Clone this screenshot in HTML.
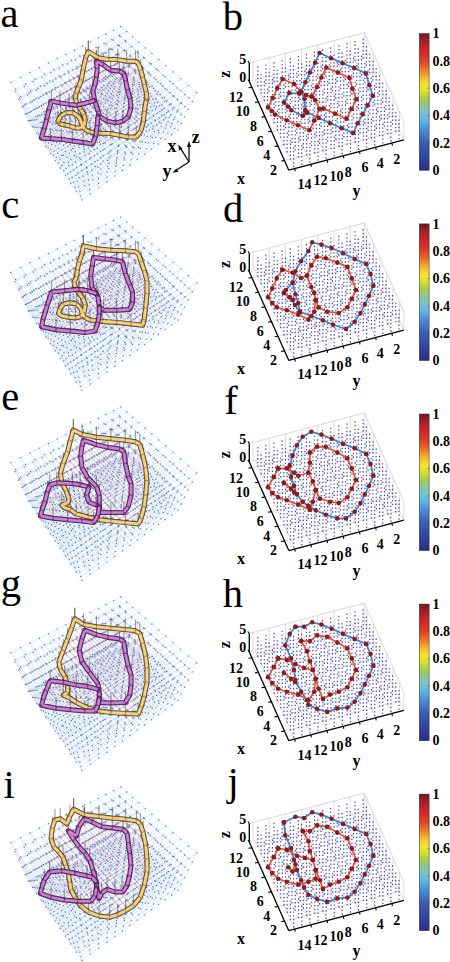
<!DOCTYPE html><html><head><meta charset="utf-8"><style>html,body{margin:0;padding:0;background:#fff;width:450px;height:962px;overflow:hidden}svg{display:block}</style></head><body><svg width="450" height="962" viewBox="0 0 450 962"><defs><linearGradient id="jet" x1="0" y1="1" x2="0" y2="0"><stop offset="0" stop-color="#2b2e84"/><stop offset="0.1" stop-color="#3244a0"/><stop offset="0.2" stop-color="#3a5cb2"/><stop offset="0.3" stop-color="#4c8ed6"/><stop offset="0.36" stop-color="#5cb4e4"/><stop offset="0.42" stop-color="#7cc4cc"/><stop offset="0.47" stop-color="#8cc598"/><stop offset="0.52" stop-color="#a6cb4c"/><stop offset="0.57" stop-color="#d6de30"/><stop offset="0.62" stop-color="#f2e62c"/><stop offset="0.67" stop-color="#f5c030"/><stop offset="0.72" stop-color="#ee8a2a"/><stop offset="0.77" stop-color="#e2582a"/><stop offset="0.82" stop-color="#d83a26"/><stop offset="0.88" stop-color="#d02428"/><stop offset="0.94" stop-color="#a81e26"/><stop offset="1" stop-color="#6e1a1e"/></linearGradient></defs><text x="0.6" y="26.6" font-family="Liberation Serif" font-size="40.5">a</text><text x="222.8" y="29.6" font-family="Liberation Serif" font-size="40.5">b</text><text x="1.2" y="218.4" font-family="Liberation Serif" font-size="40.5">c</text><text x="223" y="222" font-family="Liberation Serif" font-size="40.5">d</text><text x="1.2" y="409.6" font-family="Liberation Serif" font-size="40.5">e</text><text x="224.2" y="414.4" font-family="Liberation Serif" font-size="40.5">f</text><text x="0.8" y="596.8" font-family="Liberation Serif" font-size="40.5">g</text><text x="222.8" y="606.8" font-family="Liberation Serif" font-size="40.5">h</text><text x="3.4" y="797.5" font-family="Liberation Serif" font-size="40.5">i</text><text x="227.4" y="794.8" font-family="Liberation Serif" font-size="40.5">j</text><g stroke="#111" stroke-width="1.3" fill="#111"><line x1="189" y1="162" x2="189" y2="145"/><path d="M189 141 L186.9 147 L191.1 147Z" stroke="none"/><line x1="189" y1="162" x2="180.3" y2="147.8"/><path d="M178.3 144.5 L178.9 150.8 L182.4 148.6Z" stroke="none"/><line x1="189" y1="162" x2="176" y2="170.3"/><path d="M172.5 172.5 L178.6 172 L176.4 168.5Z" stroke="none"/></g><text x="195.8" y="143" font-family="Liberation Serif" font-weight="bold" font-size="18" text-anchor="middle">z</text><text x="172" y="151.5" font-family="Liberation Serif" font-weight="bold" font-size="18" text-anchor="middle">x</text><text x="167" y="176.5" font-family="Liberation Serif" font-weight="bold" font-size="18" text-anchor="middle">y</text><g><line x1="399.57" y1="130.28" x2="284.55" y2="160.66" stroke="#d4d4d4" stroke-width="0.8"/><line x1="393.04" y1="115.62" x2="278.02" y2="146" stroke="#d4d4d4" stroke-width="0.8"/><line x1="386.52" y1="100.96" x2="271.5" y2="131.34" stroke="#d4d4d4" stroke-width="0.8"/><line x1="379.99" y1="86.3" x2="264.97" y2="116.68" stroke="#d4d4d4" stroke-width="0.8"/><line x1="373.46" y1="71.64" x2="258.44" y2="102.02" stroke="#d4d4d4" stroke-width="0.8"/><line x1="366.93" y1="56.98" x2="251.91" y2="87.36" stroke="#d4d4d4" stroke-width="0.8"/><line x1="391.91" y1="142.95" x2="352.41" y2="54.26" stroke="#d4d4d4" stroke-width="0.8"/><line x1="375.71" y1="147.23" x2="336.21" y2="58.54" stroke="#d4d4d4" stroke-width="0.8"/><line x1="359.51" y1="151.51" x2="320.01" y2="62.82" stroke="#d4d4d4" stroke-width="0.8"/><line x1="343.31" y1="155.79" x2="303.81" y2="67.1" stroke="#d4d4d4" stroke-width="0.8"/><line x1="327.11" y1="160.07" x2="287.61" y2="71.38" stroke="#d4d4d4" stroke-width="0.8"/><line x1="310.91" y1="164.35" x2="271.41" y2="75.66" stroke="#d4d4d4" stroke-width="0.8"/><line x1="294.71" y1="168.63" x2="255.21" y2="79.94" stroke="#d4d4d4" stroke-width="0.8"/><line x1="350.21" y1="54.26" x2="350.21" y2="35.76" stroke="#d4d4d4" stroke-width="0.8"/><line x1="334.01" y1="58.54" x2="334.01" y2="40.04" stroke="#d4d4d4" stroke-width="0.8"/><line x1="317.81" y1="62.82" x2="317.81" y2="44.32" stroke="#d4d4d4" stroke-width="0.8"/><line x1="301.61" y1="67.1" x2="301.61" y2="48.6" stroke="#d4d4d4" stroke-width="0.8"/><line x1="285.41" y1="71.38" x2="285.41" y2="52.88" stroke="#d4d4d4" stroke-width="0.8"/><line x1="269.21" y1="75.66" x2="269.21" y2="57.16" stroke="#d4d4d4" stroke-width="0.8"/><line x1="253.01" y1="79.94" x2="253.01" y2="61.44" stroke="#d4d4d4" stroke-width="0.8"/><line x1="399.57" y1="130.28" x2="399.57" y2="111.78" stroke="#d4d4d4" stroke-width="0.8"/><line x1="393.04" y1="115.62" x2="393.04" y2="97.12" stroke="#d4d4d4" stroke-width="0.8"/><line x1="386.52" y1="100.96" x2="386.52" y2="82.46" stroke="#d4d4d4" stroke-width="0.8"/><line x1="379.99" y1="86.3" x2="379.99" y2="67.8" stroke="#d4d4d4" stroke-width="0.8"/><line x1="373.46" y1="71.64" x2="373.46" y2="53.14" stroke="#d4d4d4" stroke-width="0.8"/><line x1="366.93" y1="56.98" x2="366.93" y2="38.48" stroke="#d4d4d4" stroke-width="0.8"/><line x1="249.3" y1="63" x2="364.32" y2="32.61" stroke="#d4d4d4" stroke-width="0.9"/><line x1="364.32" y1="32.61" x2="403.81" y2="121.31" stroke="#d4d4d4" stroke-width="0.9"/><line x1="249.3" y1="81.5" x2="364.32" y2="51.11" stroke="#d4d4d4" stroke-width="0.8"/><line x1="364.32" y1="51.11" x2="403.81" y2="139.81" stroke="#d4d4d4" stroke-width="0.8"/><line x1="364.32" y1="51.11" x2="364.32" y2="32.61" stroke="#d4d4d4" stroke-width="0.8"/><line x1="403.81" y1="139.81" x2="403.81" y2="121.31" stroke="#d4d4d4" stroke-width="0.8"/><path d="M398.43 138.61h1.2M398.43 134.91h1.2M398.43 131.21h1.2M398.43 127.51h1.2M398.43 123.81h1.2M398.43 120.11h1.2M390.33 140.75h1.2M390.33 137.05h1.2M390.33 133.35h1.2M390.33 129.65h1.2M390.33 125.95h1.2M390.33 122.25h1.2M382.23 142.89h1.2M382.23 139.19h1.2M382.23 135.49h1.2M382.23 131.79h1.2M382.23 128.09h1.2M382.23 124.39h1.2M374.13 145.03h1.2M374.13 141.33h1.2M374.13 137.63h1.2M374.13 133.93h1.2M374.13 130.23h1.2M374.13 126.53h1.2M366.03 147.17h1.2M366.03 143.47h1.2M366.03 139.77h1.2M366.03 136.07h1.2M366.03 132.37h1.2M366.03 128.67h1.2M357.93 149.31h1.2M357.93 145.61h1.2M357.93 141.91h1.2M357.93 138.21h1.2M357.93 134.51h1.2M357.93 130.81h1.2M349.83 151.45h1.2M349.83 147.75h1.2M349.83 144.05h1.2M349.83 140.35h1.2M349.83 136.65h1.2M349.83 132.95h1.2M341.73 153.59h1.2M341.73 149.89h1.2M341.73 146.19h1.2M341.73 142.49h1.2M341.73 138.79h1.2M341.73 135.09h1.2M333.63 155.73h1.2M333.63 152.03h1.2M333.63 148.33h1.2M333.63 144.63h1.2M333.63 140.93h1.2M333.63 137.23h1.2M325.53 157.87h1.2M325.53 154.17h1.2M325.53 150.47h1.2M325.53 146.77h1.2M325.53 143.07h1.2M325.53 139.37h1.2M317.43 160.01h1.2M317.43 156.31h1.2M317.43 152.61h1.2M317.43 148.91h1.2M317.43 145.21h1.2M317.43 141.51h1.2M309.33 162.15h1.2M309.33 158.45h1.2M309.33 154.75h1.2M309.33 151.05h1.2M309.33 147.35h1.2M309.33 143.65h1.2M301.23 164.29h1.2M301.23 160.59h1.2M301.23 156.89h1.2M301.23 153.19h1.2M301.23 149.49h1.2M301.23 145.79h1.2M293.13 166.43h1.2M293.13 162.73h1.2M293.13 159.03h1.2M293.13 155.33h1.2M293.13 151.63h1.2M293.13 147.93h1.2M395.16 131.28h1.2M395.16 127.58h1.2M395.16 123.88h1.2M395.16 120.18h1.2M395.16 116.48h1.2M395.16 112.78h1.2M387.06 133.42h1.2M387.06 129.72h1.2M387.06 126.02h1.2M387.06 122.32h1.2M387.06 118.62h1.2M387.06 114.92h1.2M378.96 135.56h1.2M378.96 131.86h1.2M378.96 128.16h1.2M378.96 124.46h1.2M378.96 120.76h1.2M378.96 117.06h1.2M370.86 137.7h1.2M370.86 134h1.2M370.86 130.3h1.2M370.86 126.6h1.2M370.86 122.9h1.2M370.86 119.2h1.2M362.76 139.84h1.2M362.76 136.14h1.2M362.76 132.44h1.2M362.76 128.74h1.2M362.76 125.04h1.2M362.76 121.34h1.2M354.66 141.98h1.2M354.66 138.28h1.2M354.66 134.58h1.2M354.66 130.88h1.2M354.66 127.18h1.2M354.66 123.48h1.2M346.56 144.12h1.2M346.56 140.42h1.2M346.56 136.72h1.2M346.56 133.02h1.2M346.56 129.32h1.2M346.56 125.62h1.2M338.46 146.26h1.2M338.46 142.56h1.2M338.46 138.86h1.2M338.46 135.16h1.2M338.46 131.46h1.2M338.46 127.76h1.2M330.36 148.4h1.2M330.36 144.7h1.2M330.36 141h1.2M330.36 137.3h1.2M330.36 133.6h1.2M330.36 129.9h1.2M322.26 150.54h1.2M322.26 146.84h1.2M322.26 143.14h1.2M322.26 139.44h1.2M322.26 135.74h1.2M322.26 132.04h1.2M314.16 152.68h1.2M314.16 148.98h1.2M314.16 145.28h1.2M314.16 141.58h1.2M314.16 137.88h1.2M314.16 134.18h1.2M306.06 154.82h1.2M306.06 151.12h1.2M306.06 147.42h1.2M306.06 143.72h1.2M306.06 140.02h1.2M306.06 136.32h1.2M297.96 156.96h1.2M297.96 153.26h1.2M297.96 149.56h1.2M297.96 145.86h1.2M297.96 142.16h1.2M297.96 138.46h1.2M289.86 159.1h1.2M289.86 155.4h1.2M289.86 151.7h1.2M289.86 148h1.2M289.86 144.3h1.2M289.86 140.6h1.2M391.9 123.95h1.2M391.9 120.25h1.2M391.9 116.55h1.2M391.9 112.85h1.2M391.9 109.15h1.2M391.9 105.45h1.2M383.8 126.09h1.2M383.8 122.39h1.2M383.8 118.69h1.2M383.8 114.99h1.2M383.8 111.29h1.2M383.8 107.59h1.2M375.7 128.23h1.2M375.7 124.53h1.2M375.7 120.83h1.2M375.7 117.13h1.2M375.7 113.43h1.2M375.7 109.73h1.2M367.6 130.37h1.2M367.6 126.67h1.2M367.6 122.97h1.2M367.6 119.27h1.2M367.6 115.57h1.2M367.6 111.87h1.2M359.5 132.51h1.2M359.5 128.81h1.2M359.5 125.11h1.2M359.5 121.41h1.2M359.5 117.71h1.2M359.5 114.01h1.2M351.4 134.65h1.2M351.4 130.95h1.2M351.4 127.25h1.2M351.4 123.55h1.2M351.4 119.85h1.2M351.4 116.15h1.2M343.3 136.79h1.2M343.3 133.09h1.2M343.3 129.39h1.2M343.3 125.69h1.2M343.3 121.99h1.2M343.3 118.29h1.2M335.2 138.93h1.2M335.2 135.23h1.2M335.2 131.53h1.2M335.2 127.83h1.2M335.2 124.13h1.2M335.2 120.43h1.2M327.1 141.07h1.2M327.1 137.37h1.2M327.1 133.67h1.2M327.1 129.97h1.2M327.1 126.27h1.2M327.1 122.57h1.2M319 143.21h1.2M319 139.51h1.2M319 135.81h1.2M319 132.11h1.2M319 128.41h1.2M319 124.71h1.2M310.9 145.35h1.2M310.9 141.65h1.2M310.9 137.95h1.2M310.9 134.25h1.2M310.9 130.55h1.2M310.9 126.85h1.2M302.8 147.49h1.2M302.8 143.79h1.2M302.8 140.09h1.2M302.8 136.39h1.2M302.8 132.69h1.2M302.8 128.99h1.2M294.7 149.63h1.2M294.7 145.93h1.2M294.7 142.23h1.2M294.7 138.53h1.2M294.7 134.83h1.2M294.7 131.13h1.2M286.6 151.77h1.2M286.6 148.07h1.2M286.6 144.37h1.2M286.6 140.67h1.2M286.6 136.97h1.2M286.6 133.27h1.2M388.64 116.62h1.2M388.64 112.92h1.2M388.64 109.22h1.2M388.64 105.52h1.2M388.64 101.82h1.2M388.64 98.12h1.2M380.54 118.76h1.2M380.54 115.06h1.2M380.54 111.36h1.2M380.54 107.66h1.2M380.54 103.96h1.2M380.54 100.26h1.2M372.44 120.9h1.2M372.44 117.2h1.2M372.44 113.5h1.2M372.44 109.8h1.2M372.44 106.1h1.2M372.44 102.4h1.2M364.34 123.04h1.2M364.34 119.34h1.2M364.34 115.64h1.2M364.34 111.94h1.2M364.34 108.24h1.2M364.34 104.54h1.2M356.24 125.18h1.2M356.24 121.48h1.2M356.24 117.78h1.2M356.24 114.08h1.2M356.24 110.38h1.2M356.24 106.68h1.2M348.14 127.32h1.2M348.14 123.62h1.2M348.14 119.92h1.2M348.14 116.22h1.2M348.14 112.52h1.2M348.14 108.82h1.2M340.04 129.46h1.2M340.04 125.76h1.2M340.04 122.06h1.2M340.04 118.36h1.2M340.04 114.66h1.2M340.04 110.96h1.2M331.94 131.6h1.2M331.94 127.9h1.2M331.94 124.2h1.2M331.94 120.5h1.2M331.94 116.8h1.2M331.94 113.1h1.2M323.84 133.74h1.2M323.84 130.04h1.2M323.84 126.34h1.2M323.84 122.64h1.2M323.84 118.94h1.2M323.84 115.24h1.2M315.74 135.88h1.2M315.74 132.18h1.2M315.74 128.48h1.2M315.74 124.78h1.2M315.74 121.08h1.2M315.74 117.38h1.2M307.64 138.02h1.2M307.64 134.32h1.2M307.64 130.62h1.2M307.64 126.92h1.2M307.64 123.22h1.2M307.64 119.52h1.2M299.54 140.16h1.2M299.54 136.46h1.2M299.54 132.76h1.2M299.54 129.06h1.2M299.54 125.36h1.2M299.54 121.66h1.2M291.44 142.3h1.2M291.44 138.6h1.2M291.44 134.9h1.2M291.44 131.2h1.2M291.44 127.5h1.2M291.44 123.8h1.2M283.34 144.44h1.2M283.34 140.74h1.2M283.34 137.04h1.2M283.34 133.34h1.2M283.34 129.64h1.2M283.34 125.94h1.2M385.37 109.29h1.2M385.37 105.59h1.2M385.37 101.89h1.2M385.37 98.19h1.2M385.37 94.49h1.2M385.37 90.79h1.2M377.27 111.43h1.2M377.27 107.73h1.2M377.27 104.03h1.2M377.27 100.33h1.2M377.27 96.63h1.2M377.27 92.93h1.2M369.17 113.57h1.2M369.17 109.87h1.2M369.17 106.17h1.2M369.17 102.47h1.2M369.17 98.77h1.2M369.17 95.07h1.2M361.07 115.71h1.2M361.07 112.01h1.2M361.07 108.31h1.2M361.07 104.61h1.2M361.07 100.91h1.2M361.07 97.21h1.2M352.97 117.85h1.2M352.97 114.15h1.2M352.97 110.45h1.2M352.97 106.75h1.2M352.97 103.05h1.2M352.97 99.35h1.2M344.87 119.99h1.2M344.87 116.29h1.2M344.87 112.59h1.2M344.87 108.89h1.2M344.87 105.19h1.2M344.87 101.49h1.2M336.77 122.13h1.2M336.77 118.43h1.2M336.77 114.73h1.2M336.77 111.03h1.2M336.77 107.33h1.2M336.77 103.63h1.2M328.67 124.27h1.2M328.67 120.57h1.2M328.67 116.87h1.2M328.67 113.17h1.2M328.67 109.47h1.2M328.67 105.77h1.2M320.57 126.41h1.2M320.57 122.71h1.2M320.57 119.01h1.2M320.57 115.31h1.2M320.57 111.61h1.2M320.57 107.91h1.2M312.47 128.55h1.2M312.47 124.85h1.2M312.47 121.15h1.2M312.47 117.45h1.2M312.47 113.75h1.2M312.47 110.05h1.2M304.37 130.69h1.2M304.37 126.99h1.2M304.37 123.29h1.2M304.37 119.59h1.2M304.37 115.89h1.2M304.37 112.19h1.2M296.27 132.83h1.2M296.27 129.13h1.2M296.27 125.43h1.2M296.27 121.73h1.2M296.27 118.03h1.2M296.27 114.33h1.2M288.17 134.97h1.2M288.17 131.27h1.2M288.17 127.57h1.2M288.17 123.87h1.2M288.17 120.17h1.2M288.17 116.47h1.2M280.07 137.11h1.2M280.07 133.41h1.2M280.07 129.71h1.2M280.07 126.01h1.2M280.07 122.31h1.2M280.07 118.61h1.2M382.11 101.96h1.2M382.11 98.26h1.2M382.11 94.56h1.2M382.11 90.86h1.2M382.11 87.16h1.2M382.11 83.46h1.2M374.01 104.1h1.2M374.01 100.4h1.2M374.01 96.7h1.2M374.01 93h1.2M374.01 89.3h1.2M374.01 85.6h1.2M365.91 106.24h1.2M365.91 102.54h1.2M365.91 98.84h1.2M365.91 95.14h1.2M365.91 91.44h1.2M365.91 87.74h1.2M357.81 108.38h1.2M357.81 104.68h1.2M357.81 100.98h1.2M357.81 97.28h1.2M357.81 93.58h1.2M357.81 89.88h1.2M349.71 110.52h1.2M349.71 106.82h1.2M349.71 103.12h1.2M349.71 99.42h1.2M349.71 95.72h1.2M349.71 92.02h1.2M341.61 112.66h1.2M341.61 108.96h1.2M341.61 105.26h1.2M341.61 101.56h1.2M341.61 97.86h1.2M341.61 94.16h1.2M333.51 114.8h1.2M333.51 111.1h1.2M333.51 107.4h1.2M333.51 103.7h1.2M333.51 100h1.2M333.51 96.3h1.2M325.41 116.94h1.2M325.41 113.24h1.2M325.41 109.54h1.2M325.41 105.84h1.2M325.41 102.14h1.2M325.41 98.44h1.2M317.31 119.08h1.2M317.31 115.38h1.2M317.31 111.68h1.2M317.31 107.98h1.2M317.31 104.28h1.2M317.31 100.58h1.2M309.21 121.22h1.2M309.21 117.52h1.2M309.21 113.82h1.2M309.21 110.12h1.2M309.21 106.42h1.2M309.21 102.72h1.2M301.11 123.36h1.2M301.11 119.66h1.2M301.11 115.96h1.2M301.11 112.26h1.2M301.11 108.56h1.2M301.11 104.86h1.2M293.01 125.5h1.2M293.01 121.8h1.2M293.01 118.1h1.2M293.01 114.4h1.2M293.01 110.7h1.2M293.01 107h1.2M284.91 127.64h1.2M284.91 123.94h1.2M284.91 120.24h1.2M284.91 116.54h1.2M284.91 112.84h1.2M284.91 109.14h1.2M276.81 129.78h1.2M276.81 126.08h1.2M276.81 122.38h1.2M276.81 118.68h1.2M276.81 114.98h1.2M276.81 111.28h1.2M378.84 94.63h1.2M378.84 90.93h1.2M378.84 87.23h1.2M378.84 83.53h1.2M378.84 79.83h1.2M378.84 76.13h1.2M370.74 96.77h1.2M370.74 93.07h1.2M370.74 89.37h1.2M370.74 85.67h1.2M370.74 81.97h1.2M370.74 78.27h1.2M362.64 98.91h1.2M362.64 95.21h1.2M362.64 91.51h1.2M362.64 87.81h1.2M362.64 84.11h1.2M362.64 80.41h1.2M354.54 101.05h1.2M354.54 97.35h1.2M354.54 93.65h1.2M354.54 89.95h1.2M354.54 86.25h1.2M354.54 82.55h1.2M346.44 103.19h1.2M346.44 99.49h1.2M346.44 95.79h1.2M346.44 92.09h1.2M346.44 88.39h1.2M346.44 84.69h1.2M338.34 105.33h1.2M338.34 101.63h1.2M338.34 97.93h1.2M338.34 94.23h1.2M338.34 90.53h1.2M338.34 86.83h1.2M330.24 107.47h1.2M330.24 103.77h1.2M330.24 100.07h1.2M330.24 96.37h1.2M330.24 92.67h1.2M330.24 88.97h1.2M322.14 109.61h1.2M322.14 105.91h1.2M322.14 102.21h1.2M322.14 98.51h1.2M322.14 94.81h1.2M322.14 91.11h1.2M314.04 111.75h1.2M314.04 108.05h1.2M314.04 104.35h1.2M314.04 100.65h1.2M314.04 96.95h1.2M314.04 93.25h1.2M305.94 113.89h1.2M305.94 110.19h1.2M305.94 106.49h1.2M305.94 102.79h1.2M305.94 99.09h1.2M305.94 95.39h1.2M297.84 116.03h1.2M297.84 112.33h1.2M297.84 108.63h1.2M297.84 104.93h1.2M297.84 101.23h1.2M297.84 97.53h1.2M289.74 118.17h1.2M289.74 114.47h1.2M289.74 110.77h1.2M289.74 107.07h1.2M289.74 103.37h1.2M289.74 99.67h1.2M281.64 120.31h1.2M281.64 116.61h1.2M281.64 112.91h1.2M281.64 109.21h1.2M281.64 105.51h1.2M281.64 101.81h1.2M273.54 122.45h1.2M273.54 118.75h1.2M273.54 115.05h1.2M273.54 111.35h1.2M273.54 107.65h1.2M273.54 103.95h1.2M375.58 87.3h1.2M375.58 83.6h1.2M375.58 79.9h1.2M375.58 76.2h1.2M375.58 72.5h1.2M375.58 68.8h1.2M367.48 89.44h1.2M367.48 85.74h1.2M367.48 82.04h1.2M367.48 78.34h1.2M367.48 74.64h1.2M367.48 70.94h1.2M359.38 91.58h1.2M359.38 87.88h1.2M359.38 84.18h1.2M359.38 80.48h1.2M359.38 76.78h1.2M359.38 73.08h1.2M351.28 93.72h1.2M351.28 90.02h1.2M351.28 86.32h1.2M351.28 82.62h1.2M351.28 78.92h1.2M351.28 75.22h1.2M343.18 95.86h1.2M343.18 92.16h1.2M343.18 88.46h1.2M343.18 84.76h1.2M343.18 81.06h1.2M343.18 77.36h1.2M335.08 98h1.2M335.08 94.3h1.2M335.08 90.6h1.2M335.08 86.9h1.2M335.08 83.2h1.2M335.08 79.5h1.2M326.98 100.14h1.2M326.98 96.44h1.2M326.98 92.74h1.2M326.98 89.04h1.2M326.98 85.34h1.2M326.98 81.64h1.2M318.88 102.28h1.2M318.88 98.58h1.2M318.88 94.88h1.2M318.88 91.18h1.2M318.88 87.48h1.2M318.88 83.78h1.2M310.78 104.42h1.2M310.78 100.72h1.2M310.78 97.02h1.2M310.78 93.32h1.2M310.78 89.62h1.2M310.78 85.92h1.2M302.68 106.56h1.2M302.68 102.86h1.2M302.68 99.16h1.2M302.68 95.46h1.2M302.68 91.76h1.2M302.68 88.06h1.2M294.58 108.7h1.2M294.58 105h1.2M294.58 101.3h1.2M294.58 97.6h1.2M294.58 93.9h1.2M294.58 90.2h1.2M286.48 110.84h1.2M286.48 107.14h1.2M286.48 103.44h1.2M286.48 99.74h1.2M286.48 96.04h1.2M286.48 92.34h1.2M278.38 112.98h1.2M278.38 109.28h1.2M278.38 105.58h1.2M278.38 101.88h1.2M278.38 98.18h1.2M278.38 94.48h1.2M270.28 115.12h1.2M270.28 111.42h1.2M270.28 107.72h1.2M270.28 104.02h1.2M270.28 100.32h1.2M270.28 96.62h1.2M372.32 79.97h1.2M372.32 76.27h1.2M372.32 72.57h1.2M372.32 68.87h1.2M372.32 65.17h1.2M372.32 61.47h1.2M364.22 82.11h1.2M364.22 78.41h1.2M364.22 74.71h1.2M364.22 71.01h1.2M364.22 67.31h1.2M364.22 63.61h1.2M356.12 84.25h1.2M356.12 80.55h1.2M356.12 76.85h1.2M356.12 73.15h1.2M356.12 69.45h1.2M356.12 65.75h1.2M348.02 86.39h1.2M348.02 82.69h1.2M348.02 78.99h1.2M348.02 75.29h1.2M348.02 71.59h1.2M348.02 67.89h1.2M339.92 88.53h1.2M339.92 84.83h1.2M339.92 81.13h1.2M339.92 77.43h1.2M339.92 73.73h1.2M339.92 70.03h1.2M331.82 90.67h1.2M331.82 86.97h1.2M331.82 83.27h1.2M331.82 79.57h1.2M331.82 75.87h1.2M331.82 72.17h1.2M323.72 92.81h1.2M323.72 89.11h1.2M323.72 85.41h1.2M323.72 81.71h1.2M323.72 78.01h1.2M323.72 74.31h1.2M315.62 94.95h1.2M315.62 91.25h1.2M315.62 87.55h1.2M315.62 83.85h1.2M315.62 80.15h1.2M315.62 76.45h1.2M307.52 97.09h1.2M307.52 93.39h1.2M307.52 89.69h1.2M307.52 85.99h1.2M307.52 82.29h1.2M307.52 78.59h1.2M299.42 99.23h1.2M299.42 95.53h1.2M299.42 91.83h1.2M299.42 88.13h1.2M299.42 84.43h1.2M299.42 80.73h1.2M291.32 101.37h1.2M291.32 97.67h1.2M291.32 93.97h1.2M291.32 90.27h1.2M291.32 86.57h1.2M291.32 82.87h1.2M283.22 103.51h1.2M283.22 99.81h1.2M283.22 96.11h1.2M283.22 92.41h1.2M283.22 88.71h1.2M283.22 85.01h1.2M275.12 105.65h1.2M275.12 101.95h1.2M275.12 98.25h1.2M275.12 94.55h1.2M275.12 90.85h1.2M275.12 87.15h1.2M267.02 107.79h1.2M267.02 104.09h1.2M267.02 100.39h1.2M267.02 96.69h1.2M267.02 92.99h1.2M267.02 89.29h1.2M369.05 72.64h1.2M369.05 68.94h1.2M369.05 65.24h1.2M369.05 61.54h1.2M369.05 57.84h1.2M369.05 54.14h1.2M360.95 74.78h1.2M360.95 71.08h1.2M360.95 67.38h1.2M360.95 63.68h1.2M360.95 59.98h1.2M360.95 56.28h1.2M352.85 76.92h1.2M352.85 73.22h1.2M352.85 69.52h1.2M352.85 65.82h1.2M352.85 62.12h1.2M352.85 58.42h1.2M344.75 79.06h1.2M344.75 75.36h1.2M344.75 71.66h1.2M344.75 67.96h1.2M344.75 64.26h1.2M344.75 60.56h1.2M336.65 81.2h1.2M336.65 77.5h1.2M336.65 73.8h1.2M336.65 70.1h1.2M336.65 66.4h1.2M336.65 62.7h1.2M328.55 83.34h1.2M328.55 79.64h1.2M328.55 75.94h1.2M328.55 72.24h1.2M328.55 68.54h1.2M328.55 64.84h1.2M320.45 85.48h1.2M320.45 81.78h1.2M320.45 78.08h1.2M320.45 74.38h1.2M320.45 70.68h1.2M320.45 66.98h1.2M312.35 87.62h1.2M312.35 83.92h1.2M312.35 80.22h1.2M312.35 76.52h1.2M312.35 72.82h1.2M312.35 69.12h1.2M304.25 89.76h1.2M304.25 86.06h1.2M304.25 82.36h1.2M304.25 78.66h1.2M304.25 74.96h1.2M304.25 71.26h1.2M296.15 91.9h1.2M296.15 88.2h1.2M296.15 84.5h1.2M296.15 80.8h1.2M296.15 77.1h1.2M296.15 73.4h1.2M288.05 94.04h1.2M288.05 90.34h1.2M288.05 86.64h1.2M288.05 82.94h1.2M288.05 79.24h1.2M288.05 75.54h1.2M279.95 96.18h1.2M279.95 92.48h1.2M279.95 88.78h1.2M279.95 85.08h1.2M279.95 81.38h1.2M279.95 77.68h1.2M271.85 98.32h1.2M271.85 94.62h1.2M271.85 90.92h1.2M271.85 87.22h1.2M271.85 83.52h1.2M271.85 79.82h1.2M263.75 100.46h1.2M263.75 96.76h1.2M263.75 93.06h1.2M263.75 89.36h1.2M263.75 85.66h1.2M263.75 81.96h1.2M365.79 65.31h1.2M365.79 61.61h1.2M365.79 57.91h1.2M365.79 54.21h1.2M365.79 50.51h1.2M365.79 46.81h1.2M357.69 67.45h1.2M357.69 63.75h1.2M357.69 60.05h1.2M357.69 56.35h1.2M357.69 52.65h1.2M357.69 48.95h1.2M349.59 69.59h1.2M349.59 65.89h1.2M349.59 62.19h1.2M349.59 58.49h1.2M349.59 54.79h1.2M349.59 51.09h1.2M341.49 71.73h1.2M341.49 68.03h1.2M341.49 64.33h1.2M341.49 60.63h1.2M341.49 56.93h1.2M341.49 53.23h1.2M333.39 73.87h1.2M333.39 70.17h1.2M333.39 66.47h1.2M333.39 62.77h1.2M333.39 59.07h1.2M333.39 55.37h1.2M325.29 76.01h1.2M325.29 72.31h1.2M325.29 68.61h1.2M325.29 64.91h1.2M325.29 61.21h1.2M325.29 57.51h1.2M317.19 78.15h1.2M317.19 74.45h1.2M317.19 70.75h1.2M317.19 67.05h1.2M317.19 63.35h1.2M317.19 59.65h1.2M309.09 80.29h1.2M309.09 76.59h1.2M309.09 72.89h1.2M309.09 69.19h1.2M309.09 65.49h1.2M309.09 61.79h1.2M300.99 82.43h1.2M300.99 78.73h1.2M300.99 75.03h1.2M300.99 71.33h1.2M300.99 67.63h1.2M300.99 63.93h1.2M292.89 84.57h1.2M292.89 80.87h1.2M292.89 77.17h1.2M292.89 73.47h1.2M292.89 69.77h1.2M292.89 66.07h1.2M284.79 86.71h1.2M284.79 83.01h1.2M284.79 79.31h1.2M284.79 75.61h1.2M284.79 71.91h1.2M284.79 68.21h1.2M276.69 88.85h1.2M276.69 85.15h1.2M276.69 81.45h1.2M276.69 77.75h1.2M276.69 74.05h1.2M276.69 70.35h1.2M268.59 90.99h1.2M268.59 87.29h1.2M268.59 83.59h1.2M268.59 79.89h1.2M268.59 76.19h1.2M268.59 72.49h1.2M260.49 93.13h1.2M260.49 89.43h1.2M260.49 85.73h1.2M260.49 82.03h1.2M260.49 78.33h1.2M260.49 74.63h1.2M362.52 57.98h1.2M362.52 54.28h1.2M362.52 50.58h1.2M362.52 46.88h1.2M362.52 43.18h1.2M362.52 39.48h1.2M354.42 60.12h1.2M354.42 56.42h1.2M354.42 52.72h1.2M354.42 49.02h1.2M354.42 45.32h1.2M354.42 41.62h1.2M346.32 62.26h1.2M346.32 58.56h1.2M346.32 54.86h1.2M346.32 51.16h1.2M346.32 47.46h1.2M346.32 43.76h1.2M338.22 64.4h1.2M338.22 60.7h1.2M338.22 57h1.2M338.22 53.3h1.2M338.22 49.6h1.2M338.22 45.9h1.2M330.12 66.54h1.2M330.12 62.84h1.2M330.12 59.14h1.2M330.12 55.44h1.2M330.12 51.74h1.2M330.12 48.04h1.2M322.02 68.68h1.2M322.02 64.98h1.2M322.02 61.28h1.2M322.02 57.58h1.2M322.02 53.88h1.2M322.02 50.18h1.2M313.92 70.82h1.2M313.92 67.12h1.2M313.92 63.42h1.2M313.92 59.72h1.2M313.92 56.02h1.2M313.92 52.32h1.2M305.82 72.96h1.2M305.82 69.26h1.2M305.82 65.56h1.2M305.82 61.86h1.2M305.82 58.16h1.2M305.82 54.46h1.2M297.72 75.1h1.2M297.72 71.4h1.2M297.72 67.7h1.2M297.72 64h1.2M297.72 60.3h1.2M297.72 56.6h1.2M289.62 77.24h1.2M289.62 73.54h1.2M289.62 69.84h1.2M289.62 66.14h1.2M289.62 62.44h1.2M289.62 58.74h1.2M281.52 79.38h1.2M281.52 75.68h1.2M281.52 71.98h1.2M281.52 68.28h1.2M281.52 64.58h1.2M281.52 60.88h1.2M273.42 81.52h1.2M273.42 77.82h1.2M273.42 74.12h1.2M273.42 70.42h1.2M273.42 66.72h1.2M273.42 63.02h1.2M265.32 83.66h1.2M265.32 79.96h1.2M265.32 76.26h1.2M265.32 72.56h1.2M265.32 68.86h1.2M265.32 65.16h1.2M257.22 85.8h1.2M257.22 82.1h1.2M257.22 78.4h1.2M257.22 74.7h1.2M257.22 71h1.2M257.22 67.3h1.2" stroke="#4848b2" stroke-width="1.4" fill="none"/><line x1="249.3" y1="81.5" x2="288.79" y2="170.19" stroke="#000" stroke-width="1.3"/><line x1="288.79" y1="170.19" x2="403.81" y2="139.81" stroke="#000" stroke-width="1.3"/><line x1="249.3" y1="81.5" x2="249.3" y2="63" stroke="#000" stroke-width="1.3"/><line x1="284.55" y1="160.66" x2="281.15" y2="161.06" stroke="#000" stroke-width="1.1"/><line x1="278.02" y1="146" x2="274.62" y2="146.4" stroke="#000" stroke-width="1.1"/><line x1="271.5" y1="131.34" x2="268.1" y2="131.74" stroke="#000" stroke-width="1.1"/><line x1="264.97" y1="116.68" x2="261.57" y2="117.08" stroke="#000" stroke-width="1.1"/><line x1="258.44" y1="102.02" x2="255.04" y2="102.42" stroke="#000" stroke-width="1.1"/><line x1="251.91" y1="87.36" x2="248.51" y2="87.76" stroke="#000" stroke-width="1.1"/><line x1="391.91" y1="142.95" x2="392.41" y2="145.55" stroke="#000" stroke-width="1.1"/><line x1="375.71" y1="147.23" x2="376.21" y2="149.83" stroke="#000" stroke-width="1.1"/><line x1="359.51" y1="151.51" x2="360.01" y2="154.11" stroke="#000" stroke-width="1.1"/><line x1="343.31" y1="155.79" x2="343.81" y2="158.39" stroke="#000" stroke-width="1.1"/><line x1="327.11" y1="160.07" x2="327.61" y2="162.67" stroke="#000" stroke-width="1.1"/><line x1="310.91" y1="164.35" x2="311.41" y2="166.95" stroke="#000" stroke-width="1.1"/><line x1="294.71" y1="168.63" x2="295.21" y2="171.23" stroke="#000" stroke-width="1.1"/><line x1="249.3" y1="81.5" x2="247.9" y2="79.5" stroke="#000" stroke-width="1.1"/><line x1="249.3" y1="63" x2="247.9" y2="61" stroke="#000" stroke-width="1.1"/><polyline points="302.7,115.7 307.1,112.6 318.7,117.9 330.2,123.2 341.8,128.2 353.3,133 357.8,123.2 362.6,114.3 367.6,105.4 372.9,95.7 369.3,85 365.8,73.4 354.2,68.1 342.7,63.3 331.1,58.3 319.6,53 315.1,62.8 309.8,72.6 305.3,82.3 300.7,91.7 304.5,99 305.3,110.3 307.1,112.6" fill="none" stroke="#3d7fd2" stroke-width="1.7" stroke-linejoin="round"/><polyline points="305.3,110.3 302.7,115.7 291.3,110.3 288,106.6 284,102.6 289.3,93 299,93.5" fill="none" stroke="#3d7fd2" stroke-width="1.7" stroke-linejoin="round"/><polyline points="300.7,91.7 294,84 282.7,79 277.3,88.3 272.7,98.1 268,107.4 271.7,111 275,114.6 286.7,120.3 298,125.3 309.3,130.3 314.2,120.6 319.6,109 323.6,108.6 335.2,113.8 346.6,118.8 351.6,109 356.5,99.2 352.4,88.6 349.4,77.9 337.9,72.6 326.3,67.6 321.3,77.5 316.9,87.1 311.6,96.6 315.1,100.1 319.6,109" fill="none" stroke="#e2582c" stroke-width="1.7" stroke-linejoin="round"/><polyline points="300.7,91.7 306,95 311.6,96.6" fill="none" stroke="#e2582c" stroke-width="1.7" stroke-linejoin="round"/><circle cx="302.7" cy="115.7" r="2.3" fill="#8a1c1c"/><circle cx="307.1" cy="112.6" r="2.3" fill="#8a1c1c"/><circle cx="318.7" cy="117.9" r="2.3" fill="#8a1c1c"/><circle cx="330.2" cy="123.2" r="2.3" fill="#8a1c1c"/><circle cx="341.8" cy="128.2" r="2.3" fill="#8a1c1c"/><circle cx="353.3" cy="133" r="2.3" fill="#8a1c1c"/><circle cx="357.8" cy="123.2" r="2.3" fill="#8a1c1c"/><circle cx="362.6" cy="114.3" r="2.3" fill="#8a1c1c"/><circle cx="367.6" cy="105.4" r="2.3" fill="#8a1c1c"/><circle cx="372.9" cy="95.7" r="2.3" fill="#8a1c1c"/><circle cx="369.3" cy="85" r="2.3" fill="#8a1c1c"/><circle cx="365.8" cy="73.4" r="2.3" fill="#8a1c1c"/><circle cx="354.2" cy="68.1" r="2.3" fill="#8a1c1c"/><circle cx="342.7" cy="63.3" r="2.3" fill="#8a1c1c"/><circle cx="331.1" cy="58.3" r="2.3" fill="#8a1c1c"/><circle cx="319.6" cy="53" r="2.3" fill="#8a1c1c"/><circle cx="315.1" cy="62.8" r="2.3" fill="#8a1c1c"/><circle cx="309.8" cy="72.6" r="2.3" fill="#8a1c1c"/><circle cx="305.3" cy="82.3" r="2.3" fill="#8a1c1c"/><circle cx="300.7" cy="91.7" r="2.3" fill="#8a1c1c"/><circle cx="304.5" cy="99" r="2.3" fill="#8a1c1c"/><circle cx="305.3" cy="110.3" r="2.3" fill="#8a1c1c"/><circle cx="307.1" cy="112.6" r="2.3" fill="#8a1c1c"/><circle cx="305.3" cy="110.3" r="2.3" fill="#8a1c1c"/><circle cx="302.7" cy="115.7" r="2.3" fill="#8a1c1c"/><circle cx="291.3" cy="110.3" r="2.3" fill="#8a1c1c"/><circle cx="288" cy="106.6" r="2.3" fill="#8a1c1c"/><circle cx="284" cy="102.6" r="2.3" fill="#8a1c1c"/><circle cx="289.3" cy="93" r="2.3" fill="#8a1c1c"/><circle cx="299" cy="93.5" r="2.3" fill="#8a1c1c"/><circle cx="300.7" cy="91.7" r="2.3" fill="#8a1c1c"/><circle cx="294" cy="84" r="2.3" fill="#8a1c1c"/><circle cx="282.7" cy="79" r="2.3" fill="#8a1c1c"/><circle cx="277.3" cy="88.3" r="2.3" fill="#8a1c1c"/><circle cx="272.7" cy="98.1" r="2.3" fill="#8a1c1c"/><circle cx="268" cy="107.4" r="2.3" fill="#8a1c1c"/><circle cx="271.7" cy="111" r="2.3" fill="#8a1c1c"/><circle cx="275" cy="114.6" r="2.3" fill="#8a1c1c"/><circle cx="286.7" cy="120.3" r="2.3" fill="#8a1c1c"/><circle cx="298" cy="125.3" r="2.3" fill="#8a1c1c"/><circle cx="309.3" cy="130.3" r="2.3" fill="#8a1c1c"/><circle cx="314.2" cy="120.6" r="2.3" fill="#8a1c1c"/><circle cx="319.6" cy="109" r="2.3" fill="#8a1c1c"/><circle cx="323.6" cy="108.6" r="2.3" fill="#8a1c1c"/><circle cx="335.2" cy="113.8" r="2.3" fill="#8a1c1c"/><circle cx="346.6" cy="118.8" r="2.3" fill="#8a1c1c"/><circle cx="351.6" cy="109" r="2.3" fill="#8a1c1c"/><circle cx="356.5" cy="99.2" r="2.3" fill="#8a1c1c"/><circle cx="352.4" cy="88.6" r="2.3" fill="#8a1c1c"/><circle cx="349.4" cy="77.9" r="2.3" fill="#8a1c1c"/><circle cx="337.9" cy="72.6" r="2.3" fill="#8a1c1c"/><circle cx="326.3" cy="67.6" r="2.3" fill="#8a1c1c"/><circle cx="321.3" cy="77.5" r="2.3" fill="#8a1c1c"/><circle cx="316.9" cy="87.1" r="2.3" fill="#8a1c1c"/><circle cx="311.6" cy="96.6" r="2.3" fill="#8a1c1c"/><circle cx="315.1" cy="100.1" r="2.3" fill="#8a1c1c"/><circle cx="319.6" cy="109" r="2.3" fill="#8a1c1c"/><circle cx="300.7" cy="91.7" r="2.3" fill="#8a1c1c"/><circle cx="306" cy="95" r="2.3" fill="#8a1c1c"/><circle cx="311.6" cy="96.6" r="2.3" fill="#8a1c1c"/><text x="243" y="102.1" font-family="Liberation Serif" font-weight="bold" font-size="14" text-anchor="end">12</text><text x="249.7" y="116.1" font-family="Liberation Serif" font-weight="bold" font-size="14" text-anchor="end">10</text><text x="257" y="130.8" font-family="Liberation Serif" font-weight="bold" font-size="14" text-anchor="end">8</text><text x="263.7" y="145.5" font-family="Liberation Serif" font-weight="bold" font-size="14" text-anchor="end">6</text><text x="270.3" y="160.1" font-family="Liberation Serif" font-weight="bold" font-size="14" text-anchor="end">4</text><text x="277" y="174.8" font-family="Liberation Serif" font-weight="bold" font-size="14" text-anchor="end">2</text><text x="297.5" y="189" font-family="Liberation Serif" font-weight="bold" font-size="14">14</text><text x="313.6" y="184.8" font-family="Liberation Serif" font-weight="bold" font-size="14">12</text><text x="329.4" y="180.6" font-family="Liberation Serif" font-weight="bold" font-size="14">10</text><text x="344.7" y="176.5" font-family="Liberation Serif" font-weight="bold" font-size="14">8</text><text x="361.4" y="172.3" font-family="Liberation Serif" font-weight="bold" font-size="14">6</text><text x="376.7" y="168.1" font-family="Liberation Serif" font-weight="bold" font-size="14">4</text><text x="393.3" y="164" font-family="Liberation Serif" font-weight="bold" font-size="14">2</text><text x="246.3" y="63.8" font-family="Liberation Serif" font-weight="bold" font-size="14" text-anchor="end">5</text><text x="246.3" y="81.6" font-family="Liberation Serif" font-weight="bold" font-size="14" text-anchor="end">0</text><text x="241" y="183.7" font-family="Liberation Serif" font-weight="bold" font-size="16" text-anchor="middle">x</text><text x="356.5" y="195.5" font-family="Liberation Serif" font-weight="bold" font-size="16" text-anchor="middle">y</text><text transform="translate(229.6 74.2) rotate(-90)" font-family="Liberation Serif" font-weight="bold" font-size="16" text-anchor="middle">z</text><rect x="419.3" y="33.6" width="9.8" height="136.6" fill="url(#jet)" stroke="#222" stroke-width="0.5"/><text x="432.6" y="174.9" font-family="Liberation Serif" font-weight="bold" font-size="14">0</text><text x="432.6" y="147.58" font-family="Liberation Serif" font-weight="bold" font-size="14">0.2</text><line x1="427.8" y1="142.88" x2="429.1" y2="142.88" stroke="#333" stroke-width="0.6"/><text x="432.6" y="120.26" font-family="Liberation Serif" font-weight="bold" font-size="14">0.4</text><line x1="427.8" y1="115.56" x2="429.1" y2="115.56" stroke="#333" stroke-width="0.6"/><text x="432.6" y="92.94" font-family="Liberation Serif" font-weight="bold" font-size="14">0.6</text><line x1="427.8" y1="88.24" x2="429.1" y2="88.24" stroke="#333" stroke-width="0.6"/><text x="432.6" y="65.62" font-family="Liberation Serif" font-weight="bold" font-size="14">0.8</text><line x1="427.8" y1="60.92" x2="429.1" y2="60.92" stroke="#333" stroke-width="0.6"/><text x="432.6" y="38.3" font-family="Liberation Serif" font-weight="bold" font-size="14">1</text></g><g><line x1="399.57" y1="320.58" x2="284.55" y2="350.96" stroke="#d4d4d4" stroke-width="0.8"/><line x1="393.04" y1="305.92" x2="278.02" y2="336.3" stroke="#d4d4d4" stroke-width="0.8"/><line x1="386.52" y1="291.26" x2="271.5" y2="321.64" stroke="#d4d4d4" stroke-width="0.8"/><line x1="379.99" y1="276.6" x2="264.97" y2="306.98" stroke="#d4d4d4" stroke-width="0.8"/><line x1="373.46" y1="261.94" x2="258.44" y2="292.32" stroke="#d4d4d4" stroke-width="0.8"/><line x1="366.93" y1="247.28" x2="251.91" y2="277.66" stroke="#d4d4d4" stroke-width="0.8"/><line x1="391.91" y1="333.25" x2="352.41" y2="244.56" stroke="#d4d4d4" stroke-width="0.8"/><line x1="375.71" y1="337.53" x2="336.21" y2="248.84" stroke="#d4d4d4" stroke-width="0.8"/><line x1="359.51" y1="341.81" x2="320.01" y2="253.12" stroke="#d4d4d4" stroke-width="0.8"/><line x1="343.31" y1="346.09" x2="303.81" y2="257.4" stroke="#d4d4d4" stroke-width="0.8"/><line x1="327.11" y1="350.37" x2="287.61" y2="261.68" stroke="#d4d4d4" stroke-width="0.8"/><line x1="310.91" y1="354.65" x2="271.41" y2="265.96" stroke="#d4d4d4" stroke-width="0.8"/><line x1="294.71" y1="358.93" x2="255.21" y2="270.24" stroke="#d4d4d4" stroke-width="0.8"/><line x1="350.21" y1="244.56" x2="350.21" y2="226.06" stroke="#d4d4d4" stroke-width="0.8"/><line x1="334.01" y1="248.84" x2="334.01" y2="230.34" stroke="#d4d4d4" stroke-width="0.8"/><line x1="317.81" y1="253.12" x2="317.81" y2="234.62" stroke="#d4d4d4" stroke-width="0.8"/><line x1="301.61" y1="257.4" x2="301.61" y2="238.9" stroke="#d4d4d4" stroke-width="0.8"/><line x1="285.41" y1="261.68" x2="285.41" y2="243.18" stroke="#d4d4d4" stroke-width="0.8"/><line x1="269.21" y1="265.96" x2="269.21" y2="247.46" stroke="#d4d4d4" stroke-width="0.8"/><line x1="253.01" y1="270.24" x2="253.01" y2="251.74" stroke="#d4d4d4" stroke-width="0.8"/><line x1="399.57" y1="320.58" x2="399.57" y2="302.08" stroke="#d4d4d4" stroke-width="0.8"/><line x1="393.04" y1="305.92" x2="393.04" y2="287.42" stroke="#d4d4d4" stroke-width="0.8"/><line x1="386.52" y1="291.26" x2="386.52" y2="272.76" stroke="#d4d4d4" stroke-width="0.8"/><line x1="379.99" y1="276.6" x2="379.99" y2="258.1" stroke="#d4d4d4" stroke-width="0.8"/><line x1="373.46" y1="261.94" x2="373.46" y2="243.44" stroke="#d4d4d4" stroke-width="0.8"/><line x1="366.93" y1="247.28" x2="366.93" y2="228.78" stroke="#d4d4d4" stroke-width="0.8"/><line x1="249.3" y1="253.3" x2="364.32" y2="222.91" stroke="#d4d4d4" stroke-width="0.9"/><line x1="364.32" y1="222.91" x2="403.81" y2="311.61" stroke="#d4d4d4" stroke-width="0.9"/><line x1="249.3" y1="271.8" x2="364.32" y2="241.41" stroke="#d4d4d4" stroke-width="0.8"/><line x1="364.32" y1="241.41" x2="403.81" y2="330.11" stroke="#d4d4d4" stroke-width="0.8"/><line x1="364.32" y1="241.41" x2="364.32" y2="222.91" stroke="#d4d4d4" stroke-width="0.8"/><line x1="403.81" y1="330.11" x2="403.81" y2="311.61" stroke="#d4d4d4" stroke-width="0.8"/><path d="M398.43 328.91h1.2M398.43 325.21h1.2M398.43 321.51h1.2M398.43 317.81h1.2M398.43 314.11h1.2M398.43 310.41h1.2M390.33 331.05h1.2M390.33 327.35h1.2M390.33 323.65h1.2M390.33 319.95h1.2M390.33 316.25h1.2M390.33 312.55h1.2M382.23 333.19h1.2M382.23 329.49h1.2M382.23 325.79h1.2M382.23 322.09h1.2M382.23 318.39h1.2M382.23 314.69h1.2M374.13 335.33h1.2M374.13 331.63h1.2M374.13 327.93h1.2M374.13 324.23h1.2M374.13 320.53h1.2M374.13 316.83h1.2M366.03 337.47h1.2M366.03 333.77h1.2M366.03 330.07h1.2M366.03 326.37h1.2M366.03 322.67h1.2M366.03 318.97h1.2M357.93 339.61h1.2M357.93 335.91h1.2M357.93 332.21h1.2M357.93 328.51h1.2M357.93 324.81h1.2M357.93 321.11h1.2M349.83 341.75h1.2M349.83 338.05h1.2M349.83 334.35h1.2M349.83 330.65h1.2M349.83 326.95h1.2M349.83 323.25h1.2M341.73 343.89h1.2M341.73 340.19h1.2M341.73 336.49h1.2M341.73 332.79h1.2M341.73 329.09h1.2M341.73 325.39h1.2M333.63 346.03h1.2M333.63 342.33h1.2M333.63 338.63h1.2M333.63 334.93h1.2M333.63 331.23h1.2M333.63 327.53h1.2M325.53 348.17h1.2M325.53 344.47h1.2M325.53 340.77h1.2M325.53 337.07h1.2M325.53 333.37h1.2M325.53 329.67h1.2M317.43 350.31h1.2M317.43 346.61h1.2M317.43 342.91h1.2M317.43 339.21h1.2M317.43 335.51h1.2M317.43 331.81h1.2M309.33 352.45h1.2M309.33 348.75h1.2M309.33 345.05h1.2M309.33 341.35h1.2M309.33 337.65h1.2M309.33 333.95h1.2M301.23 354.59h1.2M301.23 350.89h1.2M301.23 347.19h1.2M301.23 343.49h1.2M301.23 339.79h1.2M301.23 336.09h1.2M293.13 356.73h1.2M293.13 353.03h1.2M293.13 349.33h1.2M293.13 345.63h1.2M293.13 341.93h1.2M293.13 338.23h1.2M395.16 321.58h1.2M395.16 317.88h1.2M395.16 314.18h1.2M395.16 310.48h1.2M395.16 306.78h1.2M395.16 303.08h1.2M387.06 323.72h1.2M387.06 320.02h1.2M387.06 316.32h1.2M387.06 312.62h1.2M387.06 308.92h1.2M387.06 305.22h1.2M378.96 325.86h1.2M378.96 322.16h1.2M378.96 318.46h1.2M378.96 314.76h1.2M378.96 311.06h1.2M378.96 307.36h1.2M370.86 328h1.2M370.86 324.3h1.2M370.86 320.6h1.2M370.86 316.9h1.2M370.86 313.2h1.2M370.86 309.5h1.2M362.76 330.14h1.2M362.76 326.44h1.2M362.76 322.74h1.2M362.76 319.04h1.2M362.76 315.34h1.2M362.76 311.64h1.2M354.66 332.28h1.2M354.66 328.58h1.2M354.66 324.88h1.2M354.66 321.18h1.2M354.66 317.48h1.2M354.66 313.78h1.2M346.56 334.42h1.2M346.56 330.72h1.2M346.56 327.02h1.2M346.56 323.32h1.2M346.56 319.62h1.2M346.56 315.92h1.2M338.46 336.56h1.2M338.46 332.86h1.2M338.46 329.16h1.2M338.46 325.46h1.2M338.46 321.76h1.2M338.46 318.06h1.2M330.36 338.7h1.2M330.36 335h1.2M330.36 331.3h1.2M330.36 327.6h1.2M330.36 323.9h1.2M330.36 320.2h1.2M322.26 340.84h1.2M322.26 337.14h1.2M322.26 333.44h1.2M322.26 329.74h1.2M322.26 326.04h1.2M322.26 322.34h1.2M314.16 342.98h1.2M314.16 339.28h1.2M314.16 335.58h1.2M314.16 331.88h1.2M314.16 328.18h1.2M314.16 324.48h1.2M306.06 345.12h1.2M306.06 341.42h1.2M306.06 337.72h1.2M306.06 334.02h1.2M306.06 330.32h1.2M306.06 326.62h1.2M297.96 347.26h1.2M297.96 343.56h1.2M297.96 339.86h1.2M297.96 336.16h1.2M297.96 332.46h1.2M297.96 328.76h1.2M289.86 349.4h1.2M289.86 345.7h1.2M289.86 342h1.2M289.86 338.3h1.2M289.86 334.6h1.2M289.86 330.9h1.2M391.9 314.25h1.2M391.9 310.55h1.2M391.9 306.85h1.2M391.9 303.15h1.2M391.9 299.45h1.2M391.9 295.75h1.2M383.8 316.39h1.2M383.8 312.69h1.2M383.8 308.99h1.2M383.8 305.29h1.2M383.8 301.59h1.2M383.8 297.89h1.2M375.7 318.53h1.2M375.7 314.83h1.2M375.7 311.13h1.2M375.7 307.43h1.2M375.7 303.73h1.2M375.7 300.03h1.2M367.6 320.67h1.2M367.6 316.97h1.2M367.6 313.27h1.2M367.6 309.57h1.2M367.6 305.87h1.2M367.6 302.17h1.2M359.5 322.81h1.2M359.5 319.11h1.2M359.5 315.41h1.2M359.5 311.71h1.2M359.5 308.01h1.2M359.5 304.31h1.2M351.4 324.95h1.2M351.4 321.25h1.2M351.4 317.55h1.2M351.4 313.85h1.2M351.4 310.15h1.2M351.4 306.45h1.2M343.3 327.09h1.2M343.3 323.39h1.2M343.3 319.69h1.2M343.3 315.99h1.2M343.3 312.29h1.2M343.3 308.59h1.2M335.2 329.23h1.2M335.2 325.53h1.2M335.2 321.83h1.2M335.2 318.13h1.2M335.2 314.43h1.2M335.2 310.73h1.2M327.1 331.37h1.2M327.1 327.67h1.2M327.1 323.97h1.2M327.1 320.27h1.2M327.1 316.57h1.2M327.1 312.87h1.2M319 333.51h1.2M319 329.81h1.2M319 326.11h1.2M319 322.41h1.2M319 318.71h1.2M319 315.01h1.2M310.9 335.65h1.2M310.9 331.95h1.2M310.9 328.25h1.2M310.9 324.55h1.2M310.9 320.85h1.2M310.9 317.15h1.2M302.8 337.79h1.2M302.8 334.09h1.2M302.8 330.39h1.2M302.8 326.69h1.2M302.8 322.99h1.2M302.8 319.29h1.2M294.7 339.93h1.2M294.7 336.23h1.2M294.7 332.53h1.2M294.7 328.83h1.2M294.7 325.13h1.2M294.7 321.43h1.2M286.6 342.07h1.2M286.6 338.37h1.2M286.6 334.67h1.2M286.6 330.97h1.2M286.6 327.27h1.2M286.6 323.57h1.2M388.64 306.92h1.2M388.64 303.22h1.2M388.64 299.52h1.2M388.64 295.82h1.2M388.64 292.12h1.2M388.64 288.42h1.2M380.54 309.06h1.2M380.54 305.36h1.2M380.54 301.66h1.2M380.54 297.96h1.2M380.54 294.26h1.2M380.54 290.56h1.2M372.44 311.2h1.2M372.44 307.5h1.2M372.44 303.8h1.2M372.44 300.1h1.2M372.44 296.4h1.2M372.44 292.7h1.2M364.34 313.34h1.2M364.34 309.64h1.2M364.34 305.94h1.2M364.34 302.24h1.2M364.34 298.54h1.2M364.34 294.84h1.2M356.24 315.48h1.2M356.24 311.78h1.2M356.24 308.08h1.2M356.24 304.38h1.2M356.24 300.68h1.2M356.24 296.98h1.2M348.14 317.62h1.2M348.14 313.92h1.2M348.14 310.22h1.2M348.14 306.52h1.2M348.14 302.82h1.2M348.14 299.12h1.2M340.04 319.76h1.2M340.04 316.06h1.2M340.04 312.36h1.2M340.04 308.66h1.2M340.04 304.96h1.2M340.04 301.26h1.2M331.94 321.9h1.2M331.94 318.2h1.2M331.94 314.5h1.2M331.94 310.8h1.2M331.94 307.1h1.2M331.94 303.4h1.2M323.84 324.04h1.2M323.84 320.34h1.2M323.84 316.64h1.2M323.84 312.94h1.2M323.84 309.24h1.2M323.84 305.54h1.2M315.74 326.18h1.2M315.74 322.48h1.2M315.74 318.78h1.2M315.74 315.08h1.2M315.74 311.38h1.2M315.74 307.68h1.2M307.64 328.32h1.2M307.64 324.62h1.2M307.64 320.92h1.2M307.64 317.22h1.2M307.64 313.52h1.2M307.64 309.82h1.2M299.54 330.46h1.2M299.54 326.76h1.2M299.54 323.06h1.2M299.54 319.36h1.2M299.54 315.66h1.2M299.54 311.96h1.2M291.44 332.6h1.2M291.44 328.9h1.2M291.44 325.2h1.2M291.44 321.5h1.2M291.44 317.8h1.2M291.44 314.1h1.2M283.34 334.74h1.2M283.34 331.04h1.2M283.34 327.34h1.2M283.34 323.64h1.2M283.34 319.94h1.2M283.34 316.24h1.2M385.37 299.59h1.2M385.37 295.89h1.2M385.37 292.19h1.2M385.37 288.49h1.2M385.37 284.79h1.2M385.37 281.09h1.2M377.27 301.73h1.2M377.27 298.03h1.2M377.27 294.33h1.2M377.27 290.63h1.2M377.27 286.93h1.2M377.27 283.23h1.2M369.17 303.87h1.2M369.17 300.17h1.2M369.17 296.47h1.2M369.17 292.77h1.2M369.17 289.07h1.2M369.17 285.37h1.2M361.07 306.01h1.2M361.07 302.31h1.2M361.07 298.61h1.2M361.07 294.91h1.2M361.07 291.21h1.2M361.07 287.51h1.2M352.97 308.15h1.2M352.97 304.45h1.2M352.97 300.75h1.2M352.97 297.05h1.2M352.97 293.35h1.2M352.97 289.65h1.2M344.87 310.29h1.2M344.87 306.59h1.2M344.87 302.89h1.2M344.87 299.19h1.2M344.87 295.49h1.2M344.87 291.79h1.2M336.77 312.43h1.2M336.77 308.73h1.2M336.77 305.03h1.2M336.77 301.33h1.2M336.77 297.63h1.2M336.77 293.93h1.2M328.67 314.57h1.2M328.67 310.87h1.2M328.67 307.17h1.2M328.67 303.47h1.2M328.67 299.77h1.2M328.67 296.07h1.2M320.57 316.71h1.2M320.57 313.01h1.2M320.57 309.31h1.2M320.57 305.61h1.2M320.57 301.91h1.2M320.57 298.21h1.2M312.47 318.85h1.2M312.47 315.15h1.2M312.47 311.45h1.2M312.47 307.75h1.2M312.47 304.05h1.2M312.47 300.35h1.2M304.37 320.99h1.2M304.37 317.29h1.2M304.37 313.59h1.2M304.37 309.89h1.2M304.37 306.19h1.2M304.37 302.49h1.2M296.27 323.13h1.2M296.27 319.43h1.2M296.27 315.73h1.2M296.27 312.03h1.2M296.27 308.33h1.2M296.27 304.63h1.2M288.17 325.27h1.2M288.17 321.57h1.2M288.17 317.87h1.2M288.17 314.17h1.2M288.17 310.47h1.2M288.17 306.77h1.2M280.07 327.41h1.2M280.07 323.71h1.2M280.07 320.01h1.2M280.07 316.31h1.2M280.07 312.61h1.2M280.07 308.91h1.2M382.11 292.26h1.2M382.11 288.56h1.2M382.11 284.86h1.2M382.11 281.16h1.2M382.11 277.46h1.2M382.11 273.76h1.2M374.01 294.4h1.2M374.01 290.7h1.2M374.01 287h1.2M374.01 283.3h1.2M374.01 279.6h1.2M374.01 275.9h1.2M365.91 296.54h1.2M365.91 292.84h1.2M365.91 289.14h1.2M365.91 285.44h1.2M365.91 281.74h1.2M365.91 278.04h1.2M357.81 298.68h1.2M357.81 294.98h1.2M357.81 291.28h1.2M357.81 287.58h1.2M357.81 283.88h1.2M357.81 280.18h1.2M349.71 300.82h1.2M349.71 297.12h1.2M349.71 293.42h1.2M349.71 289.72h1.2M349.71 286.02h1.2M349.71 282.32h1.2M341.61 302.96h1.2M341.61 299.26h1.2M341.61 295.56h1.2M341.61 291.86h1.2M341.61 288.16h1.2M341.61 284.46h1.2M333.51 305.1h1.2M333.51 301.4h1.2M333.51 297.7h1.2M333.51 294h1.2M333.51 290.3h1.2M333.51 286.6h1.2M325.41 307.24h1.2M325.41 303.54h1.2M325.41 299.84h1.2M325.41 296.14h1.2M325.41 292.44h1.2M325.41 288.74h1.2M317.31 309.38h1.2M317.31 305.68h1.2M317.31 301.98h1.2M317.31 298.28h1.2M317.31 294.58h1.2M317.31 290.88h1.2M309.21 311.52h1.2M309.21 307.82h1.2M309.21 304.12h1.2M309.21 300.42h1.2M309.21 296.72h1.2M309.21 293.02h1.2M301.11 313.66h1.2M301.11 309.96h1.2M301.11 306.26h1.2M301.11 302.56h1.2M301.11 298.86h1.2M301.11 295.16h1.2M293.01 315.8h1.2M293.01 312.1h1.2M293.01 308.4h1.2M293.01 304.7h1.2M293.01 301h1.2M293.01 297.3h1.2M284.91 317.94h1.2M284.91 314.24h1.2M284.91 310.54h1.2M284.91 306.84h1.2M284.91 303.14h1.2M284.91 299.44h1.2M276.81 320.08h1.2M276.81 316.38h1.2M276.81 312.68h1.2M276.81 308.98h1.2M276.81 305.28h1.2M276.81 301.58h1.2M378.84 284.93h1.2M378.84 281.23h1.2M378.84 277.53h1.2M378.84 273.83h1.2M378.84 270.13h1.2M378.84 266.43h1.2M370.74 287.07h1.2M370.74 283.37h1.2M370.74 279.67h1.2M370.74 275.97h1.2M370.74 272.27h1.2M370.74 268.57h1.2M362.64 289.21h1.2M362.64 285.51h1.2M362.64 281.81h1.2M362.64 278.11h1.2M362.64 274.41h1.2M362.64 270.71h1.2M354.54 291.35h1.2M354.54 287.65h1.2M354.54 283.95h1.2M354.54 280.25h1.2M354.54 276.55h1.2M354.54 272.85h1.2M346.44 293.49h1.2M346.44 289.79h1.2M346.44 286.09h1.2M346.44 282.39h1.2M346.44 278.69h1.2M346.44 274.99h1.2M338.34 295.63h1.2M338.34 291.93h1.2M338.34 288.23h1.2M338.34 284.53h1.2M338.34 280.83h1.2M338.34 277.13h1.2M330.24 297.77h1.2M330.24 294.07h1.2M330.24 290.37h1.2M330.24 286.67h1.2M330.24 282.97h1.2M330.24 279.27h1.2M322.14 299.91h1.2M322.14 296.21h1.2M322.14 292.51h1.2M322.14 288.81h1.2M322.14 285.11h1.2M322.14 281.41h1.2M314.04 302.05h1.2M314.04 298.35h1.2M314.04 294.65h1.2M314.04 290.95h1.2M314.04 287.25h1.2M314.04 283.55h1.2M305.94 304.19h1.2M305.94 300.49h1.2M305.94 296.79h1.2M305.94 293.09h1.2M305.94 289.39h1.2M305.94 285.69h1.2M297.84 306.33h1.2M297.84 302.63h1.2M297.84 298.93h1.2M297.84 295.23h1.2M297.84 291.53h1.2M297.84 287.83h1.2M289.74 308.47h1.2M289.74 304.77h1.2M289.74 301.07h1.2M289.74 297.37h1.2M289.74 293.67h1.2M289.74 289.97h1.2M281.64 310.61h1.2M281.64 306.91h1.2M281.64 303.21h1.2M281.64 299.51h1.2M281.64 295.81h1.2M281.64 292.11h1.2M273.54 312.75h1.2M273.54 309.05h1.2M273.54 305.35h1.2M273.54 301.65h1.2M273.54 297.95h1.2M273.54 294.25h1.2M375.58 277.6h1.2M375.58 273.9h1.2M375.58 270.2h1.2M375.58 266.5h1.2M375.58 262.8h1.2M375.58 259.1h1.2M367.48 279.74h1.2M367.48 276.04h1.2M367.48 272.34h1.2M367.48 268.64h1.2M367.48 264.94h1.2M367.48 261.24h1.2M359.38 281.88h1.2M359.38 278.18h1.2M359.38 274.48h1.2M359.38 270.78h1.2M359.38 267.08h1.2M359.38 263.38h1.2M351.28 284.02h1.2M351.28 280.32h1.2M351.28 276.62h1.2M351.28 272.92h1.2M351.28 269.22h1.2M351.28 265.52h1.2M343.18 286.16h1.2M343.18 282.46h1.2M343.18 278.76h1.2M343.18 275.06h1.2M343.18 271.36h1.2M343.18 267.66h1.2M335.08 288.3h1.2M335.08 284.6h1.2M335.08 280.9h1.2M335.08 277.2h1.2M335.08 273.5h1.2M335.08 269.8h1.2M326.98 290.44h1.2M326.98 286.74h1.2M326.98 283.04h1.2M326.98 279.34h1.2M326.98 275.64h1.2M326.98 271.94h1.2M318.88 292.58h1.2M318.88 288.88h1.2M318.88 285.18h1.2M318.88 281.48h1.2M318.88 277.78h1.2M318.88 274.08h1.2M310.78 294.72h1.2M310.78 291.02h1.2M310.78 287.32h1.2M310.78 283.62h1.2M310.78 279.92h1.2M310.78 276.22h1.2M302.68 296.86h1.2M302.68 293.16h1.2M302.68 289.46h1.2M302.68 285.76h1.2M302.68 282.06h1.2M302.68 278.36h1.2M294.58 299h1.2M294.58 295.3h1.2M294.58 291.6h1.2M294.58 287.9h1.2M294.58 284.2h1.2M294.58 280.5h1.2M286.48 301.14h1.2M286.48 297.44h1.2M286.48 293.74h1.2M286.48 290.04h1.2M286.48 286.34h1.2M286.48 282.64h1.2M278.38 303.28h1.2M278.38 299.58h1.2M278.38 295.88h1.2M278.38 292.18h1.2M278.38 288.48h1.2M278.38 284.78h1.2M270.28 305.42h1.2M270.28 301.72h1.2M270.28 298.02h1.2M270.28 294.32h1.2M270.28 290.62h1.2M270.28 286.92h1.2M372.32 270.27h1.2M372.32 266.57h1.2M372.32 262.87h1.2M372.32 259.17h1.2M372.32 255.47h1.2M372.32 251.77h1.2M364.22 272.41h1.2M364.22 268.71h1.2M364.22 265.01h1.2M364.22 261.31h1.2M364.22 257.61h1.2M364.22 253.91h1.2M356.12 274.55h1.2M356.12 270.85h1.2M356.12 267.15h1.2M356.12 263.45h1.2M356.12 259.75h1.2M356.12 256.05h1.2M348.02 276.69h1.2M348.02 272.99h1.2M348.02 269.29h1.2M348.02 265.59h1.2M348.02 261.89h1.2M348.02 258.19h1.2M339.92 278.83h1.2M339.92 275.13h1.2M339.92 271.43h1.2M339.92 267.73h1.2M339.92 264.03h1.2M339.92 260.33h1.2M331.82 280.97h1.2M331.82 277.27h1.2M331.82 273.57h1.2M331.82 269.87h1.2M331.82 266.17h1.2M331.82 262.47h1.2M323.72 283.11h1.2M323.72 279.41h1.2M323.72 275.71h1.2M323.72 272.01h1.2M323.72 268.31h1.2M323.72 264.61h1.2M315.62 285.25h1.2M315.62 281.55h1.2M315.62 277.85h1.2M315.62 274.15h1.2M315.62 270.45h1.2M315.62 266.75h1.2M307.52 287.39h1.2M307.52 283.69h1.2M307.52 279.99h1.2M307.52 276.29h1.2M307.52 272.59h1.2M307.52 268.89h1.2M299.42 289.53h1.2M299.42 285.83h1.2M299.42 282.13h1.2M299.42 278.43h1.2M299.42 274.73h1.2M299.42 271.03h1.2M291.32 291.67h1.2M291.32 287.97h1.2M291.32 284.27h1.2M291.32 280.57h1.2M291.32 276.87h1.2M291.32 273.17h1.2M283.22 293.81h1.2M283.22 290.11h1.2M283.22 286.41h1.2M283.22 282.71h1.2M283.22 279.01h1.2M283.22 275.31h1.2M275.12 295.95h1.2M275.12 292.25h1.2M275.12 288.55h1.2M275.12 284.85h1.2M275.12 281.15h1.2M275.12 277.45h1.2M267.02 298.09h1.2M267.02 294.39h1.2M267.02 290.69h1.2M267.02 286.99h1.2M267.02 283.29h1.2M267.02 279.59h1.2M369.05 262.94h1.2M369.05 259.24h1.2M369.05 255.54h1.2M369.05 251.84h1.2M369.05 248.14h1.2M369.05 244.44h1.2M360.95 265.08h1.2M360.95 261.38h1.2M360.95 257.68h1.2M360.95 253.98h1.2M360.95 250.28h1.2M360.95 246.58h1.2M352.85 267.22h1.2M352.85 263.52h1.2M352.85 259.82h1.2M352.85 256.12h1.2M352.85 252.42h1.2M352.85 248.72h1.2M344.75 269.36h1.2M344.75 265.66h1.2M344.75 261.96h1.2M344.75 258.26h1.2M344.75 254.56h1.2M344.75 250.86h1.2M336.65 271.5h1.2M336.65 267.8h1.2M336.65 264.1h1.2M336.65 260.4h1.2M336.65 256.7h1.2M336.65 253h1.2M328.55 273.64h1.2M328.55 269.94h1.2M328.55 266.24h1.2M328.55 262.54h1.2M328.55 258.84h1.2M328.55 255.14h1.2M320.45 275.78h1.2M320.45 272.08h1.2M320.45 268.38h1.2M320.45 264.68h1.2M320.45 260.98h1.2M320.45 257.28h1.2M312.35 277.92h1.2M312.35 274.22h1.2M312.35 270.52h1.2M312.35 266.82h1.2M312.35 263.12h1.2M312.35 259.42h1.2M304.25 280.06h1.2M304.25 276.36h1.2M304.25 272.66h1.2M304.25 268.96h1.2M304.25 265.26h1.2M304.25 261.56h1.2M296.15 282.2h1.2M296.15 278.5h1.2M296.15 274.8h1.2M296.15 271.1h1.2M296.15 267.4h1.2M296.15 263.7h1.2M288.05 284.34h1.2M288.05 280.64h1.2M288.05 276.94h1.2M288.05 273.24h1.2M288.05 269.54h1.2M288.05 265.84h1.2M279.95 286.48h1.2M279.95 282.78h1.2M279.95 279.08h1.2M279.95 275.38h1.2M279.95 271.68h1.2M279.95 267.98h1.2M271.85 288.62h1.2M271.85 284.92h1.2M271.85 281.22h1.2M271.85 277.52h1.2M271.85 273.82h1.2M271.85 270.12h1.2M263.75 290.76h1.2M263.75 287.06h1.2M263.75 283.36h1.2M263.75 279.66h1.2M263.75 275.96h1.2M263.75 272.26h1.2M365.79 255.61h1.2M365.79 251.91h1.2M365.79 248.21h1.2M365.79 244.51h1.2M365.79 240.81h1.2M365.79 237.11h1.2M357.69 257.75h1.2M357.69 254.05h1.2M357.69 250.35h1.2M357.69 246.65h1.2M357.69 242.95h1.2M357.69 239.25h1.2M349.59 259.89h1.2M349.59 256.19h1.2M349.59 252.49h1.2M349.59 248.79h1.2M349.59 245.09h1.2M349.59 241.39h1.2M341.49 262.03h1.2M341.49 258.33h1.2M341.49 254.63h1.2M341.49 250.93h1.2M341.49 247.23h1.2M341.49 243.53h1.2M333.39 264.17h1.2M333.39 260.47h1.2M333.39 256.77h1.2M333.39 253.07h1.2M333.39 249.37h1.2M333.39 245.67h1.2M325.29 266.31h1.2M325.29 262.61h1.2M325.29 258.91h1.2M325.29 255.21h1.2M325.29 251.51h1.2M325.29 247.81h1.2M317.19 268.45h1.2M317.19 264.75h1.2M317.19 261.05h1.2M317.19 257.35h1.2M317.19 253.65h1.2M317.19 249.95h1.2M309.09 270.59h1.2M309.09 266.89h1.2M309.09 263.19h1.2M309.09 259.49h1.2M309.09 255.79h1.2M309.09 252.09h1.2M300.99 272.73h1.2M300.99 269.03h1.2M300.99 265.33h1.2M300.99 261.63h1.2M300.99 257.93h1.2M300.99 254.23h1.2M292.89 274.87h1.2M292.89 271.17h1.2M292.89 267.47h1.2M292.89 263.77h1.2M292.89 260.07h1.2M292.89 256.37h1.2M284.79 277.01h1.2M284.79 273.31h1.2M284.79 269.61h1.2M284.79 265.91h1.2M284.79 262.21h1.2M284.79 258.51h1.2M276.69 279.15h1.2M276.69 275.45h1.2M276.69 271.75h1.2M276.69 268.05h1.2M276.69 264.35h1.2M276.69 260.65h1.2M268.59 281.29h1.2M268.59 277.59h1.2M268.59 273.89h1.2M268.59 270.19h1.2M268.59 266.49h1.2M268.59 262.79h1.2M260.49 283.43h1.2M260.49 279.73h1.2M260.49 276.03h1.2M260.49 272.33h1.2M260.49 268.63h1.2M260.49 264.93h1.2M362.52 248.28h1.2M362.52 244.58h1.2M362.52 240.88h1.2M362.52 237.18h1.2M362.52 233.48h1.2M362.52 229.78h1.2M354.42 250.42h1.2M354.42 246.72h1.2M354.42 243.02h1.2M354.42 239.32h1.2M354.42 235.62h1.2M354.42 231.92h1.2M346.32 252.56h1.2M346.32 248.86h1.2M346.32 245.16h1.2M346.32 241.46h1.2M346.32 237.76h1.2M346.32 234.06h1.2M338.22 254.7h1.2M338.22 251h1.2M338.22 247.3h1.2M338.22 243.6h1.2M338.22 239.9h1.2M338.22 236.2h1.2M330.12 256.84h1.2M330.12 253.14h1.2M330.12 249.44h1.2M330.12 245.74h1.2M330.12 242.04h1.2M330.12 238.34h1.2M322.02 258.98h1.2M322.02 255.28h1.2M322.02 251.58h1.2M322.02 247.88h1.2M322.02 244.18h1.2M322.02 240.48h1.2M313.92 261.12h1.2M313.92 257.42h1.2M313.92 253.72h1.2M313.92 250.02h1.2M313.92 246.32h1.2M313.92 242.62h1.2M305.82 263.26h1.2M305.82 259.56h1.2M305.82 255.86h1.2M305.82 252.16h1.2M305.82 248.46h1.2M305.82 244.76h1.2M297.72 265.4h1.2M297.72 261.7h1.2M297.72 258h1.2M297.72 254.3h1.2M297.72 250.6h1.2M297.72 246.9h1.2M289.62 267.54h1.2M289.62 263.84h1.2M289.62 260.14h1.2M289.62 256.44h1.2M289.62 252.74h1.2M289.62 249.04h1.2M281.52 269.68h1.2M281.52 265.98h1.2M281.52 262.28h1.2M281.52 258.58h1.2M281.52 254.88h1.2M281.52 251.18h1.2M273.42 271.82h1.2M273.42 268.12h1.2M273.42 264.42h1.2M273.42 260.72h1.2M273.42 257.02h1.2M273.42 253.32h1.2M265.32 273.96h1.2M265.32 270.26h1.2M265.32 266.56h1.2M265.32 262.86h1.2M265.32 259.16h1.2M265.32 255.46h1.2M257.22 276.1h1.2M257.22 272.4h1.2M257.22 268.7h1.2M257.22 265h1.2M257.22 261.3h1.2M257.22 257.6h1.2" stroke="#4848b2" stroke-width="1.4" fill="none"/><line x1="249.3" y1="271.8" x2="288.79" y2="360.49" stroke="#000" stroke-width="1.3"/><line x1="288.79" y1="360.49" x2="403.81" y2="330.11" stroke="#000" stroke-width="1.3"/><line x1="249.3" y1="271.8" x2="249.3" y2="253.3" stroke="#000" stroke-width="1.3"/><line x1="284.55" y1="350.96" x2="281.15" y2="351.36" stroke="#000" stroke-width="1.1"/><line x1="278.02" y1="336.3" x2="274.62" y2="336.7" stroke="#000" stroke-width="1.1"/><line x1="271.5" y1="321.64" x2="268.1" y2="322.04" stroke="#000" stroke-width="1.1"/><line x1="264.97" y1="306.98" x2="261.57" y2="307.38" stroke="#000" stroke-width="1.1"/><line x1="258.44" y1="292.32" x2="255.04" y2="292.72" stroke="#000" stroke-width="1.1"/><line x1="251.91" y1="277.66" x2="248.51" y2="278.06" stroke="#000" stroke-width="1.1"/><line x1="391.91" y1="333.25" x2="392.41" y2="335.85" stroke="#000" stroke-width="1.1"/><line x1="375.71" y1="337.53" x2="376.21" y2="340.13" stroke="#000" stroke-width="1.1"/><line x1="359.51" y1="341.81" x2="360.01" y2="344.41" stroke="#000" stroke-width="1.1"/><line x1="343.31" y1="346.09" x2="343.81" y2="348.69" stroke="#000" stroke-width="1.1"/><line x1="327.11" y1="350.37" x2="327.61" y2="352.97" stroke="#000" stroke-width="1.1"/><line x1="310.91" y1="354.65" x2="311.41" y2="357.25" stroke="#000" stroke-width="1.1"/><line x1="294.71" y1="358.93" x2="295.21" y2="361.53" stroke="#000" stroke-width="1.1"/><line x1="249.3" y1="271.8" x2="247.9" y2="269.8" stroke="#000" stroke-width="1.1"/><line x1="249.3" y1="253.3" x2="247.9" y2="251.3" stroke="#000" stroke-width="1.1"/><polyline points="299.8,311.7 311.3,316 322.9,320.3 333,324.7 346,329 354.7,321.8 360.4,313.1 364.8,304.4 369.1,295.8 373.4,285.7 370.6,274.1 366.2,264 354.7,259.1 343.1,253.3 331.6,248.1 321.4,244.6 312.2,242.3 308.4,251 301.2,261.1 295.4,271.2 292.6,282.8 295.4,294.3 298.3,303 299.8,311.7" fill="none" stroke="#3d7fd2" stroke-width="1.7" stroke-linejoin="round"/><polyline points="292.6,282.8 286,290 283.9,292.9 289.7,297.2 295,305 299.8,311.7" fill="none" stroke="#3d7fd2" stroke-width="1.7" stroke-linejoin="round"/><polyline points="282.4,269.8 292.6,272.7 301,278 307,275.6 311.3,265.4 317.1,256.8 325.8,258.2 337.3,262.6 347.4,266.9 351.8,278.4 356.1,290 351.8,298.7 347.4,307.3 338.8,313.1 327.2,311.7 318.6,307.3 315.7,300.1 314.2,292.9 311.3,287.1 307,275.6" fill="none" stroke="#e2582c" stroke-width="1.7" stroke-linejoin="round"/><polyline points="282.4,269.8 276.7,278.4 272.3,288.6 268,297.2 272.3,303 276.7,307.3 286.8,310.2 298.3,314.6 308.4,319.8 314.2,311.7 315.7,300.1" fill="none" stroke="#e2582c" stroke-width="1.7" stroke-linejoin="round"/><polyline points="283.9,292.9 289.7,297.2 293,300" fill="none" stroke="#e2582c" stroke-width="1.7" stroke-linejoin="round"/><circle cx="299.8" cy="311.7" r="2.3" fill="#8a1c1c"/><circle cx="311.3" cy="316" r="2.3" fill="#8a1c1c"/><circle cx="322.9" cy="320.3" r="2.3" fill="#8a1c1c"/><circle cx="333" cy="324.7" r="2.3" fill="#8a1c1c"/><circle cx="346" cy="329" r="2.3" fill="#8a1c1c"/><circle cx="354.7" cy="321.8" r="2.3" fill="#8a1c1c"/><circle cx="360.4" cy="313.1" r="2.3" fill="#8a1c1c"/><circle cx="364.8" cy="304.4" r="2.3" fill="#8a1c1c"/><circle cx="369.1" cy="295.8" r="2.3" fill="#8a1c1c"/><circle cx="373.4" cy="285.7" r="2.3" fill="#8a1c1c"/><circle cx="370.6" cy="274.1" r="2.3" fill="#8a1c1c"/><circle cx="366.2" cy="264" r="2.3" fill="#8a1c1c"/><circle cx="354.7" cy="259.1" r="2.3" fill="#8a1c1c"/><circle cx="343.1" cy="253.3" r="2.3" fill="#8a1c1c"/><circle cx="331.6" cy="248.1" r="2.3" fill="#8a1c1c"/><circle cx="321.4" cy="244.6" r="2.3" fill="#8a1c1c"/><circle cx="312.2" cy="242.3" r="2.3" fill="#8a1c1c"/><circle cx="308.4" cy="251" r="2.3" fill="#8a1c1c"/><circle cx="301.2" cy="261.1" r="2.3" fill="#8a1c1c"/><circle cx="295.4" cy="271.2" r="2.3" fill="#8a1c1c"/><circle cx="292.6" cy="282.8" r="2.3" fill="#8a1c1c"/><circle cx="295.4" cy="294.3" r="2.3" fill="#8a1c1c"/><circle cx="298.3" cy="303" r="2.3" fill="#8a1c1c"/><circle cx="299.8" cy="311.7" r="2.3" fill="#8a1c1c"/><circle cx="292.6" cy="282.8" r="2.3" fill="#8a1c1c"/><circle cx="286" cy="290" r="2.3" fill="#8a1c1c"/><circle cx="283.9" cy="292.9" r="2.3" fill="#8a1c1c"/><circle cx="289.7" cy="297.2" r="2.3" fill="#8a1c1c"/><circle cx="295" cy="305" r="2.3" fill="#8a1c1c"/><circle cx="299.8" cy="311.7" r="2.3" fill="#8a1c1c"/><circle cx="282.4" cy="269.8" r="2.3" fill="#8a1c1c"/><circle cx="292.6" cy="272.7" r="2.3" fill="#8a1c1c"/><circle cx="301" cy="278" r="2.3" fill="#8a1c1c"/><circle cx="307" cy="275.6" r="2.3" fill="#8a1c1c"/><circle cx="311.3" cy="265.4" r="2.3" fill="#8a1c1c"/><circle cx="317.1" cy="256.8" r="2.3" fill="#8a1c1c"/><circle cx="325.8" cy="258.2" r="2.3" fill="#8a1c1c"/><circle cx="337.3" cy="262.6" r="2.3" fill="#8a1c1c"/><circle cx="347.4" cy="266.9" r="2.3" fill="#8a1c1c"/><circle cx="351.8" cy="278.4" r="2.3" fill="#8a1c1c"/><circle cx="356.1" cy="290" r="2.3" fill="#8a1c1c"/><circle cx="351.8" cy="298.7" r="2.3" fill="#8a1c1c"/><circle cx="347.4" cy="307.3" r="2.3" fill="#8a1c1c"/><circle cx="338.8" cy="313.1" r="2.3" fill="#8a1c1c"/><circle cx="327.2" cy="311.7" r="2.3" fill="#8a1c1c"/><circle cx="318.6" cy="307.3" r="2.3" fill="#8a1c1c"/><circle cx="315.7" cy="300.1" r="2.3" fill="#8a1c1c"/><circle cx="314.2" cy="292.9" r="2.3" fill="#8a1c1c"/><circle cx="311.3" cy="287.1" r="2.3" fill="#8a1c1c"/><circle cx="307" cy="275.6" r="2.3" fill="#8a1c1c"/><circle cx="282.4" cy="269.8" r="2.3" fill="#8a1c1c"/><circle cx="276.7" cy="278.4" r="2.3" fill="#8a1c1c"/><circle cx="272.3" cy="288.6" r="2.3" fill="#8a1c1c"/><circle cx="268" cy="297.2" r="2.3" fill="#8a1c1c"/><circle cx="272.3" cy="303" r="2.3" fill="#8a1c1c"/><circle cx="276.7" cy="307.3" r="2.3" fill="#8a1c1c"/><circle cx="286.8" cy="310.2" r="2.3" fill="#8a1c1c"/><circle cx="298.3" cy="314.6" r="2.3" fill="#8a1c1c"/><circle cx="308.4" cy="319.8" r="2.3" fill="#8a1c1c"/><circle cx="314.2" cy="311.7" r="2.3" fill="#8a1c1c"/><circle cx="315.7" cy="300.1" r="2.3" fill="#8a1c1c"/><circle cx="283.9" cy="292.9" r="2.3" fill="#8a1c1c"/><circle cx="289.7" cy="297.2" r="2.3" fill="#8a1c1c"/><circle cx="293" cy="300" r="2.3" fill="#8a1c1c"/><text x="243" y="292.4" font-family="Liberation Serif" font-weight="bold" font-size="14" text-anchor="end">12</text><text x="249.7" y="306.4" font-family="Liberation Serif" font-weight="bold" font-size="14" text-anchor="end">10</text><text x="257" y="321.1" font-family="Liberation Serif" font-weight="bold" font-size="14" text-anchor="end">8</text><text x="263.7" y="335.8" font-family="Liberation Serif" font-weight="bold" font-size="14" text-anchor="end">6</text><text x="270.3" y="350.4" font-family="Liberation Serif" font-weight="bold" font-size="14" text-anchor="end">4</text><text x="277" y="365.1" font-family="Liberation Serif" font-weight="bold" font-size="14" text-anchor="end">2</text><text x="297.5" y="379.3" font-family="Liberation Serif" font-weight="bold" font-size="14">14</text><text x="313.6" y="375.1" font-family="Liberation Serif" font-weight="bold" font-size="14">12</text><text x="329.4" y="370.9" font-family="Liberation Serif" font-weight="bold" font-size="14">10</text><text x="344.7" y="366.8" font-family="Liberation Serif" font-weight="bold" font-size="14">8</text><text x="361.4" y="362.6" font-family="Liberation Serif" font-weight="bold" font-size="14">6</text><text x="376.7" y="358.4" font-family="Liberation Serif" font-weight="bold" font-size="14">4</text><text x="393.3" y="354.3" font-family="Liberation Serif" font-weight="bold" font-size="14">2</text><text x="246.3" y="254.1" font-family="Liberation Serif" font-weight="bold" font-size="14" text-anchor="end">5</text><text x="246.3" y="271.9" font-family="Liberation Serif" font-weight="bold" font-size="14" text-anchor="end">0</text><text x="241" y="374" font-family="Liberation Serif" font-weight="bold" font-size="16" text-anchor="middle">x</text><text x="356.5" y="385.8" font-family="Liberation Serif" font-weight="bold" font-size="16" text-anchor="middle">y</text><text transform="translate(229.6 264.5) rotate(-90)" font-family="Liberation Serif" font-weight="bold" font-size="16" text-anchor="middle">z</text><rect x="419.3" y="223.9" width="9.8" height="136.6" fill="url(#jet)" stroke="#222" stroke-width="0.5"/><text x="432.6" y="365.2" font-family="Liberation Serif" font-weight="bold" font-size="14">0</text><text x="432.6" y="337.88" font-family="Liberation Serif" font-weight="bold" font-size="14">0.2</text><line x1="427.8" y1="333.18" x2="429.1" y2="333.18" stroke="#333" stroke-width="0.6"/><text x="432.6" y="310.56" font-family="Liberation Serif" font-weight="bold" font-size="14">0.4</text><line x1="427.8" y1="305.86" x2="429.1" y2="305.86" stroke="#333" stroke-width="0.6"/><text x="432.6" y="283.24" font-family="Liberation Serif" font-weight="bold" font-size="14">0.6</text><line x1="427.8" y1="278.54" x2="429.1" y2="278.54" stroke="#333" stroke-width="0.6"/><text x="432.6" y="255.92" font-family="Liberation Serif" font-weight="bold" font-size="14">0.8</text><line x1="427.8" y1="251.22" x2="429.1" y2="251.22" stroke="#333" stroke-width="0.6"/><text x="432.6" y="228.6" font-family="Liberation Serif" font-weight="bold" font-size="14">1</text></g><g><line x1="399.57" y1="510.68" x2="284.55" y2="541.06" stroke="#d4d4d4" stroke-width="0.8"/><line x1="393.04" y1="496.02" x2="278.02" y2="526.4" stroke="#d4d4d4" stroke-width="0.8"/><line x1="386.52" y1="481.36" x2="271.5" y2="511.74" stroke="#d4d4d4" stroke-width="0.8"/><line x1="379.99" y1="466.7" x2="264.97" y2="497.08" stroke="#d4d4d4" stroke-width="0.8"/><line x1="373.46" y1="452.04" x2="258.44" y2="482.42" stroke="#d4d4d4" stroke-width="0.8"/><line x1="366.93" y1="437.38" x2="251.91" y2="467.76" stroke="#d4d4d4" stroke-width="0.8"/><line x1="391.91" y1="523.35" x2="352.41" y2="434.66" stroke="#d4d4d4" stroke-width="0.8"/><line x1="375.71" y1="527.63" x2="336.21" y2="438.94" stroke="#d4d4d4" stroke-width="0.8"/><line x1="359.51" y1="531.91" x2="320.01" y2="443.22" stroke="#d4d4d4" stroke-width="0.8"/><line x1="343.31" y1="536.19" x2="303.81" y2="447.5" stroke="#d4d4d4" stroke-width="0.8"/><line x1="327.11" y1="540.47" x2="287.61" y2="451.78" stroke="#d4d4d4" stroke-width="0.8"/><line x1="310.91" y1="544.75" x2="271.41" y2="456.06" stroke="#d4d4d4" stroke-width="0.8"/><line x1="294.71" y1="549.03" x2="255.21" y2="460.34" stroke="#d4d4d4" stroke-width="0.8"/><line x1="350.21" y1="434.66" x2="350.21" y2="416.16" stroke="#d4d4d4" stroke-width="0.8"/><line x1="334.01" y1="438.94" x2="334.01" y2="420.44" stroke="#d4d4d4" stroke-width="0.8"/><line x1="317.81" y1="443.22" x2="317.81" y2="424.72" stroke="#d4d4d4" stroke-width="0.8"/><line x1="301.61" y1="447.5" x2="301.61" y2="429" stroke="#d4d4d4" stroke-width="0.8"/><line x1="285.41" y1="451.78" x2="285.41" y2="433.28" stroke="#d4d4d4" stroke-width="0.8"/><line x1="269.21" y1="456.06" x2="269.21" y2="437.56" stroke="#d4d4d4" stroke-width="0.8"/><line x1="253.01" y1="460.34" x2="253.01" y2="441.84" stroke="#d4d4d4" stroke-width="0.8"/><line x1="399.57" y1="510.68" x2="399.57" y2="492.18" stroke="#d4d4d4" stroke-width="0.8"/><line x1="393.04" y1="496.02" x2="393.04" y2="477.52" stroke="#d4d4d4" stroke-width="0.8"/><line x1="386.52" y1="481.36" x2="386.52" y2="462.86" stroke="#d4d4d4" stroke-width="0.8"/><line x1="379.99" y1="466.7" x2="379.99" y2="448.2" stroke="#d4d4d4" stroke-width="0.8"/><line x1="373.46" y1="452.04" x2="373.46" y2="433.54" stroke="#d4d4d4" stroke-width="0.8"/><line x1="366.93" y1="437.38" x2="366.93" y2="418.88" stroke="#d4d4d4" stroke-width="0.8"/><line x1="249.3" y1="443.4" x2="364.32" y2="413.01" stroke="#d4d4d4" stroke-width="0.9"/><line x1="364.32" y1="413.01" x2="403.81" y2="501.7" stroke="#d4d4d4" stroke-width="0.9"/><line x1="249.3" y1="461.9" x2="364.32" y2="431.51" stroke="#d4d4d4" stroke-width="0.8"/><line x1="364.32" y1="431.51" x2="403.81" y2="520.2" stroke="#d4d4d4" stroke-width="0.8"/><line x1="364.32" y1="431.51" x2="364.32" y2="413.01" stroke="#d4d4d4" stroke-width="0.8"/><line x1="403.81" y1="520.2" x2="403.81" y2="501.7" stroke="#d4d4d4" stroke-width="0.8"/><path d="M398.43 519.01h1.2M398.43 515.31h1.2M398.43 511.61h1.2M398.43 507.91h1.2M398.43 504.21h1.2M398.43 500.51h1.2M390.33 521.15h1.2M390.33 517.45h1.2M390.33 513.75h1.2M390.33 510.05h1.2M390.33 506.35h1.2M390.33 502.65h1.2M382.23 523.29h1.2M382.23 519.59h1.2M382.23 515.89h1.2M382.23 512.19h1.2M382.23 508.49h1.2M382.23 504.79h1.2M374.13 525.43h1.2M374.13 521.73h1.2M374.13 518.03h1.2M374.13 514.33h1.2M374.13 510.63h1.2M374.13 506.93h1.2M366.03 527.57h1.2M366.03 523.87h1.2M366.03 520.17h1.2M366.03 516.47h1.2M366.03 512.77h1.2M366.03 509.07h1.2M357.93 529.71h1.2M357.93 526.01h1.2M357.93 522.31h1.2M357.93 518.61h1.2M357.93 514.91h1.2M357.93 511.21h1.2M349.83 531.85h1.2M349.83 528.15h1.2M349.83 524.45h1.2M349.83 520.75h1.2M349.83 517.05h1.2M349.83 513.35h1.2M341.73 533.99h1.2M341.73 530.29h1.2M341.73 526.59h1.2M341.73 522.89h1.2M341.73 519.19h1.2M341.73 515.49h1.2M333.63 536.13h1.2M333.63 532.43h1.2M333.63 528.73h1.2M333.63 525.03h1.2M333.63 521.33h1.2M333.63 517.63h1.2M325.53 538.27h1.2M325.53 534.57h1.2M325.53 530.87h1.2M325.53 527.17h1.2M325.53 523.47h1.2M325.53 519.77h1.2M317.43 540.41h1.2M317.43 536.71h1.2M317.43 533.01h1.2M317.43 529.31h1.2M317.43 525.61h1.2M317.43 521.91h1.2M309.33 542.55h1.2M309.33 538.85h1.2M309.33 535.15h1.2M309.33 531.45h1.2M309.33 527.75h1.2M309.33 524.05h1.2M301.23 544.69h1.2M301.23 540.99h1.2M301.23 537.29h1.2M301.23 533.59h1.2M301.23 529.89h1.2M301.23 526.19h1.2M293.13 546.83h1.2M293.13 543.13h1.2M293.13 539.43h1.2M293.13 535.73h1.2M293.13 532.03h1.2M293.13 528.33h1.2M395.16 511.68h1.2M395.16 507.98h1.2M395.16 504.28h1.2M395.16 500.58h1.2M395.16 496.88h1.2M395.16 493.18h1.2M387.06 513.82h1.2M387.06 510.12h1.2M387.06 506.42h1.2M387.06 502.72h1.2M387.06 499.02h1.2M387.06 495.32h1.2M378.96 515.96h1.2M378.96 512.26h1.2M378.96 508.56h1.2M378.96 504.86h1.2M378.96 501.16h1.2M378.96 497.46h1.2M370.86 518.1h1.2M370.86 514.4h1.2M370.86 510.7h1.2M370.86 507h1.2M370.86 503.3h1.2M370.86 499.6h1.2M362.76 520.24h1.2M362.76 516.54h1.2M362.76 512.84h1.2M362.76 509.14h1.2M362.76 505.44h1.2M362.76 501.74h1.2M354.66 522.38h1.2M354.66 518.68h1.2M354.66 514.98h1.2M354.66 511.28h1.2M354.66 507.58h1.2M354.66 503.88h1.2M346.56 524.52h1.2M346.56 520.82h1.2M346.56 517.12h1.2M346.56 513.42h1.2M346.56 509.72h1.2M346.56 506.02h1.2M338.46 526.66h1.2M338.46 522.96h1.2M338.46 519.26h1.2M338.46 515.56h1.2M338.46 511.86h1.2M338.46 508.16h1.2M330.36 528.8h1.2M330.36 525.1h1.2M330.36 521.4h1.2M330.36 517.7h1.2M330.36 514h1.2M330.36 510.3h1.2M322.26 530.94h1.2M322.26 527.24h1.2M322.26 523.54h1.2M322.26 519.84h1.2M322.26 516.14h1.2M322.26 512.44h1.2M314.16 533.08h1.2M314.16 529.38h1.2M314.16 525.68h1.2M314.16 521.98h1.2M314.16 518.28h1.2M314.16 514.58h1.2M306.06 535.22h1.2M306.06 531.52h1.2M306.06 527.82h1.2M306.06 524.12h1.2M306.06 520.42h1.2M306.06 516.72h1.2M297.96 537.36h1.2M297.96 533.66h1.2M297.96 529.96h1.2M297.96 526.26h1.2M297.96 522.56h1.2M297.96 518.86h1.2M289.86 539.5h1.2M289.86 535.8h1.2M289.86 532.1h1.2M289.86 528.4h1.2M289.86 524.7h1.2M289.86 521h1.2M391.9 504.35h1.2M391.9 500.65h1.2M391.9 496.95h1.2M391.9 493.25h1.2M391.9 489.55h1.2M391.9 485.85h1.2M383.8 506.49h1.2M383.8 502.79h1.2M383.8 499.09h1.2M383.8 495.39h1.2M383.8 491.69h1.2M383.8 487.99h1.2M375.7 508.63h1.2M375.7 504.93h1.2M375.7 501.23h1.2M375.7 497.53h1.2M375.7 493.83h1.2M375.7 490.13h1.2M367.6 510.77h1.2M367.6 507.07h1.2M367.6 503.37h1.2M367.6 499.67h1.2M367.6 495.97h1.2M367.6 492.27h1.2M359.5 512.91h1.2M359.5 509.21h1.2M359.5 505.51h1.2M359.5 501.81h1.2M359.5 498.11h1.2M359.5 494.41h1.2M351.4 515.05h1.2M351.4 511.35h1.2M351.4 507.65h1.2M351.4 503.95h1.2M351.4 500.25h1.2M351.4 496.55h1.2M343.3 517.19h1.2M343.3 513.49h1.2M343.3 509.79h1.2M343.3 506.09h1.2M343.3 502.39h1.2M343.3 498.69h1.2M335.2 519.33h1.2M335.2 515.63h1.2M335.2 511.93h1.2M335.2 508.23h1.2M335.2 504.53h1.2M335.2 500.83h1.2M327.1 521.47h1.2M327.1 517.77h1.2M327.1 514.07h1.2M327.1 510.37h1.2M327.1 506.67h1.2M327.1 502.97h1.2M319 523.61h1.2M319 519.91h1.2M319 516.21h1.2M319 512.51h1.2M319 508.81h1.2M319 505.11h1.2M310.9 525.75h1.2M310.9 522.05h1.2M310.9 518.35h1.2M310.9 514.65h1.2M310.9 510.95h1.2M310.9 507.25h1.2M302.8 527.89h1.2M302.8 524.19h1.2M302.8 520.49h1.2M302.8 516.79h1.2M302.8 513.09h1.2M302.8 509.39h1.2M294.7 530.03h1.2M294.7 526.33h1.2M294.7 522.63h1.2M294.7 518.93h1.2M294.7 515.23h1.2M294.7 511.53h1.2M286.6 532.17h1.2M286.6 528.47h1.2M286.6 524.77h1.2M286.6 521.07h1.2M286.6 517.37h1.2M286.6 513.67h1.2M388.64 497.02h1.2M388.64 493.32h1.2M388.64 489.62h1.2M388.64 485.92h1.2M388.64 482.22h1.2M388.64 478.52h1.2M380.54 499.16h1.2M380.54 495.46h1.2M380.54 491.76h1.2M380.54 488.06h1.2M380.54 484.36h1.2M380.54 480.66h1.2M372.44 501.3h1.2M372.44 497.6h1.2M372.44 493.9h1.2M372.44 490.2h1.2M372.44 486.5h1.2M372.44 482.8h1.2M364.34 503.44h1.2M364.34 499.74h1.2M364.34 496.04h1.2M364.34 492.34h1.2M364.34 488.64h1.2M364.34 484.94h1.2M356.24 505.58h1.2M356.24 501.88h1.2M356.24 498.18h1.2M356.24 494.48h1.2M356.24 490.78h1.2M356.24 487.08h1.2M348.14 507.72h1.2M348.14 504.02h1.2M348.14 500.32h1.2M348.14 496.62h1.2M348.14 492.92h1.2M348.14 489.22h1.2M340.04 509.86h1.2M340.04 506.16h1.2M340.04 502.46h1.2M340.04 498.76h1.2M340.04 495.06h1.2M340.04 491.36h1.2M331.94 512h1.2M331.94 508.3h1.2M331.94 504.6h1.2M331.94 500.9h1.2M331.94 497.2h1.2M331.94 493.5h1.2M323.84 514.14h1.2M323.84 510.44h1.2M323.84 506.74h1.2M323.84 503.04h1.2M323.84 499.34h1.2M323.84 495.64h1.2M315.74 516.28h1.2M315.74 512.58h1.2M315.74 508.88h1.2M315.74 505.18h1.2M315.74 501.48h1.2M315.74 497.78h1.2M307.64 518.42h1.2M307.64 514.72h1.2M307.64 511.02h1.2M307.64 507.32h1.2M307.64 503.62h1.2M307.64 499.92h1.2M299.54 520.56h1.2M299.54 516.86h1.2M299.54 513.16h1.2M299.54 509.46h1.2M299.54 505.76h1.2M299.54 502.06h1.2M291.44 522.7h1.2M291.44 519h1.2M291.44 515.3h1.2M291.44 511.6h1.2M291.44 507.9h1.2M291.44 504.2h1.2M283.34 524.84h1.2M283.34 521.14h1.2M283.34 517.44h1.2M283.34 513.74h1.2M283.34 510.04h1.2M283.34 506.34h1.2M385.37 489.69h1.2M385.37 485.99h1.2M385.37 482.29h1.2M385.37 478.59h1.2M385.37 474.89h1.2M385.37 471.19h1.2M377.27 491.83h1.2M377.27 488.13h1.2M377.27 484.43h1.2M377.27 480.73h1.2M377.27 477.03h1.2M377.27 473.33h1.2M369.17 493.97h1.2M369.17 490.27h1.2M369.17 486.57h1.2M369.17 482.87h1.2M369.17 479.17h1.2M369.17 475.47h1.2M361.07 496.11h1.2M361.07 492.41h1.2M361.07 488.71h1.2M361.07 485.01h1.2M361.07 481.31h1.2M361.07 477.61h1.2M352.97 498.25h1.2M352.97 494.55h1.2M352.97 490.85h1.2M352.97 487.15h1.2M352.97 483.45h1.2M352.97 479.75h1.2M344.87 500.39h1.2M344.87 496.69h1.2M344.87 492.99h1.2M344.87 489.29h1.2M344.87 485.59h1.2M344.87 481.89h1.2M336.77 502.53h1.2M336.77 498.83h1.2M336.77 495.13h1.2M336.77 491.43h1.2M336.77 487.73h1.2M336.77 484.03h1.2M328.67 504.67h1.2M328.67 500.97h1.2M328.67 497.27h1.2M328.67 493.57h1.2M328.67 489.87h1.2M328.67 486.17h1.2M320.57 506.81h1.2M320.57 503.11h1.2M320.57 499.41h1.2M320.57 495.71h1.2M320.57 492.01h1.2M320.57 488.31h1.2M312.47 508.95h1.2M312.47 505.25h1.2M312.47 501.55h1.2M312.47 497.85h1.2M312.47 494.15h1.2M312.47 490.45h1.2M304.37 511.09h1.2M304.37 507.39h1.2M304.37 503.69h1.2M304.37 499.99h1.2M304.37 496.29h1.2M304.37 492.59h1.2M296.27 513.23h1.2M296.27 509.53h1.2M296.27 505.83h1.2M296.27 502.13h1.2M296.27 498.43h1.2M296.27 494.73h1.2M288.17 515.37h1.2M288.17 511.67h1.2M288.17 507.97h1.2M288.17 504.27h1.2M288.17 500.57h1.2M288.17 496.87h1.2M280.07 517.51h1.2M280.07 513.81h1.2M280.07 510.11h1.2M280.07 506.41h1.2M280.07 502.71h1.2M280.07 499.01h1.2M382.11 482.36h1.2M382.11 478.66h1.2M382.11 474.96h1.2M382.11 471.26h1.2M382.11 467.56h1.2M382.11 463.86h1.2M374.01 484.5h1.2M374.01 480.8h1.2M374.01 477.1h1.2M374.01 473.4h1.2M374.01 469.7h1.2M374.01 466h1.2M365.91 486.64h1.2M365.91 482.94h1.2M365.91 479.24h1.2M365.91 475.54h1.2M365.91 471.84h1.2M365.91 468.14h1.2M357.81 488.78h1.2M357.81 485.08h1.2M357.81 481.38h1.2M357.81 477.68h1.2M357.81 473.98h1.2M357.81 470.28h1.2M349.71 490.92h1.2M349.71 487.22h1.2M349.71 483.52h1.2M349.71 479.82h1.2M349.71 476.12h1.2M349.71 472.42h1.2M341.61 493.06h1.2M341.61 489.36h1.2M341.61 485.66h1.2M341.61 481.96h1.2M341.61 478.26h1.2M341.61 474.56h1.2M333.51 495.2h1.2M333.51 491.5h1.2M333.51 487.8h1.2M333.51 484.1h1.2M333.51 480.4h1.2M333.51 476.7h1.2M325.41 497.34h1.2M325.41 493.64h1.2M325.41 489.94h1.2M325.41 486.24h1.2M325.41 482.54h1.2M325.41 478.84h1.2M317.31 499.48h1.2M317.31 495.78h1.2M317.31 492.08h1.2M317.31 488.38h1.2M317.31 484.68h1.2M317.31 480.98h1.2M309.21 501.62h1.2M309.21 497.92h1.2M309.21 494.22h1.2M309.21 490.52h1.2M309.21 486.82h1.2M309.21 483.12h1.2M301.11 503.76h1.2M301.11 500.06h1.2M301.11 496.36h1.2M301.11 492.66h1.2M301.11 488.96h1.2M301.11 485.26h1.2M293.01 505.9h1.2M293.01 502.2h1.2M293.01 498.5h1.2M293.01 494.8h1.2M293.01 491.1h1.2M293.01 487.4h1.2M284.91 508.04h1.2M284.91 504.34h1.2M284.91 500.64h1.2M284.91 496.94h1.2M284.91 493.24h1.2M284.91 489.54h1.2M276.81 510.18h1.2M276.81 506.48h1.2M276.81 502.78h1.2M276.81 499.08h1.2M276.81 495.38h1.2M276.81 491.68h1.2M378.84 475.03h1.2M378.84 471.33h1.2M378.84 467.63h1.2M378.84 463.93h1.2M378.84 460.23h1.2M378.84 456.53h1.2M370.74 477.17h1.2M370.74 473.47h1.2M370.74 469.77h1.2M370.74 466.07h1.2M370.74 462.37h1.2M370.74 458.67h1.2M362.64 479.31h1.2M362.64 475.61h1.2M362.64 471.91h1.2M362.64 468.21h1.2M362.64 464.51h1.2M362.64 460.81h1.2M354.54 481.45h1.2M354.54 477.75h1.2M354.54 474.05h1.2M354.54 470.35h1.2M354.54 466.65h1.2M354.54 462.95h1.2M346.44 483.59h1.2M346.44 479.89h1.2M346.44 476.19h1.2M346.44 472.49h1.2M346.44 468.79h1.2M346.44 465.09h1.2M338.34 485.73h1.2M338.34 482.03h1.2M338.34 478.33h1.2M338.34 474.63h1.2M338.34 470.93h1.2M338.34 467.23h1.2M330.24 487.87h1.2M330.24 484.17h1.2M330.24 480.47h1.2M330.24 476.77h1.2M330.24 473.07h1.2M330.24 469.37h1.2M322.14 490.01h1.2M322.14 486.31h1.2M322.14 482.61h1.2M322.14 478.91h1.2M322.14 475.21h1.2M322.14 471.51h1.2M314.04 492.15h1.2M314.04 488.45h1.2M314.04 484.75h1.2M314.04 481.05h1.2M314.04 477.35h1.2M314.04 473.65h1.2M305.94 494.29h1.2M305.94 490.59h1.2M305.94 486.89h1.2M305.94 483.19h1.2M305.94 479.49h1.2M305.94 475.79h1.2M297.84 496.43h1.2M297.84 492.73h1.2M297.84 489.03h1.2M297.84 485.33h1.2M297.84 481.63h1.2M297.84 477.93h1.2M289.74 498.57h1.2M289.74 494.87h1.2M289.74 491.17h1.2M289.74 487.47h1.2M289.74 483.77h1.2M289.74 480.07h1.2M281.64 500.71h1.2M281.64 497.01h1.2M281.64 493.31h1.2M281.64 489.61h1.2M281.64 485.91h1.2M281.64 482.21h1.2M273.54 502.85h1.2M273.54 499.15h1.2M273.54 495.45h1.2M273.54 491.75h1.2M273.54 488.05h1.2M273.54 484.35h1.2M375.58 467.7h1.2M375.58 464h1.2M375.58 460.3h1.2M375.58 456.6h1.2M375.58 452.9h1.2M375.58 449.2h1.2M367.48 469.84h1.2M367.48 466.14h1.2M367.48 462.44h1.2M367.48 458.74h1.2M367.48 455.04h1.2M367.48 451.34h1.2M359.38 471.98h1.2M359.38 468.28h1.2M359.38 464.58h1.2M359.38 460.88h1.2M359.38 457.18h1.2M359.38 453.48h1.2M351.28 474.12h1.2M351.28 470.42h1.2M351.28 466.72h1.2M351.28 463.02h1.2M351.28 459.32h1.2M351.28 455.62h1.2M343.18 476.26h1.2M343.18 472.56h1.2M343.18 468.86h1.2M343.18 465.16h1.2M343.18 461.46h1.2M343.18 457.76h1.2M335.08 478.4h1.2M335.08 474.7h1.2M335.08 471h1.2M335.08 467.3h1.2M335.08 463.6h1.2M335.08 459.9h1.2M326.98 480.54h1.2M326.98 476.84h1.2M326.98 473.14h1.2M326.98 469.44h1.2M326.98 465.74h1.2M326.98 462.04h1.2M318.88 482.68h1.2M318.88 478.98h1.2M318.88 475.28h1.2M318.88 471.58h1.2M318.88 467.88h1.2M318.88 464.18h1.2M310.78 484.82h1.2M310.78 481.12h1.2M310.78 477.42h1.2M310.78 473.72h1.2M310.78 470.02h1.2M310.78 466.32h1.2M302.68 486.96h1.2M302.68 483.26h1.2M302.68 479.56h1.2M302.68 475.86h1.2M302.68 472.16h1.2M302.68 468.46h1.2M294.58 489.1h1.2M294.58 485.4h1.2M294.58 481.7h1.2M294.58 478h1.2M294.58 474.3h1.2M294.58 470.6h1.2M286.48 491.24h1.2M286.48 487.54h1.2M286.48 483.84h1.2M286.48 480.14h1.2M286.48 476.44h1.2M286.48 472.74h1.2M278.38 493.38h1.2M278.38 489.68h1.2M278.38 485.98h1.2M278.38 482.28h1.2M278.38 478.58h1.2M278.38 474.88h1.2M270.28 495.52h1.2M270.28 491.82h1.2M270.28 488.12h1.2M270.28 484.42h1.2M270.28 480.72h1.2M270.28 477.02h1.2M372.32 460.37h1.2M372.32 456.67h1.2M372.32 452.97h1.2M372.32 449.27h1.2M372.32 445.57h1.2M372.32 441.87h1.2M364.22 462.51h1.2M364.22 458.81h1.2M364.22 455.11h1.2M364.22 451.41h1.2M364.22 447.71h1.2M364.22 444.01h1.2M356.12 464.65h1.2M356.12 460.95h1.2M356.12 457.25h1.2M356.12 453.55h1.2M356.12 449.85h1.2M356.12 446.15h1.2M348.02 466.79h1.2M348.02 463.09h1.2M348.02 459.39h1.2M348.02 455.69h1.2M348.02 451.99h1.2M348.02 448.29h1.2M339.92 468.93h1.2M339.92 465.23h1.2M339.92 461.53h1.2M339.92 457.83h1.2M339.92 454.13h1.2M339.92 450.43h1.2M331.82 471.07h1.2M331.82 467.37h1.2M331.82 463.67h1.2M331.82 459.97h1.2M331.82 456.27h1.2M331.82 452.57h1.2M323.72 473.21h1.2M323.72 469.51h1.2M323.72 465.81h1.2M323.72 462.11h1.2M323.72 458.41h1.2M323.72 454.71h1.2M315.62 475.35h1.2M315.62 471.65h1.2M315.62 467.95h1.2M315.62 464.25h1.2M315.62 460.55h1.2M315.62 456.85h1.2M307.52 477.49h1.2M307.52 473.79h1.2M307.52 470.09h1.2M307.52 466.39h1.2M307.52 462.69h1.2M307.52 458.99h1.2M299.42 479.63h1.2M299.42 475.93h1.2M299.42 472.23h1.2M299.42 468.53h1.2M299.42 464.83h1.2M299.42 461.13h1.2M291.32 481.77h1.2M291.32 478.07h1.2M291.32 474.37h1.2M291.32 470.67h1.2M291.32 466.97h1.2M291.32 463.27h1.2M283.22 483.91h1.2M283.22 480.21h1.2M283.22 476.51h1.2M283.22 472.81h1.2M283.22 469.11h1.2M283.22 465.41h1.2M275.12 486.05h1.2M275.12 482.35h1.2M275.12 478.65h1.2M275.12 474.95h1.2M275.12 471.25h1.2M275.12 467.55h1.2M267.02 488.19h1.2M267.02 484.49h1.2M267.02 480.79h1.2M267.02 477.09h1.2M267.02 473.39h1.2M267.02 469.69h1.2M369.05 453.04h1.2M369.05 449.34h1.2M369.05 445.64h1.2M369.05 441.94h1.2M369.05 438.24h1.2M369.05 434.54h1.2M360.95 455.18h1.2M360.95 451.48h1.2M360.95 447.78h1.2M360.95 444.08h1.2M360.95 440.38h1.2M360.95 436.68h1.2M352.85 457.32h1.2M352.85 453.62h1.2M352.85 449.92h1.2M352.85 446.22h1.2M352.85 442.52h1.2M352.85 438.82h1.2M344.75 459.46h1.2M344.75 455.76h1.2M344.75 452.06h1.2M344.75 448.36h1.2M344.75 444.66h1.2M344.75 440.96h1.2M336.65 461.6h1.2M336.65 457.9h1.2M336.65 454.2h1.2M336.65 450.5h1.2M336.65 446.8h1.2M336.65 443.1h1.2M328.55 463.74h1.2M328.55 460.04h1.2M328.55 456.34h1.2M328.55 452.64h1.2M328.55 448.94h1.2M328.55 445.24h1.2M320.45 465.88h1.2M320.45 462.18h1.2M320.45 458.48h1.2M320.45 454.78h1.2M320.45 451.08h1.2M320.45 447.38h1.2M312.35 468.02h1.2M312.35 464.32h1.2M312.35 460.62h1.2M312.35 456.92h1.2M312.35 453.22h1.2M312.35 449.52h1.2M304.25 470.16h1.2M304.25 466.46h1.2M304.25 462.76h1.2M304.25 459.06h1.2M304.25 455.36h1.2M304.25 451.66h1.2M296.15 472.3h1.2M296.15 468.6h1.2M296.15 464.9h1.2M296.15 461.2h1.2M296.15 457.5h1.2M296.15 453.8h1.2M288.05 474.44h1.2M288.05 470.74h1.2M288.05 467.04h1.2M288.05 463.34h1.2M288.05 459.64h1.2M288.05 455.94h1.2M279.95 476.58h1.2M279.95 472.88h1.2M279.95 469.18h1.2M279.95 465.48h1.2M279.95 461.78h1.2M279.95 458.08h1.2M271.85 478.72h1.2M271.85 475.02h1.2M271.85 471.32h1.2M271.85 467.62h1.2M271.85 463.92h1.2M271.85 460.22h1.2M263.75 480.86h1.2M263.75 477.16h1.2M263.75 473.46h1.2M263.75 469.76h1.2M263.75 466.06h1.2M263.75 462.36h1.2M365.79 445.71h1.2M365.79 442.01h1.2M365.79 438.31h1.2M365.79 434.61h1.2M365.79 430.91h1.2M365.79 427.21h1.2M357.69 447.85h1.2M357.69 444.15h1.2M357.69 440.45h1.2M357.69 436.75h1.2M357.69 433.05h1.2M357.69 429.35h1.2M349.59 449.99h1.2M349.59 446.29h1.2M349.59 442.59h1.2M349.59 438.89h1.2M349.59 435.19h1.2M349.59 431.49h1.2M341.49 452.13h1.2M341.49 448.43h1.2M341.49 444.73h1.2M341.49 441.03h1.2M341.49 437.33h1.2M341.49 433.63h1.2M333.39 454.27h1.2M333.39 450.57h1.2M333.39 446.87h1.2M333.39 443.17h1.2M333.39 439.47h1.2M333.39 435.77h1.2M325.29 456.41h1.2M325.29 452.71h1.2M325.29 449.01h1.2M325.29 445.31h1.2M325.29 441.61h1.2M325.29 437.91h1.2M317.19 458.55h1.2M317.19 454.85h1.2M317.19 451.15h1.2M317.19 447.45h1.2M317.19 443.75h1.2M317.19 440.05h1.2M309.09 460.69h1.2M309.09 456.99h1.2M309.09 453.29h1.2M309.09 449.59h1.2M309.09 445.89h1.2M309.09 442.19h1.2M300.99 462.83h1.2M300.99 459.13h1.2M300.99 455.43h1.2M300.99 451.73h1.2M300.99 448.03h1.2M300.99 444.33h1.2M292.89 464.97h1.2M292.89 461.27h1.2M292.89 457.57h1.2M292.89 453.87h1.2M292.89 450.17h1.2M292.89 446.47h1.2M284.79 467.11h1.2M284.79 463.41h1.2M284.79 459.71h1.2M284.79 456.01h1.2M284.79 452.31h1.2M284.79 448.61h1.2M276.69 469.25h1.2M276.69 465.55h1.2M276.69 461.85h1.2M276.69 458.15h1.2M276.69 454.45h1.2M276.69 450.75h1.2M268.59 471.39h1.2M268.59 467.69h1.2M268.59 463.99h1.2M268.59 460.29h1.2M268.59 456.59h1.2M268.59 452.89h1.2M260.49 473.53h1.2M260.49 469.83h1.2M260.49 466.13h1.2M260.49 462.43h1.2M260.49 458.73h1.2M260.49 455.03h1.2M362.52 438.38h1.2M362.52 434.68h1.2M362.52 430.98h1.2M362.52 427.28h1.2M362.52 423.58h1.2M362.52 419.88h1.2M354.42 440.52h1.2M354.42 436.82h1.2M354.42 433.12h1.2M354.42 429.42h1.2M354.42 425.72h1.2M354.42 422.02h1.2M346.32 442.66h1.2M346.32 438.96h1.2M346.32 435.26h1.2M346.32 431.56h1.2M346.32 427.86h1.2M346.32 424.16h1.2M338.22 444.8h1.2M338.22 441.1h1.2M338.22 437.4h1.2M338.22 433.7h1.2M338.22 430h1.2M338.22 426.3h1.2M330.12 446.94h1.2M330.12 443.24h1.2M330.12 439.54h1.2M330.12 435.84h1.2M330.12 432.14h1.2M330.12 428.44h1.2M322.02 449.08h1.2M322.02 445.38h1.2M322.02 441.68h1.2M322.02 437.98h1.2M322.02 434.28h1.2M322.02 430.58h1.2M313.92 451.22h1.2M313.92 447.52h1.2M313.92 443.82h1.2M313.92 440.12h1.2M313.92 436.42h1.2M313.92 432.72h1.2M305.82 453.36h1.2M305.82 449.66h1.2M305.82 445.96h1.2M305.82 442.26h1.2M305.82 438.56h1.2M305.82 434.86h1.2M297.72 455.5h1.2M297.72 451.8h1.2M297.72 448.1h1.2M297.72 444.4h1.2M297.72 440.7h1.2M297.72 437h1.2M289.62 457.64h1.2M289.62 453.94h1.2M289.62 450.24h1.2M289.62 446.54h1.2M289.62 442.84h1.2M289.62 439.14h1.2M281.52 459.78h1.2M281.52 456.08h1.2M281.52 452.38h1.2M281.52 448.68h1.2M281.52 444.98h1.2M281.52 441.28h1.2M273.42 461.92h1.2M273.42 458.22h1.2M273.42 454.52h1.2M273.42 450.82h1.2M273.42 447.12h1.2M273.42 443.42h1.2M265.32 464.06h1.2M265.32 460.36h1.2M265.32 456.66h1.2M265.32 452.96h1.2M265.32 449.26h1.2M265.32 445.56h1.2M257.22 466.2h1.2M257.22 462.5h1.2M257.22 458.8h1.2M257.22 455.1h1.2M257.22 451.4h1.2M257.22 447.7h1.2" stroke="#4848b2" stroke-width="1.4" fill="none"/><line x1="249.3" y1="461.9" x2="288.79" y2="550.59" stroke="#000" stroke-width="1.3"/><line x1="288.79" y1="550.59" x2="403.81" y2="520.2" stroke="#000" stroke-width="1.3"/><line x1="249.3" y1="461.9" x2="249.3" y2="443.4" stroke="#000" stroke-width="1.3"/><line x1="284.55" y1="541.06" x2="281.15" y2="541.46" stroke="#000" stroke-width="1.1"/><line x1="278.02" y1="526.4" x2="274.62" y2="526.8" stroke="#000" stroke-width="1.1"/><line x1="271.5" y1="511.74" x2="268.1" y2="512.14" stroke="#000" stroke-width="1.1"/><line x1="264.97" y1="497.08" x2="261.57" y2="497.48" stroke="#000" stroke-width="1.1"/><line x1="258.44" y1="482.42" x2="255.04" y2="482.82" stroke="#000" stroke-width="1.1"/><line x1="251.91" y1="467.76" x2="248.51" y2="468.16" stroke="#000" stroke-width="1.1"/><line x1="391.91" y1="523.35" x2="392.41" y2="525.95" stroke="#000" stroke-width="1.1"/><line x1="375.71" y1="527.63" x2="376.21" y2="530.23" stroke="#000" stroke-width="1.1"/><line x1="359.51" y1="531.91" x2="360.01" y2="534.51" stroke="#000" stroke-width="1.1"/><line x1="343.31" y1="536.19" x2="343.81" y2="538.79" stroke="#000" stroke-width="1.1"/><line x1="327.11" y1="540.47" x2="327.61" y2="543.07" stroke="#000" stroke-width="1.1"/><line x1="310.91" y1="544.75" x2="311.41" y2="547.35" stroke="#000" stroke-width="1.1"/><line x1="294.71" y1="549.03" x2="295.21" y2="551.63" stroke="#000" stroke-width="1.1"/><line x1="249.3" y1="461.9" x2="247.9" y2="459.9" stroke="#000" stroke-width="1.1"/><line x1="249.3" y1="443.4" x2="247.9" y2="441.4" stroke="#000" stroke-width="1.1"/><polyline points="308.4,506 315.7,510.3 325.8,514.7 337.3,518.4 346,518.4 354.7,511.8 360.4,503.1 364.8,494.4 369.1,485.8 373.4,475.7 370.6,464.1 366.2,454 354.7,448.2 343.1,443.9 331.6,438.7 321.4,434.6 311.3,431.8 302.7,436.7 296.9,445.3 292.6,455.4 289.7,465.6 291.1,477.1 294,485.8 296.9,494.4 302.7,501.7 308.4,506" fill="none" stroke="#3d7fd2" stroke-width="1.7" stroke-linejoin="round"/><polyline points="283.9,482.9 291.1,488.7 294,485.8" fill="none" stroke="#3d7fd2" stroke-width="1.7" stroke-linejoin="round"/><polyline points="309.9,452.6 317.1,446.8 325.8,446.8 337.3,452.6 347.4,458.3 351.8,468.4 356.1,480 351.8,488.7 347.4,497.3 338.8,503.1 330.1,501.7 320,498.8 315.7,490.1 312.8,481.4 308.4,472.8 309.9,462.7 309.9,452.6" fill="none" stroke="#e2582c" stroke-width="1.7" stroke-linejoin="round"/><polyline points="278.1,468.4 286.8,468.4 294,472.8 298.3,475.7 308.4,472.8" fill="none" stroke="#e2582c" stroke-width="1.7" stroke-linejoin="round"/><polyline points="278.1,468.4 273.8,477.1 268,487.2 272.3,493 278.1,497.3 286.8,500.2 298.3,504.6 309.9,509.8 312.8,501.7 315.7,490.1" fill="none" stroke="#e2582c" stroke-width="1.7" stroke-linejoin="round"/><polyline points="283.9,482.9 291.1,488.7 294,492" fill="none" stroke="#e2582c" stroke-width="1.7" stroke-linejoin="round"/><circle cx="308.4" cy="506" r="2.3" fill="#8a1c1c"/><circle cx="315.7" cy="510.3" r="2.3" fill="#8a1c1c"/><circle cx="325.8" cy="514.7" r="2.3" fill="#8a1c1c"/><circle cx="337.3" cy="518.4" r="2.3" fill="#8a1c1c"/><circle cx="346" cy="518.4" r="2.3" fill="#8a1c1c"/><circle cx="354.7" cy="511.8" r="2.3" fill="#8a1c1c"/><circle cx="360.4" cy="503.1" r="2.3" fill="#8a1c1c"/><circle cx="364.8" cy="494.4" r="2.3" fill="#8a1c1c"/><circle cx="369.1" cy="485.8" r="2.3" fill="#8a1c1c"/><circle cx="373.4" cy="475.7" r="2.3" fill="#8a1c1c"/><circle cx="370.6" cy="464.1" r="2.3" fill="#8a1c1c"/><circle cx="366.2" cy="454" r="2.3" fill="#8a1c1c"/><circle cx="354.7" cy="448.2" r="2.3" fill="#8a1c1c"/><circle cx="343.1" cy="443.9" r="2.3" fill="#8a1c1c"/><circle cx="331.6" cy="438.7" r="2.3" fill="#8a1c1c"/><circle cx="321.4" cy="434.6" r="2.3" fill="#8a1c1c"/><circle cx="311.3" cy="431.8" r="2.3" fill="#8a1c1c"/><circle cx="302.7" cy="436.7" r="2.3" fill="#8a1c1c"/><circle cx="296.9" cy="445.3" r="2.3" fill="#8a1c1c"/><circle cx="292.6" cy="455.4" r="2.3" fill="#8a1c1c"/><circle cx="289.7" cy="465.6" r="2.3" fill="#8a1c1c"/><circle cx="291.1" cy="477.1" r="2.3" fill="#8a1c1c"/><circle cx="294" cy="485.8" r="2.3" fill="#8a1c1c"/><circle cx="296.9" cy="494.4" r="2.3" fill="#8a1c1c"/><circle cx="302.7" cy="501.7" r="2.3" fill="#8a1c1c"/><circle cx="308.4" cy="506" r="2.3" fill="#8a1c1c"/><circle cx="283.9" cy="482.9" r="2.3" fill="#8a1c1c"/><circle cx="291.1" cy="488.7" r="2.3" fill="#8a1c1c"/><circle cx="294" cy="485.8" r="2.3" fill="#8a1c1c"/><circle cx="309.9" cy="452.6" r="2.3" fill="#8a1c1c"/><circle cx="317.1" cy="446.8" r="2.3" fill="#8a1c1c"/><circle cx="325.8" cy="446.8" r="2.3" fill="#8a1c1c"/><circle cx="337.3" cy="452.6" r="2.3" fill="#8a1c1c"/><circle cx="347.4" cy="458.3" r="2.3" fill="#8a1c1c"/><circle cx="351.8" cy="468.4" r="2.3" fill="#8a1c1c"/><circle cx="356.1" cy="480" r="2.3" fill="#8a1c1c"/><circle cx="351.8" cy="488.7" r="2.3" fill="#8a1c1c"/><circle cx="347.4" cy="497.3" r="2.3" fill="#8a1c1c"/><circle cx="338.8" cy="503.1" r="2.3" fill="#8a1c1c"/><circle cx="330.1" cy="501.7" r="2.3" fill="#8a1c1c"/><circle cx="320" cy="498.8" r="2.3" fill="#8a1c1c"/><circle cx="315.7" cy="490.1" r="2.3" fill="#8a1c1c"/><circle cx="312.8" cy="481.4" r="2.3" fill="#8a1c1c"/><circle cx="308.4" cy="472.8" r="2.3" fill="#8a1c1c"/><circle cx="309.9" cy="462.7" r="2.3" fill="#8a1c1c"/><circle cx="309.9" cy="452.6" r="2.3" fill="#8a1c1c"/><circle cx="278.1" cy="468.4" r="2.3" fill="#8a1c1c"/><circle cx="286.8" cy="468.4" r="2.3" fill="#8a1c1c"/><circle cx="294" cy="472.8" r="2.3" fill="#8a1c1c"/><circle cx="298.3" cy="475.7" r="2.3" fill="#8a1c1c"/><circle cx="308.4" cy="472.8" r="2.3" fill="#8a1c1c"/><circle cx="278.1" cy="468.4" r="2.3" fill="#8a1c1c"/><circle cx="273.8" cy="477.1" r="2.3" fill="#8a1c1c"/><circle cx="268" cy="487.2" r="2.3" fill="#8a1c1c"/><circle cx="272.3" cy="493" r="2.3" fill="#8a1c1c"/><circle cx="278.1" cy="497.3" r="2.3" fill="#8a1c1c"/><circle cx="286.8" cy="500.2" r="2.3" fill="#8a1c1c"/><circle cx="298.3" cy="504.6" r="2.3" fill="#8a1c1c"/><circle cx="309.9" cy="509.8" r="2.3" fill="#8a1c1c"/><circle cx="312.8" cy="501.7" r="2.3" fill="#8a1c1c"/><circle cx="315.7" cy="490.1" r="2.3" fill="#8a1c1c"/><circle cx="283.9" cy="482.9" r="2.3" fill="#8a1c1c"/><circle cx="291.1" cy="488.7" r="2.3" fill="#8a1c1c"/><circle cx="294" cy="492" r="2.3" fill="#8a1c1c"/><text x="243" y="482.5" font-family="Liberation Serif" font-weight="bold" font-size="14" text-anchor="end">12</text><text x="249.7" y="496.5" font-family="Liberation Serif" font-weight="bold" font-size="14" text-anchor="end">10</text><text x="257" y="511.2" font-family="Liberation Serif" font-weight="bold" font-size="14" text-anchor="end">8</text><text x="263.7" y="525.9" font-family="Liberation Serif" font-weight="bold" font-size="14" text-anchor="end">6</text><text x="270.3" y="540.5" font-family="Liberation Serif" font-weight="bold" font-size="14" text-anchor="end">4</text><text x="277" y="555.2" font-family="Liberation Serif" font-weight="bold" font-size="14" text-anchor="end">2</text><text x="297.5" y="569.4" font-family="Liberation Serif" font-weight="bold" font-size="14">14</text><text x="313.6" y="565.2" font-family="Liberation Serif" font-weight="bold" font-size="14">12</text><text x="329.4" y="561" font-family="Liberation Serif" font-weight="bold" font-size="14">10</text><text x="344.7" y="556.9" font-family="Liberation Serif" font-weight="bold" font-size="14">8</text><text x="361.4" y="552.7" font-family="Liberation Serif" font-weight="bold" font-size="14">6</text><text x="376.7" y="548.5" font-family="Liberation Serif" font-weight="bold" font-size="14">4</text><text x="393.3" y="544.4" font-family="Liberation Serif" font-weight="bold" font-size="14">2</text><text x="246.3" y="444.2" font-family="Liberation Serif" font-weight="bold" font-size="14" text-anchor="end">5</text><text x="246.3" y="462" font-family="Liberation Serif" font-weight="bold" font-size="14" text-anchor="end">0</text><text x="241" y="564.1" font-family="Liberation Serif" font-weight="bold" font-size="16" text-anchor="middle">x</text><text x="356.5" y="575.9" font-family="Liberation Serif" font-weight="bold" font-size="16" text-anchor="middle">y</text><text transform="translate(229.6 454.6) rotate(-90)" font-family="Liberation Serif" font-weight="bold" font-size="16" text-anchor="middle">z</text><rect x="419.3" y="414" width="9.8" height="136.6" fill="url(#jet)" stroke="#222" stroke-width="0.5"/><text x="432.6" y="555.3" font-family="Liberation Serif" font-weight="bold" font-size="14">0</text><text x="432.6" y="527.98" font-family="Liberation Serif" font-weight="bold" font-size="14">0.2</text><line x1="427.8" y1="523.28" x2="429.1" y2="523.28" stroke="#333" stroke-width="0.6"/><text x="432.6" y="500.66" font-family="Liberation Serif" font-weight="bold" font-size="14">0.4</text><line x1="427.8" y1="495.96" x2="429.1" y2="495.96" stroke="#333" stroke-width="0.6"/><text x="432.6" y="473.34" font-family="Liberation Serif" font-weight="bold" font-size="14">0.6</text><line x1="427.8" y1="468.64" x2="429.1" y2="468.64" stroke="#333" stroke-width="0.6"/><text x="432.6" y="446.02" font-family="Liberation Serif" font-weight="bold" font-size="14">0.8</text><line x1="427.8" y1="441.32" x2="429.1" y2="441.32" stroke="#333" stroke-width="0.6"/><text x="432.6" y="418.7" font-family="Liberation Serif" font-weight="bold" font-size="14">1</text></g><g><line x1="399.57" y1="700.78" x2="284.55" y2="731.16" stroke="#d4d4d4" stroke-width="0.8"/><line x1="393.04" y1="686.12" x2="278.02" y2="716.5" stroke="#d4d4d4" stroke-width="0.8"/><line x1="386.52" y1="671.46" x2="271.5" y2="701.84" stroke="#d4d4d4" stroke-width="0.8"/><line x1="379.99" y1="656.8" x2="264.97" y2="687.18" stroke="#d4d4d4" stroke-width="0.8"/><line x1="373.46" y1="642.14" x2="258.44" y2="672.52" stroke="#d4d4d4" stroke-width="0.8"/><line x1="366.93" y1="627.48" x2="251.91" y2="657.86" stroke="#d4d4d4" stroke-width="0.8"/><line x1="391.91" y1="713.45" x2="352.41" y2="624.76" stroke="#d4d4d4" stroke-width="0.8"/><line x1="375.71" y1="717.73" x2="336.21" y2="629.04" stroke="#d4d4d4" stroke-width="0.8"/><line x1="359.51" y1="722.01" x2="320.01" y2="633.32" stroke="#d4d4d4" stroke-width="0.8"/><line x1="343.31" y1="726.29" x2="303.81" y2="637.6" stroke="#d4d4d4" stroke-width="0.8"/><line x1="327.11" y1="730.57" x2="287.61" y2="641.88" stroke="#d4d4d4" stroke-width="0.8"/><line x1="310.91" y1="734.85" x2="271.41" y2="646.16" stroke="#d4d4d4" stroke-width="0.8"/><line x1="294.71" y1="739.13" x2="255.21" y2="650.44" stroke="#d4d4d4" stroke-width="0.8"/><line x1="350.21" y1="624.76" x2="350.21" y2="606.26" stroke="#d4d4d4" stroke-width="0.8"/><line x1="334.01" y1="629.04" x2="334.01" y2="610.54" stroke="#d4d4d4" stroke-width="0.8"/><line x1="317.81" y1="633.32" x2="317.81" y2="614.82" stroke="#d4d4d4" stroke-width="0.8"/><line x1="301.61" y1="637.6" x2="301.61" y2="619.1" stroke="#d4d4d4" stroke-width="0.8"/><line x1="285.41" y1="641.88" x2="285.41" y2="623.38" stroke="#d4d4d4" stroke-width="0.8"/><line x1="269.21" y1="646.16" x2="269.21" y2="627.66" stroke="#d4d4d4" stroke-width="0.8"/><line x1="253.01" y1="650.44" x2="253.01" y2="631.94" stroke="#d4d4d4" stroke-width="0.8"/><line x1="399.57" y1="700.78" x2="399.57" y2="682.28" stroke="#d4d4d4" stroke-width="0.8"/><line x1="393.04" y1="686.12" x2="393.04" y2="667.62" stroke="#d4d4d4" stroke-width="0.8"/><line x1="386.52" y1="671.46" x2="386.52" y2="652.96" stroke="#d4d4d4" stroke-width="0.8"/><line x1="379.99" y1="656.8" x2="379.99" y2="638.3" stroke="#d4d4d4" stroke-width="0.8"/><line x1="373.46" y1="642.14" x2="373.46" y2="623.64" stroke="#d4d4d4" stroke-width="0.8"/><line x1="366.93" y1="627.48" x2="366.93" y2="608.98" stroke="#d4d4d4" stroke-width="0.8"/><line x1="249.3" y1="633.5" x2="364.32" y2="603.11" stroke="#d4d4d4" stroke-width="0.9"/><line x1="364.32" y1="603.11" x2="403.81" y2="691.81" stroke="#d4d4d4" stroke-width="0.9"/><line x1="249.3" y1="652" x2="364.32" y2="621.61" stroke="#d4d4d4" stroke-width="0.8"/><line x1="364.32" y1="621.61" x2="403.81" y2="710.31" stroke="#d4d4d4" stroke-width="0.8"/><line x1="364.32" y1="621.61" x2="364.32" y2="603.11" stroke="#d4d4d4" stroke-width="0.8"/><line x1="403.81" y1="710.31" x2="403.81" y2="691.81" stroke="#d4d4d4" stroke-width="0.8"/><path d="M398.43 709.11h1.2M398.43 705.41h1.2M398.43 701.71h1.2M398.43 698.01h1.2M398.43 694.31h1.2M398.43 690.61h1.2M390.33 711.25h1.2M390.33 707.55h1.2M390.33 703.85h1.2M390.33 700.15h1.2M390.33 696.45h1.2M390.33 692.75h1.2M382.23 713.39h1.2M382.23 709.69h1.2M382.23 705.99h1.2M382.23 702.29h1.2M382.23 698.59h1.2M382.23 694.89h1.2M374.13 715.53h1.2M374.13 711.83h1.2M374.13 708.13h1.2M374.13 704.43h1.2M374.13 700.73h1.2M374.13 697.03h1.2M366.03 717.67h1.2M366.03 713.97h1.2M366.03 710.27h1.2M366.03 706.57h1.2M366.03 702.87h1.2M366.03 699.17h1.2M357.93 719.81h1.2M357.93 716.11h1.2M357.93 712.41h1.2M357.93 708.71h1.2M357.93 705.01h1.2M357.93 701.31h1.2M349.83 721.95h1.2M349.83 718.25h1.2M349.83 714.55h1.2M349.83 710.85h1.2M349.83 707.15h1.2M349.83 703.45h1.2M341.73 724.09h1.2M341.73 720.39h1.2M341.73 716.69h1.2M341.73 712.99h1.2M341.73 709.29h1.2M341.73 705.59h1.2M333.63 726.23h1.2M333.63 722.53h1.2M333.63 718.83h1.2M333.63 715.13h1.2M333.63 711.43h1.2M333.63 707.73h1.2M325.53 728.37h1.2M325.53 724.67h1.2M325.53 720.97h1.2M325.53 717.27h1.2M325.53 713.57h1.2M325.53 709.87h1.2M317.43 730.51h1.2M317.43 726.81h1.2M317.43 723.11h1.2M317.43 719.41h1.2M317.43 715.71h1.2M317.43 712.01h1.2M309.33 732.65h1.2M309.33 728.95h1.2M309.33 725.25h1.2M309.33 721.55h1.2M309.33 717.85h1.2M309.33 714.15h1.2M301.23 734.79h1.2M301.23 731.09h1.2M301.23 727.39h1.2M301.23 723.69h1.2M301.23 719.99h1.2M301.23 716.29h1.2M293.13 736.93h1.2M293.13 733.23h1.2M293.13 729.53h1.2M293.13 725.83h1.2M293.13 722.13h1.2M293.13 718.43h1.2M395.16 701.78h1.2M395.16 698.08h1.2M395.16 694.38h1.2M395.16 690.68h1.2M395.16 686.98h1.2M395.16 683.28h1.2M387.06 703.92h1.2M387.06 700.22h1.2M387.06 696.52h1.2M387.06 692.82h1.2M387.06 689.12h1.2M387.06 685.42h1.2M378.96 706.06h1.2M378.96 702.36h1.2M378.96 698.66h1.2M378.96 694.96h1.2M378.96 691.26h1.2M378.96 687.56h1.2M370.86 708.2h1.2M370.86 704.5h1.2M370.86 700.8h1.2M370.86 697.1h1.2M370.86 693.4h1.2M370.86 689.7h1.2M362.76 710.34h1.2M362.76 706.64h1.2M362.76 702.94h1.2M362.76 699.24h1.2M362.76 695.54h1.2M362.76 691.84h1.2M354.66 712.48h1.2M354.66 708.78h1.2M354.66 705.08h1.2M354.66 701.38h1.2M354.66 697.68h1.2M354.66 693.98h1.2M346.56 714.62h1.2M346.56 710.92h1.2M346.56 707.22h1.2M346.56 703.52h1.2M346.56 699.82h1.2M346.56 696.12h1.2M338.46 716.76h1.2M338.46 713.06h1.2M338.46 709.36h1.2M338.46 705.66h1.2M338.46 701.96h1.2M338.46 698.26h1.2M330.36 718.9h1.2M330.36 715.2h1.2M330.36 711.5h1.2M330.36 707.8h1.2M330.36 704.1h1.2M330.36 700.4h1.2M322.26 721.04h1.2M322.26 717.34h1.2M322.26 713.64h1.2M322.26 709.94h1.2M322.26 706.24h1.2M322.26 702.54h1.2M314.16 723.18h1.2M314.16 719.48h1.2M314.16 715.78h1.2M314.16 712.08h1.2M314.16 708.38h1.2M314.16 704.68h1.2M306.06 725.32h1.2M306.06 721.62h1.2M306.06 717.92h1.2M306.06 714.22h1.2M306.06 710.52h1.2M306.06 706.82h1.2M297.96 727.46h1.2M297.96 723.76h1.2M297.96 720.06h1.2M297.96 716.36h1.2M297.96 712.66h1.2M297.96 708.96h1.2M289.86 729.6h1.2M289.86 725.9h1.2M289.86 722.2h1.2M289.86 718.5h1.2M289.86 714.8h1.2M289.86 711.1h1.2M391.9 694.45h1.2M391.9 690.75h1.2M391.9 687.05h1.2M391.9 683.35h1.2M391.9 679.65h1.2M391.9 675.95h1.2M383.8 696.59h1.2M383.8 692.89h1.2M383.8 689.19h1.2M383.8 685.49h1.2M383.8 681.79h1.2M383.8 678.09h1.2M375.7 698.73h1.2M375.7 695.03h1.2M375.7 691.33h1.2M375.7 687.63h1.2M375.7 683.93h1.2M375.7 680.23h1.2M367.6 700.87h1.2M367.6 697.17h1.2M367.6 693.47h1.2M367.6 689.77h1.2M367.6 686.07h1.2M367.6 682.37h1.2M359.5 703.01h1.2M359.5 699.31h1.2M359.5 695.61h1.2M359.5 691.91h1.2M359.5 688.21h1.2M359.5 684.51h1.2M351.4 705.15h1.2M351.4 701.45h1.2M351.4 697.75h1.2M351.4 694.05h1.2M351.4 690.35h1.2M351.4 686.65h1.2M343.3 707.29h1.2M343.3 703.59h1.2M343.3 699.89h1.2M343.3 696.19h1.2M343.3 692.49h1.2M343.3 688.79h1.2M335.2 709.43h1.2M335.2 705.73h1.2M335.2 702.03h1.2M335.2 698.33h1.2M335.2 694.63h1.2M335.2 690.93h1.2M327.1 711.57h1.2M327.1 707.87h1.2M327.1 704.17h1.2M327.1 700.47h1.2M327.1 696.77h1.2M327.1 693.07h1.2M319 713.71h1.2M319 710.01h1.2M319 706.31h1.2M319 702.61h1.2M319 698.91h1.2M319 695.21h1.2M310.9 715.85h1.2M310.9 712.15h1.2M310.9 708.45h1.2M310.9 704.75h1.2M310.9 701.05h1.2M310.9 697.35h1.2M302.8 717.99h1.2M302.8 714.29h1.2M302.8 710.59h1.2M302.8 706.89h1.2M302.8 703.19h1.2M302.8 699.49h1.2M294.7 720.13h1.2M294.7 716.43h1.2M294.7 712.73h1.2M294.7 709.03h1.2M294.7 705.33h1.2M294.7 701.63h1.2M286.6 722.27h1.2M286.6 718.57h1.2M286.6 714.87h1.2M286.6 711.17h1.2M286.6 707.47h1.2M286.6 703.77h1.2M388.64 687.12h1.2M388.64 683.42h1.2M388.64 679.72h1.2M388.64 676.02h1.2M388.64 672.32h1.2M388.64 668.62h1.2M380.54 689.26h1.2M380.54 685.56h1.2M380.54 681.86h1.2M380.54 678.16h1.2M380.54 674.46h1.2M380.54 670.76h1.2M372.44 691.4h1.2M372.44 687.7h1.2M372.44 684h1.2M372.44 680.3h1.2M372.44 676.6h1.2M372.44 672.9h1.2M364.34 693.54h1.2M364.34 689.84h1.2M364.34 686.14h1.2M364.34 682.44h1.2M364.34 678.74h1.2M364.34 675.04h1.2M356.24 695.68h1.2M356.24 691.98h1.2M356.24 688.28h1.2M356.24 684.58h1.2M356.24 680.88h1.2M356.24 677.18h1.2M348.14 697.82h1.2M348.14 694.12h1.2M348.14 690.42h1.2M348.14 686.72h1.2M348.14 683.02h1.2M348.14 679.32h1.2M340.04 699.96h1.2M340.04 696.26h1.2M340.04 692.56h1.2M340.04 688.86h1.2M340.04 685.16h1.2M340.04 681.46h1.2M331.94 702.1h1.2M331.94 698.4h1.2M331.94 694.7h1.2M331.94 691h1.2M331.94 687.3h1.2M331.94 683.6h1.2M323.84 704.24h1.2M323.84 700.54h1.2M323.84 696.84h1.2M323.84 693.14h1.2M323.84 689.44h1.2M323.84 685.74h1.2M315.74 706.38h1.2M315.74 702.68h1.2M315.74 698.98h1.2M315.74 695.28h1.2M315.74 691.58h1.2M315.74 687.88h1.2M307.64 708.52h1.2M307.64 704.82h1.2M307.64 701.12h1.2M307.64 697.42h1.2M307.64 693.72h1.2M307.64 690.02h1.2M299.54 710.66h1.2M299.54 706.96h1.2M299.54 703.26h1.2M299.54 699.56h1.2M299.54 695.86h1.2M299.54 692.16h1.2M291.44 712.8h1.2M291.44 709.1h1.2M291.44 705.4h1.2M291.44 701.7h1.2M291.44 698h1.2M291.44 694.3h1.2M283.34 714.94h1.2M283.34 711.24h1.2M283.34 707.54h1.2M283.34 703.84h1.2M283.34 700.14h1.2M283.34 696.44h1.2M385.37 679.79h1.2M385.37 676.09h1.2M385.37 672.39h1.2M385.37 668.69h1.2M385.37 664.99h1.2M385.37 661.29h1.2M377.27 681.93h1.2M377.27 678.23h1.2M377.27 674.53h1.2M377.27 670.83h1.2M377.27 667.13h1.2M377.27 663.43h1.2M369.17 684.07h1.2M369.17 680.37h1.2M369.17 676.67h1.2M369.17 672.97h1.2M369.17 669.27h1.2M369.17 665.57h1.2M361.07 686.21h1.2M361.07 682.51h1.2M361.07 678.81h1.2M361.07 675.11h1.2M361.07 671.41h1.2M361.07 667.71h1.2M352.97 688.35h1.2M352.97 684.65h1.2M352.97 680.95h1.2M352.97 677.25h1.2M352.97 673.55h1.2M352.97 669.85h1.2M344.87 690.49h1.2M344.87 686.79h1.2M344.87 683.09h1.2M344.87 679.39h1.2M344.87 675.69h1.2M344.87 671.99h1.2M336.77 692.63h1.2M336.77 688.93h1.2M336.77 685.23h1.2M336.77 681.53h1.2M336.77 677.83h1.2M336.77 674.13h1.2M328.67 694.77h1.2M328.67 691.07h1.2M328.67 687.37h1.2M328.67 683.67h1.2M328.67 679.97h1.2M328.67 676.27h1.2M320.57 696.91h1.2M320.57 693.21h1.2M320.57 689.51h1.2M320.57 685.81h1.2M320.57 682.11h1.2M320.57 678.41h1.2M312.47 699.05h1.2M312.47 695.35h1.2M312.47 691.65h1.2M312.47 687.95h1.2M312.47 684.25h1.2M312.47 680.55h1.2M304.37 701.19h1.2M304.37 697.49h1.2M304.37 693.79h1.2M304.37 690.09h1.2M304.37 686.39h1.2M304.37 682.69h1.2M296.27 703.33h1.2M296.27 699.63h1.2M296.27 695.93h1.2M296.27 692.23h1.2M296.27 688.53h1.2M296.27 684.83h1.2M288.17 705.47h1.2M288.17 701.77h1.2M288.17 698.07h1.2M288.17 694.37h1.2M288.17 690.67h1.2M288.17 686.97h1.2M280.07 707.61h1.2M280.07 703.91h1.2M280.07 700.21h1.2M280.07 696.51h1.2M280.07 692.81h1.2M280.07 689.11h1.2M382.11 672.46h1.2M382.11 668.76h1.2M382.11 665.06h1.2M382.11 661.36h1.2M382.11 657.66h1.2M382.11 653.96h1.2M374.01 674.6h1.2M374.01 670.9h1.2M374.01 667.2h1.2M374.01 663.5h1.2M374.01 659.8h1.2M374.01 656.1h1.2M365.91 676.74h1.2M365.91 673.04h1.2M365.91 669.34h1.2M365.91 665.64h1.2M365.91 661.94h1.2M365.91 658.24h1.2M357.81 678.88h1.2M357.81 675.18h1.2M357.81 671.48h1.2M357.81 667.78h1.2M357.81 664.08h1.2M357.81 660.38h1.2M349.71 681.02h1.2M349.71 677.32h1.2M349.71 673.62h1.2M349.71 669.92h1.2M349.71 666.22h1.2M349.71 662.52h1.2M341.61 683.16h1.2M341.61 679.46h1.2M341.61 675.76h1.2M341.61 672.06h1.2M341.61 668.36h1.2M341.61 664.66h1.2M333.51 685.3h1.2M333.51 681.6h1.2M333.51 677.9h1.2M333.51 674.2h1.2M333.51 670.5h1.2M333.51 666.8h1.2M325.41 687.44h1.2M325.41 683.74h1.2M325.41 680.04h1.2M325.41 676.34h1.2M325.41 672.64h1.2M325.41 668.94h1.2M317.31 689.58h1.2M317.31 685.88h1.2M317.31 682.18h1.2M317.31 678.48h1.2M317.31 674.78h1.2M317.31 671.08h1.2M309.21 691.72h1.2M309.21 688.02h1.2M309.21 684.32h1.2M309.21 680.62h1.2M309.21 676.92h1.2M309.21 673.22h1.2M301.11 693.86h1.2M301.11 690.16h1.2M301.11 686.46h1.2M301.11 682.76h1.2M301.11 679.06h1.2M301.11 675.36h1.2M293.01 696h1.2M293.01 692.3h1.2M293.01 688.6h1.2M293.01 684.9h1.2M293.01 681.2h1.2M293.01 677.5h1.2M284.91 698.14h1.2M284.91 694.44h1.2M284.91 690.74h1.2M284.91 687.04h1.2M284.91 683.34h1.2M284.91 679.64h1.2M276.81 700.28h1.2M276.81 696.58h1.2M276.81 692.88h1.2M276.81 689.18h1.2M276.81 685.48h1.2M276.81 681.78h1.2M378.84 665.13h1.2M378.84 661.43h1.2M378.84 657.73h1.2M378.84 654.03h1.2M378.84 650.33h1.2M378.84 646.63h1.2M370.74 667.27h1.2M370.74 663.57h1.2M370.74 659.87h1.2M370.74 656.17h1.2M370.74 652.47h1.2M370.74 648.77h1.2M362.64 669.41h1.2M362.64 665.71h1.2M362.64 662.01h1.2M362.64 658.31h1.2M362.64 654.61h1.2M362.64 650.91h1.2M354.54 671.55h1.2M354.54 667.85h1.2M354.54 664.15h1.2M354.54 660.45h1.2M354.54 656.75h1.2M354.54 653.05h1.2M346.44 673.69h1.2M346.44 669.99h1.2M346.44 666.29h1.2M346.44 662.59h1.2M346.44 658.89h1.2M346.44 655.19h1.2M338.34 675.83h1.2M338.34 672.13h1.2M338.34 668.43h1.2M338.34 664.73h1.2M338.34 661.03h1.2M338.34 657.33h1.2M330.24 677.97h1.2M330.24 674.27h1.2M330.24 670.57h1.2M330.24 666.87h1.2M330.24 663.17h1.2M330.24 659.47h1.2M322.14 680.11h1.2M322.14 676.41h1.2M322.14 672.71h1.2M322.14 669.01h1.2M322.14 665.31h1.2M322.14 661.61h1.2M314.04 682.25h1.2M314.04 678.55h1.2M314.04 674.85h1.2M314.04 671.15h1.2M314.04 667.45h1.2M314.04 663.75h1.2M305.94 684.39h1.2M305.94 680.69h1.2M305.94 676.99h1.2M305.94 673.29h1.2M305.94 669.59h1.2M305.94 665.89h1.2M297.84 686.53h1.2M297.84 682.83h1.2M297.84 679.13h1.2M297.84 675.43h1.2M297.84 671.73h1.2M297.84 668.03h1.2M289.74 688.67h1.2M289.74 684.97h1.2M289.74 681.27h1.2M289.74 677.57h1.2M289.74 673.87h1.2M289.74 670.17h1.2M281.64 690.81h1.2M281.64 687.11h1.2M281.64 683.41h1.2M281.64 679.71h1.2M281.64 676.01h1.2M281.64 672.31h1.2M273.54 692.95h1.2M273.54 689.25h1.2M273.54 685.55h1.2M273.54 681.85h1.2M273.54 678.15h1.2M273.54 674.45h1.2M375.58 657.8h1.2M375.58 654.1h1.2M375.58 650.4h1.2M375.58 646.7h1.2M375.58 643h1.2M375.58 639.3h1.2M367.48 659.94h1.2M367.48 656.24h1.2M367.48 652.54h1.2M367.48 648.84h1.2M367.48 645.14h1.2M367.48 641.44h1.2M359.38 662.08h1.2M359.38 658.38h1.2M359.38 654.68h1.2M359.38 650.98h1.2M359.38 647.28h1.2M359.38 643.58h1.2M351.28 664.22h1.2M351.28 660.52h1.2M351.28 656.82h1.2M351.28 653.12h1.2M351.28 649.42h1.2M351.28 645.72h1.2M343.18 666.36h1.2M343.18 662.66h1.2M343.18 658.96h1.2M343.18 655.26h1.2M343.18 651.56h1.2M343.18 647.86h1.2M335.08 668.5h1.2M335.08 664.8h1.2M335.08 661.1h1.2M335.08 657.4h1.2M335.08 653.7h1.2M335.08 650h1.2M326.98 670.64h1.2M326.98 666.94h1.2M326.98 663.24h1.2M326.98 659.54h1.2M326.98 655.84h1.2M326.98 652.14h1.2M318.88 672.78h1.2M318.88 669.08h1.2M318.88 665.38h1.2M318.88 661.68h1.2M318.88 657.98h1.2M318.88 654.28h1.2M310.78 674.92h1.2M310.78 671.22h1.2M310.78 667.52h1.2M310.78 663.82h1.2M310.78 660.12h1.2M310.78 656.42h1.2M302.68 677.06h1.2M302.68 673.36h1.2M302.68 669.66h1.2M302.68 665.96h1.2M302.68 662.26h1.2M302.68 658.56h1.2M294.58 679.2h1.2M294.58 675.5h1.2M294.58 671.8h1.2M294.58 668.1h1.2M294.58 664.4h1.2M294.58 660.7h1.2M286.48 681.34h1.2M286.48 677.64h1.2M286.48 673.94h1.2M286.48 670.24h1.2M286.48 666.54h1.2M286.48 662.84h1.2M278.38 683.48h1.2M278.38 679.78h1.2M278.38 676.08h1.2M278.38 672.38h1.2M278.38 668.68h1.2M278.38 664.98h1.2M270.28 685.62h1.2M270.28 681.92h1.2M270.28 678.22h1.2M270.28 674.52h1.2M270.28 670.82h1.2M270.28 667.12h1.2M372.32 650.47h1.2M372.32 646.77h1.2M372.32 643.07h1.2M372.32 639.37h1.2M372.32 635.67h1.2M372.32 631.97h1.2M364.22 652.61h1.2M364.22 648.91h1.2M364.22 645.21h1.2M364.22 641.51h1.2M364.22 637.81h1.2M364.22 634.11h1.2M356.12 654.75h1.2M356.12 651.05h1.2M356.12 647.35h1.2M356.12 643.65h1.2M356.12 639.95h1.2M356.12 636.25h1.2M348.02 656.89h1.2M348.02 653.19h1.2M348.02 649.49h1.2M348.02 645.79h1.2M348.02 642.09h1.2M348.02 638.39h1.2M339.92 659.03h1.2M339.92 655.33h1.2M339.92 651.63h1.2M339.92 647.93h1.2M339.92 644.23h1.2M339.92 640.53h1.2M331.82 661.17h1.2M331.82 657.47h1.2M331.82 653.77h1.2M331.82 650.07h1.2M331.82 646.37h1.2M331.82 642.67h1.2M323.72 663.31h1.2M323.72 659.61h1.2M323.72 655.91h1.2M323.72 652.21h1.2M323.72 648.51h1.2M323.72 644.81h1.2M315.62 665.45h1.2M315.62 661.75h1.2M315.62 658.05h1.2M315.62 654.35h1.2M315.62 650.65h1.2M315.62 646.95h1.2M307.52 667.59h1.2M307.52 663.89h1.2M307.52 660.19h1.2M307.52 656.49h1.2M307.52 652.79h1.2M307.52 649.09h1.2M299.42 669.73h1.2M299.42 666.03h1.2M299.42 662.33h1.2M299.42 658.63h1.2M299.42 654.93h1.2M299.42 651.23h1.2M291.32 671.87h1.2M291.32 668.17h1.2M291.32 664.47h1.2M291.32 660.77h1.2M291.32 657.07h1.2M291.32 653.37h1.2M283.22 674.01h1.2M283.22 670.31h1.2M283.22 666.61h1.2M283.22 662.91h1.2M283.22 659.21h1.2M283.22 655.51h1.2M275.12 676.15h1.2M275.12 672.45h1.2M275.12 668.75h1.2M275.12 665.05h1.2M275.12 661.35h1.2M275.12 657.65h1.2M267.02 678.29h1.2M267.02 674.59h1.2M267.02 670.89h1.2M267.02 667.19h1.2M267.02 663.49h1.2M267.02 659.79h1.2M369.05 643.14h1.2M369.05 639.44h1.2M369.05 635.74h1.2M369.05 632.04h1.2M369.05 628.34h1.2M369.05 624.64h1.2M360.95 645.28h1.2M360.95 641.58h1.2M360.95 637.88h1.2M360.95 634.18h1.2M360.95 630.48h1.2M360.95 626.78h1.2M352.85 647.42h1.2M352.85 643.72h1.2M352.85 640.02h1.2M352.85 636.32h1.2M352.85 632.62h1.2M352.85 628.92h1.2M344.75 649.56h1.2M344.75 645.86h1.2M344.75 642.16h1.2M344.75 638.46h1.2M344.75 634.76h1.2M344.75 631.06h1.2M336.65 651.7h1.2M336.65 648h1.2M336.65 644.3h1.2M336.65 640.6h1.2M336.65 636.9h1.2M336.65 633.2h1.2M328.55 653.84h1.2M328.55 650.14h1.2M328.55 646.44h1.2M328.55 642.74h1.2M328.55 639.04h1.2M328.55 635.34h1.2M320.45 655.98h1.2M320.45 652.28h1.2M320.45 648.58h1.2M320.45 644.88h1.2M320.45 641.18h1.2M320.45 637.48h1.2M312.35 658.12h1.2M312.35 654.42h1.2M312.35 650.72h1.2M312.35 647.02h1.2M312.35 643.32h1.2M312.35 639.62h1.2M304.25 660.26h1.2M304.25 656.56h1.2M304.25 652.86h1.2M304.25 649.16h1.2M304.25 645.46h1.2M304.25 641.76h1.2M296.15 662.4h1.2M296.15 658.7h1.2M296.15 655h1.2M296.15 651.3h1.2M296.15 647.6h1.2M296.15 643.9h1.2M288.05 664.54h1.2M288.05 660.84h1.2M288.05 657.14h1.2M288.05 653.44h1.2M288.05 649.74h1.2M288.05 646.04h1.2M279.95 666.68h1.2M279.95 662.98h1.2M279.95 659.28h1.2M279.95 655.58h1.2M279.95 651.88h1.2M279.95 648.18h1.2M271.85 668.82h1.2M271.85 665.12h1.2M271.85 661.42h1.2M271.85 657.72h1.2M271.85 654.02h1.2M271.85 650.32h1.2M263.75 670.96h1.2M263.75 667.26h1.2M263.75 663.56h1.2M263.75 659.86h1.2M263.75 656.16h1.2M263.75 652.46h1.2M365.79 635.81h1.2M365.79 632.11h1.2M365.79 628.41h1.2M365.79 624.71h1.2M365.79 621.01h1.2M365.79 617.31h1.2M357.69 637.95h1.2M357.69 634.25h1.2M357.69 630.55h1.2M357.69 626.85h1.2M357.69 623.15h1.2M357.69 619.45h1.2M349.59 640.09h1.2M349.59 636.39h1.2M349.59 632.69h1.2M349.59 628.99h1.2M349.59 625.29h1.2M349.59 621.59h1.2M341.49 642.23h1.2M341.49 638.53h1.2M341.49 634.83h1.2M341.49 631.13h1.2M341.49 627.43h1.2M341.49 623.73h1.2M333.39 644.37h1.2M333.39 640.67h1.2M333.39 636.97h1.2M333.39 633.27h1.2M333.39 629.57h1.2M333.39 625.87h1.2M325.29 646.51h1.2M325.29 642.81h1.2M325.29 639.11h1.2M325.29 635.41h1.2M325.29 631.71h1.2M325.29 628.01h1.2M317.19 648.65h1.2M317.19 644.95h1.2M317.19 641.25h1.2M317.19 637.55h1.2M317.19 633.85h1.2M317.19 630.15h1.2M309.09 650.79h1.2M309.09 647.09h1.2M309.09 643.39h1.2M309.09 639.69h1.2M309.09 635.99h1.2M309.09 632.29h1.2M300.99 652.93h1.2M300.99 649.23h1.2M300.99 645.53h1.2M300.99 641.83h1.2M300.99 638.13h1.2M300.99 634.43h1.2M292.89 655.07h1.2M292.89 651.37h1.2M292.89 647.67h1.2M292.89 643.97h1.2M292.89 640.27h1.2M292.89 636.57h1.2M284.79 657.21h1.2M284.79 653.51h1.2M284.79 649.81h1.2M284.79 646.11h1.2M284.79 642.41h1.2M284.79 638.71h1.2M276.69 659.35h1.2M276.69 655.65h1.2M276.69 651.95h1.2M276.69 648.25h1.2M276.69 644.55h1.2M276.69 640.85h1.2M268.59 661.49h1.2M268.59 657.79h1.2M268.59 654.09h1.2M268.59 650.39h1.2M268.59 646.69h1.2M268.59 642.99h1.2M260.49 663.63h1.2M260.49 659.93h1.2M260.49 656.23h1.2M260.49 652.53h1.2M260.49 648.83h1.2M260.49 645.13h1.2M362.52 628.48h1.2M362.52 624.78h1.2M362.52 621.08h1.2M362.52 617.38h1.2M362.52 613.68h1.2M362.52 609.98h1.2M354.42 630.62h1.2M354.42 626.92h1.2M354.42 623.22h1.2M354.42 619.52h1.2M354.42 615.82h1.2M354.42 612.12h1.2M346.32 632.76h1.2M346.32 629.06h1.2M346.32 625.36h1.2M346.32 621.66h1.2M346.32 617.96h1.2M346.32 614.26h1.2M338.22 634.9h1.2M338.22 631.2h1.2M338.22 627.5h1.2M338.22 623.8h1.2M338.22 620.1h1.2M338.22 616.4h1.2M330.12 637.04h1.2M330.12 633.34h1.2M330.12 629.64h1.2M330.12 625.94h1.2M330.12 622.24h1.2M330.12 618.54h1.2M322.02 639.18h1.2M322.02 635.48h1.2M322.02 631.78h1.2M322.02 628.08h1.2M322.02 624.38h1.2M322.02 620.68h1.2M313.92 641.32h1.2M313.92 637.62h1.2M313.92 633.92h1.2M313.92 630.22h1.2M313.92 626.52h1.2M313.92 622.82h1.2M305.82 643.46h1.2M305.82 639.76h1.2M305.82 636.06h1.2M305.82 632.36h1.2M305.82 628.66h1.2M305.82 624.96h1.2M297.72 645.6h1.2M297.72 641.9h1.2M297.72 638.2h1.2M297.72 634.5h1.2M297.72 630.8h1.2M297.72 627.1h1.2M289.62 647.74h1.2M289.62 644.04h1.2M289.62 640.34h1.2M289.62 636.64h1.2M289.62 632.94h1.2M289.62 629.24h1.2M281.52 649.88h1.2M281.52 646.18h1.2M281.52 642.48h1.2M281.52 638.78h1.2M281.52 635.08h1.2M281.52 631.38h1.2M273.42 652.02h1.2M273.42 648.32h1.2M273.42 644.62h1.2M273.42 640.92h1.2M273.42 637.22h1.2M273.42 633.52h1.2M265.32 654.16h1.2M265.32 650.46h1.2M265.32 646.76h1.2M265.32 643.06h1.2M265.32 639.36h1.2M265.32 635.66h1.2M257.22 656.3h1.2M257.22 652.6h1.2M257.22 648.9h1.2M257.22 645.2h1.2M257.22 641.5h1.2M257.22 637.8h1.2" stroke="#4848b2" stroke-width="1.4" fill="none"/><line x1="249.3" y1="652" x2="288.79" y2="740.69" stroke="#000" stroke-width="1.3"/><line x1="288.79" y1="740.69" x2="403.81" y2="710.31" stroke="#000" stroke-width="1.3"/><line x1="249.3" y1="652" x2="249.3" y2="633.5" stroke="#000" stroke-width="1.3"/><line x1="284.55" y1="731.16" x2="281.15" y2="731.56" stroke="#000" stroke-width="1.1"/><line x1="278.02" y1="716.5" x2="274.62" y2="716.9" stroke="#000" stroke-width="1.1"/><line x1="271.5" y1="701.84" x2="268.1" y2="702.24" stroke="#000" stroke-width="1.1"/><line x1="264.97" y1="687.18" x2="261.57" y2="687.58" stroke="#000" stroke-width="1.1"/><line x1="258.44" y1="672.52" x2="255.04" y2="672.92" stroke="#000" stroke-width="1.1"/><line x1="251.91" y1="657.86" x2="248.51" y2="658.26" stroke="#000" stroke-width="1.1"/><line x1="391.91" y1="713.45" x2="392.41" y2="716.05" stroke="#000" stroke-width="1.1"/><line x1="375.71" y1="717.73" x2="376.21" y2="720.33" stroke="#000" stroke-width="1.1"/><line x1="359.51" y1="722.01" x2="360.01" y2="724.61" stroke="#000" stroke-width="1.1"/><line x1="343.31" y1="726.29" x2="343.81" y2="728.89" stroke="#000" stroke-width="1.1"/><line x1="327.11" y1="730.57" x2="327.61" y2="733.17" stroke="#000" stroke-width="1.1"/><line x1="310.91" y1="734.85" x2="311.41" y2="737.45" stroke="#000" stroke-width="1.1"/><line x1="294.71" y1="739.13" x2="295.21" y2="741.73" stroke="#000" stroke-width="1.1"/><line x1="249.3" y1="652" x2="247.9" y2="650" stroke="#000" stroke-width="1.1"/><line x1="249.3" y1="633.5" x2="247.9" y2="631.5" stroke="#000" stroke-width="1.1"/><polyline points="295.4,626.7 304.1,626.7 312.2,622.3 321.4,624.6 331.6,628.7 343.1,633.9 354.7,639.1 366.2,644 370.6,654.1 373.4,665.7 369.1,675.8 364.8,684.4 360.4,693.1 354.7,701.8 347.4,707.6 337.3,708.4 327.2,711.9 317.1,709 308.4,704.7 307,700.3 301.2,691.7 295.4,680.1 294,670 291.1,658.4 285.3,645.4 289.7,633.9 295.4,626.7" fill="none" stroke="#3d7fd2" stroke-width="1.7" stroke-linejoin="round"/><polyline points="301.2,641.1 307,651.2 309.9,661.3 312.8,670 315.7,678.7 318.6,688.8 322.9,698.9 330.1,694.6 338.8,691.7 347.4,687.3 351.8,678.7 356.1,670 351.8,658.4 347.4,648.3 337.3,642.6 327.2,636.8 317.1,635.3 309.9,641.1 301.2,641.1" fill="none" stroke="#e2582c" stroke-width="1.7" stroke-linejoin="round"/><polyline points="278.1,658.4 286.8,659.9 295.4,664.2 304,668 312.8,670" fill="none" stroke="#e2582c" stroke-width="1.7" stroke-linejoin="round"/><polyline points="278.1,658.4 273.8,667.1 268,677.2 272.3,683 278.1,688.8 286.8,691.7 298.3,694.6 308.4,700.3 314.2,691.7 315.7,678.7" fill="none" stroke="#e2582c" stroke-width="1.7" stroke-linejoin="round"/><polyline points="283.9,672.9 291.1,678.7 295,682" fill="none" stroke="#e2582c" stroke-width="1.7" stroke-linejoin="round"/><circle cx="295.4" cy="626.7" r="2.3" fill="#8a1c1c"/><circle cx="304.1" cy="626.7" r="2.3" fill="#8a1c1c"/><circle cx="312.2" cy="622.3" r="2.3" fill="#8a1c1c"/><circle cx="321.4" cy="624.6" r="2.3" fill="#8a1c1c"/><circle cx="331.6" cy="628.7" r="2.3" fill="#8a1c1c"/><circle cx="343.1" cy="633.9" r="2.3" fill="#8a1c1c"/><circle cx="354.7" cy="639.1" r="2.3" fill="#8a1c1c"/><circle cx="366.2" cy="644" r="2.3" fill="#8a1c1c"/><circle cx="370.6" cy="654.1" r="2.3" fill="#8a1c1c"/><circle cx="373.4" cy="665.7" r="2.3" fill="#8a1c1c"/><circle cx="369.1" cy="675.8" r="2.3" fill="#8a1c1c"/><circle cx="364.8" cy="684.4" r="2.3" fill="#8a1c1c"/><circle cx="360.4" cy="693.1" r="2.3" fill="#8a1c1c"/><circle cx="354.7" cy="701.8" r="2.3" fill="#8a1c1c"/><circle cx="347.4" cy="707.6" r="2.3" fill="#8a1c1c"/><circle cx="337.3" cy="708.4" r="2.3" fill="#8a1c1c"/><circle cx="327.2" cy="711.9" r="2.3" fill="#8a1c1c"/><circle cx="317.1" cy="709" r="2.3" fill="#8a1c1c"/><circle cx="308.4" cy="704.7" r="2.3" fill="#8a1c1c"/><circle cx="307" cy="700.3" r="2.3" fill="#8a1c1c"/><circle cx="301.2" cy="691.7" r="2.3" fill="#8a1c1c"/><circle cx="295.4" cy="680.1" r="2.3" fill="#8a1c1c"/><circle cx="294" cy="670" r="2.3" fill="#8a1c1c"/><circle cx="291.1" cy="658.4" r="2.3" fill="#8a1c1c"/><circle cx="285.3" cy="645.4" r="2.3" fill="#8a1c1c"/><circle cx="289.7" cy="633.9" r="2.3" fill="#8a1c1c"/><circle cx="295.4" cy="626.7" r="2.3" fill="#8a1c1c"/><circle cx="301.2" cy="641.1" r="2.3" fill="#8a1c1c"/><circle cx="307" cy="651.2" r="2.3" fill="#8a1c1c"/><circle cx="309.9" cy="661.3" r="2.3" fill="#8a1c1c"/><circle cx="312.8" cy="670" r="2.3" fill="#8a1c1c"/><circle cx="315.7" cy="678.7" r="2.3" fill="#8a1c1c"/><circle cx="318.6" cy="688.8" r="2.3" fill="#8a1c1c"/><circle cx="322.9" cy="698.9" r="2.3" fill="#8a1c1c"/><circle cx="330.1" cy="694.6" r="2.3" fill="#8a1c1c"/><circle cx="338.8" cy="691.7" r="2.3" fill="#8a1c1c"/><circle cx="347.4" cy="687.3" r="2.3" fill="#8a1c1c"/><circle cx="351.8" cy="678.7" r="2.3" fill="#8a1c1c"/><circle cx="356.1" cy="670" r="2.3" fill="#8a1c1c"/><circle cx="351.8" cy="658.4" r="2.3" fill="#8a1c1c"/><circle cx="347.4" cy="648.3" r="2.3" fill="#8a1c1c"/><circle cx="337.3" cy="642.6" r="2.3" fill="#8a1c1c"/><circle cx="327.2" cy="636.8" r="2.3" fill="#8a1c1c"/><circle cx="317.1" cy="635.3" r="2.3" fill="#8a1c1c"/><circle cx="309.9" cy="641.1" r="2.3" fill="#8a1c1c"/><circle cx="301.2" cy="641.1" r="2.3" fill="#8a1c1c"/><circle cx="278.1" cy="658.4" r="2.3" fill="#8a1c1c"/><circle cx="286.8" cy="659.9" r="2.3" fill="#8a1c1c"/><circle cx="295.4" cy="664.2" r="2.3" fill="#8a1c1c"/><circle cx="304" cy="668" r="2.3" fill="#8a1c1c"/><circle cx="312.8" cy="670" r="2.3" fill="#8a1c1c"/><circle cx="278.1" cy="658.4" r="2.3" fill="#8a1c1c"/><circle cx="273.8" cy="667.1" r="2.3" fill="#8a1c1c"/><circle cx="268" cy="677.2" r="2.3" fill="#8a1c1c"/><circle cx="272.3" cy="683" r="2.3" fill="#8a1c1c"/><circle cx="278.1" cy="688.8" r="2.3" fill="#8a1c1c"/><circle cx="286.8" cy="691.7" r="2.3" fill="#8a1c1c"/><circle cx="298.3" cy="694.6" r="2.3" fill="#8a1c1c"/><circle cx="308.4" cy="700.3" r="2.3" fill="#8a1c1c"/><circle cx="314.2" cy="691.7" r="2.3" fill="#8a1c1c"/><circle cx="315.7" cy="678.7" r="2.3" fill="#8a1c1c"/><circle cx="283.9" cy="672.9" r="2.3" fill="#8a1c1c"/><circle cx="291.1" cy="678.7" r="2.3" fill="#8a1c1c"/><circle cx="295" cy="682" r="2.3" fill="#8a1c1c"/><text x="243" y="672.6" font-family="Liberation Serif" font-weight="bold" font-size="14" text-anchor="end">12</text><text x="249.7" y="686.6" font-family="Liberation Serif" font-weight="bold" font-size="14" text-anchor="end">10</text><text x="257" y="701.3" font-family="Liberation Serif" font-weight="bold" font-size="14" text-anchor="end">8</text><text x="263.7" y="716" font-family="Liberation Serif" font-weight="bold" font-size="14" text-anchor="end">6</text><text x="270.3" y="730.6" font-family="Liberation Serif" font-weight="bold" font-size="14" text-anchor="end">4</text><text x="277" y="745.3" font-family="Liberation Serif" font-weight="bold" font-size="14" text-anchor="end">2</text><text x="297.5" y="759.5" font-family="Liberation Serif" font-weight="bold" font-size="14">14</text><text x="313.6" y="755.3" font-family="Liberation Serif" font-weight="bold" font-size="14">12</text><text x="329.4" y="751.1" font-family="Liberation Serif" font-weight="bold" font-size="14">10</text><text x="344.7" y="747" font-family="Liberation Serif" font-weight="bold" font-size="14">8</text><text x="361.4" y="742.8" font-family="Liberation Serif" font-weight="bold" font-size="14">6</text><text x="376.7" y="738.6" font-family="Liberation Serif" font-weight="bold" font-size="14">4</text><text x="393.3" y="734.5" font-family="Liberation Serif" font-weight="bold" font-size="14">2</text><text x="246.3" y="634.3" font-family="Liberation Serif" font-weight="bold" font-size="14" text-anchor="end">5</text><text x="246.3" y="652.1" font-family="Liberation Serif" font-weight="bold" font-size="14" text-anchor="end">0</text><text x="241" y="754.2" font-family="Liberation Serif" font-weight="bold" font-size="16" text-anchor="middle">x</text><text x="356.5" y="766" font-family="Liberation Serif" font-weight="bold" font-size="16" text-anchor="middle">y</text><text transform="translate(229.6 644.7) rotate(-90)" font-family="Liberation Serif" font-weight="bold" font-size="16" text-anchor="middle">z</text><rect x="419.3" y="604.1" width="9.8" height="136.6" fill="url(#jet)" stroke="#222" stroke-width="0.5"/><text x="432.6" y="745.4" font-family="Liberation Serif" font-weight="bold" font-size="14">0</text><text x="432.6" y="718.08" font-family="Liberation Serif" font-weight="bold" font-size="14">0.2</text><line x1="427.8" y1="713.38" x2="429.1" y2="713.38" stroke="#333" stroke-width="0.6"/><text x="432.6" y="690.76" font-family="Liberation Serif" font-weight="bold" font-size="14">0.4</text><line x1="427.8" y1="686.06" x2="429.1" y2="686.06" stroke="#333" stroke-width="0.6"/><text x="432.6" y="663.44" font-family="Liberation Serif" font-weight="bold" font-size="14">0.6</text><line x1="427.8" y1="658.74" x2="429.1" y2="658.74" stroke="#333" stroke-width="0.6"/><text x="432.6" y="636.12" font-family="Liberation Serif" font-weight="bold" font-size="14">0.8</text><line x1="427.8" y1="631.42" x2="429.1" y2="631.42" stroke="#333" stroke-width="0.6"/><text x="432.6" y="608.8" font-family="Liberation Serif" font-weight="bold" font-size="14">1</text></g><g><line x1="399.57" y1="890.78" x2="284.55" y2="921.16" stroke="#d4d4d4" stroke-width="0.8"/><line x1="393.04" y1="876.12" x2="278.02" y2="906.5" stroke="#d4d4d4" stroke-width="0.8"/><line x1="386.52" y1="861.46" x2="271.5" y2="891.84" stroke="#d4d4d4" stroke-width="0.8"/><line x1="379.99" y1="846.8" x2="264.97" y2="877.18" stroke="#d4d4d4" stroke-width="0.8"/><line x1="373.46" y1="832.14" x2="258.44" y2="862.52" stroke="#d4d4d4" stroke-width="0.8"/><line x1="366.93" y1="817.48" x2="251.91" y2="847.86" stroke="#d4d4d4" stroke-width="0.8"/><line x1="391.91" y1="903.45" x2="352.41" y2="814.76" stroke="#d4d4d4" stroke-width="0.8"/><line x1="375.71" y1="907.73" x2="336.21" y2="819.04" stroke="#d4d4d4" stroke-width="0.8"/><line x1="359.51" y1="912.01" x2="320.01" y2="823.32" stroke="#d4d4d4" stroke-width="0.8"/><line x1="343.31" y1="916.29" x2="303.81" y2="827.6" stroke="#d4d4d4" stroke-width="0.8"/><line x1="327.11" y1="920.57" x2="287.61" y2="831.88" stroke="#d4d4d4" stroke-width="0.8"/><line x1="310.91" y1="924.85" x2="271.41" y2="836.16" stroke="#d4d4d4" stroke-width="0.8"/><line x1="294.71" y1="929.13" x2="255.21" y2="840.44" stroke="#d4d4d4" stroke-width="0.8"/><line x1="350.21" y1="814.76" x2="350.21" y2="796.26" stroke="#d4d4d4" stroke-width="0.8"/><line x1="334.01" y1="819.04" x2="334.01" y2="800.54" stroke="#d4d4d4" stroke-width="0.8"/><line x1="317.81" y1="823.32" x2="317.81" y2="804.82" stroke="#d4d4d4" stroke-width="0.8"/><line x1="301.61" y1="827.6" x2="301.61" y2="809.1" stroke="#d4d4d4" stroke-width="0.8"/><line x1="285.41" y1="831.88" x2="285.41" y2="813.38" stroke="#d4d4d4" stroke-width="0.8"/><line x1="269.21" y1="836.16" x2="269.21" y2="817.66" stroke="#d4d4d4" stroke-width="0.8"/><line x1="253.01" y1="840.44" x2="253.01" y2="821.94" stroke="#d4d4d4" stroke-width="0.8"/><line x1="399.57" y1="890.78" x2="399.57" y2="872.28" stroke="#d4d4d4" stroke-width="0.8"/><line x1="393.04" y1="876.12" x2="393.04" y2="857.62" stroke="#d4d4d4" stroke-width="0.8"/><line x1="386.52" y1="861.46" x2="386.52" y2="842.96" stroke="#d4d4d4" stroke-width="0.8"/><line x1="379.99" y1="846.8" x2="379.99" y2="828.3" stroke="#d4d4d4" stroke-width="0.8"/><line x1="373.46" y1="832.14" x2="373.46" y2="813.64" stroke="#d4d4d4" stroke-width="0.8"/><line x1="366.93" y1="817.48" x2="366.93" y2="798.98" stroke="#d4d4d4" stroke-width="0.8"/><line x1="249.3" y1="823.5" x2="364.32" y2="793.11" stroke="#d4d4d4" stroke-width="0.9"/><line x1="364.32" y1="793.11" x2="403.81" y2="881.81" stroke="#d4d4d4" stroke-width="0.9"/><line x1="249.3" y1="842" x2="364.32" y2="811.61" stroke="#d4d4d4" stroke-width="0.8"/><line x1="364.32" y1="811.61" x2="403.81" y2="900.31" stroke="#d4d4d4" stroke-width="0.8"/><line x1="364.32" y1="811.61" x2="364.32" y2="793.11" stroke="#d4d4d4" stroke-width="0.8"/><line x1="403.81" y1="900.31" x2="403.81" y2="881.81" stroke="#d4d4d4" stroke-width="0.8"/><path d="M398.43 899.11h1.2M398.43 895.41h1.2M398.43 891.71h1.2M398.43 888.01h1.2M398.43 884.31h1.2M398.43 880.61h1.2M390.33 901.25h1.2M390.33 897.55h1.2M390.33 893.85h1.2M390.33 890.15h1.2M390.33 886.45h1.2M390.33 882.75h1.2M382.23 903.39h1.2M382.23 899.69h1.2M382.23 895.99h1.2M382.23 892.29h1.2M382.23 888.59h1.2M382.23 884.89h1.2M374.13 905.53h1.2M374.13 901.83h1.2M374.13 898.13h1.2M374.13 894.43h1.2M374.13 890.73h1.2M374.13 887.03h1.2M366.03 907.67h1.2M366.03 903.97h1.2M366.03 900.27h1.2M366.03 896.57h1.2M366.03 892.87h1.2M366.03 889.17h1.2M357.93 909.81h1.2M357.93 906.11h1.2M357.93 902.41h1.2M357.93 898.71h1.2M357.93 895.01h1.2M357.93 891.31h1.2M349.83 911.95h1.2M349.83 908.25h1.2M349.83 904.55h1.2M349.83 900.85h1.2M349.83 897.15h1.2M349.83 893.45h1.2M341.73 914.09h1.2M341.73 910.39h1.2M341.73 906.69h1.2M341.73 902.99h1.2M341.73 899.29h1.2M341.73 895.59h1.2M333.63 916.23h1.2M333.63 912.53h1.2M333.63 908.83h1.2M333.63 905.13h1.2M333.63 901.43h1.2M333.63 897.73h1.2M325.53 918.37h1.2M325.53 914.67h1.2M325.53 910.97h1.2M325.53 907.27h1.2M325.53 903.57h1.2M325.53 899.87h1.2M317.43 920.51h1.2M317.43 916.81h1.2M317.43 913.11h1.2M317.43 909.41h1.2M317.43 905.71h1.2M317.43 902.01h1.2M309.33 922.65h1.2M309.33 918.95h1.2M309.33 915.25h1.2M309.33 911.55h1.2M309.33 907.85h1.2M309.33 904.15h1.2M301.23 924.79h1.2M301.23 921.09h1.2M301.23 917.39h1.2M301.23 913.69h1.2M301.23 909.99h1.2M301.23 906.29h1.2M293.13 926.93h1.2M293.13 923.23h1.2M293.13 919.53h1.2M293.13 915.83h1.2M293.13 912.13h1.2M293.13 908.43h1.2M395.16 891.78h1.2M395.16 888.08h1.2M395.16 884.38h1.2M395.16 880.68h1.2M395.16 876.98h1.2M395.16 873.28h1.2M387.06 893.92h1.2M387.06 890.22h1.2M387.06 886.52h1.2M387.06 882.82h1.2M387.06 879.12h1.2M387.06 875.42h1.2M378.96 896.06h1.2M378.96 892.36h1.2M378.96 888.66h1.2M378.96 884.96h1.2M378.96 881.26h1.2M378.96 877.56h1.2M370.86 898.2h1.2M370.86 894.5h1.2M370.86 890.8h1.2M370.86 887.1h1.2M370.86 883.4h1.2M370.86 879.7h1.2M362.76 900.34h1.2M362.76 896.64h1.2M362.76 892.94h1.2M362.76 889.24h1.2M362.76 885.54h1.2M362.76 881.84h1.2M354.66 902.48h1.2M354.66 898.78h1.2M354.66 895.08h1.2M354.66 891.38h1.2M354.66 887.68h1.2M354.66 883.98h1.2M346.56 904.62h1.2M346.56 900.92h1.2M346.56 897.22h1.2M346.56 893.52h1.2M346.56 889.82h1.2M346.56 886.12h1.2M338.46 906.76h1.2M338.46 903.06h1.2M338.46 899.36h1.2M338.46 895.66h1.2M338.46 891.96h1.2M338.46 888.26h1.2M330.36 908.9h1.2M330.36 905.2h1.2M330.36 901.5h1.2M330.36 897.8h1.2M330.36 894.1h1.2M330.36 890.4h1.2M322.26 911.04h1.2M322.26 907.34h1.2M322.26 903.64h1.2M322.26 899.94h1.2M322.26 896.24h1.2M322.26 892.54h1.2M314.16 913.18h1.2M314.16 909.48h1.2M314.16 905.78h1.2M314.16 902.08h1.2M314.16 898.38h1.2M314.16 894.68h1.2M306.06 915.32h1.2M306.06 911.62h1.2M306.06 907.92h1.2M306.06 904.22h1.2M306.06 900.52h1.2M306.06 896.82h1.2M297.96 917.46h1.2M297.96 913.76h1.2M297.96 910.06h1.2M297.96 906.36h1.2M297.96 902.66h1.2M297.96 898.96h1.2M289.86 919.6h1.2M289.86 915.9h1.2M289.86 912.2h1.2M289.86 908.5h1.2M289.86 904.8h1.2M289.86 901.1h1.2M391.9 884.45h1.2M391.9 880.75h1.2M391.9 877.05h1.2M391.9 873.35h1.2M391.9 869.65h1.2M391.9 865.95h1.2M383.8 886.59h1.2M383.8 882.89h1.2M383.8 879.19h1.2M383.8 875.49h1.2M383.8 871.79h1.2M383.8 868.09h1.2M375.7 888.73h1.2M375.7 885.03h1.2M375.7 881.33h1.2M375.7 877.63h1.2M375.7 873.93h1.2M375.7 870.23h1.2M367.6 890.87h1.2M367.6 887.17h1.2M367.6 883.47h1.2M367.6 879.77h1.2M367.6 876.07h1.2M367.6 872.37h1.2M359.5 893.01h1.2M359.5 889.31h1.2M359.5 885.61h1.2M359.5 881.91h1.2M359.5 878.21h1.2M359.5 874.51h1.2M351.4 895.15h1.2M351.4 891.45h1.2M351.4 887.75h1.2M351.4 884.05h1.2M351.4 880.35h1.2M351.4 876.65h1.2M343.3 897.29h1.2M343.3 893.59h1.2M343.3 889.89h1.2M343.3 886.19h1.2M343.3 882.49h1.2M343.3 878.79h1.2M335.2 899.43h1.2M335.2 895.73h1.2M335.2 892.03h1.2M335.2 888.33h1.2M335.2 884.63h1.2M335.2 880.93h1.2M327.1 901.57h1.2M327.1 897.87h1.2M327.1 894.17h1.2M327.1 890.47h1.2M327.1 886.77h1.2M327.1 883.07h1.2M319 903.71h1.2M319 900.01h1.2M319 896.31h1.2M319 892.61h1.2M319 888.91h1.2M319 885.21h1.2M310.9 905.85h1.2M310.9 902.15h1.2M310.9 898.45h1.2M310.9 894.75h1.2M310.9 891.05h1.2M310.9 887.35h1.2M302.8 907.99h1.2M302.8 904.29h1.2M302.8 900.59h1.2M302.8 896.89h1.2M302.8 893.19h1.2M302.8 889.49h1.2M294.7 910.13h1.2M294.7 906.43h1.2M294.7 902.73h1.2M294.7 899.03h1.2M294.7 895.33h1.2M294.7 891.63h1.2M286.6 912.27h1.2M286.6 908.57h1.2M286.6 904.87h1.2M286.6 901.17h1.2M286.6 897.47h1.2M286.6 893.77h1.2M388.64 877.12h1.2M388.64 873.42h1.2M388.64 869.72h1.2M388.64 866.02h1.2M388.64 862.32h1.2M388.64 858.62h1.2M380.54 879.26h1.2M380.54 875.56h1.2M380.54 871.86h1.2M380.54 868.16h1.2M380.54 864.46h1.2M380.54 860.76h1.2M372.44 881.4h1.2M372.44 877.7h1.2M372.44 874h1.2M372.44 870.3h1.2M372.44 866.6h1.2M372.44 862.9h1.2M364.34 883.54h1.2M364.34 879.84h1.2M364.34 876.14h1.2M364.34 872.44h1.2M364.34 868.74h1.2M364.34 865.04h1.2M356.24 885.68h1.2M356.24 881.98h1.2M356.24 878.28h1.2M356.24 874.58h1.2M356.24 870.88h1.2M356.24 867.18h1.2M348.14 887.82h1.2M348.14 884.12h1.2M348.14 880.42h1.2M348.14 876.72h1.2M348.14 873.02h1.2M348.14 869.32h1.2M340.04 889.96h1.2M340.04 886.26h1.2M340.04 882.56h1.2M340.04 878.86h1.2M340.04 875.16h1.2M340.04 871.46h1.2M331.94 892.1h1.2M331.94 888.4h1.2M331.94 884.7h1.2M331.94 881h1.2M331.94 877.3h1.2M331.94 873.6h1.2M323.84 894.24h1.2M323.84 890.54h1.2M323.84 886.84h1.2M323.84 883.14h1.2M323.84 879.44h1.2M323.84 875.74h1.2M315.74 896.38h1.2M315.74 892.68h1.2M315.74 888.98h1.2M315.74 885.28h1.2M315.74 881.58h1.2M315.74 877.88h1.2M307.64 898.52h1.2M307.64 894.82h1.2M307.64 891.12h1.2M307.64 887.42h1.2M307.64 883.72h1.2M307.64 880.02h1.2M299.54 900.66h1.2M299.54 896.96h1.2M299.54 893.26h1.2M299.54 889.56h1.2M299.54 885.86h1.2M299.54 882.16h1.2M291.44 902.8h1.2M291.44 899.1h1.2M291.44 895.4h1.2M291.44 891.7h1.2M291.44 888h1.2M291.44 884.3h1.2M283.34 904.94h1.2M283.34 901.24h1.2M283.34 897.54h1.2M283.34 893.84h1.2M283.34 890.14h1.2M283.34 886.44h1.2M385.37 869.79h1.2M385.37 866.09h1.2M385.37 862.39h1.2M385.37 858.69h1.2M385.37 854.99h1.2M385.37 851.29h1.2M377.27 871.93h1.2M377.27 868.23h1.2M377.27 864.53h1.2M377.27 860.83h1.2M377.27 857.13h1.2M377.27 853.43h1.2M369.17 874.07h1.2M369.17 870.37h1.2M369.17 866.67h1.2M369.17 862.97h1.2M369.17 859.27h1.2M369.17 855.57h1.2M361.07 876.21h1.2M361.07 872.51h1.2M361.07 868.81h1.2M361.07 865.11h1.2M361.07 861.41h1.2M361.07 857.71h1.2M352.97 878.35h1.2M352.97 874.65h1.2M352.97 870.95h1.2M352.97 867.25h1.2M352.97 863.55h1.2M352.97 859.85h1.2M344.87 880.49h1.2M344.87 876.79h1.2M344.87 873.09h1.2M344.87 869.39h1.2M344.87 865.69h1.2M344.87 861.99h1.2M336.77 882.63h1.2M336.77 878.93h1.2M336.77 875.23h1.2M336.77 871.53h1.2M336.77 867.83h1.2M336.77 864.13h1.2M328.67 884.77h1.2M328.67 881.07h1.2M328.67 877.37h1.2M328.67 873.67h1.2M328.67 869.97h1.2M328.67 866.27h1.2M320.57 886.91h1.2M320.57 883.21h1.2M320.57 879.51h1.2M320.57 875.81h1.2M320.57 872.11h1.2M320.57 868.41h1.2M312.47 889.05h1.2M312.47 885.35h1.2M312.47 881.65h1.2M312.47 877.95h1.2M312.47 874.25h1.2M312.47 870.55h1.2M304.37 891.19h1.2M304.37 887.49h1.2M304.37 883.79h1.2M304.37 880.09h1.2M304.37 876.39h1.2M304.37 872.69h1.2M296.27 893.33h1.2M296.27 889.63h1.2M296.27 885.93h1.2M296.27 882.23h1.2M296.27 878.53h1.2M296.27 874.83h1.2M288.17 895.47h1.2M288.17 891.77h1.2M288.17 888.07h1.2M288.17 884.37h1.2M288.17 880.67h1.2M288.17 876.97h1.2M280.07 897.61h1.2M280.07 893.91h1.2M280.07 890.21h1.2M280.07 886.51h1.2M280.07 882.81h1.2M280.07 879.11h1.2M382.11 862.46h1.2M382.11 858.76h1.2M382.11 855.06h1.2M382.11 851.36h1.2M382.11 847.66h1.2M382.11 843.96h1.2M374.01 864.6h1.2M374.01 860.9h1.2M374.01 857.2h1.2M374.01 853.5h1.2M374.01 849.8h1.2M374.01 846.1h1.2M365.91 866.74h1.2M365.91 863.04h1.2M365.91 859.34h1.2M365.91 855.64h1.2M365.91 851.94h1.2M365.91 848.24h1.2M357.81 868.88h1.2M357.81 865.18h1.2M357.81 861.48h1.2M357.81 857.78h1.2M357.81 854.08h1.2M357.81 850.38h1.2M349.71 871.02h1.2M349.71 867.32h1.2M349.71 863.62h1.2M349.71 859.92h1.2M349.71 856.22h1.2M349.71 852.52h1.2M341.61 873.16h1.2M341.61 869.46h1.2M341.61 865.76h1.2M341.61 862.06h1.2M341.61 858.36h1.2M341.61 854.66h1.2M333.51 875.3h1.2M333.51 871.6h1.2M333.51 867.9h1.2M333.51 864.2h1.2M333.51 860.5h1.2M333.51 856.8h1.2M325.41 877.44h1.2M325.41 873.74h1.2M325.41 870.04h1.2M325.41 866.34h1.2M325.41 862.64h1.2M325.41 858.94h1.2M317.31 879.58h1.2M317.31 875.88h1.2M317.31 872.18h1.2M317.31 868.48h1.2M317.31 864.78h1.2M317.31 861.08h1.2M309.21 881.72h1.2M309.21 878.02h1.2M309.21 874.32h1.2M309.21 870.62h1.2M309.21 866.92h1.2M309.21 863.22h1.2M301.11 883.86h1.2M301.11 880.16h1.2M301.11 876.46h1.2M301.11 872.76h1.2M301.11 869.06h1.2M301.11 865.36h1.2M293.01 886h1.2M293.01 882.3h1.2M293.01 878.6h1.2M293.01 874.9h1.2M293.01 871.2h1.2M293.01 867.5h1.2M284.91 888.14h1.2M284.91 884.44h1.2M284.91 880.74h1.2M284.91 877.04h1.2M284.91 873.34h1.2M284.91 869.64h1.2M276.81 890.28h1.2M276.81 886.58h1.2M276.81 882.88h1.2M276.81 879.18h1.2M276.81 875.48h1.2M276.81 871.78h1.2M378.84 855.13h1.2M378.84 851.43h1.2M378.84 847.73h1.2M378.84 844.03h1.2M378.84 840.33h1.2M378.84 836.63h1.2M370.74 857.27h1.2M370.74 853.57h1.2M370.74 849.87h1.2M370.74 846.17h1.2M370.74 842.47h1.2M370.74 838.77h1.2M362.64 859.41h1.2M362.64 855.71h1.2M362.64 852.01h1.2M362.64 848.31h1.2M362.64 844.61h1.2M362.64 840.91h1.2M354.54 861.55h1.2M354.54 857.85h1.2M354.54 854.15h1.2M354.54 850.45h1.2M354.54 846.75h1.2M354.54 843.05h1.2M346.44 863.69h1.2M346.44 859.99h1.2M346.44 856.29h1.2M346.44 852.59h1.2M346.44 848.89h1.2M346.44 845.19h1.2M338.34 865.83h1.2M338.34 862.13h1.2M338.34 858.43h1.2M338.34 854.73h1.2M338.34 851.03h1.2M338.34 847.33h1.2M330.24 867.97h1.2M330.24 864.27h1.2M330.24 860.57h1.2M330.24 856.87h1.2M330.24 853.17h1.2M330.24 849.47h1.2M322.14 870.11h1.2M322.14 866.41h1.2M322.14 862.71h1.2M322.14 859.01h1.2M322.14 855.31h1.2M322.14 851.61h1.2M314.04 872.25h1.2M314.04 868.55h1.2M314.04 864.85h1.2M314.04 861.15h1.2M314.04 857.45h1.2M314.04 853.75h1.2M305.94 874.39h1.2M305.94 870.69h1.2M305.94 866.99h1.2M305.94 863.29h1.2M305.94 859.59h1.2M305.94 855.89h1.2M297.84 876.53h1.2M297.84 872.83h1.2M297.84 869.13h1.2M297.84 865.43h1.2M297.84 861.73h1.2M297.84 858.03h1.2M289.74 878.67h1.2M289.74 874.97h1.2M289.74 871.27h1.2M289.74 867.57h1.2M289.74 863.87h1.2M289.74 860.17h1.2M281.64 880.81h1.2M281.64 877.11h1.2M281.64 873.41h1.2M281.64 869.71h1.2M281.64 866.01h1.2M281.64 862.31h1.2M273.54 882.95h1.2M273.54 879.25h1.2M273.54 875.55h1.2M273.54 871.85h1.2M273.54 868.15h1.2M273.54 864.45h1.2M375.58 847.8h1.2M375.58 844.1h1.2M375.58 840.4h1.2M375.58 836.7h1.2M375.58 833h1.2M375.58 829.3h1.2M367.48 849.94h1.2M367.48 846.24h1.2M367.48 842.54h1.2M367.48 838.84h1.2M367.48 835.14h1.2M367.48 831.44h1.2M359.38 852.08h1.2M359.38 848.38h1.2M359.38 844.68h1.2M359.38 840.98h1.2M359.38 837.28h1.2M359.38 833.58h1.2M351.28 854.22h1.2M351.28 850.52h1.2M351.28 846.82h1.2M351.28 843.12h1.2M351.28 839.42h1.2M351.28 835.72h1.2M343.18 856.36h1.2M343.18 852.66h1.2M343.18 848.96h1.2M343.18 845.26h1.2M343.18 841.56h1.2M343.18 837.86h1.2M335.08 858.5h1.2M335.08 854.8h1.2M335.08 851.1h1.2M335.08 847.4h1.2M335.08 843.7h1.2M335.08 840h1.2M326.98 860.64h1.2M326.98 856.94h1.2M326.98 853.24h1.2M326.98 849.54h1.2M326.98 845.84h1.2M326.98 842.14h1.2M318.88 862.78h1.2M318.88 859.08h1.2M318.88 855.38h1.2M318.88 851.68h1.2M318.88 847.98h1.2M318.88 844.28h1.2M310.78 864.92h1.2M310.78 861.22h1.2M310.78 857.52h1.2M310.78 853.82h1.2M310.78 850.12h1.2M310.78 846.42h1.2M302.68 867.06h1.2M302.68 863.36h1.2M302.68 859.66h1.2M302.68 855.96h1.2M302.68 852.26h1.2M302.68 848.56h1.2M294.58 869.2h1.2M294.58 865.5h1.2M294.58 861.8h1.2M294.58 858.1h1.2M294.58 854.4h1.2M294.58 850.7h1.2M286.48 871.34h1.2M286.48 867.64h1.2M286.48 863.94h1.2M286.48 860.24h1.2M286.48 856.54h1.2M286.48 852.84h1.2M278.38 873.48h1.2M278.38 869.78h1.2M278.38 866.08h1.2M278.38 862.38h1.2M278.38 858.68h1.2M278.38 854.98h1.2M270.28 875.62h1.2M270.28 871.92h1.2M270.28 868.22h1.2M270.28 864.52h1.2M270.28 860.82h1.2M270.28 857.12h1.2M372.32 840.47h1.2M372.32 836.77h1.2M372.32 833.07h1.2M372.32 829.37h1.2M372.32 825.67h1.2M372.32 821.97h1.2M364.22 842.61h1.2M364.22 838.91h1.2M364.22 835.21h1.2M364.22 831.51h1.2M364.22 827.81h1.2M364.22 824.11h1.2M356.12 844.75h1.2M356.12 841.05h1.2M356.12 837.35h1.2M356.12 833.65h1.2M356.12 829.95h1.2M356.12 826.25h1.2M348.02 846.89h1.2M348.02 843.19h1.2M348.02 839.49h1.2M348.02 835.79h1.2M348.02 832.09h1.2M348.02 828.39h1.2M339.92 849.03h1.2M339.92 845.33h1.2M339.92 841.63h1.2M339.92 837.93h1.2M339.92 834.23h1.2M339.92 830.53h1.2M331.82 851.17h1.2M331.82 847.47h1.2M331.82 843.77h1.2M331.82 840.07h1.2M331.82 836.37h1.2M331.82 832.67h1.2M323.72 853.31h1.2M323.72 849.61h1.2M323.72 845.91h1.2M323.72 842.21h1.2M323.72 838.51h1.2M323.72 834.81h1.2M315.62 855.45h1.2M315.62 851.75h1.2M315.62 848.05h1.2M315.62 844.35h1.2M315.62 840.65h1.2M315.62 836.95h1.2M307.52 857.59h1.2M307.52 853.89h1.2M307.52 850.19h1.2M307.52 846.49h1.2M307.52 842.79h1.2M307.52 839.09h1.2M299.42 859.73h1.2M299.42 856.03h1.2M299.42 852.33h1.2M299.42 848.63h1.2M299.42 844.93h1.2M299.42 841.23h1.2M291.32 861.87h1.2M291.32 858.17h1.2M291.32 854.47h1.2M291.32 850.77h1.2M291.32 847.07h1.2M291.32 843.37h1.2M283.22 864.01h1.2M283.22 860.31h1.2M283.22 856.61h1.2M283.22 852.91h1.2M283.22 849.21h1.2M283.22 845.51h1.2M275.12 866.15h1.2M275.12 862.45h1.2M275.12 858.75h1.2M275.12 855.05h1.2M275.12 851.35h1.2M275.12 847.65h1.2M267.02 868.29h1.2M267.02 864.59h1.2M267.02 860.89h1.2M267.02 857.19h1.2M267.02 853.49h1.2M267.02 849.79h1.2M369.05 833.14h1.2M369.05 829.44h1.2M369.05 825.74h1.2M369.05 822.04h1.2M369.05 818.34h1.2M369.05 814.64h1.2M360.95 835.28h1.2M360.95 831.58h1.2M360.95 827.88h1.2M360.95 824.18h1.2M360.95 820.48h1.2M360.95 816.78h1.2M352.85 837.42h1.2M352.85 833.72h1.2M352.85 830.02h1.2M352.85 826.32h1.2M352.85 822.62h1.2M352.85 818.92h1.2M344.75 839.56h1.2M344.75 835.86h1.2M344.75 832.16h1.2M344.75 828.46h1.2M344.75 824.76h1.2M344.75 821.06h1.2M336.65 841.7h1.2M336.65 838h1.2M336.65 834.3h1.2M336.65 830.6h1.2M336.65 826.9h1.2M336.65 823.2h1.2M328.55 843.84h1.2M328.55 840.14h1.2M328.55 836.44h1.2M328.55 832.74h1.2M328.55 829.04h1.2M328.55 825.34h1.2M320.45 845.98h1.2M320.45 842.28h1.2M320.45 838.58h1.2M320.45 834.88h1.2M320.45 831.18h1.2M320.45 827.48h1.2M312.35 848.12h1.2M312.35 844.42h1.2M312.35 840.72h1.2M312.35 837.02h1.2M312.35 833.32h1.2M312.35 829.62h1.2M304.25 850.26h1.2M304.25 846.56h1.2M304.25 842.86h1.2M304.25 839.16h1.2M304.25 835.46h1.2M304.25 831.76h1.2M296.15 852.4h1.2M296.15 848.7h1.2M296.15 845h1.2M296.15 841.3h1.2M296.15 837.6h1.2M296.15 833.9h1.2M288.05 854.54h1.2M288.05 850.84h1.2M288.05 847.14h1.2M288.05 843.44h1.2M288.05 839.74h1.2M288.05 836.04h1.2M279.95 856.68h1.2M279.95 852.98h1.2M279.95 849.28h1.2M279.95 845.58h1.2M279.95 841.88h1.2M279.95 838.18h1.2M271.85 858.82h1.2M271.85 855.12h1.2M271.85 851.42h1.2M271.85 847.72h1.2M271.85 844.02h1.2M271.85 840.32h1.2M263.75 860.96h1.2M263.75 857.26h1.2M263.75 853.56h1.2M263.75 849.86h1.2M263.75 846.16h1.2M263.75 842.46h1.2M365.79 825.81h1.2M365.79 822.11h1.2M365.79 818.41h1.2M365.79 814.71h1.2M365.79 811.01h1.2M365.79 807.31h1.2M357.69 827.95h1.2M357.69 824.25h1.2M357.69 820.55h1.2M357.69 816.85h1.2M357.69 813.15h1.2M357.69 809.45h1.2M349.59 830.09h1.2M349.59 826.39h1.2M349.59 822.69h1.2M349.59 818.99h1.2M349.59 815.29h1.2M349.59 811.59h1.2M341.49 832.23h1.2M341.49 828.53h1.2M341.49 824.83h1.2M341.49 821.13h1.2M341.49 817.43h1.2M341.49 813.73h1.2M333.39 834.37h1.2M333.39 830.67h1.2M333.39 826.97h1.2M333.39 823.27h1.2M333.39 819.57h1.2M333.39 815.87h1.2M325.29 836.51h1.2M325.29 832.81h1.2M325.29 829.11h1.2M325.29 825.41h1.2M325.29 821.71h1.2M325.29 818.01h1.2M317.19 838.65h1.2M317.19 834.95h1.2M317.19 831.25h1.2M317.19 827.55h1.2M317.19 823.85h1.2M317.19 820.15h1.2M309.09 840.79h1.2M309.09 837.09h1.2M309.09 833.39h1.2M309.09 829.69h1.2M309.09 825.99h1.2M309.09 822.29h1.2M300.99 842.93h1.2M300.99 839.23h1.2M300.99 835.53h1.2M300.99 831.83h1.2M300.99 828.13h1.2M300.99 824.43h1.2M292.89 845.07h1.2M292.89 841.37h1.2M292.89 837.67h1.2M292.89 833.97h1.2M292.89 830.27h1.2M292.89 826.57h1.2M284.79 847.21h1.2M284.79 843.51h1.2M284.79 839.81h1.2M284.79 836.11h1.2M284.79 832.41h1.2M284.79 828.71h1.2M276.69 849.35h1.2M276.69 845.65h1.2M276.69 841.95h1.2M276.69 838.25h1.2M276.69 834.55h1.2M276.69 830.85h1.2M268.59 851.49h1.2M268.59 847.79h1.2M268.59 844.09h1.2M268.59 840.39h1.2M268.59 836.69h1.2M268.59 832.99h1.2M260.49 853.63h1.2M260.49 849.93h1.2M260.49 846.23h1.2M260.49 842.53h1.2M260.49 838.83h1.2M260.49 835.13h1.2M362.52 818.48h1.2M362.52 814.78h1.2M362.52 811.08h1.2M362.52 807.38h1.2M362.52 803.68h1.2M362.52 799.98h1.2M354.42 820.62h1.2M354.42 816.92h1.2M354.42 813.22h1.2M354.42 809.52h1.2M354.42 805.82h1.2M354.42 802.12h1.2M346.32 822.76h1.2M346.32 819.06h1.2M346.32 815.36h1.2M346.32 811.66h1.2M346.32 807.96h1.2M346.32 804.26h1.2M338.22 824.9h1.2M338.22 821.2h1.2M338.22 817.5h1.2M338.22 813.8h1.2M338.22 810.1h1.2M338.22 806.4h1.2M330.12 827.04h1.2M330.12 823.34h1.2M330.12 819.64h1.2M330.12 815.94h1.2M330.12 812.24h1.2M330.12 808.54h1.2M322.02 829.18h1.2M322.02 825.48h1.2M322.02 821.78h1.2M322.02 818.08h1.2M322.02 814.38h1.2M322.02 810.68h1.2M313.92 831.32h1.2M313.92 827.62h1.2M313.92 823.92h1.2M313.92 820.22h1.2M313.92 816.52h1.2M313.92 812.82h1.2M305.82 833.46h1.2M305.82 829.76h1.2M305.82 826.06h1.2M305.82 822.36h1.2M305.82 818.66h1.2M305.82 814.96h1.2M297.72 835.6h1.2M297.72 831.9h1.2M297.72 828.2h1.2M297.72 824.5h1.2M297.72 820.8h1.2M297.72 817.1h1.2M289.62 837.74h1.2M289.62 834.04h1.2M289.62 830.34h1.2M289.62 826.64h1.2M289.62 822.94h1.2M289.62 819.24h1.2M281.52 839.88h1.2M281.52 836.18h1.2M281.52 832.48h1.2M281.52 828.78h1.2M281.52 825.08h1.2M281.52 821.38h1.2M273.42 842.02h1.2M273.42 838.32h1.2M273.42 834.62h1.2M273.42 830.92h1.2M273.42 827.22h1.2M273.42 823.52h1.2M265.32 844.16h1.2M265.32 840.46h1.2M265.32 836.76h1.2M265.32 833.06h1.2M265.32 829.36h1.2M265.32 825.66h1.2M257.22 846.3h1.2M257.22 842.6h1.2M257.22 838.9h1.2M257.22 835.2h1.2M257.22 831.5h1.2M257.22 827.8h1.2" stroke="#4848b2" stroke-width="1.4" fill="none"/><line x1="249.3" y1="842" x2="288.79" y2="930.69" stroke="#000" stroke-width="1.3"/><line x1="288.79" y1="930.69" x2="403.81" y2="900.31" stroke="#000" stroke-width="1.3"/><line x1="249.3" y1="842" x2="249.3" y2="823.5" stroke="#000" stroke-width="1.3"/><line x1="284.55" y1="921.16" x2="281.15" y2="921.56" stroke="#000" stroke-width="1.1"/><line x1="278.02" y1="906.5" x2="274.62" y2="906.9" stroke="#000" stroke-width="1.1"/><line x1="271.5" y1="891.84" x2="268.1" y2="892.24" stroke="#000" stroke-width="1.1"/><line x1="264.97" y1="877.18" x2="261.57" y2="877.58" stroke="#000" stroke-width="1.1"/><line x1="258.44" y1="862.52" x2="255.04" y2="862.92" stroke="#000" stroke-width="1.1"/><line x1="251.91" y1="847.86" x2="248.51" y2="848.26" stroke="#000" stroke-width="1.1"/><line x1="391.91" y1="903.45" x2="392.41" y2="906.05" stroke="#000" stroke-width="1.1"/><line x1="375.71" y1="907.73" x2="376.21" y2="910.33" stroke="#000" stroke-width="1.1"/><line x1="359.51" y1="912.01" x2="360.01" y2="914.61" stroke="#000" stroke-width="1.1"/><line x1="343.31" y1="916.29" x2="343.81" y2="918.89" stroke="#000" stroke-width="1.1"/><line x1="327.11" y1="920.57" x2="327.61" y2="923.17" stroke="#000" stroke-width="1.1"/><line x1="310.91" y1="924.85" x2="311.41" y2="927.45" stroke="#000" stroke-width="1.1"/><line x1="294.71" y1="929.13" x2="295.21" y2="931.73" stroke="#000" stroke-width="1.1"/><line x1="249.3" y1="842" x2="247.9" y2="840" stroke="#000" stroke-width="1.1"/><line x1="249.3" y1="823.5" x2="247.9" y2="821.5" stroke="#000" stroke-width="1.1"/><polyline points="283.9,822.4 295.4,816.7 304.1,818.1 312.2,812.3 321.4,814.6 331.6,818.7 343.1,823.9 354.7,829.1 366.2,834 370.6,844.1 373.4,855.7 369.1,865.8 364.8,874.4 360.4,883.1 354.7,891.8 347.4,897.6 337.3,898.4 327.2,901.9 317.1,899 308.4,894.7 304.1,887.4 301.2,880.2 296.9,870.1 294,860 291.1,848.4 285.3,835.4 283.9,822.4" fill="none" stroke="#3d7fd2" stroke-width="1.7" stroke-linejoin="round"/><polyline points="302.7,831.1 308.4,841.2 309.9,851.3 312.8,860 315.7,870.1 320,880.2 322.9,888.9 330.1,884.6 338.8,881.7 347.4,877.3 351.8,868.7 356.1,860 351.8,848.4 347.4,838.3 337.3,832.6 327.2,826.8 317.1,825.3 309.9,831.1 302.7,831.1" fill="none" stroke="#e2582c" stroke-width="1.7" stroke-linejoin="round"/><polyline points="278.1,848.4 286.8,849.9 296.9,855.7 305,858 312.8,860" fill="none" stroke="#e2582c" stroke-width="1.7" stroke-linejoin="round"/><polyline points="278.1,848.4 273.8,857.1 268,867.2 272.3,873 278.1,878.8 286.8,881.7 298.3,884.6 308.4,881.7 315.7,878.8 315.7,870.1" fill="none" stroke="#e2582c" stroke-width="1.7" stroke-linejoin="round"/><polyline points="288.2,867.2 292.6,871.6 295.4,864.3" fill="none" stroke="#e2582c" stroke-width="1.7" stroke-linejoin="round"/><circle cx="283.9" cy="822.4" r="2.3" fill="#8a1c1c"/><circle cx="295.4" cy="816.7" r="2.3" fill="#8a1c1c"/><circle cx="304.1" cy="818.1" r="2.3" fill="#8a1c1c"/><circle cx="312.2" cy="812.3" r="2.3" fill="#8a1c1c"/><circle cx="321.4" cy="814.6" r="2.3" fill="#8a1c1c"/><circle cx="331.6" cy="818.7" r="2.3" fill="#8a1c1c"/><circle cx="343.1" cy="823.9" r="2.3" fill="#8a1c1c"/><circle cx="354.7" cy="829.1" r="2.3" fill="#8a1c1c"/><circle cx="366.2" cy="834" r="2.3" fill="#8a1c1c"/><circle cx="370.6" cy="844.1" r="2.3" fill="#8a1c1c"/><circle cx="373.4" cy="855.7" r="2.3" fill="#8a1c1c"/><circle cx="369.1" cy="865.8" r="2.3" fill="#8a1c1c"/><circle cx="364.8" cy="874.4" r="2.3" fill="#8a1c1c"/><circle cx="360.4" cy="883.1" r="2.3" fill="#8a1c1c"/><circle cx="354.7" cy="891.8" r="2.3" fill="#8a1c1c"/><circle cx="347.4" cy="897.6" r="2.3" fill="#8a1c1c"/><circle cx="337.3" cy="898.4" r="2.3" fill="#8a1c1c"/><circle cx="327.2" cy="901.9" r="2.3" fill="#8a1c1c"/><circle cx="317.1" cy="899" r="2.3" fill="#8a1c1c"/><circle cx="308.4" cy="894.7" r="2.3" fill="#8a1c1c"/><circle cx="304.1" cy="887.4" r="2.3" fill="#8a1c1c"/><circle cx="301.2" cy="880.2" r="2.3" fill="#8a1c1c"/><circle cx="296.9" cy="870.1" r="2.3" fill="#8a1c1c"/><circle cx="294" cy="860" r="2.3" fill="#8a1c1c"/><circle cx="291.1" cy="848.4" r="2.3" fill="#8a1c1c"/><circle cx="285.3" cy="835.4" r="2.3" fill="#8a1c1c"/><circle cx="283.9" cy="822.4" r="2.3" fill="#8a1c1c"/><circle cx="302.7" cy="831.1" r="2.3" fill="#8a1c1c"/><circle cx="308.4" cy="841.2" r="2.3" fill="#8a1c1c"/><circle cx="309.9" cy="851.3" r="2.3" fill="#8a1c1c"/><circle cx="312.8" cy="860" r="2.3" fill="#8a1c1c"/><circle cx="315.7" cy="870.1" r="2.3" fill="#8a1c1c"/><circle cx="320" cy="880.2" r="2.3" fill="#8a1c1c"/><circle cx="322.9" cy="888.9" r="2.3" fill="#8a1c1c"/><circle cx="330.1" cy="884.6" r="2.3" fill="#8a1c1c"/><circle cx="338.8" cy="881.7" r="2.3" fill="#8a1c1c"/><circle cx="347.4" cy="877.3" r="2.3" fill="#8a1c1c"/><circle cx="351.8" cy="868.7" r="2.3" fill="#8a1c1c"/><circle cx="356.1" cy="860" r="2.3" fill="#8a1c1c"/><circle cx="351.8" cy="848.4" r="2.3" fill="#8a1c1c"/><circle cx="347.4" cy="838.3" r="2.3" fill="#8a1c1c"/><circle cx="337.3" cy="832.6" r="2.3" fill="#8a1c1c"/><circle cx="327.2" cy="826.8" r="2.3" fill="#8a1c1c"/><circle cx="317.1" cy="825.3" r="2.3" fill="#8a1c1c"/><circle cx="309.9" cy="831.1" r="2.3" fill="#8a1c1c"/><circle cx="302.7" cy="831.1" r="2.3" fill="#8a1c1c"/><circle cx="278.1" cy="848.4" r="2.3" fill="#8a1c1c"/><circle cx="286.8" cy="849.9" r="2.3" fill="#8a1c1c"/><circle cx="296.9" cy="855.7" r="2.3" fill="#8a1c1c"/><circle cx="305" cy="858" r="2.3" fill="#8a1c1c"/><circle cx="312.8" cy="860" r="2.3" fill="#8a1c1c"/><circle cx="278.1" cy="848.4" r="2.3" fill="#8a1c1c"/><circle cx="273.8" cy="857.1" r="2.3" fill="#8a1c1c"/><circle cx="268" cy="867.2" r="2.3" fill="#8a1c1c"/><circle cx="272.3" cy="873" r="2.3" fill="#8a1c1c"/><circle cx="278.1" cy="878.8" r="2.3" fill="#8a1c1c"/><circle cx="286.8" cy="881.7" r="2.3" fill="#8a1c1c"/><circle cx="298.3" cy="884.6" r="2.3" fill="#8a1c1c"/><circle cx="308.4" cy="881.7" r="2.3" fill="#8a1c1c"/><circle cx="315.7" cy="878.8" r="2.3" fill="#8a1c1c"/><circle cx="315.7" cy="870.1" r="2.3" fill="#8a1c1c"/><circle cx="288.2" cy="867.2" r="2.3" fill="#8a1c1c"/><circle cx="292.6" cy="871.6" r="2.3" fill="#8a1c1c"/><circle cx="295.4" cy="864.3" r="2.3" fill="#8a1c1c"/><text x="243" y="862.6" font-family="Liberation Serif" font-weight="bold" font-size="14" text-anchor="end">12</text><text x="249.7" y="876.6" font-family="Liberation Serif" font-weight="bold" font-size="14" text-anchor="end">10</text><text x="257" y="891.3" font-family="Liberation Serif" font-weight="bold" font-size="14" text-anchor="end">8</text><text x="263.7" y="906" font-family="Liberation Serif" font-weight="bold" font-size="14" text-anchor="end">6</text><text x="270.3" y="920.6" font-family="Liberation Serif" font-weight="bold" font-size="14" text-anchor="end">4</text><text x="277" y="935.3" font-family="Liberation Serif" font-weight="bold" font-size="14" text-anchor="end">2</text><text x="297.5" y="949.5" font-family="Liberation Serif" font-weight="bold" font-size="14">14</text><text x="313.6" y="945.3" font-family="Liberation Serif" font-weight="bold" font-size="14">12</text><text x="329.4" y="941.1" font-family="Liberation Serif" font-weight="bold" font-size="14">10</text><text x="344.7" y="937" font-family="Liberation Serif" font-weight="bold" font-size="14">8</text><text x="361.4" y="932.8" font-family="Liberation Serif" font-weight="bold" font-size="14">6</text><text x="376.7" y="928.6" font-family="Liberation Serif" font-weight="bold" font-size="14">4</text><text x="393.3" y="924.5" font-family="Liberation Serif" font-weight="bold" font-size="14">2</text><text x="246.3" y="824.3" font-family="Liberation Serif" font-weight="bold" font-size="14" text-anchor="end">5</text><text x="246.3" y="842.1" font-family="Liberation Serif" font-weight="bold" font-size="14" text-anchor="end">0</text><text x="241" y="944.2" font-family="Liberation Serif" font-weight="bold" font-size="16" text-anchor="middle">x</text><text x="356.5" y="956" font-family="Liberation Serif" font-weight="bold" font-size="16" text-anchor="middle">y</text><text transform="translate(229.6 834.7) rotate(-90)" font-family="Liberation Serif" font-weight="bold" font-size="16" text-anchor="middle">z</text><rect x="419.3" y="794.1" width="9.8" height="136.6" fill="url(#jet)" stroke="#222" stroke-width="0.5"/><text x="432.6" y="935.4" font-family="Liberation Serif" font-weight="bold" font-size="14">0</text><text x="432.6" y="908.08" font-family="Liberation Serif" font-weight="bold" font-size="14">0.2</text><line x1="427.8" y1="903.38" x2="429.1" y2="903.38" stroke="#333" stroke-width="0.6"/><text x="432.6" y="880.76" font-family="Liberation Serif" font-weight="bold" font-size="14">0.4</text><line x1="427.8" y1="876.06" x2="429.1" y2="876.06" stroke="#333" stroke-width="0.6"/><text x="432.6" y="853.44" font-family="Liberation Serif" font-weight="bold" font-size="14">0.6</text><line x1="427.8" y1="848.74" x2="429.1" y2="848.74" stroke="#333" stroke-width="0.6"/><text x="432.6" y="826.12" font-family="Liberation Serif" font-weight="bold" font-size="14">0.8</text><line x1="427.8" y1="821.42" x2="429.1" y2="821.42" stroke="#333" stroke-width="0.6"/><text x="432.6" y="798.8" font-family="Liberation Serif" font-weight="bold" font-size="14">1</text></g><path d="M178.2 129.8L117.7 69.7M171.7 134.5L111.6 73.2M165.1 139.3L105.4 76.7M158.4 144.2L99 80.4M151.5 149.2L92.6 84M144.5 154.4L86 87.8M137.3 159.6L79.3 91.6M129.9 165L72.4 95.5M122.4 170.5L65.4 99.5M114.7 176.1L58.3 103.6M106.8 181.9L51 107.7M98.7 187.8L43.6 111.9M90.4 193.8L36 116.3M81.9 200L28.3 120.7M178.2 129.8L81.9 200M171.9 123.5L76.2 191.6M165.8 117.5L70.7 183.5M159.8 111.6L65.4 175.6M154.1 105.8L60.2 168M148.4 100.3L55.2 160.6M143 94.8L50.4 153.4M137.6 89.5L45.7 146.5M132.5 84.4L41.1 139.7M127.4 79.4L36.7 133.2M122.5 74.5L32.4 126.8M117.7 69.7L28.3 120.7M181.3 123.6L118.2 62.3M174.6 128.4L111.9 65.8M167.8 133.3L105.5 69.4M160.8 138.4L98.9 73.1M153.6 143.5L92.2 76.8M146.3 148.8L85.4 80.6M138.8 154.2L78.4 84.5M131.2 159.8L71.3 88.5M123.3 165.4L64 92.6M115.2 171.3L56.6 96.7M107 177.2L49 101M98.5 183.4L41.3 105.3M89.8 189.6L33.4 109.7M80.9 196.1L25.3 114.2M181.3 123.6L80.9 196.1M174.7 117.1L75 187.3M168.3 110.9L69.2 178.9M162.1 104.9L63.7 170.7M156 99L58.3 162.9M150.2 93.3L53.2 155.2M144.5 87.8L48.1 147.8M139 82.4L43.3 140.7M133.6 77.2L38.6 133.8M128.3 72.1L34 127M123.2 67.1L29.6 120.5M118.2 62.3L25.3 114.2M184.6 116.8L118.8 54.3M177.7 121.7L112.3 57.9M170.6 126.8L105.6 61.5M163.4 132L98.8 65.2M155.9 137.3L91.8 69.1M148.3 142.8L84.7 72.9M140.5 148.3L77.5 76.9M132.5 154.1L70.1 81M124.3 159.9L62.5 85.1M115.9 166L54.8 89.3M107.2 172.2L46.9 93.6M98.3 178.5L38.8 98.1M89.2 185L30.6 102.6M79.8 191.7L22.1 107.2M184.6 116.8L79.8 191.7M177.7 110.2L73.6 182.6M171 103.9L67.6 173.9M164.5 97.7L61.9 165.4M158.2 91.7L56.3 157.3M152.1 85.9L50.9 149.4M146.1 80.2L45.7 141.8M140.4 74.7L40.7 134.4M134.7 69.4L35.8 127.3M129.3 64.2L31.1 120.4M124 59.2L26.5 113.7M118.8 54.3L22.1 107.2M188.3 109.4L119.4 45.7M181.1 114.5L112.7 49.3M173.7 119.7L105.7 53M166.2 125L98.7 56.8M158.4 130.5L91.4 60.7M150.5 136.1L84 64.6M142.3 141.9L76.5 68.7M134 147.8L68.8 72.8M125.4 153.9L60.9 77M116.5 160.1L52.8 81.3M107.5 166.6L44.6 85.7M98.1 173.2L36.1 90.2M88.5 180L27.5 94.9M78.6 186.9L18.6 99.6M188.3 109.4L78.6 186.9M181 102.7L72.1 177.5M174 96.2L65.9 168.3M167.1 89.8L59.9 159.6M160.5 83.7L54 151.1M154.1 77.8L48.4 143M147.9 72L43 135.1M141.9 66.5L37.8 127.5M136 61.1L32.8 120.2M130.3 55.8L27.9 113.1M124.8 50.7L23.2 106.2M119.4 45.7L18.6 99.6M192.3 101.4L120.1 36.5M184.8 106.6L113.1 40.1M177.1 111.9L105.9 43.9M169.3 117.4L98.5 47.7M161.2 123.1L91 51.6M152.9 128.9L83.3 55.6M144.4 134.8L75.4 59.7M135.6 140.9L67.4 63.9M126.6 147.2L59.1 68.2M117.3 153.7L50.7 72.6M107.7 160.4L42.1 77.1M97.9 167.2L33.2 81.7M87.8 174.3L24.2 86.4M77.3 181.6L14.9 91.3M192.3 101.4L77.3 181.6M184.6 94.5L70.5 171.7M177.2 87.8L63.9 162.2M170 81.3L57.6 153.1M163.1 75.1L51.6 144.3M156.3 69L45.7 135.9M149.8 63.2L40.1 127.8M143.5 57.5L34.7 120M137.4 52L29.5 112.4M131.5 46.7L24.4 105.1M125.7 41.5L19.6 98.1M120.1 36.5L14.9 91.3M196.7 92.5L120.8 26.5M188.9 97.9L113.5 30.2M180.9 103.4L106 34M172.7 109L98.4 37.8M164.2 114.8L90.5 41.8M155.5 120.8L82.5 45.9M146.6 127L74.3 50M137.4 133.3L65.9 54.3M127.9 139.8L57.2 58.6M118.1 146.5L48.4 63.1M108.1 153.5L39.3 67.7M97.7 160.6L30 72.4M86.9 168L20.5 77.2M75.9 175.6L10.7 82.2M196.7 92.5L75.9 175.6M188.5 85.4L68.7 165.3M180.7 78.6L61.8 155.4M173.1 72L55.2 145.9M165.8 65.6L48.8 136.8M158.8 59.5L42.7 128.1M151.9 53.5L36.9 119.7M145.3 47.8L31.3 111.6M138.9 42.2L25.8 103.9M132.7 36.8L20.6 96.4M126.7 31.5L15.6 89.1M120.8 26.5L10.7 82.2" stroke="#a2d0e6" stroke-width="0.5" fill="none" opacity="0.75"/><path d="M178.2 129.8L196.7 92.5M171.7 134.5L188.9 97.9M165.1 139.3L180.9 103.4M158.4 144.2L172.7 109M151.5 149.2L164.2 114.8M144.5 154.4L155.5 120.8M137.3 159.6L146.6 127M129.9 165L137.4 133.3M122.4 170.5L127.9 139.8M114.7 176.1L118.1 146.5M106.8 181.9L108.1 153.5M98.7 187.8L97.7 160.6M90.4 193.8L86.9 168M81.9 200L75.9 175.6M171.9 123.5L188.5 85.4M165.5 128.1L180.8 90.6M158.9 132.8L172.8 95.9M152.2 137.5L164.7 101.3M145.4 142.4L156.3 106.9M138.4 147.4L147.6 112.7M131.2 152.5L138.7 118.6M123.9 157.7L129.6 124.7M116.4 163L120.2 131M108.7 168.5L110.5 137.4M100.9 174.1L100.5 144.1M92.8 179.8L90.2 150.9M84.6 185.6L79.6 158M76.2 191.6L68.7 165.3M165.8 117.5L180.7 78.6M159.4 121.9L173 83.6M152.9 126.4L165.1 88.7M146.2 131.1L157 94M139.4 135.8L148.6 99.3M132.4 140.6L140 104.9M125.3 145.6L131.2 110.6M118 150.6L122.1 116.4M110.6 155.8L112.8 122.5M103 161.1L103.2 128.7M95.2 166.5L93.3 135.1M87.2 172L83.1 141.6M79 177.7L72.6 148.4M70.7 183.5L61.8 155.4M159.8 111.6L173.1 72M153.5 115.9L165.5 76.8M147 120.3L157.6 81.8M140.3 124.8L149.5 86.8M133.6 129.4L141.2 92M126.7 134.1L132.7 97.4M119.6 138.9L123.9 102.9M112.3 143.8L114.9 108.5M105 148.8L105.7 114.3M97.4 153.9L96.2 120.3M89.7 159.1L86.4 126.4M81.7 164.5L76.3 132.7M73.6 170L65.9 139.2M65.4 175.6L55.2 145.9M154.1 105.8L165.8 65.6M147.7 110L158.2 70.3M141.3 114.3L150.4 75.1M134.7 118.7L142.3 79.9M127.9 123.1L134.1 85M121 127.7L125.6 90.1M114 132.3L116.9 95.4M106.8 137.1L108 100.8M99.5 142L98.8 106.4M92 146.9L89.4 112.2M84.3 152L79.7 118.1M76.5 157.2L69.7 124.1M68.4 162.5L59.4 130.4M60.2 168L48.8 136.8M148.4 100.3L158.8 59.5M142.1 104.3L151.2 64M135.7 108.5L143.4 68.6M129.1 112.7L135.4 73.3M122.4 117.1L127.2 78.2M115.6 121.5L118.8 83.1M108.6 126L110.2 88.2M101.5 130.6L101.3 93.5M94.2 135.4L92.2 98.8M86.7 140.2L82.9 104.4M79.1 145.1L73.3 110.1M71.3 150.2L63.4 115.9M63.4 155.3L53.2 121.9M55.2 160.6L42.7 128.1M143 94.8L151.9 53.5M136.7 98.8L144.4 57.9M130.3 102.8L136.6 62.3M123.8 107L128.7 66.9M117.1 111.2L120.6 71.6M110.3 115.5L112.2 76.4M103.4 119.9L103.7 81.3M96.3 124.4L94.9 86.3M89 128.9L85.9 91.5M81.6 133.6L76.6 96.9M74.1 138.4L67.1 102.3M66.4 143.3L57.3 108M58.5 148.3L47.2 113.8M50.4 153.4L36.9 119.7M137.6 89.5L145.3 47.8M131.4 93.4L137.8 52M125 97.3L130.1 56.3M118.6 101.4L122.2 60.7M111.9 105.5L114.1 65.2M105.2 109.6L105.9 69.9M98.3 113.9L97.4 74.6M91.2 118.3L88.7 79.5M84 122.7L79.7 84.5M76.7 127.3L70.5 89.6M69.2 131.9L61.1 94.9M61.5 136.7L51.4 100.3M53.7 141.5L41.5 105.9M45.7 146.5L31.3 111.6M132.5 84.4L138.9 42.2M126.3 88.1L131.4 46.3M119.9 92L123.8 50.4M113.5 95.9L116 54.7M106.9 99.9L107.9 59.1M100.2 104L99.7 63.6M93.3 108.1L91.3 68.1M86.3 112.3L82.7 72.9M79.2 116.7L73.8 77.7M71.9 121.1L64.7 82.6M64.5 125.6L55.4 87.7M56.8 130.2L45.8 93M49.1 134.9L36 98.3M41.1 139.7L25.8 103.9M127.4 79.4L132.7 36.8M121.2 83L125.3 40.7M114.9 86.8L117.7 44.8M108.5 90.6L109.9 48.9M102 94.5L101.9 53.1M95.3 98.4L93.8 57.5M88.5 102.5L85.4 61.9M81.6 106.6L76.9 66.5M74.5 110.8L68.1 71.1M67.2 115.1L59.1 75.9M59.8 119.5L49.8 80.8M52.3 123.9L40.4 85.9M44.6 128.5L30.6 91M36.7 133.2L20.6 96.4M122.5 74.5L126.7 31.5M116.3 78.1L119.3 35.4M110.1 81.7L111.8 39.3M103.7 85.4L104 43.3M97.2 89.2L96.1 47.4M90.6 93L88 51.6M83.8 97L79.8 55.9M76.9 101L71.3 60.3M69.9 105.1L62.6 64.8M62.7 109.2L53.6 69.4M55.4 113.5L44.5 74.2M47.9 117.9L35.1 79M40.2 122.3L25.5 84M32.4 126.8L15.6 89.1M117.7 69.7L120.8 26.5M111.6 73.2L113.5 30.2M105.4 76.7L106 34M99 80.4L98.4 37.8M92.6 84L90.5 41.8M86 87.8L82.5 45.9M79.3 91.6L74.3 50M72.4 95.5L65.9 54.3M65.4 99.5L57.2 58.6M58.3 103.6L48.4 63.1M51 107.7L39.3 67.7M43.6 111.9L30 72.4M36 116.3L20.5 77.2M28.3 120.7L10.7 82.2" stroke="#d4d4da" stroke-width="0.4" fill="none" opacity="0.8"/><path d="M178.2 129.8h0.1M181.3 123.6h0.1M184.6 116.8h0.1M188.3 109.4h0.1M192.3 101.4h0.1M196.7 92.5h0.1M171.7 134.5h0.1M174.6 128.4h0.1M177.7 121.7h0.1M181.1 114.5h0.1M184.8 106.6h0.1M188.9 97.9h0.1M165.1 139.3h0.1M167.8 133.3h0.1M170.6 126.8h0.1M173.7 119.7h0.1M177.1 111.9h0.1M180.9 103.4h0.1M158.4 144.2h0.1M160.8 138.4h0.1M163.4 132h0.1M166.2 125h0.1M169.3 117.4h0.1M172.7 109h0.1M151.5 149.2h0.1M153.6 143.5h0.1M155.9 137.3h0.1M158.4 130.5h0.1M161.2 123.1h0.1M164.2 114.8h0.1M144.5 154.4h0.1M146.3 148.8h0.1M148.3 142.8h0.1M150.5 136.1h0.1M152.9 128.9h0.1M155.5 120.8h0.1M137.3 159.6h0.1M138.8 154.2h0.1M140.5 148.3h0.1M142.3 141.9h0.1M144.4 134.8h0.1M146.6 127h0.1M129.9 165h0.1M131.2 159.8h0.1M132.5 154.1h0.1M134 147.8h0.1M135.6 140.9h0.1M137.4 133.3h0.1M122.4 170.5h0.1M123.3 165.4h0.1M124.3 159.9h0.1M125.4 153.9h0.1M126.6 147.2h0.1M127.9 139.8h0.1M114.7 176.1h0.1M115.2 171.3h0.1M115.9 166h0.1M116.5 160.1h0.1M117.3 153.7h0.1M118.1 146.5h0.1M106.8 181.9h0.1M107 177.2h0.1M107.2 172.2h0.1M107.5 166.6h0.1M107.7 160.4h0.1M108.1 153.5h0.1M98.7 187.8h0.1M98.5 183.4h0.1M98.3 178.5h0.1M98.1 173.2h0.1M97.9 167.2h0.1M97.7 160.6h0.1M90.4 193.8h0.1M89.8 189.6h0.1M89.2 185h0.1M88.5 180h0.1M87.8 174.3h0.1M86.9 168h0.1M81.9 200h0.1M80.9 196.1h0.1M79.8 191.7h0.1M78.6 186.9h0.1M77.3 181.6h0.1M75.9 175.6h0.1M171.9 123.5h0.1M174.7 117.1h0.1M177.7 110.2h0.1M181 102.7h0.1M184.6 94.5h0.1M188.5 85.4h0.1M165.5 128.1h0.1M168 121.8h0.1M170.8 115h0.1M173.9 107.6h0.1M177.2 99.5h0.1M180.8 90.6h0.1M158.9 132.8h0.1M161.2 126.6h0.1M163.8 119.9h0.1M166.5 112.6h0.1M169.5 104.7h0.1M172.8 95.9h0.1M152.2 137.5h0.1M154.3 131.5h0.1M156.5 124.9h0.1M159 117.8h0.1M161.7 110h0.1M164.7 101.3h0.1M145.4 142.4h0.1M147.2 136.5h0.1M149.2 130.1h0.1M151.3 123.1h0.1M153.7 115.4h0.1M156.3 106.9h0.1M138.4 147.4h0.1M139.9 141.6h0.1M141.6 135.4h0.1M143.4 128.5h0.1M145.4 121h0.1M147.6 112.7h0.1M131.2 152.5h0.1M132.5 146.9h0.1M133.8 140.8h0.1M135.3 134.1h0.1M136.9 126.7h0.1M138.7 118.6h0.1M123.9 157.7h0.1M124.8 152.2h0.1M125.9 146.3h0.1M127 139.8h0.1M128.2 132.6h0.1M129.6 124.7h0.1M116.4 163h0.1M117 157.7h0.1M117.7 152h0.1M118.5 145.6h0.1M119.3 138.7h0.1M120.2 131h0.1M108.7 168.5h0.1M109 163.4h0.1M109.3 157.8h0.1M109.7 151.7h0.1M110.1 144.9h0.1M110.5 137.4h0.1M100.9 174.1h0.1M100.8 169.1h0.1M100.8 163.8h0.1M100.7 157.9h0.1M100.6 151.3h0.1M100.5 144.1h0.1M92.8 179.8h0.1M92.4 175.1h0.1M91.9 169.9h0.1M91.4 164.2h0.1M90.9 157.9h0.1M90.2 150.9h0.1M84.6 185.6h0.1M83.8 181.1h0.1M82.9 176.2h0.1M81.9 170.7h0.1M80.8 164.7h0.1M79.6 158h0.1M76.2 191.6h0.1M75 187.3h0.1M73.6 182.6h0.1M72.1 177.5h0.1M70.5 171.7h0.1M68.7 165.3h0.1M165.8 117.5h0.1M168.3 110.9h0.1M171 103.9h0.1M174 96.2h0.1M177.2 87.8h0.1M180.7 78.6h0.1M159.4 121.9h0.1M161.7 115.5h0.1M164.1 108.5h0.1M166.8 100.9h0.1M169.8 92.6h0.1M173 83.6h0.1M152.9 126.4h0.1M154.9 120.1h0.1M157.1 113.3h0.1M159.5 105.8h0.1M162.2 97.6h0.1M165.1 88.7h0.1M146.2 131.1h0.1M148 124.9h0.1M149.9 118.1h0.1M152.1 110.8h0.1M154.4 102.8h0.1M157 94h0.1M139.4 135.8h0.1M140.9 129.7h0.1M142.6 123.1h0.1M144.4 115.9h0.1M146.4 108h0.1M148.6 99.3h0.1M132.4 140.6h0.1M133.7 134.7h0.1M135.1 128.2h0.1M136.6 121.1h0.1M138.2 113.4h0.1M140 104.9h0.1M125.3 145.6h0.1M126.3 139.8h0.1M127.3 133.4h0.1M128.5 126.5h0.1M129.8 118.9h0.1M131.2 110.6h0.1M118 150.6h0.1M118.7 145h0.1M119.4 138.8h0.1M120.3 132h0.1M121.1 124.6h0.1M122.1 116.4h0.1M110.6 155.8h0.1M111 150.3h0.1M111.3 144.3h0.1M111.8 137.7h0.1M112.3 130.5h0.1M112.8 122.5h0.1M103 161.1h0.1M103 155.7h0.1M103 149.9h0.1M103.1 143.5h0.1M103.1 136.5h0.1M103.2 128.7h0.1M95.2 166.5h0.1M94.9 161.3h0.1M94.5 155.7h0.1M94.2 149.5h0.1M93.8 142.6h0.1M93.3 135.1h0.1M87.2 172h0.1M86.5 167h0.1M85.8 161.6h0.1M85 155.6h0.1M84.1 149h0.1M83.1 141.6h0.1M79 177.7h0.1M78 172.9h0.1M76.8 167.6h0.1M75.6 161.9h0.1M74.2 155.5h0.1M72.6 148.4h0.1M70.7 183.5h0.1M69.2 178.9h0.1M67.6 173.9h0.1M65.9 168.3h0.1M63.9 162.2h0.1M61.8 155.4h0.1M159.8 111.6h0.1M162.1 104.9h0.1M164.5 97.7h0.1M167.1 89.8h0.1M170 81.3h0.1M173.1 72h0.1M153.5 115.9h0.1M155.5 109.3h0.1M157.7 102.2h0.1M160.1 94.5h0.1M162.6 86h0.1M165.5 76.8h0.1M147 120.3h0.1M148.8 113.8h0.1M150.7 106.8h0.1M152.8 99.2h0.1M155.1 90.9h0.1M157.6 81.8h0.1M140.3 124.8h0.1M141.9 118.4h0.1M143.5 111.5h0.1M145.4 104h0.1M147.3 95.8h0.1M149.5 86.8h0.1M133.6 129.4h0.1M134.9 123.1h0.1M136.2 116.3h0.1M137.7 108.9h0.1M139.4 100.9h0.1M141.2 92h0.1M126.7 134.1h0.1M127.7 127.9h0.1M128.8 121.3h0.1M129.9 114h0.1M131.3 106.1h0.1M132.7 97.4h0.1M119.6 138.9h0.1M120.3 132.9h0.1M121.1 126.3h0.1M122 119.2h0.1M122.9 111.4h0.1M123.9 102.9h0.1M112.3 143.8h0.1M112.8 137.9h0.1M113.2 131.5h0.1M113.8 124.5h0.1M114.3 116.9h0.1M114.9 108.5h0.1M105 148.8h0.1M105.1 143h0.1M105.2 136.8h0.1M105.3 130h0.1M105.5 122.5h0.1M105.7 114.3h0.1M97.4 153.9h0.1M97.2 148.3h0.1M97 142.3h0.1M96.7 135.6h0.1M96.4 128.3h0.1M96.2 120.3h0.1M89.7 159.1h0.1M89.1 153.7h0.1M88.5 147.8h0.1M87.9 141.4h0.1M87.1 134.3h0.1M86.4 126.4h0.1M81.7 164.5h0.1M80.8 159.3h0.1M79.9 153.5h0.1M78.8 147.3h0.1M77.6 140.4h0.1M76.3 132.7h0.1M73.6 170h0.1M72.4 164.9h0.1M71 159.4h0.1M69.4 153.3h0.1M67.8 146.6h0.1M65.9 139.2h0.1M65.4 175.6h0.1M63.7 170.7h0.1M61.9 165.4h0.1M59.9 159.6h0.1M57.6 153.1h0.1M55.2 145.9h0.1M154.1 105.8h0.1M156 99h0.1M158.2 91.7h0.1M160.5 83.7h0.1M163.1 75.1h0.1M165.8 65.6h0.1M147.7 110h0.1M149.5 103.3h0.1M151.4 96.1h0.1M153.5 88.2h0.1M155.7 79.6h0.1M158.2 70.3h0.1M141.3 114.3h0.1M142.8 107.7h0.1M144.5 100.5h0.1M146.3 92.8h0.1M148.2 84.3h0.1M150.4 75.1h0.1M134.7 118.7h0.1M136 112.2h0.1M137.4 105.1h0.1M138.9 97.4h0.1M140.5 89.1h0.1M142.3 79.9h0.1M127.9 123.1h0.1M129 116.7h0.1M130.1 109.8h0.1M131.3 102.2h0.1M132.6 94h0.1M134.1 85h0.1M121 127.7h0.1M121.8 121.4h0.1M122.6 114.6h0.1M123.5 107.1h0.1M124.5 99h0.1M125.6 90.1h0.1M114 132.3h0.1M114.5 126.2h0.1M115 119.5h0.1M115.6 112.2h0.1M116.2 104.2h0.1M116.9 95.4h0.1M106.8 137.1h0.1M107 131.1h0.1M107.2 124.5h0.1M107.5 117.3h0.1M107.7 109.5h0.1M108 100.8h0.1M99.5 142h0.1M99.4 136h0.1M99.3 129.6h0.1M99.1 122.6h0.1M99 114.9h0.1M98.8 106.4h0.1M92 146.9h0.1M91.6 141.2h0.1M91.1 134.9h0.1M90.6 128h0.1M90 120.5h0.1M89.4 112.2h0.1M84.3 152h0.1M83.5 146.4h0.1M82.7 140.3h0.1M81.8 133.6h0.1M80.8 126.2h0.1M79.7 118.1h0.1M76.5 157.2h0.1M75.3 151.7h0.1M74.1 145.8h0.1M72.8 139.3h0.1M71.3 132.1h0.1M69.7 124.1h0.1M68.4 162.5h0.1M66.9 157.2h0.1M65.3 151.5h0.1M63.5 145.1h0.1M61.6 138.1h0.1M59.4 130.4h0.1M60.2 168h0.1M58.3 162.9h0.1M56.3 157.3h0.1M54 151.1h0.1M51.6 144.3h0.1M48.8 136.8h0.1M148.4 100.3h0.1M150.2 93.3h0.1M152.1 85.9h0.1M154.1 77.8h0.1M156.3 69h0.1M158.8 59.5h0.1M142.1 104.3h0.1M143.7 97.5h0.1M145.3 90.1h0.1M147.1 82.1h0.1M149 73.4h0.1M151.2 64h0.1M135.7 108.5h0.1M137 101.7h0.1M138.4 94.5h0.1M139.9 86.6h0.1M141.6 78h0.1M143.4 68.6h0.1M129.1 112.7h0.1M130.2 106.1h0.1M131.3 98.9h0.1M132.6 91.1h0.1M133.9 82.6h0.1M135.4 73.3h0.1M122.4 117.1h0.1M123.2 110.5h0.1M124.1 103.4h0.1M125.1 95.7h0.1M126.1 87.3h0.1M127.2 78.2h0.1M115.6 121.5h0.1M116.1 115.1h0.1M116.7 108.1h0.1M117.4 100.5h0.1M118 92.2h0.1M118.8 83.1h0.1M108.6 126h0.1M108.9 119.7h0.1M109.2 112.8h0.1M109.5 105.3h0.1M109.8 97.2h0.1M110.2 88.2h0.1M101.5 130.6h0.1M101.5 124.4h0.1M101.4 117.7h0.1M101.4 110.3h0.1M101.4 102.3h0.1M101.3 93.5h0.1M94.2 135.4h0.1M93.9 129.3h0.1M93.5 122.6h0.1M93.1 115.4h0.1M92.7 107.5h0.1M92.2 98.8h0.1M86.7 140.2h0.1M86.1 134.2h0.1M85.4 127.7h0.1M84.6 120.7h0.1M83.8 112.9h0.1M82.9 104.4h0.1M79.1 145.1h0.1M78.1 139.3h0.1M77.1 132.9h0.1M75.9 126h0.1M74.7 118.4h0.1M73.3 110.1h0.1M71.3 150.2h0.1M70 144.5h0.1M68.6 138.3h0.1M67 131.5h0.1M65.3 124.1h0.1M63.4 115.9h0.1M63.4 155.3h0.1M61.7 149.8h0.1M59.8 143.8h0.1M57.8 137.2h0.1M55.6 129.9h0.1M53.2 121.9h0.1M55.2 160.6h0.1M53.2 155.2h0.1M50.9 149.4h0.1M48.4 143h0.1M45.7 135.9h0.1M42.7 128.1h0.1M143 94.8h0.1M144.5 87.8h0.1M146.1 80.2h0.1M147.9 72h0.1M149.8 63.2h0.1M151.9 53.5h0.1M136.7 98.8h0.1M138 91.8h0.1M139.4 84.4h0.1M140.9 76.2h0.1M142.6 67.5h0.1M144.4 57.9h0.1M130.3 102.8h0.1M131.4 96h0.1M132.5 88.6h0.1M133.8 80.5h0.1M135.1 71.8h0.1M136.6 62.3h0.1M123.8 107h0.1M124.6 100.2h0.1M125.5 92.9h0.1M126.5 84.9h0.1M127.5 76.3h0.1M128.7 66.9h0.1M117.1 111.2h0.1M117.7 104.5h0.1M118.3 97.3h0.1M119 89.4h0.1M119.8 80.9h0.1M120.6 71.6h0.1M110.3 115.5h0.1M110.6 108.9h0.1M111 101.8h0.1M111.4 94h0.1M111.8 85.6h0.1M112.2 76.4h0.1M103.4 119.9h0.1M103.4 113.4h0.1M103.5 106.4h0.1M103.5 98.7h0.1M103.6 90.4h0.1M103.7 81.3h0.1M96.3 124.4h0.1M96 118h0.1M95.8 111.1h0.1M95.5 103.5h0.1M95.2 95.3h0.1M94.9 86.3h0.1M89 128.9h0.1M88.5 122.7h0.1M87.9 115.9h0.1M87.3 108.5h0.1M86.6 100.4h0.1M85.9 91.5h0.1M81.6 133.6h0.1M80.8 127.5h0.1M79.9 120.8h0.1M78.9 113.5h0.1M77.8 105.6h0.1M76.6 96.9h0.1M74.1 138.4h0.1M72.9 132.4h0.1M71.6 125.9h0.1M70.3 118.7h0.1M68.7 110.9h0.1M67.1 102.3h0.1M66.4 143.3h0.1M64.8 137.4h0.1M63.2 131h0.1M61.4 124.1h0.1M59.5 116.4h0.1M57.3 108h0.1M58.5 148.3h0.1M56.6 142.6h0.1M54.6 136.3h0.1M52.3 129.5h0.1M49.9 122h0.1M47.2 113.8h0.1M50.4 153.4h0.1M48.1 147.8h0.1M45.7 141.8h0.1M43 135.1h0.1M40.1 127.8h0.1M36.9 119.7h0.1M137.6 89.5h0.1M139 82.4h0.1M140.4 74.7h0.1M141.9 66.5h0.1M143.5 57.5h0.1M145.3 47.8h0.1M131.4 93.4h0.1M132.5 86.3h0.1M133.7 78.7h0.1M134.9 70.5h0.1M136.3 61.6h0.1M137.8 52h0.1M125 97.3h0.1M125.9 90.4h0.1M126.8 82.8h0.1M127.8 74.7h0.1M128.9 65.9h0.1M130.1 56.3h0.1M118.6 101.4h0.1M119.2 94.5h0.1M119.8 87h0.1M120.6 79h0.1M121.4 70.2h0.1M122.2 60.7h0.1M111.9 105.5h0.1M112.3 98.6h0.1M112.7 91.3h0.1M113.2 83.3h0.1M113.6 74.7h0.1M114.1 65.2h0.1M105.2 109.6h0.1M105.3 102.9h0.1M105.4 95.7h0.1M105.6 87.8h0.1M105.7 79.2h0.1M105.9 69.9h0.1M98.3 113.9h0.1M98.1 107.3h0.1M98 100.1h0.1M97.8 92.3h0.1M97.6 83.9h0.1M97.4 74.6h0.1M91.2 118.3h0.1M90.8 111.7h0.1M90.3 104.7h0.1M89.8 97h0.1M89.3 88.6h0.1M88.7 79.5h0.1M84 122.7h0.1M83.3 116.3h0.1M82.5 109.3h0.1M81.7 101.8h0.1M80.7 93.5h0.1M79.7 84.5h0.1M76.7 127.3h0.1M75.7 121h0.1M74.5 114.1h0.1M73.3 106.7h0.1M72 98.5h0.1M70.5 89.6h0.1M69.2 131.9h0.1M67.8 125.7h0.1M66.4 119h0.1M64.8 111.7h0.1M63 103.7h0.1M61.1 94.9h0.1M61.5 136.7h0.1M59.8 130.6h0.1M58 124h0.1M56 116.8h0.1M53.8 109h0.1M51.4 100.3h0.1M53.7 141.5h0.1M51.7 135.6h0.1M49.4 129.1h0.1M47 122.1h0.1M44.4 114.4h0.1M41.5 105.9h0.1M45.7 146.5h0.1M43.3 140.7h0.1M40.7 134.4h0.1M37.8 127.5h0.1M34.7 120h0.1M31.3 111.6h0.1M132.5 84.4h0.1M133.6 77.2h0.1M134.7 69.4h0.1M136 61.1h0.1M137.4 52h0.1M138.9 42.2h0.1M126.3 88.1h0.1M127.1 81h0.1M128.1 73.3h0.1M129.1 65h0.1M130.2 56h0.1M131.4 46.3h0.1M119.9 92h0.1M120.6 84.9h0.1M121.3 77.3h0.1M122.1 69h0.1M122.9 60.1h0.1M123.8 50.4h0.1M113.5 95.9h0.1M113.9 88.9h0.1M114.4 81.3h0.1M114.8 73.2h0.1M115.4 64.3h0.1M116 54.7h0.1M106.9 99.9h0.1M107.1 93h0.1M107.3 85.5h0.1M107.5 77.4h0.1M107.7 68.6h0.1M107.9 59.1h0.1M100.2 104h0.1M100.1 97.1h0.1M100 89.7h0.1M99.9 81.7h0.1M99.8 73h0.1M99.7 63.6h0.1M93.3 108.1h0.1M93 101.3h0.1M92.6 94h0.1M92.2 86.1h0.1M91.8 77.5h0.1M91.3 68.1h0.1M86.3 112.3h0.1M85.7 105.7h0.1M85 98.5h0.1M84.3 90.7h0.1M83.5 82.2h0.1M82.7 72.9h0.1M79.2 116.7h0.1M78.3 110.1h0.1M77.3 103h0.1M76.2 95.3h0.1M75.1 86.9h0.1M73.8 77.7h0.1M71.9 121.1h0.1M70.7 114.6h0.1M69.4 107.6h0.1M68 100h0.1M66.4 91.7h0.1M64.7 82.6h0.1M64.5 125.6h0.1M62.9 119.3h0.1M61.3 112.4h0.1M59.5 104.9h0.1M57.5 96.7h0.1M55.4 87.7h0.1M56.8 130.2h0.1M55 124h0.1M53 117.2h0.1M50.8 109.9h0.1M48.4 101.8h0.1M45.8 93h0.1M49.1 134.9h0.1M46.9 128.8h0.1M44.5 122.2h0.1M41.9 114.9h0.1M39.1 107h0.1M36 98.3h0.1M41.1 139.7h0.1M38.6 133.8h0.1M35.8 127.3h0.1M32.8 120.2h0.1M29.5 112.4h0.1M25.8 103.9h0.1M127.4 79.4h0.1M128.3 72.1h0.1M129.3 64.2h0.1M130.3 55.8h0.1M131.5 46.7h0.1M132.7 36.8h0.1M121.2 83h0.1M121.9 75.8h0.1M122.7 68h0.1M123.5 59.6h0.1M124.3 50.6h0.1M125.3 40.7h0.1M114.9 86.8h0.1M115.4 79.6h0.1M115.9 71.9h0.1M116.5 63.6h0.1M117 54.5h0.1M117.7 44.8h0.1M108.5 90.6h0.1M108.8 83.5h0.1M109 75.8h0.1M109.3 67.6h0.1M109.6 58.6h0.1M109.9 48.9h0.1M102 94.5h0.1M102 87.4h0.1M102 79.8h0.1M102 71.7h0.1M102 62.8h0.1M101.9 53.1h0.1M95.3 98.4h0.1M95.1 91.5h0.1M94.8 84h0.1M94.5 75.8h0.1M94.1 67h0.1M93.8 57.5h0.1M88.5 102.5h0.1M88 95.6h0.1M87.4 88.2h0.1M86.8 80.1h0.1M86.2 71.4h0.1M85.4 61.9h0.1M81.6 106.6h0.1M80.8 99.8h0.1M79.9 92.5h0.1M79 84.5h0.1M78 75.9h0.1M76.9 66.5h0.1M74.5 110.8h0.1M73.4 104.1h0.1M72.2 96.9h0.1M71 89h0.1M69.6 80.5h0.1M68.1 71.1h0.1M67.2 115.1h0.1M65.9 108.5h0.1M64.4 101.3h0.1M62.8 93.6h0.1M61 85.1h0.1M59.1 75.9h0.1M59.8 119.5h0.1M58.2 113h0.1M56.3 105.9h0.1M54.4 98.3h0.1M52.2 90h0.1M49.8 80.8h0.1M52.3 123.9h0.1M50.3 117.6h0.1M48.1 110.6h0.1M45.8 103.1h0.1M43.2 94.9h0.1M40.4 85.9h0.1M44.6 128.5h0.1M42.2 122.2h0.1M39.7 115.4h0.1M36.9 108h0.1M33.9 99.9h0.1M30.6 91h0.1M36.7 133.2h0.1M34 127h0.1M31.1 120.4h0.1M27.9 113.1h0.1M24.4 105.1h0.1M20.6 96.4h0.1M122.5 74.5h0.1M123.2 67.1h0.1M124 59.2h0.1M124.8 50.7h0.1M125.7 41.5h0.1M126.7 31.5h0.1M116.3 78.1h0.1M116.9 70.7h0.1M117.4 62.9h0.1M118 54.4h0.1M118.6 45.3h0.1M119.3 35.4h0.1M110.1 81.7h0.1M110.4 74.4h0.1M110.7 66.6h0.1M111 58.2h0.1M111.4 49.1h0.1M111.8 39.3h0.1M103.7 85.4h0.1M103.8 78.2h0.1M103.8 70.5h0.1M103.9 62.1h0.1M104 53.1h0.1M104 43.3h0.1M97.2 89.2h0.1M97 82h0.1M96.8 74.4h0.1M96.6 66.1h0.1M96.4 57.1h0.1M96.1 47.4h0.1M90.6 93h0.1M90.1 86h0.1M89.7 78.4h0.1M89.2 70.2h0.1M88.6 61.2h0.1M88 51.6h0.1M83.8 97h0.1M83.1 90h0.1M82.4 82.5h0.1M81.6 74.3h0.1M80.7 65.5h0.1M79.8 55.9h0.1M76.9 101h0.1M76 94.1h0.1M74.9 86.6h0.1M73.8 78.6h0.1M72.6 69.8h0.1M71.3 60.3h0.1M69.9 105.1h0.1M68.6 98.3h0.1M67.3 90.9h0.1M65.9 82.9h0.1M64.3 74.2h0.1M62.6 64.8h0.1M62.7 109.2h0.1M61.2 102.5h0.1M59.5 95.2h0.1M57.7 87.4h0.1M55.8 78.8h0.1M53.6 69.4h0.1M55.4 113.5h0.1M53.5 106.9h0.1M51.5 99.7h0.1M49.4 91.9h0.1M47.1 83.4h0.1M44.5 74.2h0.1M47.9 117.9h0.1M45.7 111.3h0.1M43.4 104.2h0.1M40.9 96.6h0.1M38.1 88.2h0.1M35.1 79h0.1M40.2 122.3h0.1M37.8 115.9h0.1M35.1 108.9h0.1M32.1 101.3h0.1M29 93.1h0.1M25.5 84h0.1M32.4 126.8h0.1M29.6 120.5h0.1M26.5 113.7h0.1M23.2 106.2h0.1M19.6 98.1h0.1M15.6 89.1h0.1M117.7 69.7h0.1M118.2 62.3h0.1M118.8 54.3h0.1M119.4 45.7h0.1M120.1 36.5h0.1M120.8 26.5h0.1M111.6 73.2h0.1M111.9 65.8h0.1M112.3 57.9h0.1M112.7 49.3h0.1M113.1 40.1h0.1M113.5 30.2h0.1M105.4 76.7h0.1M105.5 69.4h0.1M105.6 61.5h0.1M105.7 53h0.1M105.9 43.9h0.1M106 34h0.1M99 80.4h0.1M98.9 73.1h0.1M98.8 65.2h0.1M98.7 56.8h0.1M98.5 47.7h0.1M98.4 37.8h0.1M92.6 84h0.1M92.2 76.8h0.1M91.8 69.1h0.1M91.4 60.7h0.1M91 51.6h0.1M90.5 41.8h0.1M86 87.8h0.1M85.4 80.6h0.1M84.7 72.9h0.1M84 64.6h0.1M83.3 55.6h0.1M82.5 45.9h0.1M79.3 91.6h0.1M78.4 84.5h0.1M77.5 76.9h0.1M76.5 68.7h0.1M75.4 59.7h0.1M74.3 50h0.1M72.4 95.5h0.1M71.3 88.5h0.1M70.1 81h0.1M68.8 72.8h0.1M67.4 63.9h0.1M65.9 54.3h0.1M65.4 99.5h0.1M64 92.6h0.1M62.5 85.1h0.1M60.9 77h0.1M59.1 68.2h0.1M57.2 58.6h0.1M58.3 103.6h0.1M56.6 96.7h0.1M54.8 89.3h0.1M52.8 81.3h0.1M50.7 72.6h0.1M48.4 63.1h0.1M51 107.7h0.1M49 101h0.1M46.9 93.6h0.1M44.6 85.7h0.1M42.1 77.1h0.1M39.3 67.7h0.1M43.6 111.9h0.1M41.3 105.3h0.1M38.8 98.1h0.1M36.1 90.2h0.1M33.2 81.7h0.1M30 72.4h0.1M36 116.3h0.1M33.4 109.7h0.1M30.6 102.6h0.1M27.5 94.9h0.1M24.2 86.4h0.1M20.5 77.2h0.1M28.3 120.7h0.1M25.3 114.2h0.1M22.1 107.2h0.1M18.6 99.6h0.1M14.9 91.3h0.1M10.7 82.2h0.1" stroke="#4658bc" stroke-width="1.3" stroke-linecap="round" fill="none" opacity="0.85"/><clipPath id="pk0"><path d="M41.2 137.9 L51.3 101.3 L88.3 51.6 L135.4 61.3 L138.1 63.1 L140.8 70.2 L142.6 77.3 L146.1 91.6 L147 98.7 L143.4 122 L140.8 130.9 L136.3 137.1 L92.5 144.1Z"/></clipPath><path d="M192.3 101.4L120.1 36.5M184.8 106.6L113.1 40.1M177.1 111.9L105.9 43.9M169.3 117.4L98.5 47.7M161.2 123.1L91 51.6M152.9 128.9L83.3 55.6M144.4 134.8L75.4 59.7M135.6 140.9L67.4 63.9M126.6 147.2L59.1 68.2M117.3 153.7L50.7 72.6M107.7 160.4L42.1 77.1M97.9 167.2L33.2 81.7M87.8 174.3L24.2 86.4M77.3 181.6L14.9 91.3M192.3 101.4L77.3 181.6M184.6 94.5L70.5 171.7M177.2 87.8L63.9 162.2M170 81.3L57.6 153.1M163.1 75.1L51.6 144.3M156.3 69L45.7 135.9M149.8 63.2L40.1 127.8M143.5 57.5L34.7 120M137.4 52L29.5 112.4M131.5 46.7L24.4 105.1M125.7 41.5L19.6 98.1M120.1 36.5L14.9 91.3M188.3 109.4L119.4 45.7M181.1 114.5L112.7 49.3M173.7 119.7L105.7 53M166.2 125L98.7 56.8M158.4 130.5L91.4 60.7M150.5 136.1L84 64.6M142.3 141.9L76.5 68.7M134 147.8L68.8 72.8M125.4 153.9L60.9 77M116.5 160.1L52.8 81.3M107.5 166.6L44.6 85.7M98.1 173.2L36.1 90.2M88.5 180L27.5 94.9M78.6 186.9L18.6 99.6M188.3 109.4L78.6 186.9M181 102.7L72.1 177.5M174 96.2L65.9 168.3M167.1 89.8L59.9 159.6M160.5 83.7L54 151.1M154.1 77.8L48.4 143M147.9 72L43 135.1M141.9 66.5L37.8 127.5M136 61.1L32.8 120.2M130.3 55.8L27.9 113.1M124.8 50.7L23.2 106.2M119.4 45.7L18.6 99.6" stroke="#d47aa8" stroke-width="0.6" fill="none" opacity="0.55" clip-path="url(#pk0)"/><path d="M88.3 50.6v-10M98.1 56.8v-10M108.8 58.6v-10M117.7 58.6v-10M126.6 60.3v-10M135.4 60.3v-10M138.1 62.1v-10M140.8 69.2v-10M142.6 76.3v-10M144.3 83.4v-10M146.1 90.6v-10M147 97.7v-10M146.1 99.7v-10M144.3 110.3v-10M143.4 121v-10M140.8 129.9v-10M136.3 136.1v-10M128.3 136.1v-10M119.4 134.3v-10M110.6 132.6v-10M100.7 132.3v-10M90 131v-10M84.7 128.3v-10M81.5 123v-10M80.7 119v-10M78 115v-10M72.7 111.7v-10M66 111.7v-10M60.7 115v-10M57.8 120.5v-10M60 122.8v-10M65 124v-10M70 125v-10M75.3 127v-10M80.7 127v-10M84 124.3v-10M85.3 119v-10M84 113.7v-10M80.7 108.3v-10M77.3 103v-10M75.3 97.7v-10M76 92.3v-10M78.7 85.7v-10M81.3 79v-10M83 69v-10M85.7 56.8v-10M88.3 50.6v-10M96.3 60.3v-10M103.4 63.9v-10M110.6 69.2v-10M119.4 70.1v-10M123.9 72.8v-10M125.7 79.9v-10M127.4 88.8v-10M130.1 97.7v-10M131 106.8v-10M128.3 115.7v-10M123 120.1v-10M115.9 121.9v-10M107 120.1v-10M99.9 115.7v-10M98.1 110.3v-10M94.6 99.7v-10M92.8 89v-10M94.6 85.2v-10M96.3 76.3v-10M97.2 67.4v-10M96.3 60.3v-10M94.1 99.6v-10M89.4 101.1v-10M77 104.2v-10M69.2 103.4v-10M59.9 101.9v-10M51.3 100.3v-10M49 108.9v-10M46.7 118.2v-10M44.3 127.5v-10M41.2 136.9v-10M50.6 137.7v-10M61.4 138.4v-10M72.3 140v-10M83.2 141.5v-10M92.5 143.1v-10M95.7 135.3v-10M97.2 124.4v-10M98 115.1v-10" stroke="#3a3a3a" stroke-width="0.9" opacity="0.6" fill="none"/><path d="M88.3 51.6 L98.1 57.8 L108.8 59.6 L117.7 59.6 L126.6 61.3 L135.4 61.3 L138.1 63.1 L140.8 70.2 L142.6 77.3 L144.3 84.4 L146.1 91.6 L147 98.7 L146.1 100.7 L144.3 111.3 L143.4 122 L140.8 130.9 L136.3 137.1 L128.3 137.1 L119.4 135.3 L110.6 133.6 L100.7 133.3 L90 132 L84.7 129.3 L81.5 124 L80.7 120 L78 116 L72.7 112.7 L66 112.7 L60.7 116 L57.8 121.5 L60 123.8 L65 125 L70 126 L75.3 128 L80.7 128 L84 125.3 L85.3 120 L84 114.7 L80.7 109.3 L77.3 104 L75.3 98.7 L76 93.3 L78.7 86.7 L81.3 80 L83 70 L85.7 57.8 L88.3 51.6" fill="none" stroke="#2e2614" stroke-width="5.0" stroke-linejoin="round" stroke-linecap="round" opacity="0.85"/><path d="M88.3 51.6 L98.1 57.8 L108.8 59.6 L117.7 59.6 L126.6 61.3 L135.4 61.3 L138.1 63.1 L140.8 70.2 L142.6 77.3 L144.3 84.4 L146.1 91.6 L147 98.7 L146.1 100.7 L144.3 111.3 L143.4 122 L140.8 130.9 L136.3 137.1 L128.3 137.1 L119.4 135.3 L110.6 133.6 L100.7 133.3 L90 132 L84.7 129.3 L81.5 124 L80.7 120 L78 116 L72.7 112.7 L66 112.7 L60.7 116 L57.8 121.5 L60 123.8 L65 125 L70 126 L75.3 128 L80.7 128 L84 125.3 L85.3 120 L84 114.7 L80.7 109.3 L77.3 104 L75.3 98.7 L76 93.3 L78.7 86.7 L81.3 80 L83 70 L85.7 57.8 L88.3 51.6" fill="none" stroke="#c08a30" stroke-width="3.6" stroke-linejoin="round" stroke-linecap="round"/><path d="M89.7 52.5L96.7 56.9M99.7 58.1L107.2 59.3M110.4 59.6L116.1 59.6M119.3 59.9L125 61M128.2 61.3L133.8 61.3M136.1 61.8L137.4 62.6M138.7 64.6L140.2 68.7M141.2 71.8L142.2 75.7M143 78.9L143.9 82.8M144.7 86L145.7 90M146.3 93.2L146.8 97.1M145.8 102.3L144.6 109.7M144.2 112.9L143.5 120.4M143 123.5L141.2 129.4M139.9 132.2L137.2 135.8M134.7 137.1L129.9 137.1M126.7 136.8L121 135.6M117.8 135L112.2 133.9M109 133.6L102.3 133.3M99.1 133.1L91.6 132.2M88.6 131.3L86.1 130M83.9 127.9L82.3 125.4M81.3 123.1L80.9 120.9M80.2 119.3L78.5 116.7M76.6 115.2L74.1 113.5M71.1 112.7L67.6 112.7M64.6 113.5L62.1 115.2M60 117.4L58.5 120.1M61.6 124.2L63.4 124.6M66.6 125.3L68.4 125.7M71.5 126.6L73.8 127.4M76.9 128L79.1 128M81.4 127.4L83.3 125.9M84.4 123.7L84.9 121.6M84.9 118.4L84.4 116.3M83.2 113.3L81.5 110.7M79.8 108L78.2 105.3M76.7 102.5L75.9 100.2M75.5 97.1L75.8 94.9M76.6 91.8L78.1 88.2M79.3 85.2L80.7 81.5M81.6 78.4L82.7 71.6M83.3 68.4L85.4 59.4M86.3 56.3L87.7 53.1" fill="none" stroke="#eed490" stroke-width="2.5" stroke-linecap="round"/><path d="M96.3 61.3 L103.4 64.9 L110.6 70.2 L119.4 71.1 L123.9 73.8 L125.7 80.9 L127.4 89.8 L130.1 98.7 L131 107.8 L128.3 116.7 L123 121.1 L115.9 122.9 L107 121.1 L99.9 116.7 L98.1 111.3 L94.6 100.7 L92.8 90 L94.6 86.2 L96.3 77.3 L97.2 68.4 L96.3 61.3" fill="none" stroke="#2a1030" stroke-width="5.0" stroke-linejoin="round" stroke-linecap="round" opacity="0.85"/><path d="M96.3 61.3 L103.4 64.9 L110.6 70.2 L119.4 71.1 L123.9 73.8 L125.7 80.9 L127.4 89.8 L130.1 98.7 L131 107.8 L128.3 116.7 L123 121.1 L115.9 122.9 L107 121.1 L99.9 116.7 L98.1 111.3 L94.6 100.7 L92.8 90 L94.6 86.2 L96.3 77.3 L97.2 68.4 L96.3 61.3" fill="none" stroke="#8e2a8c" stroke-width="3.6" stroke-linejoin="round" stroke-linecap="round"/><path d="M97.7 62L102 64.2M104.7 65.8L109.3 69.3M112.2 70.4L117.8 70.9M120.8 71.9L122.5 73M124.3 75.4L125.3 79.3M126 82.5L127.1 88.2M127.9 91.3L129.6 97.2M130.3 100.3L130.8 106.2M130.5 109.3L128.8 115.2M127.1 117.7L124.2 120.1M121.4 121.5L117.5 122.5M114.3 122.6L108.6 121.4M105.6 120.3L101.3 117.5M99.4 115.2L98.6 112.8M97.6 109.8L95.1 102.2M94.3 99.1L93.1 91.6M93.2 89.2L94.2 87M94.9 84.6L96 78.9M96.5 75.7L97 70M97 66.8L96.5 62.9" fill="none" stroke="#c486cc" stroke-width="2.5" stroke-linecap="round"/><path d="M94.1 100.6 L89.4 102.1 L77 105.2 L69.2 104.4 L59.9 102.9 L51.3 101.3 L49 109.9 L46.7 119.2 L44.3 128.5 L41.2 137.9 L50.6 138.7 L61.4 139.4 L72.3 141 L83.2 142.5 L92.5 144.1 L95.7 136.3 L97.2 125.4 L98 116.1" fill="none" stroke="#2a1030" stroke-width="5.0" stroke-linejoin="round" stroke-linecap="round" opacity="0.85"/><path d="M94.1 100.6 L89.4 102.1 L77 105.2 L69.2 104.4 L59.9 102.9 L51.3 101.3 L49 109.9 L46.7 119.2 L44.3 128.5 L41.2 137.9 L50.6 138.7 L61.4 139.4 L72.3 141 L83.2 142.5 L92.5 144.1 L95.7 136.3 L97.2 125.4 L98 116.1" fill="none" stroke="#8e2a8c" stroke-width="3.6" stroke-linejoin="round" stroke-linecap="round"/><path d="M93.2 100.9L90.3 101.8M87.8 102.5L78.6 104.8M75.4 105L70.8 104.6M67.6 104.1L61.5 103.2M58.3 102.6L52.9 101.6M50.9 102.8L49.4 108.4M48.6 111.5L47.1 117.6M46.3 120.7L44.7 127M43.8 130L41.7 136.4M42.8 138L49 138.6M52.2 138.8L59.8 139.3M63 139.6L70.7 140.8M73.9 141.2L81.6 142.3M84.8 142.8L90.9 143.8M93.1 142.6L95.1 137.8M95.9 134.7L97 127M97.3 123.8L97.9 117.7" fill="none" stroke="#c486cc" stroke-width="2.5" stroke-linecap="round"/><path d="M178.2 320.1L117.7 260M171.7 324.8L111.6 263.5M165.1 329.6L105.4 267M158.4 334.5L99 270.7M151.5 339.5L92.6 274.3M144.5 344.7L86 278.1M137.3 349.9L79.3 281.9M129.9 355.3L72.4 285.8M122.4 360.8L65.4 289.8M114.7 366.4L58.3 293.9M106.8 372.2L51 298M98.7 378.1L43.6 302.2M90.4 384.1L36 306.6M81.9 390.3L28.3 311M178.2 320.1L81.9 390.3M171.9 313.8L76.2 381.9M165.8 307.8L70.7 373.8M159.8 301.9L65.4 365.9M154.1 296.1L60.2 358.3M148.4 290.6L55.2 350.9M143 285.1L50.4 343.7M137.6 279.8L45.7 336.8M132.5 274.7L41.1 330M127.4 269.7L36.7 323.5M122.5 264.8L32.4 317.1M117.7 260L28.3 311M181.3 313.9L118.2 252.6M174.6 318.7L111.9 256.1M167.8 323.6L105.5 259.7M160.8 328.7L98.9 263.4M153.6 333.8L92.2 267.1M146.3 339.1L85.4 270.9M138.8 344.5L78.4 274.8M131.2 350.1L71.3 278.8M123.3 355.7L64 282.9M115.2 361.6L56.6 287M107 367.5L49 291.3M98.5 373.7L41.3 295.6M89.8 379.9L33.4 300M80.9 386.4L25.3 304.5M181.3 313.9L80.9 386.4M174.7 307.4L75 377.6M168.3 301.2L69.2 369.2M162.1 295.2L63.7 361M156 289.3L58.3 353.2M150.2 283.6L53.2 345.5M144.5 278.1L48.1 338.1M139 272.7L43.3 331M133.6 267.5L38.6 324.1M128.3 262.4L34 317.3M123.2 257.4L29.6 310.8M118.2 252.6L25.3 304.5M184.6 307.1L118.8 244.6M177.7 312L112.3 248.2M170.6 317.1L105.6 251.8M163.4 322.3L98.8 255.5M155.9 327.6L91.8 259.4M148.3 333.1L84.7 263.2M140.5 338.6L77.5 267.2M132.5 344.4L70.1 271.3M124.3 350.2L62.5 275.4M115.9 356.3L54.8 279.6M107.2 362.5L46.9 283.9M98.3 368.8L38.8 288.4M89.2 375.3L30.6 292.9M79.8 382L22.1 297.5M184.6 307.1L79.8 382M177.7 300.5L73.6 372.9M171 294.2L67.6 364.2M164.5 288L61.9 355.7M158.2 282L56.3 347.6M152.1 276.2L50.9 339.7M146.1 270.5L45.7 332.1M140.4 265L40.7 324.7M134.7 259.7L35.8 317.6M129.3 254.5L31.1 310.7M124 249.5L26.5 304M118.8 244.6L22.1 297.5M188.3 299.7L119.4 236M181.1 304.8L112.7 239.6M173.7 310L105.7 243.3M166.2 315.3L98.7 247.1M158.4 320.8L91.4 251M150.5 326.4L84 254.9M142.3 332.2L76.5 259M134 338.1L68.8 263.1M125.4 344.2L60.9 267.3M116.5 350.4L52.8 271.6M107.5 356.9L44.6 276M98.1 363.5L36.1 280.5M88.5 370.3L27.5 285.2M78.6 377.2L18.6 289.9M188.3 299.7L78.6 377.2M181 293L72.1 367.8M174 286.5L65.9 358.6M167.1 280.1L59.9 349.9M160.5 274L54 341.4M154.1 268.1L48.4 333.3M147.9 262.3L43 325.4M141.9 256.8L37.8 317.8M136 251.4L32.8 310.5M130.3 246.1L27.9 303.4M124.8 241L23.2 296.5M119.4 236L18.6 289.9M192.3 291.7L120.1 226.8M184.8 296.9L113.1 230.4M177.1 302.2L105.9 234.2M169.3 307.7L98.5 238M161.2 313.4L91 241.9M152.9 319.2L83.3 245.9M144.4 325.1L75.4 250M135.6 331.2L67.4 254.2M126.6 337.5L59.1 258.5M117.3 344L50.7 262.9M107.7 350.7L42.1 267.4M97.9 357.5L33.2 272M87.8 364.6L24.2 276.7M77.3 371.9L14.9 281.6M192.3 291.7L77.3 371.9M184.6 284.8L70.5 362M177.2 278.1L63.9 352.5M170 271.6L57.6 343.4M163.1 265.4L51.6 334.6M156.3 259.3L45.7 326.2M149.8 253.5L40.1 318.1M143.5 247.8L34.7 310.3M137.4 242.3L29.5 302.7M131.5 237L24.4 295.4M125.7 231.8L19.6 288.4M120.1 226.8L14.9 281.6M196.7 282.8L120.8 216.8M188.9 288.2L113.5 220.5M180.9 293.7L106 224.3M172.7 299.3L98.4 228.1M164.2 305.1L90.5 232.1M155.5 311.1L82.5 236.2M146.6 317.3L74.3 240.3M137.4 323.6L65.9 244.6M127.9 330.1L57.2 248.9M118.1 336.8L48.4 253.4M108.1 343.8L39.3 258M97.7 350.9L30 262.7M86.9 358.3L20.5 267.5M75.9 365.9L10.7 272.5M196.7 282.8L75.9 365.9M188.5 275.7L68.7 355.6M180.7 268.9L61.8 345.7M173.1 262.3L55.2 336.2M165.8 255.9L48.8 327.1M158.8 249.8L42.7 318.4M151.9 243.8L36.9 310M145.3 238.1L31.3 301.9M138.9 232.5L25.8 294.2M132.7 227.1L20.6 286.7M126.7 221.8L15.6 279.4M120.8 216.8L10.7 272.5" stroke="#a2d0e6" stroke-width="0.5" fill="none" opacity="0.75"/><path d="M178.2 320.1L196.7 282.8M171.7 324.8L188.9 288.2M165.1 329.6L180.9 293.7M158.4 334.5L172.7 299.3M151.5 339.5L164.2 305.1M144.5 344.7L155.5 311.1M137.3 349.9L146.6 317.3M129.9 355.3L137.4 323.6M122.4 360.8L127.9 330.1M114.7 366.4L118.1 336.8M106.8 372.2L108.1 343.8M98.7 378.1L97.7 350.9M90.4 384.1L86.9 358.3M81.9 390.3L75.9 365.9M171.9 313.8L188.5 275.7M165.5 318.4L180.8 280.9M158.9 323.1L172.8 286.2M152.2 327.8L164.7 291.6M145.4 332.7L156.3 297.2M138.4 337.7L147.6 303M131.2 342.8L138.7 308.9M123.9 348L129.6 315M116.4 353.3L120.2 321.3M108.7 358.8L110.5 327.7M100.9 364.4L100.5 334.4M92.8 370.1L90.2 341.2M84.6 375.9L79.6 348.3M76.2 381.9L68.7 355.6M165.8 307.8L180.7 268.9M159.4 312.2L173 273.9M152.9 316.7L165.1 279M146.2 321.4L157 284.3M139.4 326.1L148.6 289.6M132.4 330.9L140 295.2M125.3 335.9L131.2 300.9M118 340.9L122.1 306.7M110.6 346.1L112.8 312.8M103 351.4L103.2 319M95.2 356.8L93.3 325.4M87.2 362.3L83.1 331.9M79 368L72.6 338.7M70.7 373.8L61.8 345.7M159.8 301.9L173.1 262.3M153.5 306.2L165.5 267.1M147 310.6L157.6 272.1M140.3 315.1L149.5 277.1M133.6 319.7L141.2 282.3M126.7 324.4L132.7 287.7M119.6 329.2L123.9 293.2M112.3 334.1L114.9 298.8M105 339.1L105.7 304.6M97.4 344.2L96.2 310.6M89.7 349.4L86.4 316.7M81.7 354.8L76.3 323M73.6 360.3L65.9 329.5M65.4 365.9L55.2 336.2M154.1 296.1L165.8 255.9M147.7 300.3L158.2 260.6M141.3 304.6L150.4 265.4M134.7 309L142.3 270.2M127.9 313.4L134.1 275.3M121 318L125.6 280.4M114 322.6L116.9 285.7M106.8 327.4L108 291.1M99.5 332.3L98.8 296.7M92 337.2L89.4 302.5M84.3 342.3L79.7 308.4M76.5 347.5L69.7 314.4M68.4 352.8L59.4 320.7M60.2 358.3L48.8 327.1M148.4 290.6L158.8 249.8M142.1 294.6L151.2 254.3M135.7 298.8L143.4 258.9M129.1 303L135.4 263.6M122.4 307.4L127.2 268.5M115.6 311.8L118.8 273.4M108.6 316.3L110.2 278.5M101.5 320.9L101.3 283.8M94.2 325.7L92.2 289.1M86.7 330.5L82.9 294.7M79.1 335.4L73.3 300.4M71.3 340.5L63.4 306.2M63.4 345.6L53.2 312.2M55.2 350.9L42.7 318.4M143 285.1L151.9 243.8M136.7 289.1L144.4 248.2M130.3 293.1L136.6 252.6M123.8 297.3L128.7 257.2M117.1 301.5L120.6 261.9M110.3 305.8L112.2 266.7M103.4 310.2L103.7 271.6M96.3 314.7L94.9 276.6M89 319.2L85.9 281.8M81.6 323.9L76.6 287.2M74.1 328.7L67.1 292.6M66.4 333.6L57.3 298.3M58.5 338.6L47.2 304.1M50.4 343.7L36.9 310M137.6 279.8L145.3 238.1M131.4 283.7L137.8 242.3M125 287.6L130.1 246.6M118.6 291.7L122.2 251M111.9 295.8L114.1 255.5M105.2 299.9L105.9 260.2M98.3 304.2L97.4 264.9M91.2 308.6L88.7 269.8M84 313L79.7 274.8M76.7 317.6L70.5 279.9M69.2 322.2L61.1 285.2M61.5 327L51.4 290.6M53.7 331.8L41.5 296.2M45.7 336.8L31.3 301.9M132.5 274.7L138.9 232.5M126.3 278.4L131.4 236.6M119.9 282.3L123.8 240.7M113.5 286.2L116 245M106.9 290.2L107.9 249.4M100.2 294.3L99.7 253.9M93.3 298.4L91.3 258.4M86.3 302.6L82.7 263.2M79.2 307L73.8 268M71.9 311.4L64.7 272.9M64.5 315.9L55.4 278M56.8 320.5L45.8 283.3M49.1 325.2L36 288.6M41.1 330L25.8 294.2M127.4 269.7L132.7 227.1M121.2 273.3L125.3 231M114.9 277.1L117.7 235.1M108.5 280.9L109.9 239.2M102 284.8L101.9 243.4M95.3 288.7L93.8 247.8M88.5 292.8L85.4 252.2M81.6 296.9L76.9 256.8M74.5 301.1L68.1 261.4M67.2 305.4L59.1 266.2M59.8 309.8L49.8 271.1M52.3 314.2L40.4 276.2M44.6 318.8L30.6 281.3M36.7 323.5L20.6 286.7M122.5 264.8L126.7 221.8M116.3 268.4L119.3 225.7M110.1 272L111.8 229.6M103.7 275.7L104 233.6M97.2 279.5L96.1 237.7M90.6 283.3L88 241.9M83.8 287.3L79.8 246.2M76.9 291.3L71.3 250.6M69.9 295.4L62.6 255.1M62.7 299.5L53.6 259.7M55.4 303.8L44.5 264.5M47.9 308.2L35.1 269.3M40.2 312.6L25.5 274.3M32.4 317.1L15.6 279.4M117.7 260L120.8 216.8M111.6 263.5L113.5 220.5M105.4 267L106 224.3M99 270.7L98.4 228.1M92.6 274.3L90.5 232.1M86 278.1L82.5 236.2M79.3 281.9L74.3 240.3M72.4 285.8L65.9 244.6M65.4 289.8L57.2 248.9M58.3 293.9L48.4 253.4M51 298L39.3 258M43.6 302.2L30 262.7M36 306.6L20.5 267.5M28.3 311L10.7 272.5" stroke="#d4d4da" stroke-width="0.4" fill="none" opacity="0.8"/><path d="M178.2 320.1h0.1M181.3 313.9h0.1M184.6 307.1h0.1M188.3 299.7h0.1M192.3 291.7h0.1M196.7 282.8h0.1M171.7 324.8h0.1M174.6 318.7h0.1M177.7 312h0.1M181.1 304.8h0.1M184.8 296.9h0.1M188.9 288.2h0.1M165.1 329.6h0.1M167.8 323.6h0.1M170.6 317.1h0.1M173.7 310h0.1M177.1 302.2h0.1M180.9 293.7h0.1M158.4 334.5h0.1M160.8 328.7h0.1M163.4 322.3h0.1M166.2 315.3h0.1M169.3 307.7h0.1M172.7 299.3h0.1M151.5 339.5h0.1M153.6 333.8h0.1M155.9 327.6h0.1M158.4 320.8h0.1M161.2 313.4h0.1M164.2 305.1h0.1M144.5 344.7h0.1M146.3 339.1h0.1M148.3 333.1h0.1M150.5 326.4h0.1M152.9 319.2h0.1M155.5 311.1h0.1M137.3 349.9h0.1M138.8 344.5h0.1M140.5 338.6h0.1M142.3 332.2h0.1M144.4 325.1h0.1M146.6 317.3h0.1M129.9 355.3h0.1M131.2 350.1h0.1M132.5 344.4h0.1M134 338.1h0.1M135.6 331.2h0.1M137.4 323.6h0.1M122.4 360.8h0.1M123.3 355.7h0.1M124.3 350.2h0.1M125.4 344.2h0.1M126.6 337.5h0.1M127.9 330.1h0.1M114.7 366.4h0.1M115.2 361.6h0.1M115.9 356.3h0.1M116.5 350.4h0.1M117.3 344h0.1M118.1 336.8h0.1M106.8 372.2h0.1M107 367.5h0.1M107.2 362.5h0.1M107.5 356.9h0.1M107.7 350.7h0.1M108.1 343.8h0.1M98.7 378.1h0.1M98.5 373.7h0.1M98.3 368.8h0.1M98.1 363.5h0.1M97.9 357.5h0.1M97.7 350.9h0.1M90.4 384.1h0.1M89.8 379.9h0.1M89.2 375.3h0.1M88.5 370.3h0.1M87.8 364.6h0.1M86.9 358.3h0.1M81.9 390.3h0.1M80.9 386.4h0.1M79.8 382h0.1M78.6 377.2h0.1M77.3 371.9h0.1M75.9 365.9h0.1M171.9 313.8h0.1M174.7 307.4h0.1M177.7 300.5h0.1M181 293h0.1M184.6 284.8h0.1M188.5 275.7h0.1M165.5 318.4h0.1M168 312.1h0.1M170.8 305.3h0.1M173.9 297.9h0.1M177.2 289.8h0.1M180.8 280.9h0.1M158.9 323.1h0.1M161.2 316.9h0.1M163.8 310.2h0.1M166.5 302.9h0.1M169.5 295h0.1M172.8 286.2h0.1M152.2 327.8h0.1M154.3 321.8h0.1M156.5 315.2h0.1M159 308.1h0.1M161.7 300.3h0.1M164.7 291.6h0.1M145.4 332.7h0.1M147.2 326.8h0.1M149.2 320.4h0.1M151.3 313.4h0.1M153.7 305.7h0.1M156.3 297.2h0.1M138.4 337.7h0.1M139.9 331.9h0.1M141.6 325.7h0.1M143.4 318.8h0.1M145.4 311.3h0.1M147.6 303h0.1M131.2 342.8h0.1M132.5 337.2h0.1M133.8 331.1h0.1M135.3 324.4h0.1M136.9 317h0.1M138.7 308.9h0.1M123.9 348h0.1M124.8 342.5h0.1M125.9 336.6h0.1M127 330.1h0.1M128.2 322.9h0.1M129.6 315h0.1M116.4 353.3h0.1M117 348h0.1M117.7 342.3h0.1M118.5 335.9h0.1M119.3 329h0.1M120.2 321.3h0.1M108.7 358.8h0.1M109 353.7h0.1M109.3 348.1h0.1M109.7 342h0.1M110.1 335.2h0.1M110.5 327.7h0.1M100.9 364.4h0.1M100.8 359.4h0.1M100.8 354.1h0.1M100.7 348.2h0.1M100.6 341.6h0.1M100.5 334.4h0.1M92.8 370.1h0.1M92.4 365.4h0.1M91.9 360.2h0.1M91.4 354.5h0.1M90.9 348.2h0.1M90.2 341.2h0.1M84.6 375.9h0.1M83.8 371.4h0.1M82.9 366.5h0.1M81.9 361h0.1M80.8 355h0.1M79.6 348.3h0.1M76.2 381.9h0.1M75 377.6h0.1M73.6 372.9h0.1M72.1 367.8h0.1M70.5 362h0.1M68.7 355.6h0.1M165.8 307.8h0.1M168.3 301.2h0.1M171 294.2h0.1M174 286.5h0.1M177.2 278.1h0.1M180.7 268.9h0.1M159.4 312.2h0.1M161.7 305.8h0.1M164.1 298.8h0.1M166.8 291.2h0.1M169.8 282.9h0.1M173 273.9h0.1M152.9 316.7h0.1M154.9 310.4h0.1M157.1 303.6h0.1M159.5 296.1h0.1M162.2 287.9h0.1M165.1 279h0.1M146.2 321.4h0.1M148 315.2h0.1M149.9 308.4h0.1M152.1 301.1h0.1M154.4 293.1h0.1M157 284.3h0.1M139.4 326.1h0.1M140.9 320h0.1M142.6 313.4h0.1M144.4 306.2h0.1M146.4 298.3h0.1M148.6 289.6h0.1M132.4 330.9h0.1M133.7 325h0.1M135.1 318.5h0.1M136.6 311.4h0.1M138.2 303.7h0.1M140 295.2h0.1M125.3 335.9h0.1M126.3 330.1h0.1M127.3 323.7h0.1M128.5 316.8h0.1M129.8 309.2h0.1M131.2 300.9h0.1M118 340.9h0.1M118.7 335.3h0.1M119.4 329.1h0.1M120.3 322.3h0.1M121.1 314.9h0.1M122.1 306.7h0.1M110.6 346.1h0.1M111 340.6h0.1M111.3 334.6h0.1M111.8 328h0.1M112.3 320.8h0.1M112.8 312.8h0.1M103 351.4h0.1M103 346h0.1M103 340.2h0.1M103.1 333.8h0.1M103.1 326.8h0.1M103.2 319h0.1M95.2 356.8h0.1M94.9 351.6h0.1M94.5 346h0.1M94.2 339.8h0.1M93.8 332.9h0.1M93.3 325.4h0.1M87.2 362.3h0.1M86.5 357.3h0.1M85.8 351.9h0.1M85 345.9h0.1M84.1 339.3h0.1M83.1 331.9h0.1M79 368h0.1M78 363.2h0.1M76.8 357.9h0.1M75.6 352.2h0.1M74.2 345.8h0.1M72.6 338.7h0.1M70.7 373.8h0.1M69.2 369.2h0.1M67.6 364.2h0.1M65.9 358.6h0.1M63.9 352.5h0.1M61.8 345.7h0.1M159.8 301.9h0.1M162.1 295.2h0.1M164.5 288h0.1M167.1 280.1h0.1M170 271.6h0.1M173.1 262.3h0.1M153.5 306.2h0.1M155.5 299.6h0.1M157.7 292.5h0.1M160.1 284.8h0.1M162.6 276.3h0.1M165.5 267.1h0.1M147 310.6h0.1M148.8 304.1h0.1M150.7 297.1h0.1M152.8 289.5h0.1M155.1 281.2h0.1M157.6 272.1h0.1M140.3 315.1h0.1M141.9 308.7h0.1M143.5 301.8h0.1M145.4 294.3h0.1M147.3 286.1h0.1M149.5 277.1h0.1M133.6 319.7h0.1M134.9 313.4h0.1M136.2 306.6h0.1M137.7 299.2h0.1M139.4 291.2h0.1M141.2 282.3h0.1M126.7 324.4h0.1M127.7 318.2h0.1M128.8 311.6h0.1M129.9 304.3h0.1M131.3 296.4h0.1M132.7 287.7h0.1M119.6 329.2h0.1M120.3 323.2h0.1M121.1 316.6h0.1M122 309.5h0.1M122.9 301.7h0.1M123.9 293.2h0.1M112.3 334.1h0.1M112.8 328.2h0.1M113.2 321.8h0.1M113.8 314.8h0.1M114.3 307.2h0.1M114.9 298.8h0.1M105 339.1h0.1M105.1 333.3h0.1M105.2 327.1h0.1M105.3 320.3h0.1M105.5 312.8h0.1M105.7 304.6h0.1M97.4 344.2h0.1M97.2 338.6h0.1M97 332.6h0.1M96.7 325.9h0.1M96.4 318.6h0.1M96.2 310.6h0.1M89.7 349.4h0.1M89.1 344h0.1M88.5 338.1h0.1M87.9 331.7h0.1M87.1 324.6h0.1M86.4 316.7h0.1M81.7 354.8h0.1M80.8 349.6h0.1M79.9 343.8h0.1M78.8 337.6h0.1M77.6 330.7h0.1M76.3 323h0.1M73.6 360.3h0.1M72.4 355.2h0.1M71 349.7h0.1M69.4 343.6h0.1M67.8 336.9h0.1M65.9 329.5h0.1M65.4 365.9h0.1M63.7 361h0.1M61.9 355.7h0.1M59.9 349.9h0.1M57.6 343.4h0.1M55.2 336.2h0.1M154.1 296.1h0.1M156 289.3h0.1M158.2 282h0.1M160.5 274h0.1M163.1 265.4h0.1M165.8 255.9h0.1M147.7 300.3h0.1M149.5 293.6h0.1M151.4 286.4h0.1M153.5 278.5h0.1M155.7 269.9h0.1M158.2 260.6h0.1M141.3 304.6h0.1M142.8 298h0.1M144.5 290.8h0.1M146.3 283.1h0.1M148.2 274.6h0.1M150.4 265.4h0.1M134.7 309h0.1M136 302.5h0.1M137.4 295.4h0.1M138.9 287.7h0.1M140.5 279.4h0.1M142.3 270.2h0.1M127.9 313.4h0.1M129 307h0.1M130.1 300.1h0.1M131.3 292.5h0.1M132.6 284.3h0.1M134.1 275.3h0.1M121 318h0.1M121.8 311.7h0.1M122.6 304.9h0.1M123.5 297.4h0.1M124.5 289.3h0.1M125.6 280.4h0.1M114 322.6h0.1M114.5 316.5h0.1M115 309.8h0.1M115.6 302.5h0.1M116.2 294.5h0.1M116.9 285.7h0.1M106.8 327.4h0.1M107 321.4h0.1M107.2 314.8h0.1M107.5 307.6h0.1M107.7 299.8h0.1M108 291.1h0.1M99.5 332.3h0.1M99.4 326.3h0.1M99.3 319.9h0.1M99.1 312.9h0.1M99 305.2h0.1M98.8 296.7h0.1M92 337.2h0.1M91.6 331.5h0.1M91.1 325.2h0.1M90.6 318.3h0.1M90 310.8h0.1M89.4 302.5h0.1M84.3 342.3h0.1M83.5 336.7h0.1M82.7 330.6h0.1M81.8 323.9h0.1M80.8 316.5h0.1M79.7 308.4h0.1M76.5 347.5h0.1M75.3 342h0.1M74.1 336.1h0.1M72.8 329.6h0.1M71.3 322.4h0.1M69.7 314.4h0.1M68.4 352.8h0.1M66.9 347.5h0.1M65.3 341.8h0.1M63.5 335.4h0.1M61.6 328.4h0.1M59.4 320.7h0.1M60.2 358.3h0.1M58.3 353.2h0.1M56.3 347.6h0.1M54 341.4h0.1M51.6 334.6h0.1M48.8 327.1h0.1M148.4 290.6h0.1M150.2 283.6h0.1M152.1 276.2h0.1M154.1 268.1h0.1M156.3 259.3h0.1M158.8 249.8h0.1M142.1 294.6h0.1M143.7 287.8h0.1M145.3 280.4h0.1M147.1 272.4h0.1M149 263.7h0.1M151.2 254.3h0.1M135.7 298.8h0.1M137 292h0.1M138.4 284.8h0.1M139.9 276.9h0.1M141.6 268.3h0.1M143.4 258.9h0.1M129.1 303h0.1M130.2 296.4h0.1M131.3 289.2h0.1M132.6 281.4h0.1M133.9 272.9h0.1M135.4 263.6h0.1M122.4 307.4h0.1M123.2 300.8h0.1M124.1 293.7h0.1M125.1 286h0.1M126.1 277.6h0.1M127.2 268.5h0.1M115.6 311.8h0.1M116.1 305.4h0.1M116.7 298.4h0.1M117.4 290.8h0.1M118 282.5h0.1M118.8 273.4h0.1M108.6 316.3h0.1M108.9 310h0.1M109.2 303.1h0.1M109.5 295.6h0.1M109.8 287.5h0.1M110.2 278.5h0.1M101.5 320.9h0.1M101.5 314.7h0.1M101.4 308h0.1M101.4 300.6h0.1M101.4 292.6h0.1M101.3 283.8h0.1M94.2 325.7h0.1M93.9 319.6h0.1M93.5 312.9h0.1M93.1 305.7h0.1M92.7 297.8h0.1M92.2 289.1h0.1M86.7 330.5h0.1M86.1 324.5h0.1M85.4 318h0.1M84.6 311h0.1M83.8 303.2h0.1M82.9 294.7h0.1M79.1 335.4h0.1M78.1 329.6h0.1M77.1 323.2h0.1M75.9 316.3h0.1M74.7 308.7h0.1M73.3 300.4h0.1M71.3 340.5h0.1M70 334.8h0.1M68.6 328.6h0.1M67 321.8h0.1M65.3 314.4h0.1M63.4 306.2h0.1M63.4 345.6h0.1M61.7 340.1h0.1M59.8 334.1h0.1M57.8 327.5h0.1M55.6 320.2h0.1M53.2 312.2h0.1M55.2 350.9h0.1M53.2 345.5h0.1M50.9 339.7h0.1M48.4 333.3h0.1M45.7 326.2h0.1M42.7 318.4h0.1M143 285.1h0.1M144.5 278.1h0.1M146.1 270.5h0.1M147.9 262.3h0.1M149.8 253.5h0.1M151.9 243.8h0.1M136.7 289.1h0.1M138 282.1h0.1M139.4 274.7h0.1M140.9 266.5h0.1M142.6 257.8h0.1M144.4 248.2h0.1M130.3 293.1h0.1M131.4 286.3h0.1M132.5 278.9h0.1M133.8 270.8h0.1M135.1 262.1h0.1M136.6 252.6h0.1M123.8 297.3h0.1M124.6 290.5h0.1M125.5 283.2h0.1M126.5 275.2h0.1M127.5 266.6h0.1M128.7 257.2h0.1M117.1 301.5h0.1M117.7 294.8h0.1M118.3 287.6h0.1M119 279.7h0.1M119.8 271.2h0.1M120.6 261.9h0.1M110.3 305.8h0.1M110.6 299.2h0.1M111 292.1h0.1M111.4 284.3h0.1M111.8 275.9h0.1M112.2 266.7h0.1M103.4 310.2h0.1M103.4 303.7h0.1M103.5 296.7h0.1M103.5 289h0.1M103.6 280.7h0.1M103.7 271.6h0.1M96.3 314.7h0.1M96 308.3h0.1M95.8 301.4h0.1M95.5 293.8h0.1M95.2 285.6h0.1M94.9 276.6h0.1M89 319.2h0.1M88.5 313h0.1M87.9 306.2h0.1M87.3 298.8h0.1M86.6 290.7h0.1M85.9 281.8h0.1M81.6 323.9h0.1M80.8 317.8h0.1M79.9 311.1h0.1M78.9 303.8h0.1M77.8 295.9h0.1M76.6 287.2h0.1M74.1 328.7h0.1M72.9 322.7h0.1M71.6 316.2h0.1M70.3 309h0.1M68.7 301.2h0.1M67.1 292.6h0.1M66.4 333.6h0.1M64.8 327.7h0.1M63.2 321.3h0.1M61.4 314.4h0.1M59.5 306.7h0.1M57.3 298.3h0.1M58.5 338.6h0.1M56.6 332.9h0.1M54.6 326.6h0.1M52.3 319.8h0.1M49.9 312.3h0.1M47.2 304.1h0.1M50.4 343.7h0.1M48.1 338.1h0.1M45.7 332.1h0.1M43 325.4h0.1M40.1 318.1h0.1M36.9 310h0.1M137.6 279.8h0.1M139 272.7h0.1M140.4 265h0.1M141.9 256.8h0.1M143.5 247.8h0.1M145.3 238.1h0.1M131.4 283.7h0.1M132.5 276.6h0.1M133.7 269h0.1M134.9 260.8h0.1M136.3 251.9h0.1M137.8 242.3h0.1M125 287.6h0.1M125.9 280.7h0.1M126.8 273.1h0.1M127.8 265h0.1M128.9 256.2h0.1M130.1 246.6h0.1M118.6 291.7h0.1M119.2 284.8h0.1M119.8 277.3h0.1M120.6 269.3h0.1M121.4 260.5h0.1M122.2 251h0.1M111.9 295.8h0.1M112.3 288.9h0.1M112.7 281.6h0.1M113.2 273.6h0.1M113.6 265h0.1M114.1 255.5h0.1M105.2 299.9h0.1M105.3 293.2h0.1M105.4 286h0.1M105.6 278.1h0.1M105.7 269.5h0.1M105.9 260.2h0.1M98.3 304.2h0.1M98.1 297.6h0.1M98 290.4h0.1M97.8 282.6h0.1M97.6 274.2h0.1M97.4 264.9h0.1M91.2 308.6h0.1M90.8 302h0.1M90.3 295h0.1M89.8 287.3h0.1M89.3 278.9h0.1M88.7 269.8h0.1M84 313h0.1M83.3 306.6h0.1M82.5 299.6h0.1M81.7 292.1h0.1M80.7 283.8h0.1M79.7 274.8h0.1M76.7 317.6h0.1M75.7 311.3h0.1M74.5 304.4h0.1M73.3 297h0.1M72 288.8h0.1M70.5 279.9h0.1M69.2 322.2h0.1M67.8 316h0.1M66.4 309.3h0.1M64.8 302h0.1M63 294h0.1M61.1 285.2h0.1M61.5 327h0.1M59.8 320.9h0.1M58 314.3h0.1M56 307.1h0.1M53.8 299.3h0.1M51.4 290.6h0.1M53.7 331.8h0.1M51.7 325.9h0.1M49.4 319.4h0.1M47 312.4h0.1M44.4 304.7h0.1M41.5 296.2h0.1M45.7 336.8h0.1M43.3 331h0.1M40.7 324.7h0.1M37.8 317.8h0.1M34.7 310.3h0.1M31.3 301.9h0.1M132.5 274.7h0.1M133.6 267.5h0.1M134.7 259.7h0.1M136 251.4h0.1M137.4 242.3h0.1M138.9 232.5h0.1M126.3 278.4h0.1M127.1 271.3h0.1M128.1 263.6h0.1M129.1 255.3h0.1M130.2 246.3h0.1M131.4 236.6h0.1M119.9 282.3h0.1M120.6 275.2h0.1M121.3 267.6h0.1M122.1 259.3h0.1M122.9 250.4h0.1M123.8 240.7h0.1M113.5 286.2h0.1M113.9 279.2h0.1M114.4 271.6h0.1M114.8 263.5h0.1M115.4 254.6h0.1M116 245h0.1M106.9 290.2h0.1M107.1 283.3h0.1M107.3 275.8h0.1M107.5 267.7h0.1M107.7 258.9h0.1M107.9 249.4h0.1M100.2 294.3h0.1M100.1 287.4h0.1M100 280h0.1M99.9 272h0.1M99.8 263.3h0.1M99.7 253.9h0.1M93.3 298.4h0.1M93 291.6h0.1M92.6 284.3h0.1M92.2 276.4h0.1M91.8 267.8h0.1M91.3 258.4h0.1M86.3 302.6h0.1M85.7 296h0.1M85 288.8h0.1M84.3 281h0.1M83.5 272.5h0.1M82.7 263.2h0.1M79.2 307h0.1M78.3 300.4h0.1M77.3 293.3h0.1M76.2 285.6h0.1M75.1 277.2h0.1M73.8 268h0.1M71.9 311.4h0.1M70.7 304.9h0.1M69.4 297.9h0.1M68 290.3h0.1M66.4 282h0.1M64.7 272.9h0.1M64.5 315.9h0.1M62.9 309.6h0.1M61.3 302.7h0.1M59.5 295.2h0.1M57.5 287h0.1M55.4 278h0.1M56.8 320.5h0.1M55 314.3h0.1M53 307.5h0.1M50.8 300.2h0.1M48.4 292.1h0.1M45.8 283.3h0.1M49.1 325.2h0.1M46.9 319.1h0.1M44.5 312.5h0.1M41.9 305.2h0.1M39.1 297.3h0.1M36 288.6h0.1M41.1 330h0.1M38.6 324.1h0.1M35.8 317.6h0.1M32.8 310.5h0.1M29.5 302.7h0.1M25.8 294.2h0.1M127.4 269.7h0.1M128.3 262.4h0.1M129.3 254.5h0.1M130.3 246.1h0.1M131.5 237h0.1M132.7 227.1h0.1M121.2 273.3h0.1M121.9 266.1h0.1M122.7 258.3h0.1M123.5 249.9h0.1M124.3 240.9h0.1M125.3 231h0.1M114.9 277.1h0.1M115.4 269.9h0.1M115.9 262.2h0.1M116.5 253.9h0.1M117 244.8h0.1M117.7 235.1h0.1M108.5 280.9h0.1M108.8 273.8h0.1M109 266.1h0.1M109.3 257.9h0.1M109.6 248.9h0.1M109.9 239.2h0.1M102 284.8h0.1M102 277.7h0.1M102 270.1h0.1M102 262h0.1M102 253.1h0.1M101.9 243.4h0.1M95.3 288.7h0.1M95.1 281.8h0.1M94.8 274.3h0.1M94.5 266.1h0.1M94.1 257.3h0.1M93.8 247.8h0.1M88.5 292.8h0.1M88 285.9h0.1M87.4 278.5h0.1M86.8 270.4h0.1M86.2 261.7h0.1M85.4 252.2h0.1M81.6 296.9h0.1M80.8 290.1h0.1M79.9 282.8h0.1M79 274.8h0.1M78 266.2h0.1M76.9 256.8h0.1M74.5 301.1h0.1M73.4 294.4h0.1M72.2 287.2h0.1M71 279.3h0.1M69.6 270.8h0.1M68.1 261.4h0.1M67.2 305.4h0.1M65.9 298.8h0.1M64.4 291.6h0.1M62.8 283.9h0.1M61 275.4h0.1M59.1 266.2h0.1M59.8 309.8h0.1M58.2 303.3h0.1M56.3 296.2h0.1M54.4 288.6h0.1M52.2 280.3h0.1M49.8 271.1h0.1M52.3 314.2h0.1M50.3 307.9h0.1M48.1 300.9h0.1M45.8 293.4h0.1M43.2 285.2h0.1M40.4 276.2h0.1M44.6 318.8h0.1M42.2 312.5h0.1M39.7 305.7h0.1M36.9 298.3h0.1M33.9 290.2h0.1M30.6 281.3h0.1M36.7 323.5h0.1M34 317.3h0.1M31.1 310.7h0.1M27.9 303.4h0.1M24.4 295.4h0.1M20.6 286.7h0.1M122.5 264.8h0.1M123.2 257.4h0.1M124 249.5h0.1M124.8 241h0.1M125.7 231.8h0.1M126.7 221.8h0.1M116.3 268.4h0.1M116.9 261h0.1M117.4 253.2h0.1M118 244.7h0.1M118.6 235.6h0.1M119.3 225.7h0.1M110.1 272h0.1M110.4 264.7h0.1M110.7 256.9h0.1M111 248.5h0.1M111.4 239.4h0.1M111.8 229.6h0.1M103.7 275.7h0.1M103.8 268.5h0.1M103.8 260.8h0.1M103.9 252.4h0.1M104 243.4h0.1M104 233.6h0.1M97.2 279.5h0.1M97 272.3h0.1M96.8 264.7h0.1M96.6 256.4h0.1M96.4 247.4h0.1M96.1 237.7h0.1M90.6 283.3h0.1M90.1 276.3h0.1M89.7 268.7h0.1M89.2 260.5h0.1M88.6 251.5h0.1M88 241.9h0.1M83.8 287.3h0.1M83.1 280.3h0.1M82.4 272.8h0.1M81.6 264.6h0.1M80.7 255.8h0.1M79.8 246.2h0.1M76.9 291.3h0.1M76 284.4h0.1M74.9 276.9h0.1M73.8 268.9h0.1M72.6 260.1h0.1M71.3 250.6h0.1M69.9 295.4h0.1M68.6 288.6h0.1M67.3 281.2h0.1M65.9 273.2h0.1M64.3 264.5h0.1M62.6 255.1h0.1M62.7 299.5h0.1M61.2 292.8h0.1M59.5 285.5h0.1M57.7 277.7h0.1M55.8 269.1h0.1M53.6 259.7h0.1M55.4 303.8h0.1M53.5 297.2h0.1M51.5 290h0.1M49.4 282.2h0.1M47.1 273.7h0.1M44.5 264.5h0.1M47.9 308.2h0.1M45.7 301.6h0.1M43.4 294.5h0.1M40.9 286.9h0.1M38.1 278.5h0.1M35.1 269.3h0.1M40.2 312.6h0.1M37.8 306.2h0.1M35.1 299.2h0.1M32.1 291.6h0.1M29 283.4h0.1M25.5 274.3h0.1M32.4 317.1h0.1M29.6 310.8h0.1M26.5 304h0.1M23.2 296.5h0.1M19.6 288.4h0.1M15.6 279.4h0.1M117.7 260h0.1M118.2 252.6h0.1M118.8 244.6h0.1M119.4 236h0.1M120.1 226.8h0.1M120.8 216.8h0.1M111.6 263.5h0.1M111.9 256.1h0.1M112.3 248.2h0.1M112.7 239.6h0.1M113.1 230.4h0.1M113.5 220.5h0.1M105.4 267h0.1M105.5 259.7h0.1M105.6 251.8h0.1M105.7 243.3h0.1M105.9 234.2h0.1M106 224.3h0.1M99 270.7h0.1M98.9 263.4h0.1M98.8 255.5h0.1M98.7 247.1h0.1M98.5 238h0.1M98.4 228.1h0.1M92.6 274.3h0.1M92.2 267.1h0.1M91.8 259.4h0.1M91.4 251h0.1M91 241.9h0.1M90.5 232.1h0.1M86 278.1h0.1M85.4 270.9h0.1M84.7 263.2h0.1M84 254.9h0.1M83.3 245.9h0.1M82.5 236.2h0.1M79.3 281.9h0.1M78.4 274.8h0.1M77.5 267.2h0.1M76.5 259h0.1M75.4 250h0.1M74.3 240.3h0.1M72.4 285.8h0.1M71.3 278.8h0.1M70.1 271.3h0.1M68.8 263.1h0.1M67.4 254.2h0.1M65.9 244.6h0.1M65.4 289.8h0.1M64 282.9h0.1M62.5 275.4h0.1M60.9 267.3h0.1M59.1 258.5h0.1M57.2 248.9h0.1M58.3 293.9h0.1M56.6 287h0.1M54.8 279.6h0.1M52.8 271.6h0.1M50.7 262.9h0.1M48.4 253.4h0.1M51 298h0.1M49 291.3h0.1M46.9 283.9h0.1M44.6 276h0.1M42.1 267.4h0.1M39.3 258h0.1M43.6 302.2h0.1M41.3 295.6h0.1M38.8 288.4h0.1M36.1 280.5h0.1M33.2 272h0.1M30 262.7h0.1M36 306.6h0.1M33.4 300h0.1M30.6 292.9h0.1M27.5 285.2h0.1M24.2 276.7h0.1M20.5 267.5h0.1M28.3 311h0.1M25.3 304.5h0.1M22.1 297.5h0.1M18.6 289.9h0.1M14.9 281.6h0.1M10.7 272.5h0.1" stroke="#4658bc" stroke-width="1.3" stroke-linecap="round" fill="none" opacity="0.85"/><clipPath id="pk1"><path d="M41.6 326.8 L43 319.6 L47.3 305.1 L51.7 292.1 L83.4 245.9 L135.4 251.7 L138.3 253.7 L141.2 261.8 L144.1 270.4 L147 280.6 L147 293.6 L145.6 308 L144.1 319.6 L142.7 325.3 L84.9 332.6 L56 329.7Z"/></clipPath><path d="M192.3 291.7L120.1 226.8M184.8 296.9L113.1 230.4M177.1 302.2L105.9 234.2M169.3 307.7L98.5 238M161.2 313.4L91 241.9M152.9 319.2L83.3 245.9M144.4 325.1L75.4 250M135.6 331.2L67.4 254.2M126.6 337.5L59.1 258.5M117.3 344L50.7 262.9M107.7 350.7L42.1 267.4M97.9 357.5L33.2 272M87.8 364.6L24.2 276.7M77.3 371.9L14.9 281.6M192.3 291.7L77.3 371.9M184.6 284.8L70.5 362M177.2 278.1L63.9 352.5M170 271.6L57.6 343.4M163.1 265.4L51.6 334.6M156.3 259.3L45.7 326.2M149.8 253.5L40.1 318.1M143.5 247.8L34.7 310.3M137.4 242.3L29.5 302.7M131.5 237L24.4 295.4M125.7 231.8L19.6 288.4M120.1 226.8L14.9 281.6M188.3 299.7L119.4 236M181.1 304.8L112.7 239.6M173.7 310L105.7 243.3M166.2 315.3L98.7 247.1M158.4 320.8L91.4 251M150.5 326.4L84 254.9M142.3 332.2L76.5 259M134 338.1L68.8 263.1M125.4 344.2L60.9 267.3M116.5 350.4L52.8 271.6M107.5 356.9L44.6 276M98.1 363.5L36.1 280.5M88.5 370.3L27.5 285.2M78.6 377.2L18.6 289.9M188.3 299.7L78.6 377.2M181 293L72.1 367.8M174 286.5L65.9 358.6M167.1 280.1L59.9 349.9M160.5 274L54 341.4M154.1 268.1L48.4 333.3M147.9 262.3L43 325.4M141.9 256.8L37.8 317.8M136 251.4L32.8 310.5M130.3 246.1L27.9 303.4M124.8 241L23.2 296.5M119.4 236L18.6 289.9" stroke="#d47aa8" stroke-width="0.6" fill="none" opacity="0.55" clip-path="url(#pk1)"/><path d="M83.4 244.9v-10M96.4 247.8v-10M110.9 249.2v-10M125.3 249.8v-10M135.4 250.7v-10M138.3 252.7v-10M141.2 260.8v-10M144.1 269.4v-10M147 279.6v-10M147 292.6v-10M145.6 307v-10M144.1 318.6v-10M142.7 324.3v-10M131.1 322.9v-10M116.7 321.4v-10M102.2 320.4v-10M90 319v-10M84.7 316.3v-10M82 312v-10M80.7 307.7v-10M76.7 303v-10M70 301.7v-10M63.3 303v-10M60 307.7v-10M58.5 312.5v-10M62 315v-10M68.7 316.3v-10M75.3 317v-10M80.7 315.7v-10M84 311.7v-10M85.3 303.7v-10M82.7 297v-10M78.7 291.7v-10M75.3 286.3v-10M74 281v-10M76.7 275.7v-10M77.3 269v-10M79.1 261v-10M82 253v-10M83.4 244.9v-10M93.6 256.4v-10M105.1 257.9v-10M116.7 259.3v-10M122.4 260.8v-10M125.3 272.3v-10M129.7 283.9v-10M132.6 291.1v-10M132.6 301.2v-10M129.7 308.4v-10M116.7 309.3v-10M103.7 309.3v-10M99.3 305.6v-10M97.9 295.4v-10M92.1 286.8v-10M90.7 275.2v-10M92.1 265.1v-10M93.6 256.4v-10M96.4 292.6v-10M87.8 289.7v-10M79.1 288.2v-10M64.7 289.7v-10M51.7 291.1v-10M47.3 304.1v-10M43 318.6v-10M41.6 325.8v-10M56 328.7v-10M70.4 330.1v-10M84.9 331.6v-10M95 330.1v-10M97.9 321.4v-10M99.3 312.8v-10M99.3 305.6v-10" stroke="#3a3a3a" stroke-width="0.9" opacity="0.6" fill="none"/><path d="M83.4 245.9 L96.4 248.8 L110.9 250.2 L125.3 250.8 L135.4 251.7 L138.3 253.7 L141.2 261.8 L144.1 270.4 L147 280.6 L147 293.6 L145.6 308 L144.1 319.6 L142.7 325.3 L131.1 323.9 L116.7 322.4 L102.2 321.4 L90 320 L84.7 317.3 L82 313 L80.7 308.7 L76.7 304 L70 302.7 L63.3 304 L60 308.7 L58.5 313.5 L62 316 L68.7 317.3 L75.3 318 L80.7 316.7 L84 312.7 L85.3 304.7 L82.7 298 L78.7 292.7 L75.3 287.3 L74 282 L76.7 276.7 L77.3 270 L79.1 262 L82 254 L83.4 245.9" fill="none" stroke="#2e2614" stroke-width="5.0" stroke-linejoin="round" stroke-linecap="round" opacity="0.85"/><path d="M83.4 245.9 L96.4 248.8 L110.9 250.2 L125.3 250.8 L135.4 251.7 L138.3 253.7 L141.2 261.8 L144.1 270.4 L147 280.6 L147 293.6 L145.6 308 L144.1 319.6 L142.7 325.3 L131.1 323.9 L116.7 322.4 L102.2 321.4 L90 320 L84.7 317.3 L82 313 L80.7 308.7 L76.7 304 L70 302.7 L63.3 304 L60 308.7 L58.5 313.5 L62 316 L68.7 317.3 L75.3 318 L80.7 316.7 L84 312.7 L85.3 304.7 L82.7 298 L78.7 292.7 L75.3 287.3 L74 282 L76.7 276.7 L77.3 270 L79.1 262 L82 254 L83.4 245.9" fill="none" stroke="#c08a30" stroke-width="3.6" stroke-linejoin="round" stroke-linecap="round"/><path d="M85 246.2L94.8 248.5M98 249L109.3 250M112.5 250.3L123.7 250.7M126.9 250.9L133.8 251.6M136.1 252.2L137.6 253.2M138.8 255.2L140.7 260.3M141.7 263.3L143.6 268.9M144.5 271.9L146.6 279.1M147 282.2L147 292M146.8 295.2L145.8 306.4M145.4 309.6L144.3 318M143.7 321.2L143.1 323.7M141.1 325.1L132.7 324.1M129.5 323.7L118.3 322.6M115.1 322.3L103.8 321.5M100.6 321.2L91.6 320.2M88.6 319.3L86.1 318M83.8 315.9L82.9 314.4M81.7 312.1L81 309.6M79.7 307.5L77.7 305.2M75.1 303.7L71.6 303M68.4 303L64.9 303.7M62.4 305.3L60.9 307.4M59.5 310.2L59 312M59.2 314L61.3 315.5M63.6 316.3L67.1 317M70.3 317.5L73.7 317.8M76.9 317.6L79.1 317.1M81.7 315.5L83 313.9M84.3 311.1L85 306.3M84.7 303.2L83.3 299.5M81.7 296.7L79.7 294M77.8 291.3L76.2 288.7M74.9 285.7L74.4 283.6M74.7 280.6L76 278.1M76.8 275.1L77.2 271.6M77.7 268.4L78.7 263.6M79.6 260.5L81.5 255.5M82.3 252.4L83.1 247.5" fill="none" stroke="#eed490" stroke-width="2.5" stroke-linecap="round"/><path d="M93.6 257.4 L105.1 258.9 L116.7 260.3 L122.4 261.8 L125.3 273.3 L129.7 284.9 L132.6 292.1 L132.6 302.2 L129.7 309.4 L116.7 310.3 L103.7 310.3 L99.3 306.6 L97.9 296.4 L92.1 287.8 L90.7 276.2 L92.1 266.1 L93.6 257.4" fill="none" stroke="#2a1030" stroke-width="5.0" stroke-linejoin="round" stroke-linecap="round" opacity="0.85"/><path d="M93.6 257.4 L105.1 258.9 L116.7 260.3 L122.4 261.8 L125.3 273.3 L129.7 284.9 L132.6 292.1 L132.6 302.2 L129.7 309.4 L116.7 310.3 L103.7 310.3 L99.3 306.6 L97.9 296.4 L92.1 287.8 L90.7 276.2 L92.1 266.1 L93.6 257.4" fill="none" stroke="#8e2a8c" stroke-width="3.6" stroke-linejoin="round" stroke-linecap="round"/><path d="M95.2 257.6L103.5 258.7M106.7 259.1L115.1 260.1M118.2 260.7L120.9 261.4M122.8 263.4L124.9 271.7M125.9 274.8L129.1 283.4M130.3 286.4L132 290.6M132.6 293.7L132.6 300.6M132 303.7L130.3 307.9M128.1 309.5L118.3 310.2M115.1 310.3L105.3 310.3M102.5 309.3L100.5 307.6M99.1 305L98.1 298M97 295.1L93 289.1M91.9 286.2L90.9 277.8M90.9 274.6L91.9 267.7M92.4 264.5L93.3 259" fill="none" stroke="#c486cc" stroke-width="2.5" stroke-linecap="round"/><path d="M96.4 293.6 L87.8 290.7 L79.1 289.2 L64.7 290.7 L51.7 292.1 L47.3 305.1 L43 319.6 L41.6 326.8 L56 329.7 L70.4 331.1 L84.9 332.6 L95 331.1 L97.9 322.4 L99.3 313.8 L99.3 306.6" fill="none" stroke="#2a1030" stroke-width="5.0" stroke-linejoin="round" stroke-linecap="round" opacity="0.85"/><path d="M96.4 293.6 L87.8 290.7 L79.1 289.2 L64.7 290.7 L51.7 292.1 L47.3 305.1 L43 319.6 L41.6 326.8 L56 329.7 L70.4 331.1 L84.9 332.6 L95 331.1 L97.9 322.4 L99.3 313.8 L99.3 306.6" fill="none" stroke="#8e2a8c" stroke-width="3.6" stroke-linejoin="round" stroke-linecap="round"/><path d="M94.9 293.1L89.3 291.2M86.2 290.4L80.7 289.5M77.5 289.4L66.3 290.5M63.1 290.9L53.3 291.9M51.2 293.6L47.8 303.6M46.8 306.6L43.5 318.1M42.7 321.2L41.9 325.2M43.2 327.1L54.4 329.4M57.6 329.9L68.8 330.9M72 331.3L83.3 332.4M86.5 332.4L93.4 331.3M95.5 329.6L97.4 323.9M98.2 320.8L99 315.4M99.3 312.2L99.3 308.2" fill="none" stroke="#c486cc" stroke-width="2.5" stroke-linecap="round"/><path d="M178.2 510.2L117.7 450.1M171.7 514.9L111.6 453.6M165.1 519.7L105.4 457.1M158.4 524.6L99 460.8M151.5 529.6L92.6 464.4M144.5 534.8L86 468.2M137.3 540L79.3 472M129.9 545.4L72.4 475.9M122.4 550.9L65.4 479.9M114.7 556.5L58.3 484M106.8 562.3L51 488.1M98.7 568.2L43.6 492.3M90.4 574.2L36 496.7M81.9 580.4L28.3 501.1M178.2 510.2L81.9 580.4M171.9 503.9L76.2 572M165.8 497.9L70.7 563.9M159.8 492L65.4 556M154.1 486.2L60.2 548.4M148.4 480.7L55.2 541M143 475.2L50.4 533.8M137.6 469.9L45.7 526.9M132.5 464.8L41.1 520.1M127.4 459.8L36.7 513.6M122.5 454.9L32.4 507.2M117.7 450.1L28.3 501.1M181.3 504L118.2 442.7M174.6 508.8L111.9 446.2M167.8 513.7L105.5 449.8M160.8 518.8L98.9 453.5M153.6 523.9L92.2 457.2M146.3 529.2L85.4 461M138.8 534.6L78.4 464.9M131.2 540.2L71.3 468.9M123.3 545.8L64 473M115.2 551.7L56.6 477.1M107 557.6L49 481.4M98.5 563.8L41.3 485.7M89.8 570L33.4 490.1M80.9 576.5L25.3 494.6M181.3 504L80.9 576.5M174.7 497.5L75 567.7M168.3 491.3L69.2 559.3M162.1 485.3L63.7 551.1M156 479.4L58.3 543.3M150.2 473.7L53.2 535.6M144.5 468.2L48.1 528.2M139 462.8L43.3 521.1M133.6 457.6L38.6 514.2M128.3 452.5L34 507.4M123.2 447.5L29.6 500.9M118.2 442.7L25.3 494.6M184.6 497.2L118.8 434.7M177.7 502.1L112.3 438.3M170.6 507.2L105.6 441.9M163.4 512.4L98.8 445.6M155.9 517.7L91.8 449.5M148.3 523.2L84.7 453.3M140.5 528.7L77.5 457.3M132.5 534.5L70.1 461.4M124.3 540.3L62.5 465.5M115.9 546.4L54.8 469.7M107.2 552.6L46.9 474M98.3 558.9L38.8 478.5M89.2 565.4L30.6 483M79.8 572.1L22.1 487.6M184.6 497.2L79.8 572.1M177.7 490.6L73.6 563M171 484.3L67.6 554.3M164.5 478.1L61.9 545.8M158.2 472.1L56.3 537.7M152.1 466.3L50.9 529.8M146.1 460.6L45.7 522.2M140.4 455.1L40.7 514.8M134.7 449.8L35.8 507.7M129.3 444.6L31.1 500.8M124 439.6L26.5 494.1M118.8 434.7L22.1 487.6M188.3 489.8L119.4 426.1M181.1 494.9L112.7 429.7M173.7 500.1L105.7 433.4M166.2 505.4L98.7 437.2M158.4 510.9L91.4 441.1M150.5 516.5L84 445M142.3 522.3L76.5 449.1M134 528.2L68.8 453.2M125.4 534.3L60.9 457.4M116.5 540.5L52.8 461.7M107.5 547L44.6 466.1M98.1 553.6L36.1 470.6M88.5 560.4L27.5 475.3M78.6 567.3L18.6 480M188.3 489.8L78.6 567.3M181 483.1L72.1 557.9M174 476.6L65.9 548.7M167.1 470.2L59.9 540M160.5 464.1L54 531.5M154.1 458.2L48.4 523.4M147.9 452.4L43 515.5M141.9 446.9L37.8 507.9M136 441.5L32.8 500.6M130.3 436.2L27.9 493.5M124.8 431.1L23.2 486.6M119.4 426.1L18.6 480M192.3 481.8L120.1 416.9M184.8 487L113.1 420.5M177.1 492.3L105.9 424.3M169.3 497.8L98.5 428.1M161.2 503.5L91 432M152.9 509.3L83.3 436M144.4 515.2L75.4 440.1M135.6 521.3L67.4 444.3M126.6 527.6L59.1 448.6M117.3 534.1L50.7 453M107.7 540.8L42.1 457.5M97.9 547.6L33.2 462.1M87.8 554.7L24.2 466.8M77.3 562L14.9 471.7M192.3 481.8L77.3 562M184.6 474.9L70.5 552.1M177.2 468.2L63.9 542.6M170 461.7L57.6 533.5M163.1 455.5L51.6 524.7M156.3 449.4L45.7 516.3M149.8 443.6L40.1 508.2M143.5 437.9L34.7 500.4M137.4 432.4L29.5 492.8M131.5 427.1L24.4 485.5M125.7 421.9L19.6 478.5M120.1 416.9L14.9 471.7M196.7 472.9L120.8 406.9M188.9 478.3L113.5 410.6M180.9 483.8L106 414.4M172.7 489.4L98.4 418.2M164.2 495.2L90.5 422.2M155.5 501.2L82.5 426.3M146.6 507.4L74.3 430.4M137.4 513.7L65.9 434.7M127.9 520.2L57.2 439M118.1 526.9L48.4 443.5M108.1 533.9L39.3 448.1M97.7 541L30 452.8M86.9 548.4L20.5 457.6M75.9 556L10.7 462.6M196.7 472.9L75.9 556M188.5 465.8L68.7 545.7M180.7 459L61.8 535.8M173.1 452.4L55.2 526.3M165.8 446L48.8 517.2M158.8 439.9L42.7 508.5M151.9 433.9L36.9 500.1M145.3 428.2L31.3 492M138.9 422.6L25.8 484.3M132.7 417.2L20.6 476.8M126.7 411.9L15.6 469.5M120.8 406.9L10.7 462.6" stroke="#a2d0e6" stroke-width="0.5" fill="none" opacity="0.75"/><path d="M178.2 510.2L196.7 472.9M171.7 514.9L188.9 478.3M165.1 519.7L180.9 483.8M158.4 524.6L172.7 489.4M151.5 529.6L164.2 495.2M144.5 534.8L155.5 501.2M137.3 540L146.6 507.4M129.9 545.4L137.4 513.7M122.4 550.9L127.9 520.2M114.7 556.5L118.1 526.9M106.8 562.3L108.1 533.9M98.7 568.2L97.7 541M90.4 574.2L86.9 548.4M81.9 580.4L75.9 556M171.9 503.9L188.5 465.8M165.5 508.5L180.8 471M158.9 513.2L172.8 476.3M152.2 517.9L164.7 481.7M145.4 522.8L156.3 487.3M138.4 527.8L147.6 493.1M131.2 532.9L138.7 499M123.9 538.1L129.6 505.1M116.4 543.4L120.2 511.4M108.7 548.9L110.5 517.8M100.9 554.5L100.5 524.5M92.8 560.2L90.2 531.3M84.6 566L79.6 538.4M76.2 572L68.7 545.7M165.8 497.9L180.7 459M159.4 502.3L173 464M152.9 506.8L165.1 469.1M146.2 511.5L157 474.4M139.4 516.2L148.6 479.7M132.4 521L140 485.3M125.3 526L131.2 491M118 531L122.1 496.8M110.6 536.2L112.8 502.9M103 541.5L103.2 509.1M95.2 546.9L93.3 515.5M87.2 552.4L83.1 522M79 558.1L72.6 528.8M70.7 563.9L61.8 535.8M159.8 492L173.1 452.4M153.5 496.3L165.5 457.2M147 500.7L157.6 462.2M140.3 505.2L149.5 467.2M133.6 509.8L141.2 472.4M126.7 514.5L132.7 477.8M119.6 519.3L123.9 483.3M112.3 524.2L114.9 488.9M105 529.2L105.7 494.7M97.4 534.3L96.2 500.7M89.7 539.5L86.4 506.8M81.7 544.9L76.3 513.1M73.6 550.4L65.9 519.6M65.4 556L55.2 526.3M154.1 486.2L165.8 446M147.7 490.4L158.2 450.7M141.3 494.7L150.4 455.5M134.7 499.1L142.3 460.3M127.9 503.5L134.1 465.4M121 508.1L125.6 470.5M114 512.7L116.9 475.8M106.8 517.5L108 481.2M99.5 522.4L98.8 486.8M92 527.3L89.4 492.6M84.3 532.4L79.7 498.5M76.5 537.6L69.7 504.5M68.4 542.9L59.4 510.8M60.2 548.4L48.8 517.2M148.4 480.7L158.8 439.9M142.1 484.7L151.2 444.4M135.7 488.9L143.4 449M129.1 493.1L135.4 453.7M122.4 497.5L127.2 458.6M115.6 501.9L118.8 463.5M108.6 506.4L110.2 468.6M101.5 511L101.3 473.9M94.2 515.8L92.2 479.2M86.7 520.6L82.9 484.8M79.1 525.5L73.3 490.5M71.3 530.6L63.4 496.3M63.4 535.7L53.2 502.3M55.2 541L42.7 508.5M143 475.2L151.9 433.9M136.7 479.2L144.4 438.3M130.3 483.2L136.6 442.7M123.8 487.4L128.7 447.3M117.1 491.6L120.6 452M110.3 495.9L112.2 456.8M103.4 500.3L103.7 461.7M96.3 504.8L94.9 466.7M89 509.3L85.9 471.9M81.6 514L76.6 477.3M74.1 518.8L67.1 482.7M66.4 523.7L57.3 488.4M58.5 528.7L47.2 494.2M50.4 533.8L36.9 500.1M137.6 469.9L145.3 428.2M131.4 473.8L137.8 432.4M125 477.7L130.1 436.7M118.6 481.8L122.2 441.1M111.9 485.9L114.1 445.6M105.2 490L105.9 450.3M98.3 494.3L97.4 455M91.2 498.7L88.7 459.9M84 503.1L79.7 464.9M76.7 507.7L70.5 470M69.2 512.3L61.1 475.3M61.5 517.1L51.4 480.7M53.7 521.9L41.5 486.3M45.7 526.9L31.3 492M132.5 464.8L138.9 422.6M126.3 468.5L131.4 426.7M119.9 472.4L123.8 430.8M113.5 476.3L116 435.1M106.9 480.3L107.9 439.5M100.2 484.4L99.7 444M93.3 488.5L91.3 448.5M86.3 492.7L82.7 453.3M79.2 497.1L73.8 458.1M71.9 501.5L64.7 463M64.5 506L55.4 468.1M56.8 510.6L45.8 473.4M49.1 515.3L36 478.7M41.1 520.1L25.8 484.3M127.4 459.8L132.7 417.2M121.2 463.4L125.3 421.1M114.9 467.2L117.7 425.2M108.5 471L109.9 429.3M102 474.9L101.9 433.5M95.3 478.8L93.8 437.9M88.5 482.9L85.4 442.3M81.6 487L76.9 446.9M74.5 491.2L68.1 451.5M67.2 495.5L59.1 456.3M59.8 499.9L49.8 461.2M52.3 504.3L40.4 466.3M44.6 508.9L30.6 471.4M36.7 513.6L20.6 476.8M122.5 454.9L126.7 411.9M116.3 458.5L119.3 415.8M110.1 462.1L111.8 419.7M103.7 465.8L104 423.7M97.2 469.6L96.1 427.8M90.6 473.4L88 432M83.8 477.4L79.8 436.3M76.9 481.4L71.3 440.7M69.9 485.5L62.6 445.2M62.7 489.6L53.6 449.8M55.4 493.9L44.5 454.6M47.9 498.3L35.1 459.4M40.2 502.7L25.5 464.4M32.4 507.2L15.6 469.5M117.7 450.1L120.8 406.9M111.6 453.6L113.5 410.6M105.4 457.1L106 414.4M99 460.8L98.4 418.2M92.6 464.4L90.5 422.2M86 468.2L82.5 426.3M79.3 472L74.3 430.4M72.4 475.9L65.9 434.7M65.4 479.9L57.2 439M58.3 484L48.4 443.5M51 488.1L39.3 448.1M43.6 492.3L30 452.8M36 496.7L20.5 457.6M28.3 501.1L10.7 462.6" stroke="#d4d4da" stroke-width="0.4" fill="none" opacity="0.8"/><path d="M178.2 510.2h0.1M181.3 504h0.1M184.6 497.2h0.1M188.3 489.8h0.1M192.3 481.8h0.1M196.7 472.9h0.1M171.7 514.9h0.1M174.6 508.8h0.1M177.7 502.1h0.1M181.1 494.9h0.1M184.8 487h0.1M188.9 478.3h0.1M165.1 519.7h0.1M167.8 513.7h0.1M170.6 507.2h0.1M173.7 500.1h0.1M177.1 492.3h0.1M180.9 483.8h0.1M158.4 524.6h0.1M160.8 518.8h0.1M163.4 512.4h0.1M166.2 505.4h0.1M169.3 497.8h0.1M172.7 489.4h0.1M151.5 529.6h0.1M153.6 523.9h0.1M155.9 517.7h0.1M158.4 510.9h0.1M161.2 503.5h0.1M164.2 495.2h0.1M144.5 534.8h0.1M146.3 529.2h0.1M148.3 523.2h0.1M150.5 516.5h0.1M152.9 509.3h0.1M155.5 501.2h0.1M137.3 540h0.1M138.8 534.6h0.1M140.5 528.7h0.1M142.3 522.3h0.1M144.4 515.2h0.1M146.6 507.4h0.1M129.9 545.4h0.1M131.2 540.2h0.1M132.5 534.5h0.1M134 528.2h0.1M135.6 521.3h0.1M137.4 513.7h0.1M122.4 550.9h0.1M123.3 545.8h0.1M124.3 540.3h0.1M125.4 534.3h0.1M126.6 527.6h0.1M127.9 520.2h0.1M114.7 556.5h0.1M115.2 551.7h0.1M115.9 546.4h0.1M116.5 540.5h0.1M117.3 534.1h0.1M118.1 526.9h0.1M106.8 562.3h0.1M107 557.6h0.1M107.2 552.6h0.1M107.5 547h0.1M107.7 540.8h0.1M108.1 533.9h0.1M98.7 568.2h0.1M98.5 563.8h0.1M98.3 558.9h0.1M98.1 553.6h0.1M97.9 547.6h0.1M97.7 541h0.1M90.4 574.2h0.1M89.8 570h0.1M89.2 565.4h0.1M88.5 560.4h0.1M87.8 554.7h0.1M86.9 548.4h0.1M81.9 580.4h0.1M80.9 576.5h0.1M79.8 572.1h0.1M78.6 567.3h0.1M77.3 562h0.1M75.9 556h0.1M171.9 503.9h0.1M174.7 497.5h0.1M177.7 490.6h0.1M181 483.1h0.1M184.6 474.9h0.1M188.5 465.8h0.1M165.5 508.5h0.1M168 502.2h0.1M170.8 495.4h0.1M173.9 488h0.1M177.2 479.9h0.1M180.8 471h0.1M158.9 513.2h0.1M161.2 507h0.1M163.8 500.3h0.1M166.5 493h0.1M169.5 485.1h0.1M172.8 476.3h0.1M152.2 517.9h0.1M154.3 511.9h0.1M156.5 505.3h0.1M159 498.2h0.1M161.7 490.4h0.1M164.7 481.7h0.1M145.4 522.8h0.1M147.2 516.9h0.1M149.2 510.5h0.1M151.3 503.5h0.1M153.7 495.8h0.1M156.3 487.3h0.1M138.4 527.8h0.1M139.9 522h0.1M141.6 515.8h0.1M143.4 508.9h0.1M145.4 501.4h0.1M147.6 493.1h0.1M131.2 532.9h0.1M132.5 527.3h0.1M133.8 521.2h0.1M135.3 514.5h0.1M136.9 507.1h0.1M138.7 499h0.1M123.9 538.1h0.1M124.8 532.6h0.1M125.9 526.7h0.1M127 520.2h0.1M128.2 513h0.1M129.6 505.1h0.1M116.4 543.4h0.1M117 538.1h0.1M117.7 532.4h0.1M118.5 526h0.1M119.3 519.1h0.1M120.2 511.4h0.1M108.7 548.9h0.1M109 543.8h0.1M109.3 538.2h0.1M109.7 532.1h0.1M110.1 525.3h0.1M110.5 517.8h0.1M100.9 554.5h0.1M100.8 549.5h0.1M100.8 544.2h0.1M100.7 538.3h0.1M100.6 531.7h0.1M100.5 524.5h0.1M92.8 560.2h0.1M92.4 555.5h0.1M91.9 550.3h0.1M91.4 544.6h0.1M90.9 538.3h0.1M90.2 531.3h0.1M84.6 566h0.1M83.8 561.5h0.1M82.9 556.6h0.1M81.9 551.1h0.1M80.8 545.1h0.1M79.6 538.4h0.1M76.2 572h0.1M75 567.7h0.1M73.6 563h0.1M72.1 557.9h0.1M70.5 552.1h0.1M68.7 545.7h0.1M165.8 497.9h0.1M168.3 491.3h0.1M171 484.3h0.1M174 476.6h0.1M177.2 468.2h0.1M180.7 459h0.1M159.4 502.3h0.1M161.7 495.9h0.1M164.1 488.9h0.1M166.8 481.3h0.1M169.8 473h0.1M173 464h0.1M152.9 506.8h0.1M154.9 500.5h0.1M157.1 493.7h0.1M159.5 486.2h0.1M162.2 478h0.1M165.1 469.1h0.1M146.2 511.5h0.1M148 505.3h0.1M149.9 498.5h0.1M152.1 491.2h0.1M154.4 483.2h0.1M157 474.4h0.1M139.4 516.2h0.1M140.9 510.1h0.1M142.6 503.5h0.1M144.4 496.3h0.1M146.4 488.4h0.1M148.6 479.7h0.1M132.4 521h0.1M133.7 515.1h0.1M135.1 508.6h0.1M136.6 501.5h0.1M138.2 493.8h0.1M140 485.3h0.1M125.3 526h0.1M126.3 520.2h0.1M127.3 513.8h0.1M128.5 506.9h0.1M129.8 499.3h0.1M131.2 491h0.1M118 531h0.1M118.7 525.4h0.1M119.4 519.2h0.1M120.3 512.4h0.1M121.1 505h0.1M122.1 496.8h0.1M110.6 536.2h0.1M111 530.7h0.1M111.3 524.7h0.1M111.8 518.1h0.1M112.3 510.9h0.1M112.8 502.9h0.1M103 541.5h0.1M103 536.1h0.1M103 530.3h0.1M103.1 523.9h0.1M103.1 516.9h0.1M103.2 509.1h0.1M95.2 546.9h0.1M94.9 541.7h0.1M94.5 536.1h0.1M94.2 529.9h0.1M93.8 523h0.1M93.3 515.5h0.1M87.2 552.4h0.1M86.5 547.4h0.1M85.8 542h0.1M85 536h0.1M84.1 529.4h0.1M83.1 522h0.1M79 558.1h0.1M78 553.3h0.1M76.8 548h0.1M75.6 542.3h0.1M74.2 535.9h0.1M72.6 528.8h0.1M70.7 563.9h0.1M69.2 559.3h0.1M67.6 554.3h0.1M65.9 548.7h0.1M63.9 542.6h0.1M61.8 535.8h0.1M159.8 492h0.1M162.1 485.3h0.1M164.5 478.1h0.1M167.1 470.2h0.1M170 461.7h0.1M173.1 452.4h0.1M153.5 496.3h0.1M155.5 489.7h0.1M157.7 482.6h0.1M160.1 474.9h0.1M162.6 466.4h0.1M165.5 457.2h0.1M147 500.7h0.1M148.8 494.2h0.1M150.7 487.2h0.1M152.8 479.6h0.1M155.1 471.3h0.1M157.6 462.2h0.1M140.3 505.2h0.1M141.9 498.8h0.1M143.5 491.9h0.1M145.4 484.4h0.1M147.3 476.2h0.1M149.5 467.2h0.1M133.6 509.8h0.1M134.9 503.5h0.1M136.2 496.7h0.1M137.7 489.3h0.1M139.4 481.3h0.1M141.2 472.4h0.1M126.7 514.5h0.1M127.7 508.3h0.1M128.8 501.7h0.1M129.9 494.4h0.1M131.3 486.5h0.1M132.7 477.8h0.1M119.6 519.3h0.1M120.3 513.3h0.1M121.1 506.7h0.1M122 499.6h0.1M122.9 491.8h0.1M123.9 483.3h0.1M112.3 524.2h0.1M112.8 518.3h0.1M113.2 511.9h0.1M113.8 504.9h0.1M114.3 497.3h0.1M114.9 488.9h0.1M105 529.2h0.1M105.1 523.4h0.1M105.2 517.2h0.1M105.3 510.4h0.1M105.5 502.9h0.1M105.7 494.7h0.1M97.4 534.3h0.1M97.2 528.7h0.1M97 522.7h0.1M96.7 516h0.1M96.4 508.7h0.1M96.2 500.7h0.1M89.7 539.5h0.1M89.1 534.1h0.1M88.5 528.2h0.1M87.9 521.8h0.1M87.1 514.7h0.1M86.4 506.8h0.1M81.7 544.9h0.1M80.8 539.7h0.1M79.9 533.9h0.1M78.8 527.7h0.1M77.6 520.8h0.1M76.3 513.1h0.1M73.6 550.4h0.1M72.4 545.3h0.1M71 539.8h0.1M69.4 533.7h0.1M67.8 527h0.1M65.9 519.6h0.1M65.4 556h0.1M63.7 551.1h0.1M61.9 545.8h0.1M59.9 540h0.1M57.6 533.5h0.1M55.2 526.3h0.1M154.1 486.2h0.1M156 479.4h0.1M158.2 472.1h0.1M160.5 464.1h0.1M163.1 455.5h0.1M165.8 446h0.1M147.7 490.4h0.1M149.5 483.7h0.1M151.4 476.5h0.1M153.5 468.6h0.1M155.7 460h0.1M158.2 450.7h0.1M141.3 494.7h0.1M142.8 488.1h0.1M144.5 480.9h0.1M146.3 473.2h0.1M148.2 464.7h0.1M150.4 455.5h0.1M134.7 499.1h0.1M136 492.6h0.1M137.4 485.5h0.1M138.9 477.8h0.1M140.5 469.5h0.1M142.3 460.3h0.1M127.9 503.5h0.1M129 497.1h0.1M130.1 490.2h0.1M131.3 482.6h0.1M132.6 474.4h0.1M134.1 465.4h0.1M121 508.1h0.1M121.8 501.8h0.1M122.6 495h0.1M123.5 487.5h0.1M124.5 479.4h0.1M125.6 470.5h0.1M114 512.7h0.1M114.5 506.6h0.1M115 499.9h0.1M115.6 492.6h0.1M116.2 484.6h0.1M116.9 475.8h0.1M106.8 517.5h0.1M107 511.5h0.1M107.2 504.9h0.1M107.5 497.7h0.1M107.7 489.9h0.1M108 481.2h0.1M99.5 522.4h0.1M99.4 516.4h0.1M99.3 510h0.1M99.1 503h0.1M99 495.3h0.1M98.8 486.8h0.1M92 527.3h0.1M91.6 521.6h0.1M91.1 515.3h0.1M90.6 508.4h0.1M90 500.9h0.1M89.4 492.6h0.1M84.3 532.4h0.1M83.5 526.8h0.1M82.7 520.7h0.1M81.8 514h0.1M80.8 506.6h0.1M79.7 498.5h0.1M76.5 537.6h0.1M75.3 532.1h0.1M74.1 526.2h0.1M72.8 519.7h0.1M71.3 512.5h0.1M69.7 504.5h0.1M68.4 542.9h0.1M66.9 537.6h0.1M65.3 531.9h0.1M63.5 525.5h0.1M61.6 518.5h0.1M59.4 510.8h0.1M60.2 548.4h0.1M58.3 543.3h0.1M56.3 537.7h0.1M54 531.5h0.1M51.6 524.7h0.1M48.8 517.2h0.1M148.4 480.7h0.1M150.2 473.7h0.1M152.1 466.3h0.1M154.1 458.2h0.1M156.3 449.4h0.1M158.8 439.9h0.1M142.1 484.7h0.1M143.7 477.9h0.1M145.3 470.5h0.1M147.1 462.5h0.1M149 453.8h0.1M151.2 444.4h0.1M135.7 488.9h0.1M137 482.1h0.1M138.4 474.9h0.1M139.9 467h0.1M141.6 458.4h0.1M143.4 449h0.1M129.1 493.1h0.1M130.2 486.5h0.1M131.3 479.3h0.1M132.6 471.5h0.1M133.9 463h0.1M135.4 453.7h0.1M122.4 497.5h0.1M123.2 490.9h0.1M124.1 483.8h0.1M125.1 476.1h0.1M126.1 467.7h0.1M127.2 458.6h0.1M115.6 501.9h0.1M116.1 495.5h0.1M116.7 488.5h0.1M117.4 480.9h0.1M118 472.6h0.1M118.8 463.5h0.1M108.6 506.4h0.1M108.9 500.1h0.1M109.2 493.2h0.1M109.5 485.7h0.1M109.8 477.6h0.1M110.2 468.6h0.1M101.5 511h0.1M101.5 504.8h0.1M101.4 498.1h0.1M101.4 490.7h0.1M101.4 482.7h0.1M101.3 473.9h0.1M94.2 515.8h0.1M93.9 509.7h0.1M93.5 503h0.1M93.1 495.8h0.1M92.7 487.9h0.1M92.2 479.2h0.1M86.7 520.6h0.1M86.1 514.6h0.1M85.4 508.1h0.1M84.6 501.1h0.1M83.8 493.3h0.1M82.9 484.8h0.1M79.1 525.5h0.1M78.1 519.7h0.1M77.1 513.3h0.1M75.9 506.4h0.1M74.7 498.8h0.1M73.3 490.5h0.1M71.3 530.6h0.1M70 524.9h0.1M68.6 518.7h0.1M67 511.9h0.1M65.3 504.5h0.1M63.4 496.3h0.1M63.4 535.7h0.1M61.7 530.2h0.1M59.8 524.2h0.1M57.8 517.6h0.1M55.6 510.3h0.1M53.2 502.3h0.1M55.2 541h0.1M53.2 535.6h0.1M50.9 529.8h0.1M48.4 523.4h0.1M45.7 516.3h0.1M42.7 508.5h0.1M143 475.2h0.1M144.5 468.2h0.1M146.1 460.6h0.1M147.9 452.4h0.1M149.8 443.6h0.1M151.9 433.9h0.1M136.7 479.2h0.1M138 472.2h0.1M139.4 464.8h0.1M140.9 456.6h0.1M142.6 447.9h0.1M144.4 438.3h0.1M130.3 483.2h0.1M131.4 476.4h0.1M132.5 469h0.1M133.8 460.9h0.1M135.1 452.2h0.1M136.6 442.7h0.1M123.8 487.4h0.1M124.6 480.6h0.1M125.5 473.3h0.1M126.5 465.3h0.1M127.5 456.7h0.1M128.7 447.3h0.1M117.1 491.6h0.1M117.7 484.9h0.1M118.3 477.7h0.1M119 469.8h0.1M119.8 461.3h0.1M120.6 452h0.1M110.3 495.9h0.1M110.6 489.3h0.1M111 482.2h0.1M111.4 474.4h0.1M111.8 466h0.1M112.2 456.8h0.1M103.4 500.3h0.1M103.4 493.8h0.1M103.5 486.8h0.1M103.5 479.1h0.1M103.6 470.8h0.1M103.7 461.7h0.1M96.3 504.8h0.1M96 498.4h0.1M95.8 491.5h0.1M95.5 483.9h0.1M95.2 475.7h0.1M94.9 466.7h0.1M89 509.3h0.1M88.5 503.1h0.1M87.9 496.3h0.1M87.3 488.9h0.1M86.6 480.8h0.1M85.9 471.9h0.1M81.6 514h0.1M80.8 507.9h0.1M79.9 501.2h0.1M78.9 493.9h0.1M77.8 486h0.1M76.6 477.3h0.1M74.1 518.8h0.1M72.9 512.8h0.1M71.6 506.3h0.1M70.3 499.1h0.1M68.7 491.3h0.1M67.1 482.7h0.1M66.4 523.7h0.1M64.8 517.8h0.1M63.2 511.4h0.1M61.4 504.5h0.1M59.5 496.8h0.1M57.3 488.4h0.1M58.5 528.7h0.1M56.6 523h0.1M54.6 516.7h0.1M52.3 509.9h0.1M49.9 502.4h0.1M47.2 494.2h0.1M50.4 533.8h0.1M48.1 528.2h0.1M45.7 522.2h0.1M43 515.5h0.1M40.1 508.2h0.1M36.9 500.1h0.1M137.6 469.9h0.1M139 462.8h0.1M140.4 455.1h0.1M141.9 446.9h0.1M143.5 437.9h0.1M145.3 428.2h0.1M131.4 473.8h0.1M132.5 466.7h0.1M133.7 459.1h0.1M134.9 450.9h0.1M136.3 442h0.1M137.8 432.4h0.1M125 477.7h0.1M125.9 470.8h0.1M126.8 463.2h0.1M127.8 455.1h0.1M128.9 446.3h0.1M130.1 436.7h0.1M118.6 481.8h0.1M119.2 474.9h0.1M119.8 467.4h0.1M120.6 459.4h0.1M121.4 450.6h0.1M122.2 441.1h0.1M111.9 485.9h0.1M112.3 479h0.1M112.7 471.7h0.1M113.2 463.7h0.1M113.6 455.1h0.1M114.1 445.6h0.1M105.2 490h0.1M105.3 483.3h0.1M105.4 476.1h0.1M105.6 468.2h0.1M105.7 459.6h0.1M105.9 450.3h0.1M98.3 494.3h0.1M98.1 487.7h0.1M98 480.5h0.1M97.8 472.7h0.1M97.6 464.3h0.1M97.4 455h0.1M91.2 498.7h0.1M90.8 492.1h0.1M90.3 485.1h0.1M89.8 477.4h0.1M89.3 469h0.1M88.7 459.9h0.1M84 503.1h0.1M83.3 496.7h0.1M82.5 489.7h0.1M81.7 482.2h0.1M80.7 473.9h0.1M79.7 464.9h0.1M76.7 507.7h0.1M75.7 501.4h0.1M74.5 494.5h0.1M73.3 487.1h0.1M72 478.9h0.1M70.5 470h0.1M69.2 512.3h0.1M67.8 506.1h0.1M66.4 499.4h0.1M64.8 492.1h0.1M63 484.1h0.1M61.1 475.3h0.1M61.5 517.1h0.1M59.8 511h0.1M58 504.4h0.1M56 497.2h0.1M53.8 489.4h0.1M51.4 480.7h0.1M53.7 521.9h0.1M51.7 516h0.1M49.4 509.5h0.1M47 502.5h0.1M44.4 494.8h0.1M41.5 486.3h0.1M45.7 526.9h0.1M43.3 521.1h0.1M40.7 514.8h0.1M37.8 507.9h0.1M34.7 500.4h0.1M31.3 492h0.1M132.5 464.8h0.1M133.6 457.6h0.1M134.7 449.8h0.1M136 441.5h0.1M137.4 432.4h0.1M138.9 422.6h0.1M126.3 468.5h0.1M127.1 461.4h0.1M128.1 453.7h0.1M129.1 445.4h0.1M130.2 436.4h0.1M131.4 426.7h0.1M119.9 472.4h0.1M120.6 465.3h0.1M121.3 457.7h0.1M122.1 449.4h0.1M122.9 440.5h0.1M123.8 430.8h0.1M113.5 476.3h0.1M113.9 469.3h0.1M114.4 461.7h0.1M114.8 453.6h0.1M115.4 444.7h0.1M116 435.1h0.1M106.9 480.3h0.1M107.1 473.4h0.1M107.3 465.9h0.1M107.5 457.8h0.1M107.7 449h0.1M107.9 439.5h0.1M100.2 484.4h0.1M100.1 477.5h0.1M100 470.1h0.1M99.9 462.1h0.1M99.8 453.4h0.1M99.7 444h0.1M93.3 488.5h0.1M93 481.7h0.1M92.6 474.4h0.1M92.2 466.5h0.1M91.8 457.9h0.1M91.3 448.5h0.1M86.3 492.7h0.1M85.7 486.1h0.1M85 478.9h0.1M84.3 471.1h0.1M83.5 462.6h0.1M82.7 453.3h0.1M79.2 497.1h0.1M78.3 490.5h0.1M77.3 483.4h0.1M76.2 475.7h0.1M75.1 467.3h0.1M73.8 458.1h0.1M71.9 501.5h0.1M70.7 495h0.1M69.4 488h0.1M68 480.4h0.1M66.4 472.1h0.1M64.7 463h0.1M64.5 506h0.1M62.9 499.7h0.1M61.3 492.8h0.1M59.5 485.3h0.1M57.5 477.1h0.1M55.4 468.1h0.1M56.8 510.6h0.1M55 504.4h0.1M53 497.6h0.1M50.8 490.3h0.1M48.4 482.2h0.1M45.8 473.4h0.1M49.1 515.3h0.1M46.9 509.2h0.1M44.5 502.6h0.1M41.9 495.3h0.1M39.1 487.4h0.1M36 478.7h0.1M41.1 520.1h0.1M38.6 514.2h0.1M35.8 507.7h0.1M32.8 500.6h0.1M29.5 492.8h0.1M25.8 484.3h0.1M127.4 459.8h0.1M128.3 452.5h0.1M129.3 444.6h0.1M130.3 436.2h0.1M131.5 427.1h0.1M132.7 417.2h0.1M121.2 463.4h0.1M121.9 456.2h0.1M122.7 448.4h0.1M123.5 440h0.1M124.3 431h0.1M125.3 421.1h0.1M114.9 467.2h0.1M115.4 460h0.1M115.9 452.3h0.1M116.5 444h0.1M117 434.9h0.1M117.7 425.2h0.1M108.5 471h0.1M108.8 463.9h0.1M109 456.2h0.1M109.3 448h0.1M109.6 439h0.1M109.9 429.3h0.1M102 474.9h0.1M102 467.8h0.1M102 460.2h0.1M102 452.1h0.1M102 443.2h0.1M101.9 433.5h0.1M95.3 478.8h0.1M95.1 471.9h0.1M94.8 464.4h0.1M94.5 456.2h0.1M94.1 447.4h0.1M93.8 437.9h0.1M88.5 482.9h0.1M88 476h0.1M87.4 468.6h0.1M86.8 460.5h0.1M86.2 451.8h0.1M85.4 442.3h0.1M81.6 487h0.1M80.8 480.2h0.1M79.9 472.9h0.1M79 464.9h0.1M78 456.3h0.1M76.9 446.9h0.1M74.5 491.2h0.1M73.4 484.5h0.1M72.2 477.3h0.1M71 469.4h0.1M69.6 460.9h0.1M68.1 451.5h0.1M67.2 495.5h0.1M65.9 488.9h0.1M64.4 481.7h0.1M62.8 474h0.1M61 465.5h0.1M59.1 456.3h0.1M59.8 499.9h0.1M58.2 493.4h0.1M56.3 486.3h0.1M54.4 478.7h0.1M52.2 470.4h0.1M49.8 461.2h0.1M52.3 504.3h0.1M50.3 498h0.1M48.1 491h0.1M45.8 483.5h0.1M43.2 475.3h0.1M40.4 466.3h0.1M44.6 508.9h0.1M42.2 502.6h0.1M39.7 495.8h0.1M36.9 488.4h0.1M33.9 480.3h0.1M30.6 471.4h0.1M36.7 513.6h0.1M34 507.4h0.1M31.1 500.8h0.1M27.9 493.5h0.1M24.4 485.5h0.1M20.6 476.8h0.1M122.5 454.9h0.1M123.2 447.5h0.1M124 439.6h0.1M124.8 431.1h0.1M125.7 421.9h0.1M126.7 411.9h0.1M116.3 458.5h0.1M116.9 451.1h0.1M117.4 443.3h0.1M118 434.8h0.1M118.6 425.7h0.1M119.3 415.8h0.1M110.1 462.1h0.1M110.4 454.8h0.1M110.7 447h0.1M111 438.6h0.1M111.4 429.5h0.1M111.8 419.7h0.1M103.7 465.8h0.1M103.8 458.6h0.1M103.8 450.9h0.1M103.9 442.5h0.1M104 433.5h0.1M104 423.7h0.1M97.2 469.6h0.1M97 462.4h0.1M96.8 454.8h0.1M96.6 446.5h0.1M96.4 437.5h0.1M96.1 427.8h0.1M90.6 473.4h0.1M90.1 466.4h0.1M89.7 458.8h0.1M89.2 450.6h0.1M88.6 441.6h0.1M88 432h0.1M83.8 477.4h0.1M83.1 470.4h0.1M82.4 462.9h0.1M81.6 454.7h0.1M80.7 445.9h0.1M79.8 436.3h0.1M76.9 481.4h0.1M76 474.5h0.1M74.9 467h0.1M73.8 459h0.1M72.6 450.2h0.1M71.3 440.7h0.1M69.9 485.5h0.1M68.6 478.7h0.1M67.3 471.3h0.1M65.9 463.3h0.1M64.3 454.6h0.1M62.6 445.2h0.1M62.7 489.6h0.1M61.2 482.9h0.1M59.5 475.6h0.1M57.7 467.8h0.1M55.8 459.2h0.1M53.6 449.8h0.1M55.4 493.9h0.1M53.5 487.3h0.1M51.5 480.1h0.1M49.4 472.3h0.1M47.1 463.8h0.1M44.5 454.6h0.1M47.9 498.3h0.1M45.7 491.7h0.1M43.4 484.6h0.1M40.9 477h0.1M38.1 468.6h0.1M35.1 459.4h0.1M40.2 502.7h0.1M37.8 496.3h0.1M35.1 489.3h0.1M32.1 481.7h0.1M29 473.5h0.1M25.5 464.4h0.1M32.4 507.2h0.1M29.6 500.9h0.1M26.5 494.1h0.1M23.2 486.6h0.1M19.6 478.5h0.1M15.6 469.5h0.1M117.7 450.1h0.1M118.2 442.7h0.1M118.8 434.7h0.1M119.4 426.1h0.1M120.1 416.9h0.1M120.8 406.9h0.1M111.6 453.6h0.1M111.9 446.2h0.1M112.3 438.3h0.1M112.7 429.7h0.1M113.1 420.5h0.1M113.5 410.6h0.1M105.4 457.1h0.1M105.5 449.8h0.1M105.6 441.9h0.1M105.7 433.4h0.1M105.9 424.3h0.1M106 414.4h0.1M99 460.8h0.1M98.9 453.5h0.1M98.8 445.6h0.1M98.7 437.2h0.1M98.5 428.1h0.1M98.4 418.2h0.1M92.6 464.4h0.1M92.2 457.2h0.1M91.8 449.5h0.1M91.4 441.1h0.1M91 432h0.1M90.5 422.2h0.1M86 468.2h0.1M85.4 461h0.1M84.7 453.3h0.1M84 445h0.1M83.3 436h0.1M82.5 426.3h0.1M79.3 472h0.1M78.4 464.9h0.1M77.5 457.3h0.1M76.5 449.1h0.1M75.4 440.1h0.1M74.3 430.4h0.1M72.4 475.9h0.1M71.3 468.9h0.1M70.1 461.4h0.1M68.8 453.2h0.1M67.4 444.3h0.1M65.9 434.7h0.1M65.4 479.9h0.1M64 473h0.1M62.5 465.5h0.1M60.9 457.4h0.1M59.1 448.6h0.1M57.2 439h0.1M58.3 484h0.1M56.6 477.1h0.1M54.8 469.7h0.1M52.8 461.7h0.1M50.7 453h0.1M48.4 443.5h0.1M51 488.1h0.1M49 481.4h0.1M46.9 474h0.1M44.6 466.1h0.1M42.1 457.5h0.1M39.3 448.1h0.1M43.6 492.3h0.1M41.3 485.7h0.1M38.8 478.5h0.1M36.1 470.6h0.1M33.2 462.1h0.1M30 452.8h0.1M36 496.7h0.1M33.4 490.1h0.1M30.6 483h0.1M27.5 475.3h0.1M24.2 466.8h0.1M20.5 457.6h0.1M28.3 501.1h0.1M25.3 494.6h0.1M22.1 487.6h0.1M18.6 480h0.1M14.9 471.7h0.1M10.7 462.6h0.1" stroke="#4658bc" stroke-width="1.3" stroke-linecap="round" fill="none" opacity="0.85"/><clipPath id="pk2"><path d="M40.4 516 L42 510.4 L47.4 491.8 L49.8 485 L73.3 430.1 L135.4 441.7 L139.8 444.6 L142.7 454.7 L145.6 467.7 L147 480.7 L145.6 495.1 L144.1 506.7 L141.2 518.2 L138.3 524 L93.6 522.6 L53.1 518.2Z"/></clipPath><path d="M192.3 481.8L120.1 416.9M184.8 487L113.1 420.5M177.1 492.3L105.9 424.3M169.3 497.8L98.5 428.1M161.2 503.5L91 432M152.9 509.3L83.3 436M144.4 515.2L75.4 440.1M135.6 521.3L67.4 444.3M126.6 527.6L59.1 448.6M117.3 534.1L50.7 453M107.7 540.8L42.1 457.5M97.9 547.6L33.2 462.1M87.8 554.7L24.2 466.8M77.3 562L14.9 471.7M192.3 481.8L77.3 562M184.6 474.9L70.5 552.1M177.2 468.2L63.9 542.6M170 461.7L57.6 533.5M163.1 455.5L51.6 524.7M156.3 449.4L45.7 516.3M149.8 443.6L40.1 508.2M143.5 437.9L34.7 500.4M137.4 432.4L29.5 492.8M131.5 427.1L24.4 485.5M125.7 421.9L19.6 478.5M120.1 416.9L14.9 471.7M188.3 489.8L119.4 426.1M181.1 494.9L112.7 429.7M173.7 500.1L105.7 433.4M166.2 505.4L98.7 437.2M158.4 510.9L91.4 441.1M150.5 516.5L84 445M142.3 522.3L76.5 449.1M134 528.2L68.8 453.2M125.4 534.3L60.9 457.4M116.5 540.5L52.8 461.7M107.5 547L44.6 466.1M98.1 553.6L36.1 470.6M88.5 560.4L27.5 475.3M78.6 567.3L18.6 480M188.3 489.8L78.6 567.3M181 483.1L72.1 557.9M174 476.6L65.9 548.7M167.1 470.2L59.9 540M160.5 464.1L54 531.5M154.1 458.2L48.4 523.4M147.9 452.4L43 515.5M141.9 446.9L37.8 507.9M136 441.5L32.8 500.6M130.3 436.2L27.9 493.5M124.8 431.1L23.2 486.6M119.4 426.1L18.6 480" stroke="#d47aa8" stroke-width="0.6" fill="none" opacity="0.55" clip-path="url(#pk2)"/><path d="M73.3 429.1v-10M82 433.4v-10M96.4 436.3v-10M110.9 437.8v-10M125.3 439.2v-10M135.4 440.7v-10M139.8 443.6v-10M142.7 453.7v-10M145.6 466.7v-10M147 479.7v-10M145.6 494.1v-10M144.1 505.7v-10M141.2 517.2v-10M138.3 523v-10M125.3 521.6v-10M110.9 520.1v-10M99.3 518.7v-10M88 516v-10M76.2 512.9v-10M70.4 508.6v-10M64 506.5v-10M61.8 504v-10M67.6 502v-10M69 498.4v-10M66.1 489.8v-10M61.8 481.1v-10M60.3 472.4v-10M63.2 462.3v-10M67.6 450.8v-10M70.4 439.2v-10M73.3 429.1v-10M83.4 439.2v-10M96.4 443.6v-10M108 446.4v-10M119.6 447.9v-10M123.9 450.8v-10M125.3 462.3v-10M128.2 475.3v-10M131.1 482.6v-10M131.1 494.1v-10M128.2 505.7v-10M123.9 511.4v-10M110.9 511.4v-10M99.3 511.4v-10M99.3 502v-10M99.3 494.1v-10M96.4 485.4v-10M87.8 476.8v-10M82 466.7v-10M80.6 455.1v-10M82 445v-10M83.4 439.2v-10M89 486v-10M80.1 483.8v-10M72.3 482.5v-10M56.8 481.8v-10M49.8 484v-10M47.4 490.8v-10M45.1 500.1v-10M42 509.4v-10M40.4 515v-10M53.1 517.2v-10M67.6 518.7v-10M82 520.1v-10M93.6 521.6v-10M97.9 514.3v-10M99.3 505.7v-10M89 486v-10M86.3 494.1v-10M89.2 501.3v-10M96 504v-10" stroke="#3a3a3a" stroke-width="0.9" opacity="0.6" fill="none"/><path d="M73.3 430.1 L82 434.4 L96.4 437.3 L110.9 438.8 L125.3 440.2 L135.4 441.7 L139.8 444.6 L142.7 454.7 L145.6 467.7 L147 480.7 L145.6 495.1 L144.1 506.7 L141.2 518.2 L138.3 524 L125.3 522.6 L110.9 521.1 L99.3 519.7 L88 517 L76.2 513.9 L70.4 509.6 L64 507.5 L61.8 505 L67.6 503 L69 499.4 L66.1 490.8 L61.8 482.1 L60.3 473.4 L63.2 463.3 L67.6 451.8 L70.4 440.2 L73.3 430.1" fill="none" stroke="#2e2614" stroke-width="5.0" stroke-linejoin="round" stroke-linecap="round" opacity="0.85"/><path d="M73.3 430.1 L82 434.4 L96.4 437.3 L110.9 438.8 L125.3 440.2 L135.4 441.7 L139.8 444.6 L142.7 454.7 L145.6 467.7 L147 480.7 L145.6 495.1 L144.1 506.7 L141.2 518.2 L138.3 524 L125.3 522.6 L110.9 521.1 L99.3 519.7 L88 517 L76.2 513.9 L70.4 509.6 L64 507.5 L61.8 505 L67.6 503 L69 499.4 L66.1 490.8 L61.8 482.1 L60.3 473.4 L63.2 463.3 L67.6 451.8 L70.4 440.2 L73.3 430.1" fill="none" stroke="#c08a30" stroke-width="3.6" stroke-linejoin="round" stroke-linecap="round"/><path d="M74.7 430.8L80.6 433.7M83.6 434.7L94.8 437M98 437.5L109.3 438.6M112.5 439L123.7 440M126.9 440.4L133.8 441.5M136.7 442.6L138.5 443.7M140.2 446.1L142.3 453.2M143 456.3L145.3 466.1M145.8 469.3L146.8 479.1M146.8 482.3L145.8 493.5M145.4 496.7L144.3 505.1M143.7 508.3L141.6 516.6M140.5 519.6L139 522.6M136.7 523.8L126.9 522.8M123.7 522.4L112.5 521.3M109.3 520.9L100.9 519.9M97.7 519.3L89.6 517.4M86.5 516.6L77.7 514.3M74.9 512.9L71.7 510.6M68.9 509.1L65.5 508M63.4 506.8L62.4 505.7M63.3 504.5L66.1 503.5M67.9 502.2L68.7 500.2M68.5 497.9L66.6 492.3M65.4 489.4L62.5 483.5M61.5 480.5L60.6 475M60.7 471.9L62.8 464.8M63.8 461.8L67 453.3M68 450.2L70 441.8M70.8 438.7L72.9 431.6" fill="none" stroke="#eed490" stroke-width="2.5" stroke-linecap="round"/><path d="M83.4 440.2 L96.4 444.6 L108 447.4 L119.6 448.9 L123.9 451.8 L125.3 463.3 L128.2 476.3 L131.1 483.6 L131.1 495.1 L128.2 506.7 L123.9 512.4 L110.9 512.4 L99.3 512.4 L99.3 503 L99.3 495.1 L96.4 486.4 L87.8 477.8 L82 467.7 L80.6 456.1 L82 446 L83.4 440.2" fill="none" stroke="#2a1030" stroke-width="5.0" stroke-linejoin="round" stroke-linecap="round" opacity="0.85"/><path d="M83.4 440.2 L96.4 444.6 L108 447.4 L119.6 448.9 L123.9 451.8 L125.3 463.3 L128.2 476.3 L131.1 483.6 L131.1 495.1 L128.2 506.7 L123.9 512.4 L110.9 512.4 L99.3 512.4 L99.3 503 L99.3 495.1 L96.4 486.4 L87.8 477.8 L82 467.7 L80.6 456.1 L82 446 L83.4 440.2" fill="none" stroke="#8e2a8c" stroke-width="3.6" stroke-linejoin="round" stroke-linecap="round"/><path d="M84.9 440.7L94.9 444.1M98 445L106.4 447M109.6 447.6L118 448.7M120.9 449.8L122.6 450.9M124.1 453.4L125.1 461.7M125.6 464.9L127.9 474.7M128.8 477.8L130.5 482.1M131.1 485.2L131.1 493.5M130.7 496.7L128.6 505.1M127.2 508L124.9 511.1M122.3 512.4L112.5 512.4M109.3 512.4L100.9 512.4M99.3 510.8L99.3 504.6M99.3 501.4L99.3 496.7M98.8 493.6L96.9 487.9M95.3 485.3L88.9 478.9M87 476.4L82.8 469.1M81.8 466.1L80.8 457.7M80.8 454.5L81.8 447.6M82.4 444.4L83 441.8" fill="none" stroke="#c486cc" stroke-width="2.5" stroke-linecap="round"/><path d="M89 487 L80.1 484.8 L72.3 483.5 L56.8 482.8 L49.8 485 L47.4 491.8 L45.1 501.1 L42 510.4 L40.4 516 L53.1 518.2 L67.6 519.7 L82 521.1 L93.6 522.6 L97.9 515.3 L99.3 506.7" fill="none" stroke="#2a1030" stroke-width="5.0" stroke-linejoin="round" stroke-linecap="round" opacity="0.85"/><path d="M89 487 L80.1 484.8 L72.3 483.5 L56.8 482.8 L49.8 485 L47.4 491.8 L45.1 501.1 L42 510.4 L40.4 516 L53.1 518.2 L67.6 519.7 L82 521.1 L93.6 522.6 L97.9 515.3 L99.3 506.7" fill="none" stroke="#8e2a8c" stroke-width="3.6" stroke-linejoin="round" stroke-linecap="round"/><path d="M87.4 486.6L81.7 485.2M78.5 484.5L73.9 483.8M70.7 483.4L58.4 482.9M55.3 483.3L51.3 484.5M49.3 486.5L47.9 490.3M47 493.4L45.5 499.5M44.6 502.6L42.5 508.9M41.6 511.9L40.8 514.5M42 516.3L51.5 517.9M54.7 518.4L66 519.5M69.2 519.9L80.4 520.9M83.6 521.3L92 522.4M94.4 521.2L97.1 516.7M98.2 513.7L99 508.3" fill="none" stroke="#c486cc" stroke-width="2.5" stroke-linecap="round"/><path d="M89 487 L86.3 495.1 L89.2 502.3 L96 505" fill="none" stroke="#2a1030" stroke-width="5.0" stroke-linejoin="round" stroke-linecap="round" opacity="0.85"/><path d="M89 487 L86.3 495.1 L89.2 502.3 L96 505" fill="none" stroke="#8e2a8c" stroke-width="3.6" stroke-linejoin="round" stroke-linecap="round"/><path d="M88.5 488.5L86.8 493.6M86.9 496.6L88.6 500.8M90.7 502.9L94.5 504.4" fill="none" stroke="#c486cc" stroke-width="2.5" stroke-linecap="round"/><path d="M178.2 700.3L117.7 640.2M171.7 705L111.6 643.7M165.1 709.8L105.4 647.2M158.4 714.7L99 650.9M151.5 719.7L92.6 654.5M144.5 724.9L86 658.3M137.3 730.1L79.3 662.1M129.9 735.5L72.4 666M122.4 741L65.4 670M114.7 746.6L58.3 674.1M106.8 752.4L51 678.2M98.7 758.3L43.6 682.4M90.4 764.3L36 686.8M81.9 770.5L28.3 691.2M178.2 700.3L81.9 770.5M171.9 694L76.2 762.1M165.8 688L70.7 754M159.8 682.1L65.4 746.1M154.1 676.3L60.2 738.5M148.4 670.8L55.2 731.1M143 665.3L50.4 723.9M137.6 660L45.7 717M132.5 654.9L41.1 710.2M127.4 649.9L36.7 703.7M122.5 645L32.4 697.3M117.7 640.2L28.3 691.2M181.3 694.1L118.2 632.8M174.6 698.9L111.9 636.3M167.8 703.8L105.5 639.9M160.8 708.9L98.9 643.6M153.6 714L92.2 647.3M146.3 719.3L85.4 651.1M138.8 724.7L78.4 655M131.2 730.3L71.3 659M123.3 735.9L64 663.1M115.2 741.8L56.6 667.2M107 747.7L49 671.5M98.5 753.9L41.3 675.8M89.8 760.1L33.4 680.2M80.9 766.6L25.3 684.7M181.3 694.1L80.9 766.6M174.7 687.6L75 757.8M168.3 681.4L69.2 749.4M162.1 675.4L63.7 741.2M156 669.5L58.3 733.4M150.2 663.8L53.2 725.7M144.5 658.3L48.1 718.3M139 652.9L43.3 711.2M133.6 647.7L38.6 704.3M128.3 642.6L34 697.5M123.2 637.6L29.6 691M118.2 632.8L25.3 684.7M184.6 687.3L118.8 624.8M177.7 692.2L112.3 628.4M170.6 697.3L105.6 632M163.4 702.5L98.8 635.7M155.9 707.8L91.8 639.6M148.3 713.3L84.7 643.4M140.5 718.8L77.5 647.4M132.5 724.6L70.1 651.5M124.3 730.4L62.5 655.6M115.9 736.5L54.8 659.8M107.2 742.7L46.9 664.1M98.3 749L38.8 668.6M89.2 755.5L30.6 673.1M79.8 762.2L22.1 677.7M184.6 687.3L79.8 762.2M177.7 680.7L73.6 753.1M171 674.4L67.6 744.4M164.5 668.2L61.9 735.9M158.2 662.2L56.3 727.8M152.1 656.4L50.9 719.9M146.1 650.7L45.7 712.3M140.4 645.2L40.7 704.9M134.7 639.9L35.8 697.8M129.3 634.7L31.1 690.9M124 629.7L26.5 684.2M118.8 624.8L22.1 677.7M188.3 679.9L119.4 616.2M181.1 685L112.7 619.8M173.7 690.2L105.7 623.5M166.2 695.5L98.7 627.3M158.4 701L91.4 631.2M150.5 706.6L84 635.1M142.3 712.4L76.5 639.2M134 718.3L68.8 643.3M125.4 724.4L60.9 647.5M116.5 730.6L52.8 651.8M107.5 737.1L44.6 656.2M98.1 743.7L36.1 660.7M88.5 750.5L27.5 665.4M78.6 757.4L18.6 670.1M188.3 679.9L78.6 757.4M181 673.2L72.1 748M174 666.7L65.9 738.8M167.1 660.3L59.9 730.1M160.5 654.2L54 721.6M154.1 648.3L48.4 713.5M147.9 642.5L43 705.6M141.9 637L37.8 698M136 631.6L32.8 690.7M130.3 626.3L27.9 683.6M124.8 621.2L23.2 676.7M119.4 616.2L18.6 670.1M192.3 671.9L120.1 607M184.8 677.1L113.1 610.6M177.1 682.4L105.9 614.4M169.3 687.9L98.5 618.2M161.2 693.6L91 622.1M152.9 699.4L83.3 626.1M144.4 705.3L75.4 630.2M135.6 711.4L67.4 634.4M126.6 717.7L59.1 638.7M117.3 724.2L50.7 643.1M107.7 730.9L42.1 647.6M97.9 737.7L33.2 652.2M87.8 744.8L24.2 656.9M77.3 752.1L14.9 661.8M192.3 671.9L77.3 752.1M184.6 665L70.5 742.2M177.2 658.3L63.9 732.7M170 651.8L57.6 723.6M163.1 645.6L51.6 714.8M156.3 639.5L45.7 706.4M149.8 633.7L40.1 698.3M143.5 628L34.7 690.5M137.4 622.5L29.5 682.9M131.5 617.2L24.4 675.6M125.7 612L19.6 668.6M120.1 607L14.9 661.8M196.7 663L120.8 597M188.9 668.4L113.5 600.7M180.9 673.9L106 604.5M172.7 679.5L98.4 608.3M164.2 685.3L90.5 612.3M155.5 691.3L82.5 616.4M146.6 697.5L74.3 620.5M137.4 703.8L65.9 624.8M127.9 710.3L57.2 629.1M118.1 717L48.4 633.6M108.1 724L39.3 638.2M97.7 731.1L30 642.9M86.9 738.5L20.5 647.7M75.9 746.1L10.7 652.7M196.7 663L75.9 746.1M188.5 655.9L68.7 735.8M180.7 649.1L61.8 725.9M173.1 642.5L55.2 716.4M165.8 636.1L48.8 707.3M158.8 630L42.7 698.6M151.9 624L36.9 690.2M145.3 618.3L31.3 682.1M138.9 612.7L25.8 674.4M132.7 607.3L20.6 666.9M126.7 602L15.6 659.6M120.8 597L10.7 652.7" stroke="#a2d0e6" stroke-width="0.5" fill="none" opacity="0.75"/><path d="M178.2 700.3L196.7 663M171.7 705L188.9 668.4M165.1 709.8L180.9 673.9M158.4 714.7L172.7 679.5M151.5 719.7L164.2 685.3M144.5 724.9L155.5 691.3M137.3 730.1L146.6 697.5M129.9 735.5L137.4 703.8M122.4 741L127.9 710.3M114.7 746.6L118.1 717M106.8 752.4L108.1 724M98.7 758.3L97.7 731.1M90.4 764.3L86.9 738.5M81.9 770.5L75.9 746.1M171.9 694L188.5 655.9M165.5 698.6L180.8 661.1M158.9 703.3L172.8 666.4M152.2 708L164.7 671.8M145.4 712.9L156.3 677.4M138.4 717.9L147.6 683.2M131.2 723L138.7 689.1M123.9 728.2L129.6 695.2M116.4 733.5L120.2 701.5M108.7 739L110.5 707.9M100.9 744.6L100.5 714.6M92.8 750.3L90.2 721.4M84.6 756.1L79.6 728.5M76.2 762.1L68.7 735.8M165.8 688L180.7 649.1M159.4 692.4L173 654.1M152.9 696.9L165.1 659.2M146.2 701.6L157 664.5M139.4 706.3L148.6 669.8M132.4 711.1L140 675.4M125.3 716.1L131.2 681.1M118 721.1L122.1 686.9M110.6 726.3L112.8 693M103 731.6L103.2 699.2M95.2 737L93.3 705.6M87.2 742.5L83.1 712.1M79 748.2L72.6 718.9M70.7 754L61.8 725.9M159.8 682.1L173.1 642.5M153.5 686.4L165.5 647.3M147 690.8L157.6 652.3M140.3 695.3L149.5 657.3M133.6 699.9L141.2 662.5M126.7 704.6L132.7 667.9M119.6 709.4L123.9 673.4M112.3 714.3L114.9 679M105 719.3L105.7 684.8M97.4 724.4L96.2 690.8M89.7 729.6L86.4 696.9M81.7 735L76.3 703.2M73.6 740.5L65.9 709.7M65.4 746.1L55.2 716.4M154.1 676.3L165.8 636.1M147.7 680.5L158.2 640.8M141.3 684.8L150.4 645.6M134.7 689.2L142.3 650.4M127.9 693.6L134.1 655.5M121 698.2L125.6 660.6M114 702.8L116.9 665.9M106.8 707.6L108 671.3M99.5 712.5L98.8 676.9M92 717.4L89.4 682.7M84.3 722.5L79.7 688.6M76.5 727.7L69.7 694.6M68.4 733L59.4 700.9M60.2 738.5L48.8 707.3M148.4 670.8L158.8 630M142.1 674.8L151.2 634.5M135.7 679L143.4 639.1M129.1 683.2L135.4 643.8M122.4 687.6L127.2 648.7M115.6 692L118.8 653.6M108.6 696.5L110.2 658.7M101.5 701.1L101.3 664M94.2 705.9L92.2 669.3M86.7 710.7L82.9 674.9M79.1 715.6L73.3 680.6M71.3 720.7L63.4 686.4M63.4 725.8L53.2 692.4M55.2 731.1L42.7 698.6M143 665.3L151.9 624M136.7 669.3L144.4 628.4M130.3 673.3L136.6 632.8M123.8 677.5L128.7 637.4M117.1 681.7L120.6 642.1M110.3 686L112.2 646.9M103.4 690.4L103.7 651.8M96.3 694.9L94.9 656.8M89 699.4L85.9 662M81.6 704.1L76.6 667.4M74.1 708.9L67.1 672.8M66.4 713.8L57.3 678.5M58.5 718.8L47.2 684.3M50.4 723.9L36.9 690.2M137.6 660L145.3 618.3M131.4 663.9L137.8 622.5M125 667.8L130.1 626.8M118.6 671.9L122.2 631.2M111.9 676L114.1 635.7M105.2 680.1L105.9 640.4M98.3 684.4L97.4 645.1M91.2 688.8L88.7 650M84 693.2L79.7 655M76.7 697.8L70.5 660.1M69.2 702.4L61.1 665.4M61.5 707.2L51.4 670.8M53.7 712L41.5 676.4M45.7 717L31.3 682.1M132.5 654.9L138.9 612.7M126.3 658.6L131.4 616.8M119.9 662.5L123.8 620.9M113.5 666.4L116 625.2M106.9 670.4L107.9 629.6M100.2 674.5L99.7 634.1M93.3 678.6L91.3 638.6M86.3 682.8L82.7 643.4M79.2 687.2L73.8 648.2M71.9 691.6L64.7 653.1M64.5 696.1L55.4 658.2M56.8 700.7L45.8 663.5M49.1 705.4L36 668.8M41.1 710.2L25.8 674.4M127.4 649.9L132.7 607.3M121.2 653.5L125.3 611.2M114.9 657.3L117.7 615.3M108.5 661.1L109.9 619.4M102 665L101.9 623.6M95.3 668.9L93.8 628M88.5 673L85.4 632.4M81.6 677.1L76.9 637M74.5 681.3L68.1 641.6M67.2 685.6L59.1 646.4M59.8 690L49.8 651.3M52.3 694.4L40.4 656.4M44.6 699L30.6 661.5M36.7 703.7L20.6 666.9M122.5 645L126.7 602M116.3 648.6L119.3 605.9M110.1 652.2L111.8 609.8M103.7 655.9L104 613.8M97.2 659.7L96.1 617.9M90.6 663.5L88 622.1M83.8 667.5L79.8 626.4M76.9 671.5L71.3 630.8M69.9 675.6L62.6 635.3M62.7 679.7L53.6 639.9M55.4 684L44.5 644.7M47.9 688.4L35.1 649.5M40.2 692.8L25.5 654.5M32.4 697.3L15.6 659.6M117.7 640.2L120.8 597M111.6 643.7L113.5 600.7M105.4 647.2L106 604.5M99 650.9L98.4 608.3M92.6 654.5L90.5 612.3M86 658.3L82.5 616.4M79.3 662.1L74.3 620.5M72.4 666L65.9 624.8M65.4 670L57.2 629.1M58.3 674.1L48.4 633.6M51 678.2L39.3 638.2M43.6 682.4L30 642.9M36 686.8L20.5 647.7M28.3 691.2L10.7 652.7" stroke="#d4d4da" stroke-width="0.4" fill="none" opacity="0.8"/><path d="M178.2 700.3h0.1M181.3 694.1h0.1M184.6 687.3h0.1M188.3 679.9h0.1M192.3 671.9h0.1M196.7 663h0.1M171.7 705h0.1M174.6 698.9h0.1M177.7 692.2h0.1M181.1 685h0.1M184.8 677.1h0.1M188.9 668.4h0.1M165.1 709.8h0.1M167.8 703.8h0.1M170.6 697.3h0.1M173.7 690.2h0.1M177.1 682.4h0.1M180.9 673.9h0.1M158.4 714.7h0.1M160.8 708.9h0.1M163.4 702.5h0.1M166.2 695.5h0.1M169.3 687.9h0.1M172.7 679.5h0.1M151.5 719.7h0.1M153.6 714h0.1M155.9 707.8h0.1M158.4 701h0.1M161.2 693.6h0.1M164.2 685.3h0.1M144.5 724.9h0.1M146.3 719.3h0.1M148.3 713.3h0.1M150.5 706.6h0.1M152.9 699.4h0.1M155.5 691.3h0.1M137.3 730.1h0.1M138.8 724.7h0.1M140.5 718.8h0.1M142.3 712.4h0.1M144.4 705.3h0.1M146.6 697.5h0.1M129.9 735.5h0.1M131.2 730.3h0.1M132.5 724.6h0.1M134 718.3h0.1M135.6 711.4h0.1M137.4 703.8h0.1M122.4 741h0.1M123.3 735.9h0.1M124.3 730.4h0.1M125.4 724.4h0.1M126.6 717.7h0.1M127.9 710.3h0.1M114.7 746.6h0.1M115.2 741.8h0.1M115.9 736.5h0.1M116.5 730.6h0.1M117.3 724.2h0.1M118.1 717h0.1M106.8 752.4h0.1M107 747.7h0.1M107.2 742.7h0.1M107.5 737.1h0.1M107.7 730.9h0.1M108.1 724h0.1M98.7 758.3h0.1M98.5 753.9h0.1M98.3 749h0.1M98.1 743.7h0.1M97.9 737.7h0.1M97.7 731.1h0.1M90.4 764.3h0.1M89.8 760.1h0.1M89.2 755.5h0.1M88.5 750.5h0.1M87.8 744.8h0.1M86.9 738.5h0.1M81.9 770.5h0.1M80.9 766.6h0.1M79.8 762.2h0.1M78.6 757.4h0.1M77.3 752.1h0.1M75.9 746.1h0.1M171.9 694h0.1M174.7 687.6h0.1M177.7 680.7h0.1M181 673.2h0.1M184.6 665h0.1M188.5 655.9h0.1M165.5 698.6h0.1M168 692.3h0.1M170.8 685.5h0.1M173.9 678.1h0.1M177.2 670h0.1M180.8 661.1h0.1M158.9 703.3h0.1M161.2 697.1h0.1M163.8 690.4h0.1M166.5 683.1h0.1M169.5 675.2h0.1M172.8 666.4h0.1M152.2 708h0.1M154.3 702h0.1M156.5 695.4h0.1M159 688.3h0.1M161.7 680.5h0.1M164.7 671.8h0.1M145.4 712.9h0.1M147.2 707h0.1M149.2 700.6h0.1M151.3 693.6h0.1M153.7 685.9h0.1M156.3 677.4h0.1M138.4 717.9h0.1M139.9 712.1h0.1M141.6 705.9h0.1M143.4 699h0.1M145.4 691.5h0.1M147.6 683.2h0.1M131.2 723h0.1M132.5 717.4h0.1M133.8 711.3h0.1M135.3 704.6h0.1M136.9 697.2h0.1M138.7 689.1h0.1M123.9 728.2h0.1M124.8 722.7h0.1M125.9 716.8h0.1M127 710.3h0.1M128.2 703.1h0.1M129.6 695.2h0.1M116.4 733.5h0.1M117 728.2h0.1M117.7 722.5h0.1M118.5 716.1h0.1M119.3 709.2h0.1M120.2 701.5h0.1M108.7 739h0.1M109 733.9h0.1M109.3 728.3h0.1M109.7 722.2h0.1M110.1 715.4h0.1M110.5 707.9h0.1M100.9 744.6h0.1M100.8 739.6h0.1M100.8 734.3h0.1M100.7 728.4h0.1M100.6 721.8h0.1M100.5 714.6h0.1M92.8 750.3h0.1M92.4 745.6h0.1M91.9 740.4h0.1M91.4 734.7h0.1M90.9 728.4h0.1M90.2 721.4h0.1M84.6 756.1h0.1M83.8 751.6h0.1M82.9 746.7h0.1M81.9 741.2h0.1M80.8 735.2h0.1M79.6 728.5h0.1M76.2 762.1h0.1M75 757.8h0.1M73.6 753.1h0.1M72.1 748h0.1M70.5 742.2h0.1M68.7 735.8h0.1M165.8 688h0.1M168.3 681.4h0.1M171 674.4h0.1M174 666.7h0.1M177.2 658.3h0.1M180.7 649.1h0.1M159.4 692.4h0.1M161.7 686h0.1M164.1 679h0.1M166.8 671.4h0.1M169.8 663.1h0.1M173 654.1h0.1M152.9 696.9h0.1M154.9 690.6h0.1M157.1 683.8h0.1M159.5 676.3h0.1M162.2 668.1h0.1M165.1 659.2h0.1M146.2 701.6h0.1M148 695.4h0.1M149.9 688.6h0.1M152.1 681.3h0.1M154.4 673.3h0.1M157 664.5h0.1M139.4 706.3h0.1M140.9 700.2h0.1M142.6 693.6h0.1M144.4 686.4h0.1M146.4 678.5h0.1M148.6 669.8h0.1M132.4 711.1h0.1M133.7 705.2h0.1M135.1 698.7h0.1M136.6 691.6h0.1M138.2 683.9h0.1M140 675.4h0.1M125.3 716.1h0.1M126.3 710.3h0.1M127.3 703.9h0.1M128.5 697h0.1M129.8 689.4h0.1M131.2 681.1h0.1M118 721.1h0.1M118.7 715.5h0.1M119.4 709.3h0.1M120.3 702.5h0.1M121.1 695.1h0.1M122.1 686.9h0.1M110.6 726.3h0.1M111 720.8h0.1M111.3 714.8h0.1M111.8 708.2h0.1M112.3 701h0.1M112.8 693h0.1M103 731.6h0.1M103 726.2h0.1M103 720.4h0.1M103.1 714h0.1M103.1 707h0.1M103.2 699.2h0.1M95.2 737h0.1M94.9 731.8h0.1M94.5 726.2h0.1M94.2 720h0.1M93.8 713.1h0.1M93.3 705.6h0.1M87.2 742.5h0.1M86.5 737.5h0.1M85.8 732.1h0.1M85 726.1h0.1M84.1 719.5h0.1M83.1 712.1h0.1M79 748.2h0.1M78 743.4h0.1M76.8 738.1h0.1M75.6 732.4h0.1M74.2 726h0.1M72.6 718.9h0.1M70.7 754h0.1M69.2 749.4h0.1M67.6 744.4h0.1M65.9 738.8h0.1M63.9 732.7h0.1M61.8 725.9h0.1M159.8 682.1h0.1M162.1 675.4h0.1M164.5 668.2h0.1M167.1 660.3h0.1M170 651.8h0.1M173.1 642.5h0.1M153.5 686.4h0.1M155.5 679.8h0.1M157.7 672.7h0.1M160.1 665h0.1M162.6 656.5h0.1M165.5 647.3h0.1M147 690.8h0.1M148.8 684.3h0.1M150.7 677.3h0.1M152.8 669.7h0.1M155.1 661.4h0.1M157.6 652.3h0.1M140.3 695.3h0.1M141.9 688.9h0.1M143.5 682h0.1M145.4 674.5h0.1M147.3 666.3h0.1M149.5 657.3h0.1M133.6 699.9h0.1M134.9 693.6h0.1M136.2 686.8h0.1M137.7 679.4h0.1M139.4 671.4h0.1M141.2 662.5h0.1M126.7 704.6h0.1M127.7 698.4h0.1M128.8 691.8h0.1M129.9 684.5h0.1M131.3 676.6h0.1M132.7 667.9h0.1M119.6 709.4h0.1M120.3 703.4h0.1M121.1 696.8h0.1M122 689.7h0.1M122.9 681.9h0.1M123.9 673.4h0.1M112.3 714.3h0.1M112.8 708.4h0.1M113.2 702h0.1M113.8 695h0.1M114.3 687.4h0.1M114.9 679h0.1M105 719.3h0.1M105.1 713.5h0.1M105.2 707.3h0.1M105.3 700.5h0.1M105.5 693h0.1M105.7 684.8h0.1M97.4 724.4h0.1M97.2 718.8h0.1M97 712.8h0.1M96.7 706.1h0.1M96.4 698.8h0.1M96.2 690.8h0.1M89.7 729.6h0.1M89.1 724.2h0.1M88.5 718.3h0.1M87.9 711.9h0.1M87.1 704.8h0.1M86.4 696.9h0.1M81.7 735h0.1M80.8 729.8h0.1M79.9 724h0.1M78.8 717.8h0.1M77.6 710.9h0.1M76.3 703.2h0.1M73.6 740.5h0.1M72.4 735.4h0.1M71 729.9h0.1M69.4 723.8h0.1M67.8 717.1h0.1M65.9 709.7h0.1M65.4 746.1h0.1M63.7 741.2h0.1M61.9 735.9h0.1M59.9 730.1h0.1M57.6 723.6h0.1M55.2 716.4h0.1M154.1 676.3h0.1M156 669.5h0.1M158.2 662.2h0.1M160.5 654.2h0.1M163.1 645.6h0.1M165.8 636.1h0.1M147.7 680.5h0.1M149.5 673.8h0.1M151.4 666.6h0.1M153.5 658.7h0.1M155.7 650.1h0.1M158.2 640.8h0.1M141.3 684.8h0.1M142.8 678.2h0.1M144.5 671h0.1M146.3 663.3h0.1M148.2 654.8h0.1M150.4 645.6h0.1M134.7 689.2h0.1M136 682.7h0.1M137.4 675.6h0.1M138.9 667.9h0.1M140.5 659.6h0.1M142.3 650.4h0.1M127.9 693.6h0.1M129 687.2h0.1M130.1 680.3h0.1M131.3 672.7h0.1M132.6 664.5h0.1M134.1 655.5h0.1M121 698.2h0.1M121.8 691.9h0.1M122.6 685.1h0.1M123.5 677.6h0.1M124.5 669.5h0.1M125.6 660.6h0.1M114 702.8h0.1M114.5 696.7h0.1M115 690h0.1M115.6 682.7h0.1M116.2 674.7h0.1M116.9 665.9h0.1M106.8 707.6h0.1M107 701.6h0.1M107.2 695h0.1M107.5 687.8h0.1M107.7 680h0.1M108 671.3h0.1M99.5 712.5h0.1M99.4 706.5h0.1M99.3 700.1h0.1M99.1 693.1h0.1M99 685.4h0.1M98.8 676.9h0.1M92 717.4h0.1M91.6 711.7h0.1M91.1 705.4h0.1M90.6 698.5h0.1M90 691h0.1M89.4 682.7h0.1M84.3 722.5h0.1M83.5 716.9h0.1M82.7 710.8h0.1M81.8 704.1h0.1M80.8 696.7h0.1M79.7 688.6h0.1M76.5 727.7h0.1M75.3 722.2h0.1M74.1 716.3h0.1M72.8 709.8h0.1M71.3 702.6h0.1M69.7 694.6h0.1M68.4 733h0.1M66.9 727.7h0.1M65.3 722h0.1M63.5 715.6h0.1M61.6 708.6h0.1M59.4 700.9h0.1M60.2 738.5h0.1M58.3 733.4h0.1M56.3 727.8h0.1M54 721.6h0.1M51.6 714.8h0.1M48.8 707.3h0.1M148.4 670.8h0.1M150.2 663.8h0.1M152.1 656.4h0.1M154.1 648.3h0.1M156.3 639.5h0.1M158.8 630h0.1M142.1 674.8h0.1M143.7 668h0.1M145.3 660.6h0.1M147.1 652.6h0.1M149 643.9h0.1M151.2 634.5h0.1M135.7 679h0.1M137 672.2h0.1M138.4 665h0.1M139.9 657.1h0.1M141.6 648.5h0.1M143.4 639.1h0.1M129.1 683.2h0.1M130.2 676.6h0.1M131.3 669.4h0.1M132.6 661.6h0.1M133.9 653.1h0.1M135.4 643.8h0.1M122.4 687.6h0.1M123.2 681h0.1M124.1 673.9h0.1M125.1 666.2h0.1M126.1 657.8h0.1M127.2 648.7h0.1M115.6 692h0.1M116.1 685.6h0.1M116.7 678.6h0.1M117.4 671h0.1M118 662.7h0.1M118.8 653.6h0.1M108.6 696.5h0.1M108.9 690.2h0.1M109.2 683.3h0.1M109.5 675.8h0.1M109.8 667.7h0.1M110.2 658.7h0.1M101.5 701.1h0.1M101.5 694.9h0.1M101.4 688.2h0.1M101.4 680.8h0.1M101.4 672.8h0.1M101.3 664h0.1M94.2 705.9h0.1M93.9 699.8h0.1M93.5 693.1h0.1M93.1 685.9h0.1M92.7 678h0.1M92.2 669.3h0.1M86.7 710.7h0.1M86.1 704.7h0.1M85.4 698.2h0.1M84.6 691.2h0.1M83.8 683.4h0.1M82.9 674.9h0.1M79.1 715.6h0.1M78.1 709.8h0.1M77.1 703.4h0.1M75.9 696.5h0.1M74.7 688.9h0.1M73.3 680.6h0.1M71.3 720.7h0.1M70 715h0.1M68.6 708.8h0.1M67 702h0.1M65.3 694.6h0.1M63.4 686.4h0.1M63.4 725.8h0.1M61.7 720.3h0.1M59.8 714.3h0.1M57.8 707.7h0.1M55.6 700.4h0.1M53.2 692.4h0.1M55.2 731.1h0.1M53.2 725.7h0.1M50.9 719.9h0.1M48.4 713.5h0.1M45.7 706.4h0.1M42.7 698.6h0.1M143 665.3h0.1M144.5 658.3h0.1M146.1 650.7h0.1M147.9 642.5h0.1M149.8 633.7h0.1M151.9 624h0.1M136.7 669.3h0.1M138 662.3h0.1M139.4 654.9h0.1M140.9 646.7h0.1M142.6 638h0.1M144.4 628.4h0.1M130.3 673.3h0.1M131.4 666.5h0.1M132.5 659.1h0.1M133.8 651h0.1M135.1 642.3h0.1M136.6 632.8h0.1M123.8 677.5h0.1M124.6 670.7h0.1M125.5 663.4h0.1M126.5 655.4h0.1M127.5 646.8h0.1M128.7 637.4h0.1M117.1 681.7h0.1M117.7 675h0.1M118.3 667.8h0.1M119 659.9h0.1M119.8 651.4h0.1M120.6 642.1h0.1M110.3 686h0.1M110.6 679.4h0.1M111 672.3h0.1M111.4 664.5h0.1M111.8 656.1h0.1M112.2 646.9h0.1M103.4 690.4h0.1M103.4 683.9h0.1M103.5 676.9h0.1M103.5 669.2h0.1M103.6 660.9h0.1M103.7 651.8h0.1M96.3 694.9h0.1M96 688.5h0.1M95.8 681.6h0.1M95.5 674h0.1M95.2 665.8h0.1M94.9 656.8h0.1M89 699.4h0.1M88.5 693.2h0.1M87.9 686.4h0.1M87.3 679h0.1M86.6 670.9h0.1M85.9 662h0.1M81.6 704.1h0.1M80.8 698h0.1M79.9 691.3h0.1M78.9 684h0.1M77.8 676.1h0.1M76.6 667.4h0.1M74.1 708.9h0.1M72.9 702.9h0.1M71.6 696.4h0.1M70.3 689.2h0.1M68.7 681.4h0.1M67.1 672.8h0.1M66.4 713.8h0.1M64.8 707.9h0.1M63.2 701.5h0.1M61.4 694.6h0.1M59.5 686.9h0.1M57.3 678.5h0.1M58.5 718.8h0.1M56.6 713.1h0.1M54.6 706.8h0.1M52.3 700h0.1M49.9 692.5h0.1M47.2 684.3h0.1M50.4 723.9h0.1M48.1 718.3h0.1M45.7 712.3h0.1M43 705.6h0.1M40.1 698.3h0.1M36.9 690.2h0.1M137.6 660h0.1M139 652.9h0.1M140.4 645.2h0.1M141.9 637h0.1M143.5 628h0.1M145.3 618.3h0.1M131.4 663.9h0.1M132.5 656.8h0.1M133.7 649.2h0.1M134.9 641h0.1M136.3 632.1h0.1M137.8 622.5h0.1M125 667.8h0.1M125.9 660.9h0.1M126.8 653.3h0.1M127.8 645.2h0.1M128.9 636.4h0.1M130.1 626.8h0.1M118.6 671.9h0.1M119.2 665h0.1M119.8 657.5h0.1M120.6 649.5h0.1M121.4 640.7h0.1M122.2 631.2h0.1M111.9 676h0.1M112.3 669.1h0.1M112.7 661.8h0.1M113.2 653.8h0.1M113.6 645.2h0.1M114.1 635.7h0.1M105.2 680.1h0.1M105.3 673.4h0.1M105.4 666.2h0.1M105.6 658.3h0.1M105.7 649.7h0.1M105.9 640.4h0.1M98.3 684.4h0.1M98.1 677.8h0.1M98 670.6h0.1M97.8 662.8h0.1M97.6 654.4h0.1M97.4 645.1h0.1M91.2 688.8h0.1M90.8 682.2h0.1M90.3 675.2h0.1M89.8 667.5h0.1M89.3 659.1h0.1M88.7 650h0.1M84 693.2h0.1M83.3 686.8h0.1M82.5 679.8h0.1M81.7 672.3h0.1M80.7 664h0.1M79.7 655h0.1M76.7 697.8h0.1M75.7 691.5h0.1M74.5 684.6h0.1M73.3 677.2h0.1M72 669h0.1M70.5 660.1h0.1M69.2 702.4h0.1M67.8 696.2h0.1M66.4 689.5h0.1M64.8 682.2h0.1M63 674.2h0.1M61.1 665.4h0.1M61.5 707.2h0.1M59.8 701.1h0.1M58 694.5h0.1M56 687.3h0.1M53.8 679.5h0.1M51.4 670.8h0.1M53.7 712h0.1M51.7 706.1h0.1M49.4 699.6h0.1M47 692.6h0.1M44.4 684.9h0.1M41.5 676.4h0.1M45.7 717h0.1M43.3 711.2h0.1M40.7 704.9h0.1M37.8 698h0.1M34.7 690.5h0.1M31.3 682.1h0.1M132.5 654.9h0.1M133.6 647.7h0.1M134.7 639.9h0.1M136 631.6h0.1M137.4 622.5h0.1M138.9 612.7h0.1M126.3 658.6h0.1M127.1 651.5h0.1M128.1 643.8h0.1M129.1 635.5h0.1M130.2 626.5h0.1M131.4 616.8h0.1M119.9 662.5h0.1M120.6 655.4h0.1M121.3 647.8h0.1M122.1 639.5h0.1M122.9 630.6h0.1M123.8 620.9h0.1M113.5 666.4h0.1M113.9 659.4h0.1M114.4 651.8h0.1M114.8 643.7h0.1M115.4 634.8h0.1M116 625.2h0.1M106.9 670.4h0.1M107.1 663.5h0.1M107.3 656h0.1M107.5 647.9h0.1M107.7 639.1h0.1M107.9 629.6h0.1M100.2 674.5h0.1M100.1 667.6h0.1M100 660.2h0.1M99.9 652.2h0.1M99.8 643.5h0.1M99.7 634.1h0.1M93.3 678.6h0.1M93 671.8h0.1M92.6 664.5h0.1M92.2 656.6h0.1M91.8 648h0.1M91.3 638.6h0.1M86.3 682.8h0.1M85.7 676.2h0.1M85 669h0.1M84.3 661.2h0.1M83.5 652.7h0.1M82.7 643.4h0.1M79.2 687.2h0.1M78.3 680.6h0.1M77.3 673.5h0.1M76.2 665.8h0.1M75.1 657.4h0.1M73.8 648.2h0.1M71.9 691.6h0.1M70.7 685.1h0.1M69.4 678.1h0.1M68 670.5h0.1M66.4 662.2h0.1M64.7 653.1h0.1M64.5 696.1h0.1M62.9 689.8h0.1M61.3 682.9h0.1M59.5 675.4h0.1M57.5 667.2h0.1M55.4 658.2h0.1M56.8 700.7h0.1M55 694.5h0.1M53 687.7h0.1M50.8 680.4h0.1M48.4 672.3h0.1M45.8 663.5h0.1M49.1 705.4h0.1M46.9 699.3h0.1M44.5 692.7h0.1M41.9 685.4h0.1M39.1 677.5h0.1M36 668.8h0.1M41.1 710.2h0.1M38.6 704.3h0.1M35.8 697.8h0.1M32.8 690.7h0.1M29.5 682.9h0.1M25.8 674.4h0.1M127.4 649.9h0.1M128.3 642.6h0.1M129.3 634.7h0.1M130.3 626.3h0.1M131.5 617.2h0.1M132.7 607.3h0.1M121.2 653.5h0.1M121.9 646.3h0.1M122.7 638.5h0.1M123.5 630.1h0.1M124.3 621.1h0.1M125.3 611.2h0.1M114.9 657.3h0.1M115.4 650.1h0.1M115.9 642.4h0.1M116.5 634.1h0.1M117 625h0.1M117.7 615.3h0.1M108.5 661.1h0.1M108.8 654h0.1M109 646.3h0.1M109.3 638.1h0.1M109.6 629.1h0.1M109.9 619.4h0.1M102 665h0.1M102 657.9h0.1M102 650.3h0.1M102 642.2h0.1M102 633.3h0.1M101.9 623.6h0.1M95.3 668.9h0.1M95.1 662h0.1M94.8 654.5h0.1M94.5 646.3h0.1M94.1 637.5h0.1M93.8 628h0.1M88.5 673h0.1M88 666.1h0.1M87.4 658.7h0.1M86.8 650.6h0.1M86.2 641.9h0.1M85.4 632.4h0.1M81.6 677.1h0.1M80.8 670.3h0.1M79.9 663h0.1M79 655h0.1M78 646.4h0.1M76.9 637h0.1M74.5 681.3h0.1M73.4 674.6h0.1M72.2 667.4h0.1M71 659.5h0.1M69.6 651h0.1M68.1 641.6h0.1M67.2 685.6h0.1M65.9 679h0.1M64.4 671.8h0.1M62.8 664.1h0.1M61 655.6h0.1M59.1 646.4h0.1M59.8 690h0.1M58.2 683.5h0.1M56.3 676.4h0.1M54.4 668.8h0.1M52.2 660.5h0.1M49.8 651.3h0.1M52.3 694.4h0.1M50.3 688.1h0.1M48.1 681.1h0.1M45.8 673.6h0.1M43.2 665.4h0.1M40.4 656.4h0.1M44.6 699h0.1M42.2 692.7h0.1M39.7 685.9h0.1M36.9 678.5h0.1M33.9 670.4h0.1M30.6 661.5h0.1M36.7 703.7h0.1M34 697.5h0.1M31.1 690.9h0.1M27.9 683.6h0.1M24.4 675.6h0.1M20.6 666.9h0.1M122.5 645h0.1M123.2 637.6h0.1M124 629.7h0.1M124.8 621.2h0.1M125.7 612h0.1M126.7 602h0.1M116.3 648.6h0.1M116.9 641.2h0.1M117.4 633.4h0.1M118 624.9h0.1M118.6 615.8h0.1M119.3 605.9h0.1M110.1 652.2h0.1M110.4 644.9h0.1M110.7 637.1h0.1M111 628.7h0.1M111.4 619.6h0.1M111.8 609.8h0.1M103.7 655.9h0.1M103.8 648.7h0.1M103.8 641h0.1M103.9 632.6h0.1M104 623.6h0.1M104 613.8h0.1M97.2 659.7h0.1M97 652.5h0.1M96.8 644.9h0.1M96.6 636.6h0.1M96.4 627.6h0.1M96.1 617.9h0.1M90.6 663.5h0.1M90.1 656.5h0.1M89.7 648.9h0.1M89.2 640.7h0.1M88.6 631.7h0.1M88 622.1h0.1M83.8 667.5h0.1M83.1 660.5h0.1M82.4 653h0.1M81.6 644.8h0.1M80.7 636h0.1M79.8 626.4h0.1M76.9 671.5h0.1M76 664.6h0.1M74.9 657.1h0.1M73.8 649.1h0.1M72.6 640.3h0.1M71.3 630.8h0.1M69.9 675.6h0.1M68.6 668.8h0.1M67.3 661.4h0.1M65.9 653.4h0.1M64.3 644.7h0.1M62.6 635.3h0.1M62.7 679.7h0.1M61.2 673h0.1M59.5 665.7h0.1M57.7 657.9h0.1M55.8 649.3h0.1M53.6 639.9h0.1M55.4 684h0.1M53.5 677.4h0.1M51.5 670.2h0.1M49.4 662.4h0.1M47.1 653.9h0.1M44.5 644.7h0.1M47.9 688.4h0.1M45.7 681.8h0.1M43.4 674.7h0.1M40.9 667.1h0.1M38.1 658.7h0.1M35.1 649.5h0.1M40.2 692.8h0.1M37.8 686.4h0.1M35.1 679.4h0.1M32.1 671.8h0.1M29 663.6h0.1M25.5 654.5h0.1M32.4 697.3h0.1M29.6 691h0.1M26.5 684.2h0.1M23.2 676.7h0.1M19.6 668.6h0.1M15.6 659.6h0.1M117.7 640.2h0.1M118.2 632.8h0.1M118.8 624.8h0.1M119.4 616.2h0.1M120.1 607h0.1M120.8 597h0.1M111.6 643.7h0.1M111.9 636.3h0.1M112.3 628.4h0.1M112.7 619.8h0.1M113.1 610.6h0.1M113.5 600.7h0.1M105.4 647.2h0.1M105.5 639.9h0.1M105.6 632h0.1M105.7 623.5h0.1M105.9 614.4h0.1M106 604.5h0.1M99 650.9h0.1M98.9 643.6h0.1M98.8 635.7h0.1M98.7 627.3h0.1M98.5 618.2h0.1M98.4 608.3h0.1M92.6 654.5h0.1M92.2 647.3h0.1M91.8 639.6h0.1M91.4 631.2h0.1M91 622.1h0.1M90.5 612.3h0.1M86 658.3h0.1M85.4 651.1h0.1M84.7 643.4h0.1M84 635.1h0.1M83.3 626.1h0.1M82.5 616.4h0.1M79.3 662.1h0.1M78.4 655h0.1M77.5 647.4h0.1M76.5 639.2h0.1M75.4 630.2h0.1M74.3 620.5h0.1M72.4 666h0.1M71.3 659h0.1M70.1 651.5h0.1M68.8 643.3h0.1M67.4 634.4h0.1M65.9 624.8h0.1M65.4 670h0.1M64 663.1h0.1M62.5 655.6h0.1M60.9 647.5h0.1M59.1 638.7h0.1M57.2 629.1h0.1M58.3 674.1h0.1M56.6 667.2h0.1M54.8 659.8h0.1M52.8 651.8h0.1M50.7 643.1h0.1M48.4 633.6h0.1M51 678.2h0.1M49 671.5h0.1M46.9 664.1h0.1M44.6 656.2h0.1M42.1 647.6h0.1M39.3 638.2h0.1M43.6 682.4h0.1M41.3 675.8h0.1M38.8 668.6h0.1M36.1 660.7h0.1M33.2 652.2h0.1M30 642.9h0.1M36 686.8h0.1M33.4 680.2h0.1M30.6 673.1h0.1M27.5 665.4h0.1M24.2 656.9h0.1M20.5 647.7h0.1M28.3 691.2h0.1M25.3 684.7h0.1M22.1 677.7h0.1M18.6 670.1h0.1M14.9 661.8h0.1M10.7 652.7h0.1" stroke="#4658bc" stroke-width="1.3" stroke-linecap="round" fill="none" opacity="0.85"/><clipPath id="pk3"><path d="M41.6 705.3 L43 699.6 L45.9 690.9 L74.8 618.7 L135.4 630.8 L139.8 633.7 L142.7 643.2 L145.6 656.2 L147 667.8 L147 682.2 L144.1 696.7 L141.2 706.8 L138.3 714 L125.3 713.4 L110.9 712.6 L84.9 711.1 L70.4 709.7 L56 708.2Z"/></clipPath><path d="M192.3 671.9L120.1 607M184.8 677.1L113.1 610.6M177.1 682.4L105.9 614.4M169.3 687.9L98.5 618.2M161.2 693.6L91 622.1M152.9 699.4L83.3 626.1M144.4 705.3L75.4 630.2M135.6 711.4L67.4 634.4M126.6 717.7L59.1 638.7M117.3 724.2L50.7 643.1M107.7 730.9L42.1 647.6M97.9 737.7L33.2 652.2M87.8 744.8L24.2 656.9M77.3 752.1L14.9 661.8M192.3 671.9L77.3 752.1M184.6 665L70.5 742.2M177.2 658.3L63.9 732.7M170 651.8L57.6 723.6M163.1 645.6L51.6 714.8M156.3 639.5L45.7 706.4M149.8 633.7L40.1 698.3M143.5 628L34.7 690.5M137.4 622.5L29.5 682.9M131.5 617.2L24.4 675.6M125.7 612L19.6 668.6M120.1 607L14.9 661.8M188.3 679.9L119.4 616.2M181.1 685L112.7 619.8M173.7 690.2L105.7 623.5M166.2 695.5L98.7 627.3M158.4 701L91.4 631.2M150.5 706.6L84 635.1M142.3 712.4L76.5 639.2M134 718.3L68.8 643.3M125.4 724.4L60.9 647.5M116.5 730.6L52.8 651.8M107.5 737.1L44.6 656.2M98.1 743.7L36.1 660.7M88.5 750.5L27.5 665.4M78.6 757.4L18.6 670.1M188.3 679.9L78.6 757.4M181 673.2L72.1 748M174 666.7L65.9 738.8M167.1 660.3L59.9 730.1M160.5 654.2L54 721.6M154.1 648.3L48.4 713.5M147.9 642.5L43 705.6M141.9 637L37.8 698M136 631.6L32.8 690.7M130.3 626.3L27.9 683.6M124.8 621.2L23.2 676.7M119.4 616.2L18.6 670.1" stroke="#d47aa8" stroke-width="0.6" fill="none" opacity="0.55" clip-path="url(#pk3)"/><path d="M74.8 617.7v-10M83.4 623.4v-10M96.4 625.8v-10M110.9 627.2v-10M125.3 628.6v-10M135.4 629.8v-10M139.8 632.7v-10M142.7 642.2v-10M145.6 655.2v-10M147 666.8v-10M147 681.2v-10M144.1 695.7v-10M141.2 705.8v-10M138.3 713v-10M125.3 712.4v-10M110.9 711.6v-10M99.3 710.1v-10M88 707v-10M76.2 701.4v-10M70 697v-10M63.2 694.2v-10M67.6 691.3v-10M67.6 684.1v-10M64.7 675.4v-10M60.3 668.2v-10M58.9 661v-10M63.2 649.4v-10M67.6 637.9v-10M71.9 626.3v-10M74.8 617.7v-10M84.9 629.2v-10M96.4 633.6v-10M108 636.4v-10M119.6 637.9v-10M123.9 640.8v-10M125.3 652.3v-10M128.2 665.3v-10M131.1 674v-10M131.1 684.1v-10M129.7 694.2v-10M125.3 701.4v-10M110.9 702v-10M99.3 701.4v-10M99.3 691.3v-10M97.9 682.7v-10M89.2 671.1v-10M82 661v-10M79.1 649.4v-10M82 637.9v-10M84.9 629.2v-10M97.9 688.4v-10M87.8 685.6v-10M76.2 684.1v-10M63.2 681.2v-10M50.2 679.8v-10M45.9 689.9v-10M43 698.6v-10M41.6 704.3v-10M56 707.2v-10M70.4 708.7v-10M84.9 710.1v-10M95 710.1v-10M97.9 704.3v-10M99.3 697.1v-10" stroke="#3a3a3a" stroke-width="0.9" opacity="0.6" fill="none"/><path d="M74.8 618.7 L83.4 624.4 L96.4 626.8 L110.9 628.2 L125.3 629.6 L135.4 630.8 L139.8 633.7 L142.7 643.2 L145.6 656.2 L147 667.8 L147 682.2 L144.1 696.7 L141.2 706.8 L138.3 714 L125.3 713.4 L110.9 712.6 L99.3 711.1 L88 708 L76.2 702.4 L70 698 L63.2 695.2 L67.6 692.3 L67.6 685.1 L64.7 676.4 L60.3 669.2 L58.9 662 L63.2 650.4 L67.6 638.9 L71.9 627.3 L74.8 618.7" fill="none" stroke="#2e2614" stroke-width="5.0" stroke-linejoin="round" stroke-linecap="round" opacity="0.85"/><path d="M74.8 618.7 L83.4 624.4 L96.4 626.8 L110.9 628.2 L125.3 629.6 L135.4 630.8 L139.8 633.7 L142.7 643.2 L145.6 656.2 L147 667.8 L147 682.2 L144.1 696.7 L141.2 706.8 L138.3 714 L125.3 713.4 L110.9 712.6 L99.3 711.1 L88 708 L76.2 702.4 L70 698 L63.2 695.2 L67.6 692.3 L67.6 685.1 L64.7 676.4 L60.3 669.2 L58.9 662 L63.2 650.4 L67.6 638.9 L71.9 627.3 L74.8 618.7" fill="none" stroke="#c08a30" stroke-width="3.6" stroke-linejoin="round" stroke-linecap="round"/><path d="M76.1 619.6L82.1 623.5M85 624.7L94.8 626.5M98 627L109.3 628M112.5 628.4L123.7 629.4M126.9 629.8L133.8 630.6M136.7 631.7L138.5 632.8M140.3 635.2L142.2 641.7M143 644.8L145.3 654.6M145.8 657.8L146.8 666.2M147 669.4L147 680.6M146.7 683.8L144.4 695.1M143.7 698.2L141.6 705.3M140.6 708.3L138.9 712.5M136.7 713.9L126.9 713.5M123.7 713.3L112.5 712.7M109.3 712.4L100.9 711.3M97.8 710.7L89.5 708.4M86.6 707.3L77.6 703.1M74.9 701.5L71.3 698.9M68.5 697.4L64.7 695.8M64.5 694.3L66.3 693.2M67.6 690.7L67.6 686.7M67.1 683.6L65.2 677.9M63.9 675L61.1 670.6M60 667.6L59.2 663.6M59.5 660.5L62.6 651.9M63.8 648.9L67 640.4M68.2 637.4L71.3 628.8M72.4 625.8L74.3 620.2" fill="none" stroke="#eed490" stroke-width="2.5" stroke-linecap="round"/><path d="M84.9 630.2 L96.4 634.6 L108 637.4 L119.6 638.9 L123.9 641.8 L125.3 653.3 L128.2 666.3 L131.1 675 L131.1 685.1 L129.7 695.2 L125.3 702.4 L110.9 703 L99.3 702.4 L99.3 692.3 L97.9 683.7 L89.2 672.1 L82 662 L79.1 650.4 L82 638.9 L84.9 630.2" fill="none" stroke="#2a1030" stroke-width="5.0" stroke-linejoin="round" stroke-linecap="round" opacity="0.85"/><path d="M84.9 630.2 L96.4 634.6 L108 637.4 L119.6 638.9 L123.9 641.8 L125.3 653.3 L128.2 666.3 L131.1 675 L131.1 685.1 L129.7 695.2 L125.3 702.4 L110.9 703 L99.3 702.4 L99.3 692.3 L97.9 683.7 L89.2 672.1 L82 662 L79.1 650.4 L82 638.9 L84.9 630.2" fill="none" stroke="#8e2a8c" stroke-width="3.6" stroke-linejoin="round" stroke-linecap="round"/><path d="M86.4 630.8L94.9 634M98 635L106.4 637M109.6 637.6L118 638.7M120.9 639.8L122.6 640.9M124.1 643.4L125.1 651.7M125.6 654.9L127.9 664.7M128.7 667.8L130.6 673.5M131.1 676.6L131.1 683.5M130.9 686.7L129.9 693.6M128.9 696.6L126.1 701M123.7 702.5L112.5 702.9M109.3 702.9L100.9 702.5M99.3 700.8L99.3 693.9M99 690.7L98.2 685.3M96.9 682.4L90.2 673.4M88.3 670.8L82.9 663.3M81.6 660.4L79.5 652M79.5 648.8L81.6 640.5M82.5 637.4L84.4 631.7" fill="none" stroke="#c486cc" stroke-width="2.5" stroke-linecap="round"/><path d="M97.9 689.4 L87.8 686.6 L76.2 685.1 L63.2 682.2 L50.2 680.8 L45.9 690.9 L43 699.6 L41.6 705.3 L56 708.2 L70.4 709.7 L84.9 711.1 L95 711.1 L97.9 705.3 L99.3 698.1" fill="none" stroke="#2a1030" stroke-width="5.0" stroke-linejoin="round" stroke-linecap="round" opacity="0.85"/><path d="M97.9 689.4 L87.8 686.6 L76.2 685.1 L63.2 682.2 L50.2 680.8 L45.9 690.9 L43 699.6 L41.6 705.3 L56 708.2 L70.4 709.7 L84.9 711.1 L95 711.1 L97.9 705.3 L99.3 698.1" fill="none" stroke="#8e2a8c" stroke-width="3.6" stroke-linejoin="round" stroke-linecap="round"/><path d="M96.4 689L89.3 687M86.2 686.4L77.8 685.3M74.6 684.8L64.8 682.5M61.6 682L51.8 681M49.6 682.3L46.5 689.4M45.4 692.4L43.5 698.1M42.6 701.2L42 703.7M43.2 705.6L54.4 707.9M57.6 708.4L68.8 709.5M72 709.9L83.3 710.9M86.5 711.1L93.4 711.1M95.7 709.7L97.2 706.7M98.2 703.7L99 699.7" fill="none" stroke="#c486cc" stroke-width="2.5" stroke-linecap="round"/><path d="M178.2 890.3L117.7 830.2M171.7 895L111.6 833.7M165.1 899.8L105.4 837.2M158.4 904.7L99 840.9M151.5 909.7L92.6 844.5M144.5 914.9L86 848.3M137.3 920.1L79.3 852.1M129.9 925.5L72.4 856M122.4 931L65.4 860M114.7 936.6L58.3 864.1M106.8 942.4L51 868.2M98.7 948.3L43.6 872.4M90.4 954.3L36 876.8M81.9 960.5L28.3 881.2M178.2 890.3L81.9 960.5M171.9 884L76.2 952.1M165.8 878L70.7 944M159.8 872.1L65.4 936.1M154.1 866.3L60.2 928.5M148.4 860.8L55.2 921.1M143 855.3L50.4 913.9M137.6 850L45.7 907M132.5 844.9L41.1 900.2M127.4 839.9L36.7 893.7M122.5 835L32.4 887.3M117.7 830.2L28.3 881.2M181.3 884.1L118.2 822.8M174.6 888.9L111.9 826.3M167.8 893.8L105.5 829.9M160.8 898.9L98.9 833.6M153.6 904L92.2 837.3M146.3 909.3L85.4 841.1M138.8 914.7L78.4 845M131.2 920.3L71.3 849M123.3 925.9L64 853.1M115.2 931.8L56.6 857.2M107 937.7L49 861.5M98.5 943.9L41.3 865.8M89.8 950.1L33.4 870.2M80.9 956.6L25.3 874.7M181.3 884.1L80.9 956.6M174.7 877.6L75 947.8M168.3 871.4L69.2 939.4M162.1 865.4L63.7 931.2M156 859.5L58.3 923.4M150.2 853.8L53.2 915.7M144.5 848.3L48.1 908.3M139 842.9L43.3 901.2M133.6 837.7L38.6 894.3M128.3 832.6L34 887.5M123.2 827.6L29.6 881M118.2 822.8L25.3 874.7M184.6 877.3L118.8 814.8M177.7 882.2L112.3 818.4M170.6 887.3L105.6 822M163.4 892.5L98.8 825.7M155.9 897.8L91.8 829.6M148.3 903.3L84.7 833.4M140.5 908.8L77.5 837.4M132.5 914.6L70.1 841.5M124.3 920.4L62.5 845.6M115.9 926.5L54.8 849.8M107.2 932.7L46.9 854.1M98.3 939L38.8 858.6M89.2 945.5L30.6 863.1M79.8 952.2L22.1 867.7M184.6 877.3L79.8 952.2M177.7 870.7L73.6 943.1M171 864.4L67.6 934.4M164.5 858.2L61.9 925.9M158.2 852.2L56.3 917.8M152.1 846.4L50.9 909.9M146.1 840.7L45.7 902.3M140.4 835.2L40.7 894.9M134.7 829.9L35.8 887.8M129.3 824.7L31.1 880.9M124 819.7L26.5 874.2M118.8 814.8L22.1 867.7M188.3 869.9L119.4 806.2M181.1 875L112.7 809.8M173.7 880.2L105.7 813.5M166.2 885.5L98.7 817.3M158.4 891L91.4 821.2M150.5 896.6L84 825.1M142.3 902.4L76.5 829.2M134 908.3L68.8 833.3M125.4 914.4L60.9 837.5M116.5 920.6L52.8 841.8M107.5 927.1L44.6 846.2M98.1 933.7L36.1 850.7M88.5 940.5L27.5 855.4M78.6 947.4L18.6 860.1M188.3 869.9L78.6 947.4M181 863.2L72.1 938M174 856.7L65.9 928.8M167.1 850.3L59.9 920.1M160.5 844.2L54 911.6M154.1 838.3L48.4 903.5M147.9 832.5L43 895.6M141.9 827L37.8 888M136 821.6L32.8 880.7M130.3 816.3L27.9 873.6M124.8 811.2L23.2 866.7M119.4 806.2L18.6 860.1M192.3 861.9L120.1 797M184.8 867.1L113.1 800.6M177.1 872.4L105.9 804.4M169.3 877.9L98.5 808.2M161.2 883.6L91 812.1M152.9 889.4L83.3 816.1M144.4 895.3L75.4 820.2M135.6 901.4L67.4 824.4M126.6 907.7L59.1 828.7M117.3 914.2L50.7 833.1M107.7 920.9L42.1 837.6M97.9 927.7L33.2 842.2M87.8 934.8L24.2 846.9M77.3 942.1L14.9 851.8M192.3 861.9L77.3 942.1M184.6 855L70.5 932.2M177.2 848.3L63.9 922.7M170 841.8L57.6 913.6M163.1 835.6L51.6 904.8M156.3 829.5L45.7 896.4M149.8 823.7L40.1 888.3M143.5 818L34.7 880.5M137.4 812.5L29.5 872.9M131.5 807.2L24.4 865.6M125.7 802L19.6 858.6M120.1 797L14.9 851.8M196.7 853L120.8 787M188.9 858.4L113.5 790.7M180.9 863.9L106 794.5M172.7 869.5L98.4 798.3M164.2 875.3L90.5 802.3M155.5 881.3L82.5 806.4M146.6 887.5L74.3 810.5M137.4 893.8L65.9 814.8M127.9 900.3L57.2 819.1M118.1 907L48.4 823.6M108.1 914L39.3 828.2M97.7 921.1L30 832.9M86.9 928.5L20.5 837.7M75.9 936.1L10.7 842.7M196.7 853L75.9 936.1M188.5 845.9L68.7 925.8M180.7 839.1L61.8 915.9M173.1 832.5L55.2 906.4M165.8 826.1L48.8 897.3M158.8 820L42.7 888.6M151.9 814L36.9 880.2M145.3 808.3L31.3 872.1M138.9 802.7L25.8 864.4M132.7 797.3L20.6 856.9M126.7 792L15.6 849.6M120.8 787L10.7 842.7" stroke="#a2d0e6" stroke-width="0.5" fill="none" opacity="0.75"/><path d="M178.2 890.3L196.7 853M171.7 895L188.9 858.4M165.1 899.8L180.9 863.9M158.4 904.7L172.7 869.5M151.5 909.7L164.2 875.3M144.5 914.9L155.5 881.3M137.3 920.1L146.6 887.5M129.9 925.5L137.4 893.8M122.4 931L127.9 900.3M114.7 936.6L118.1 907M106.8 942.4L108.1 914M98.7 948.3L97.7 921.1M90.4 954.3L86.9 928.5M81.9 960.5L75.9 936.1M171.9 884L188.5 845.9M165.5 888.6L180.8 851.1M158.9 893.3L172.8 856.4M152.2 898L164.7 861.8M145.4 902.9L156.3 867.4M138.4 907.9L147.6 873.2M131.2 913L138.7 879.1M123.9 918.2L129.6 885.2M116.4 923.5L120.2 891.5M108.7 929L110.5 897.9M100.9 934.6L100.5 904.6M92.8 940.3L90.2 911.4M84.6 946.1L79.6 918.5M76.2 952.1L68.7 925.8M165.8 878L180.7 839.1M159.4 882.4L173 844.1M152.9 886.9L165.1 849.2M146.2 891.6L157 854.5M139.4 896.3L148.6 859.8M132.4 901.1L140 865.4M125.3 906.1L131.2 871.1M118 911.1L122.1 876.9M110.6 916.3L112.8 883M103 921.6L103.2 889.2M95.2 927L93.3 895.6M87.2 932.5L83.1 902.1M79 938.2L72.6 908.9M70.7 944L61.8 915.9M159.8 872.1L173.1 832.5M153.5 876.4L165.5 837.3M147 880.8L157.6 842.3M140.3 885.3L149.5 847.3M133.6 889.9L141.2 852.5M126.7 894.6L132.7 857.9M119.6 899.4L123.9 863.4M112.3 904.3L114.9 869M105 909.3L105.7 874.8M97.4 914.4L96.2 880.8M89.7 919.6L86.4 886.9M81.7 925L76.3 893.2M73.6 930.5L65.9 899.7M65.4 936.1L55.2 906.4M154.1 866.3L165.8 826.1M147.7 870.5L158.2 830.8M141.3 874.8L150.4 835.6M134.7 879.2L142.3 840.4M127.9 883.6L134.1 845.5M121 888.2L125.6 850.6M114 892.8L116.9 855.9M106.8 897.6L108 861.3M99.5 902.5L98.8 866.9M92 907.4L89.4 872.7M84.3 912.5L79.7 878.6M76.5 917.7L69.7 884.6M68.4 923L59.4 890.9M60.2 928.5L48.8 897.3M148.4 860.8L158.8 820M142.1 864.8L151.2 824.5M135.7 869L143.4 829.1M129.1 873.2L135.4 833.8M122.4 877.6L127.2 838.7M115.6 882L118.8 843.6M108.6 886.5L110.2 848.7M101.5 891.1L101.3 854M94.2 895.9L92.2 859.3M86.7 900.7L82.9 864.9M79.1 905.6L73.3 870.6M71.3 910.7L63.4 876.4M63.4 915.8L53.2 882.4M55.2 921.1L42.7 888.6M143 855.3L151.9 814M136.7 859.3L144.4 818.4M130.3 863.3L136.6 822.8M123.8 867.5L128.7 827.4M117.1 871.7L120.6 832.1M110.3 876L112.2 836.9M103.4 880.4L103.7 841.8M96.3 884.9L94.9 846.8M89 889.4L85.9 852M81.6 894.1L76.6 857.4M74.1 898.9L67.1 862.8M66.4 903.8L57.3 868.5M58.5 908.8L47.2 874.3M50.4 913.9L36.9 880.2M137.6 850L145.3 808.3M131.4 853.9L137.8 812.5M125 857.8L130.1 816.8M118.6 861.9L122.2 821.2M111.9 866L114.1 825.7M105.2 870.1L105.9 830.4M98.3 874.4L97.4 835.1M91.2 878.8L88.7 840M84 883.2L79.7 845M76.7 887.8L70.5 850.1M69.2 892.4L61.1 855.4M61.5 897.2L51.4 860.8M53.7 902L41.5 866.4M45.7 907L31.3 872.1M132.5 844.9L138.9 802.7M126.3 848.6L131.4 806.8M119.9 852.5L123.8 810.9M113.5 856.4L116 815.2M106.9 860.4L107.9 819.6M100.2 864.5L99.7 824.1M93.3 868.6L91.3 828.6M86.3 872.8L82.7 833.4M79.2 877.2L73.8 838.2M71.9 881.6L64.7 843.1M64.5 886.1L55.4 848.2M56.8 890.7L45.8 853.5M49.1 895.4L36 858.8M41.1 900.2L25.8 864.4M127.4 839.9L132.7 797.3M121.2 843.5L125.3 801.2M114.9 847.3L117.7 805.3M108.5 851.1L109.9 809.4M102 855L101.9 813.6M95.3 858.9L93.8 818M88.5 863L85.4 822.4M81.6 867.1L76.9 827M74.5 871.3L68.1 831.6M67.2 875.6L59.1 836.4M59.8 880L49.8 841.3M52.3 884.4L40.4 846.4M44.6 889L30.6 851.5M36.7 893.7L20.6 856.9M122.5 835L126.7 792M116.3 838.6L119.3 795.9M110.1 842.2L111.8 799.8M103.7 845.9L104 803.8M97.2 849.7L96.1 807.9M90.6 853.5L88 812.1M83.8 857.5L79.8 816.4M76.9 861.5L71.3 820.8M69.9 865.6L62.6 825.3M62.7 869.7L53.6 829.9M55.4 874L44.5 834.7M47.9 878.4L35.1 839.5M40.2 882.8L25.5 844.5M32.4 887.3L15.6 849.6M117.7 830.2L120.8 787M111.6 833.7L113.5 790.7M105.4 837.2L106 794.5M99 840.9L98.4 798.3M92.6 844.5L90.5 802.3M86 848.3L82.5 806.4M79.3 852.1L74.3 810.5M72.4 856L65.9 814.8M65.4 860L57.2 819.1M58.3 864.1L48.4 823.6M51 868.2L39.3 828.2M43.6 872.4L30 832.9M36 876.8L20.5 837.7M28.3 881.2L10.7 842.7" stroke="#d4d4da" stroke-width="0.4" fill="none" opacity="0.8"/><path d="M178.2 890.3h0.1M181.3 884.1h0.1M184.6 877.3h0.1M188.3 869.9h0.1M192.3 861.9h0.1M196.7 853h0.1M171.7 895h0.1M174.6 888.9h0.1M177.7 882.2h0.1M181.1 875h0.1M184.8 867.1h0.1M188.9 858.4h0.1M165.1 899.8h0.1M167.8 893.8h0.1M170.6 887.3h0.1M173.7 880.2h0.1M177.1 872.4h0.1M180.9 863.9h0.1M158.4 904.7h0.1M160.8 898.9h0.1M163.4 892.5h0.1M166.2 885.5h0.1M169.3 877.9h0.1M172.7 869.5h0.1M151.5 909.7h0.1M153.6 904h0.1M155.9 897.8h0.1M158.4 891h0.1M161.2 883.6h0.1M164.2 875.3h0.1M144.5 914.9h0.1M146.3 909.3h0.1M148.3 903.3h0.1M150.5 896.6h0.1M152.9 889.4h0.1M155.5 881.3h0.1M137.3 920.1h0.1M138.8 914.7h0.1M140.5 908.8h0.1M142.3 902.4h0.1M144.4 895.3h0.1M146.6 887.5h0.1M129.9 925.5h0.1M131.2 920.3h0.1M132.5 914.6h0.1M134 908.3h0.1M135.6 901.4h0.1M137.4 893.8h0.1M122.4 931h0.1M123.3 925.9h0.1M124.3 920.4h0.1M125.4 914.4h0.1M126.6 907.7h0.1M127.9 900.3h0.1M114.7 936.6h0.1M115.2 931.8h0.1M115.9 926.5h0.1M116.5 920.6h0.1M117.3 914.2h0.1M118.1 907h0.1M106.8 942.4h0.1M107 937.7h0.1M107.2 932.7h0.1M107.5 927.1h0.1M107.7 920.9h0.1M108.1 914h0.1M98.7 948.3h0.1M98.5 943.9h0.1M98.3 939h0.1M98.1 933.7h0.1M97.9 927.7h0.1M97.7 921.1h0.1M90.4 954.3h0.1M89.8 950.1h0.1M89.2 945.5h0.1M88.5 940.5h0.1M87.8 934.8h0.1M86.9 928.5h0.1M81.9 960.5h0.1M80.9 956.6h0.1M79.8 952.2h0.1M78.6 947.4h0.1M77.3 942.1h0.1M75.9 936.1h0.1M171.9 884h0.1M174.7 877.6h0.1M177.7 870.7h0.1M181 863.2h0.1M184.6 855h0.1M188.5 845.9h0.1M165.5 888.6h0.1M168 882.3h0.1M170.8 875.5h0.1M173.9 868.1h0.1M177.2 860h0.1M180.8 851.1h0.1M158.9 893.3h0.1M161.2 887.1h0.1M163.8 880.4h0.1M166.5 873.1h0.1M169.5 865.2h0.1M172.8 856.4h0.1M152.2 898h0.1M154.3 892h0.1M156.5 885.4h0.1M159 878.3h0.1M161.7 870.5h0.1M164.7 861.8h0.1M145.4 902.9h0.1M147.2 897h0.1M149.2 890.6h0.1M151.3 883.6h0.1M153.7 875.9h0.1M156.3 867.4h0.1M138.4 907.9h0.1M139.9 902.1h0.1M141.6 895.9h0.1M143.4 889h0.1M145.4 881.5h0.1M147.6 873.2h0.1M131.2 913h0.1M132.5 907.4h0.1M133.8 901.3h0.1M135.3 894.6h0.1M136.9 887.2h0.1M138.7 879.1h0.1M123.9 918.2h0.1M124.8 912.7h0.1M125.9 906.8h0.1M127 900.3h0.1M128.2 893.1h0.1M129.6 885.2h0.1M116.4 923.5h0.1M117 918.2h0.1M117.7 912.5h0.1M118.5 906.1h0.1M119.3 899.2h0.1M120.2 891.5h0.1M108.7 929h0.1M109 923.9h0.1M109.3 918.3h0.1M109.7 912.2h0.1M110.1 905.4h0.1M110.5 897.9h0.1M100.9 934.6h0.1M100.8 929.6h0.1M100.8 924.3h0.1M100.7 918.4h0.1M100.6 911.8h0.1M100.5 904.6h0.1M92.8 940.3h0.1M92.4 935.6h0.1M91.9 930.4h0.1M91.4 924.7h0.1M90.9 918.4h0.1M90.2 911.4h0.1M84.6 946.1h0.1M83.8 941.6h0.1M82.9 936.7h0.1M81.9 931.2h0.1M80.8 925.2h0.1M79.6 918.5h0.1M76.2 952.1h0.1M75 947.8h0.1M73.6 943.1h0.1M72.1 938h0.1M70.5 932.2h0.1M68.7 925.8h0.1M165.8 878h0.1M168.3 871.4h0.1M171 864.4h0.1M174 856.7h0.1M177.2 848.3h0.1M180.7 839.1h0.1M159.4 882.4h0.1M161.7 876h0.1M164.1 869h0.1M166.8 861.4h0.1M169.8 853.1h0.1M173 844.1h0.1M152.9 886.9h0.1M154.9 880.6h0.1M157.1 873.8h0.1M159.5 866.3h0.1M162.2 858.1h0.1M165.1 849.2h0.1M146.2 891.6h0.1M148 885.4h0.1M149.9 878.6h0.1M152.1 871.3h0.1M154.4 863.3h0.1M157 854.5h0.1M139.4 896.3h0.1M140.9 890.2h0.1M142.6 883.6h0.1M144.4 876.4h0.1M146.4 868.5h0.1M148.6 859.8h0.1M132.4 901.1h0.1M133.7 895.2h0.1M135.1 888.7h0.1M136.6 881.6h0.1M138.2 873.9h0.1M140 865.4h0.1M125.3 906.1h0.1M126.3 900.3h0.1M127.3 893.9h0.1M128.5 887h0.1M129.8 879.4h0.1M131.2 871.1h0.1M118 911.1h0.1M118.7 905.5h0.1M119.4 899.3h0.1M120.3 892.5h0.1M121.1 885.1h0.1M122.1 876.9h0.1M110.6 916.3h0.1M111 910.8h0.1M111.3 904.8h0.1M111.8 898.2h0.1M112.3 891h0.1M112.8 883h0.1M103 921.6h0.1M103 916.2h0.1M103 910.4h0.1M103.1 904h0.1M103.1 897h0.1M103.2 889.2h0.1M95.2 927h0.1M94.9 921.8h0.1M94.5 916.2h0.1M94.2 910h0.1M93.8 903.1h0.1M93.3 895.6h0.1M87.2 932.5h0.1M86.5 927.5h0.1M85.8 922.1h0.1M85 916.1h0.1M84.1 909.5h0.1M83.1 902.1h0.1M79 938.2h0.1M78 933.4h0.1M76.8 928.1h0.1M75.6 922.4h0.1M74.2 916h0.1M72.6 908.9h0.1M70.7 944h0.1M69.2 939.4h0.1M67.6 934.4h0.1M65.9 928.8h0.1M63.9 922.7h0.1M61.8 915.9h0.1M159.8 872.1h0.1M162.1 865.4h0.1M164.5 858.2h0.1M167.1 850.3h0.1M170 841.8h0.1M173.1 832.5h0.1M153.5 876.4h0.1M155.5 869.8h0.1M157.7 862.7h0.1M160.1 855h0.1M162.6 846.5h0.1M165.5 837.3h0.1M147 880.8h0.1M148.8 874.3h0.1M150.7 867.3h0.1M152.8 859.7h0.1M155.1 851.4h0.1M157.6 842.3h0.1M140.3 885.3h0.1M141.9 878.9h0.1M143.5 872h0.1M145.4 864.5h0.1M147.3 856.3h0.1M149.5 847.3h0.1M133.6 889.9h0.1M134.9 883.6h0.1M136.2 876.8h0.1M137.7 869.4h0.1M139.4 861.4h0.1M141.2 852.5h0.1M126.7 894.6h0.1M127.7 888.4h0.1M128.8 881.8h0.1M129.9 874.5h0.1M131.3 866.6h0.1M132.7 857.9h0.1M119.6 899.4h0.1M120.3 893.4h0.1M121.1 886.8h0.1M122 879.7h0.1M122.9 871.9h0.1M123.9 863.4h0.1M112.3 904.3h0.1M112.8 898.4h0.1M113.2 892h0.1M113.8 885h0.1M114.3 877.4h0.1M114.9 869h0.1M105 909.3h0.1M105.1 903.5h0.1M105.2 897.3h0.1M105.3 890.5h0.1M105.5 883h0.1M105.7 874.8h0.1M97.4 914.4h0.1M97.2 908.8h0.1M97 902.8h0.1M96.7 896.1h0.1M96.4 888.8h0.1M96.2 880.8h0.1M89.7 919.6h0.1M89.1 914.2h0.1M88.5 908.3h0.1M87.9 901.9h0.1M87.1 894.8h0.1M86.4 886.9h0.1M81.7 925h0.1M80.8 919.8h0.1M79.9 914h0.1M78.8 907.8h0.1M77.6 900.9h0.1M76.3 893.2h0.1M73.6 930.5h0.1M72.4 925.4h0.1M71 919.9h0.1M69.4 913.8h0.1M67.8 907.1h0.1M65.9 899.7h0.1M65.4 936.1h0.1M63.7 931.2h0.1M61.9 925.9h0.1M59.9 920.1h0.1M57.6 913.6h0.1M55.2 906.4h0.1M154.1 866.3h0.1M156 859.5h0.1M158.2 852.2h0.1M160.5 844.2h0.1M163.1 835.6h0.1M165.8 826.1h0.1M147.7 870.5h0.1M149.5 863.8h0.1M151.4 856.6h0.1M153.5 848.7h0.1M155.7 840.1h0.1M158.2 830.8h0.1M141.3 874.8h0.1M142.8 868.2h0.1M144.5 861h0.1M146.3 853.3h0.1M148.2 844.8h0.1M150.4 835.6h0.1M134.7 879.2h0.1M136 872.7h0.1M137.4 865.6h0.1M138.9 857.9h0.1M140.5 849.6h0.1M142.3 840.4h0.1M127.9 883.6h0.1M129 877.2h0.1M130.1 870.3h0.1M131.3 862.7h0.1M132.6 854.5h0.1M134.1 845.5h0.1M121 888.2h0.1M121.8 881.9h0.1M122.6 875.1h0.1M123.5 867.6h0.1M124.5 859.5h0.1M125.6 850.6h0.1M114 892.8h0.1M114.5 886.7h0.1M115 880h0.1M115.6 872.7h0.1M116.2 864.7h0.1M116.9 855.9h0.1M106.8 897.6h0.1M107 891.6h0.1M107.2 885h0.1M107.5 877.8h0.1M107.7 870h0.1M108 861.3h0.1M99.5 902.5h0.1M99.4 896.5h0.1M99.3 890.1h0.1M99.1 883.1h0.1M99 875.4h0.1M98.8 866.9h0.1M92 907.4h0.1M91.6 901.7h0.1M91.1 895.4h0.1M90.6 888.5h0.1M90 881h0.1M89.4 872.7h0.1M84.3 912.5h0.1M83.5 906.9h0.1M82.7 900.8h0.1M81.8 894.1h0.1M80.8 886.7h0.1M79.7 878.6h0.1M76.5 917.7h0.1M75.3 912.2h0.1M74.1 906.3h0.1M72.8 899.8h0.1M71.3 892.6h0.1M69.7 884.6h0.1M68.4 923h0.1M66.9 917.7h0.1M65.3 912h0.1M63.5 905.6h0.1M61.6 898.6h0.1M59.4 890.9h0.1M60.2 928.5h0.1M58.3 923.4h0.1M56.3 917.8h0.1M54 911.6h0.1M51.6 904.8h0.1M48.8 897.3h0.1M148.4 860.8h0.1M150.2 853.8h0.1M152.1 846.4h0.1M154.1 838.3h0.1M156.3 829.5h0.1M158.8 820h0.1M142.1 864.8h0.1M143.7 858h0.1M145.3 850.6h0.1M147.1 842.6h0.1M149 833.9h0.1M151.2 824.5h0.1M135.7 869h0.1M137 862.2h0.1M138.4 855h0.1M139.9 847.1h0.1M141.6 838.5h0.1M143.4 829.1h0.1M129.1 873.2h0.1M130.2 866.6h0.1M131.3 859.4h0.1M132.6 851.6h0.1M133.9 843.1h0.1M135.4 833.8h0.1M122.4 877.6h0.1M123.2 871h0.1M124.1 863.9h0.1M125.1 856.2h0.1M126.1 847.8h0.1M127.2 838.7h0.1M115.6 882h0.1M116.1 875.6h0.1M116.7 868.6h0.1M117.4 861h0.1M118 852.7h0.1M118.8 843.6h0.1M108.6 886.5h0.1M108.9 880.2h0.1M109.2 873.3h0.1M109.5 865.8h0.1M109.8 857.7h0.1M110.2 848.7h0.1M101.5 891.1h0.1M101.5 884.9h0.1M101.4 878.2h0.1M101.4 870.8h0.1M101.4 862.8h0.1M101.3 854h0.1M94.2 895.9h0.1M93.9 889.8h0.1M93.5 883.1h0.1M93.1 875.9h0.1M92.7 868h0.1M92.2 859.3h0.1M86.7 900.7h0.1M86.1 894.7h0.1M85.4 888.2h0.1M84.6 881.2h0.1M83.8 873.4h0.1M82.9 864.9h0.1M79.1 905.6h0.1M78.1 899.8h0.1M77.1 893.4h0.1M75.9 886.5h0.1M74.7 878.9h0.1M73.3 870.6h0.1M71.3 910.7h0.1M70 905h0.1M68.6 898.8h0.1M67 892h0.1M65.3 884.6h0.1M63.4 876.4h0.1M63.4 915.8h0.1M61.7 910.3h0.1M59.8 904.3h0.1M57.8 897.7h0.1M55.6 890.4h0.1M53.2 882.4h0.1M55.2 921.1h0.1M53.2 915.7h0.1M50.9 909.9h0.1M48.4 903.5h0.1M45.7 896.4h0.1M42.7 888.6h0.1M143 855.3h0.1M144.5 848.3h0.1M146.1 840.7h0.1M147.9 832.5h0.1M149.8 823.7h0.1M151.9 814h0.1M136.7 859.3h0.1M138 852.3h0.1M139.4 844.9h0.1M140.9 836.7h0.1M142.6 828h0.1M144.4 818.4h0.1M130.3 863.3h0.1M131.4 856.5h0.1M132.5 849.1h0.1M133.8 841h0.1M135.1 832.3h0.1M136.6 822.8h0.1M123.8 867.5h0.1M124.6 860.7h0.1M125.5 853.4h0.1M126.5 845.4h0.1M127.5 836.8h0.1M128.7 827.4h0.1M117.1 871.7h0.1M117.7 865h0.1M118.3 857.8h0.1M119 849.9h0.1M119.8 841.4h0.1M120.6 832.1h0.1M110.3 876h0.1M110.6 869.4h0.1M111 862.3h0.1M111.4 854.5h0.1M111.8 846.1h0.1M112.2 836.9h0.1M103.4 880.4h0.1M103.4 873.9h0.1M103.5 866.9h0.1M103.5 859.2h0.1M103.6 850.9h0.1M103.7 841.8h0.1M96.3 884.9h0.1M96 878.5h0.1M95.8 871.6h0.1M95.5 864h0.1M95.2 855.8h0.1M94.9 846.8h0.1M89 889.4h0.1M88.5 883.2h0.1M87.9 876.4h0.1M87.3 869h0.1M86.6 860.9h0.1M85.9 852h0.1M81.6 894.1h0.1M80.8 888h0.1M79.9 881.3h0.1M78.9 874h0.1M77.8 866.1h0.1M76.6 857.4h0.1M74.1 898.9h0.1M72.9 892.9h0.1M71.6 886.4h0.1M70.3 879.2h0.1M68.7 871.4h0.1M67.1 862.8h0.1M66.4 903.8h0.1M64.8 897.9h0.1M63.2 891.5h0.1M61.4 884.6h0.1M59.5 876.9h0.1M57.3 868.5h0.1M58.5 908.8h0.1M56.6 903.1h0.1M54.6 896.8h0.1M52.3 890h0.1M49.9 882.5h0.1M47.2 874.3h0.1M50.4 913.9h0.1M48.1 908.3h0.1M45.7 902.3h0.1M43 895.6h0.1M40.1 888.3h0.1M36.9 880.2h0.1M137.6 850h0.1M139 842.9h0.1M140.4 835.2h0.1M141.9 827h0.1M143.5 818h0.1M145.3 808.3h0.1M131.4 853.9h0.1M132.5 846.8h0.1M133.7 839.2h0.1M134.9 831h0.1M136.3 822.1h0.1M137.8 812.5h0.1M125 857.8h0.1M125.9 850.9h0.1M126.8 843.3h0.1M127.8 835.2h0.1M128.9 826.4h0.1M130.1 816.8h0.1M118.6 861.9h0.1M119.2 855h0.1M119.8 847.5h0.1M120.6 839.5h0.1M121.4 830.7h0.1M122.2 821.2h0.1M111.9 866h0.1M112.3 859.1h0.1M112.7 851.8h0.1M113.2 843.8h0.1M113.6 835.2h0.1M114.1 825.7h0.1M105.2 870.1h0.1M105.3 863.4h0.1M105.4 856.2h0.1M105.6 848.3h0.1M105.7 839.7h0.1M105.9 830.4h0.1M98.3 874.4h0.1M98.1 867.8h0.1M98 860.6h0.1M97.8 852.8h0.1M97.6 844.4h0.1M97.4 835.1h0.1M91.2 878.8h0.1M90.8 872.2h0.1M90.3 865.2h0.1M89.8 857.5h0.1M89.3 849.1h0.1M88.7 840h0.1M84 883.2h0.1M83.3 876.8h0.1M82.5 869.8h0.1M81.7 862.3h0.1M80.7 854h0.1M79.7 845h0.1M76.7 887.8h0.1M75.7 881.5h0.1M74.5 874.6h0.1M73.3 867.2h0.1M72 859h0.1M70.5 850.1h0.1M69.2 892.4h0.1M67.8 886.2h0.1M66.4 879.5h0.1M64.8 872.2h0.1M63 864.2h0.1M61.1 855.4h0.1M61.5 897.2h0.1M59.8 891.1h0.1M58 884.5h0.1M56 877.3h0.1M53.8 869.5h0.1M51.4 860.8h0.1M53.7 902h0.1M51.7 896.1h0.1M49.4 889.6h0.1M47 882.6h0.1M44.4 874.9h0.1M41.5 866.4h0.1M45.7 907h0.1M43.3 901.2h0.1M40.7 894.9h0.1M37.8 888h0.1M34.7 880.5h0.1M31.3 872.1h0.1M132.5 844.9h0.1M133.6 837.7h0.1M134.7 829.9h0.1M136 821.6h0.1M137.4 812.5h0.1M138.9 802.7h0.1M126.3 848.6h0.1M127.1 841.5h0.1M128.1 833.8h0.1M129.1 825.5h0.1M130.2 816.5h0.1M131.4 806.8h0.1M119.9 852.5h0.1M120.6 845.4h0.1M121.3 837.8h0.1M122.1 829.5h0.1M122.9 820.6h0.1M123.8 810.9h0.1M113.5 856.4h0.1M113.9 849.4h0.1M114.4 841.8h0.1M114.8 833.7h0.1M115.4 824.8h0.1M116 815.2h0.1M106.9 860.4h0.1M107.1 853.5h0.1M107.3 846h0.1M107.5 837.9h0.1M107.7 829.1h0.1M107.9 819.6h0.1M100.2 864.5h0.1M100.1 857.6h0.1M100 850.2h0.1M99.9 842.2h0.1M99.8 833.5h0.1M99.7 824.1h0.1M93.3 868.6h0.1M93 861.8h0.1M92.6 854.5h0.1M92.2 846.6h0.1M91.8 838h0.1M91.3 828.6h0.1M86.3 872.8h0.1M85.7 866.2h0.1M85 859h0.1M84.3 851.2h0.1M83.5 842.7h0.1M82.7 833.4h0.1M79.2 877.2h0.1M78.3 870.6h0.1M77.3 863.5h0.1M76.2 855.8h0.1M75.1 847.4h0.1M73.8 838.2h0.1M71.9 881.6h0.1M70.7 875.1h0.1M69.4 868.1h0.1M68 860.5h0.1M66.4 852.2h0.1M64.7 843.1h0.1M64.5 886.1h0.1M62.9 879.8h0.1M61.3 872.9h0.1M59.5 865.4h0.1M57.5 857.2h0.1M55.4 848.2h0.1M56.8 890.7h0.1M55 884.5h0.1M53 877.7h0.1M50.8 870.4h0.1M48.4 862.3h0.1M45.8 853.5h0.1M49.1 895.4h0.1M46.9 889.3h0.1M44.5 882.7h0.1M41.9 875.4h0.1M39.1 867.5h0.1M36 858.8h0.1M41.1 900.2h0.1M38.6 894.3h0.1M35.8 887.8h0.1M32.8 880.7h0.1M29.5 872.9h0.1M25.8 864.4h0.1M127.4 839.9h0.1M128.3 832.6h0.1M129.3 824.7h0.1M130.3 816.3h0.1M131.5 807.2h0.1M132.7 797.3h0.1M121.2 843.5h0.1M121.9 836.3h0.1M122.7 828.5h0.1M123.5 820.1h0.1M124.3 811.1h0.1M125.3 801.2h0.1M114.9 847.3h0.1M115.4 840.1h0.1M115.9 832.4h0.1M116.5 824.1h0.1M117 815h0.1M117.7 805.3h0.1M108.5 851.1h0.1M108.8 844h0.1M109 836.3h0.1M109.3 828.1h0.1M109.6 819.1h0.1M109.9 809.4h0.1M102 855h0.1M102 847.9h0.1M102 840.3h0.1M102 832.2h0.1M102 823.3h0.1M101.9 813.6h0.1M95.3 858.9h0.1M95.1 852h0.1M94.8 844.5h0.1M94.5 836.3h0.1M94.1 827.5h0.1M93.8 818h0.1M88.5 863h0.1M88 856.1h0.1M87.4 848.7h0.1M86.8 840.6h0.1M86.2 831.9h0.1M85.4 822.4h0.1M81.6 867.1h0.1M80.8 860.3h0.1M79.9 853h0.1M79 845h0.1M78 836.4h0.1M76.9 827h0.1M74.5 871.3h0.1M73.4 864.6h0.1M72.2 857.4h0.1M71 849.5h0.1M69.6 841h0.1M68.1 831.6h0.1M67.2 875.6h0.1M65.9 869h0.1M64.4 861.8h0.1M62.8 854.1h0.1M61 845.6h0.1M59.1 836.4h0.1M59.8 880h0.1M58.2 873.5h0.1M56.3 866.4h0.1M54.4 858.8h0.1M52.2 850.5h0.1M49.8 841.3h0.1M52.3 884.4h0.1M50.3 878.1h0.1M48.1 871.1h0.1M45.8 863.6h0.1M43.2 855.4h0.1M40.4 846.4h0.1M44.6 889h0.1M42.2 882.7h0.1M39.7 875.9h0.1M36.9 868.5h0.1M33.9 860.4h0.1M30.6 851.5h0.1M36.7 893.7h0.1M34 887.5h0.1M31.1 880.9h0.1M27.9 873.6h0.1M24.4 865.6h0.1M20.6 856.9h0.1M122.5 835h0.1M123.2 827.6h0.1M124 819.7h0.1M124.8 811.2h0.1M125.7 802h0.1M126.7 792h0.1M116.3 838.6h0.1M116.9 831.2h0.1M117.4 823.4h0.1M118 814.9h0.1M118.6 805.8h0.1M119.3 795.9h0.1M110.1 842.2h0.1M110.4 834.9h0.1M110.7 827.1h0.1M111 818.7h0.1M111.4 809.6h0.1M111.8 799.8h0.1M103.7 845.9h0.1M103.8 838.7h0.1M103.8 831h0.1M103.9 822.6h0.1M104 813.6h0.1M104 803.8h0.1M97.2 849.7h0.1M97 842.5h0.1M96.8 834.9h0.1M96.6 826.6h0.1M96.4 817.6h0.1M96.1 807.9h0.1M90.6 853.5h0.1M90.1 846.5h0.1M89.7 838.9h0.1M89.2 830.7h0.1M88.6 821.7h0.1M88 812.1h0.1M83.8 857.5h0.1M83.1 850.5h0.1M82.4 843h0.1M81.6 834.8h0.1M80.7 826h0.1M79.8 816.4h0.1M76.9 861.5h0.1M76 854.6h0.1M74.9 847.1h0.1M73.8 839.1h0.1M72.6 830.3h0.1M71.3 820.8h0.1M69.9 865.6h0.1M68.6 858.8h0.1M67.3 851.4h0.1M65.9 843.4h0.1M64.3 834.7h0.1M62.6 825.3h0.1M62.7 869.7h0.1M61.2 863h0.1M59.5 855.7h0.1M57.7 847.9h0.1M55.8 839.3h0.1M53.6 829.9h0.1M55.4 874h0.1M53.5 867.4h0.1M51.5 860.2h0.1M49.4 852.4h0.1M47.1 843.9h0.1M44.5 834.7h0.1M47.9 878.4h0.1M45.7 871.8h0.1M43.4 864.7h0.1M40.9 857.1h0.1M38.1 848.7h0.1M35.1 839.5h0.1M40.2 882.8h0.1M37.8 876.4h0.1M35.1 869.4h0.1M32.1 861.8h0.1M29 853.6h0.1M25.5 844.5h0.1M32.4 887.3h0.1M29.6 881h0.1M26.5 874.2h0.1M23.2 866.7h0.1M19.6 858.6h0.1M15.6 849.6h0.1M117.7 830.2h0.1M118.2 822.8h0.1M118.8 814.8h0.1M119.4 806.2h0.1M120.1 797h0.1M120.8 787h0.1M111.6 833.7h0.1M111.9 826.3h0.1M112.3 818.4h0.1M112.7 809.8h0.1M113.1 800.6h0.1M113.5 790.7h0.1M105.4 837.2h0.1M105.5 829.9h0.1M105.6 822h0.1M105.7 813.5h0.1M105.9 804.4h0.1M106 794.5h0.1M99 840.9h0.1M98.9 833.6h0.1M98.8 825.7h0.1M98.7 817.3h0.1M98.5 808.2h0.1M98.4 798.3h0.1M92.6 844.5h0.1M92.2 837.3h0.1M91.8 829.6h0.1M91.4 821.2h0.1M91 812.1h0.1M90.5 802.3h0.1M86 848.3h0.1M85.4 841.1h0.1M84.7 833.4h0.1M84 825.1h0.1M83.3 816.1h0.1M82.5 806.4h0.1M79.3 852.1h0.1M78.4 845h0.1M77.5 837.4h0.1M76.5 829.2h0.1M75.4 820.2h0.1M74.3 810.5h0.1M72.4 856h0.1M71.3 849h0.1M70.1 841.5h0.1M68.8 833.3h0.1M67.4 824.4h0.1M65.9 814.8h0.1M65.4 860h0.1M64 853.1h0.1M62.5 845.6h0.1M60.9 837.5h0.1M59.1 828.7h0.1M57.2 819.1h0.1M58.3 864.1h0.1M56.6 857.2h0.1M54.8 849.8h0.1M52.8 841.8h0.1M50.7 833.1h0.1M48.4 823.6h0.1M51 868.2h0.1M49 861.5h0.1M46.9 854.1h0.1M44.6 846.2h0.1M42.1 837.6h0.1M39.3 828.2h0.1M43.6 872.4h0.1M41.3 865.8h0.1M38.8 858.6h0.1M36.1 850.7h0.1M33.2 842.2h0.1M30 832.9h0.1M36 876.8h0.1M33.4 870.2h0.1M30.6 863.1h0.1M27.5 855.4h0.1M24.2 846.9h0.1M20.5 837.7h0.1M28.3 881.2h0.1M25.3 874.7h0.1M22.1 867.7h0.1M18.6 860.1h0.1M14.9 851.8h0.1M10.7 842.7h0.1" stroke="#4658bc" stroke-width="1.3" stroke-linecap="round" fill="none" opacity="0.85"/><clipPath id="pk4"><path d="M40.3 893.3 L52.3 828 L55 820 L73.7 809.3 L136.3 820.8 L140.3 824 L143 832 L145.7 845.3 L147 858.7 L147 872 L144.3 885.3 L140.3 897.3 L133.7 905.3 L125.7 910.7 L117.7 914.7 L109.7 917.3 L99 916 L88.3 912Z"/></clipPath><path d="M192.3 861.9L120.1 797M184.8 867.1L113.1 800.6M177.1 872.4L105.9 804.4M169.3 877.9L98.5 808.2M161.2 883.6L91 812.1M152.9 889.4L83.3 816.1M144.4 895.3L75.4 820.2M135.6 901.4L67.4 824.4M126.6 907.7L59.1 828.7M117.3 914.2L50.7 833.1M107.7 920.9L42.1 837.6M97.9 927.7L33.2 842.2M87.8 934.8L24.2 846.9M77.3 942.1L14.9 851.8M192.3 861.9L77.3 942.1M184.6 855L70.5 932.2M177.2 848.3L63.9 922.7M170 841.8L57.6 913.6M163.1 835.6L51.6 904.8M156.3 829.5L45.7 896.4M149.8 823.7L40.1 888.3M143.5 818L34.7 880.5M137.4 812.5L29.5 872.9M131.5 807.2L24.4 865.6M125.7 802L19.6 858.6M120.1 797L14.9 851.8M188.3 869.9L119.4 806.2M181.1 875L112.7 809.8M173.7 880.2L105.7 813.5M166.2 885.5L98.7 817.3M158.4 891L91.4 821.2M150.5 896.6L84 825.1M142.3 902.4L76.5 829.2M134 908.3L68.8 833.3M125.4 914.4L60.9 837.5M116.5 920.6L52.8 841.8M107.5 927.1L44.6 846.2M98.1 933.7L36.1 850.7M88.5 940.5L27.5 855.4M78.6 947.4L18.6 860.1M188.3 869.9L78.6 947.4M181 863.2L72.1 938M174 856.7L65.9 928.8M167.1 850.3L59.9 920.1M160.5 844.2L54 911.6M154.1 838.3L48.4 903.5M147.9 832.5L43 895.6M141.9 827L37.8 888M136 821.6L32.8 880.7M130.3 816.3L27.9 873.6M124.8 811.2L23.2 866.7M119.4 806.2L18.6 860.1" stroke="#d47aa8" stroke-width="0.6" fill="none" opacity="0.55" clip-path="url(#pk4)"/><path d="M73.7 808.3v-10M84.3 813.7v-10M99 815.5v-10M112.3 817.1v-10M125.7 818.2v-10M136.3 819.8v-10M140.3 823v-10M143 831v-10M145.7 844.3v-10M147 857.7v-10M147 871v-10M144.3 884.3v-10M140.3 896.3v-10M133.7 904.3v-10M125.7 909.7v-10M117.7 913.7v-10M109.7 916.3v-10M99 915v-10M88.3 911v-10M80.3 904.3v-10M75 896.3v-10M71 889v-10M69.7 881v-10M68.3 872.3v-10M65.7 864.3v-10M63 856.3v-10M59 851v-10M53.7 845.7v-10M51 837.7v-10M52.3 827v-10M55 819v-10M60.3 817.7v-10M67 823v-10M70 815v-10M73.7 808.3v-10M84.3 817.7v-10M92 821v-10M101.7 825.7v-10M112.3 827v-10M123 828.3v-10M127 832.3v-10M128.3 841.7v-10M129.7 852.3v-10M131 864.3v-10M129.5 875v-10M127 884.3v-10M123 891v-10M115 891v-10M107 888.3v-10M101.7 892.3v-10M99 897.7v-10M97 889v-10M96.3 881v-10M93 869v-10M89.7 859v-10M85 852v-10M79 845.7v-10M74 839v-10M68.3 829.7v-10M76.3 835v-10M79 825.7v-10M84.3 817.7v-10M96.3 881v-10M92 876v-10M87 875v-10M75 872.3v-10M61.7 869.7v-10M49.7 871v-10M44.3 879v-10M41.7 887v-10M40.3 892.3v-10M51 896.3v-10M64.3 899v-10M77.7 900.3v-10M91 900.3v-10M95 895v-10M96.3 887v-10" stroke="#3a3a3a" stroke-width="0.9" opacity="0.6" fill="none"/><path d="M73.7 809.3 L84.3 814.7 L99 816.5 L112.3 818.1 L125.7 819.2 L136.3 820.8 L140.3 824 L143 832 L145.7 845.3 L147 858.7 L147 872 L144.3 885.3 L140.3 897.3 L133.7 905.3 L125.7 910.7 L117.7 914.7 L109.7 917.3 L99 916 L88.3 912 L80.3 905.3 L75 897.3 L71 890 L69.7 882 L68.3 873.3 L65.7 865.3 L63 857.3 L59 852 L53.7 846.7 L51 838.7 L52.3 828 L55 820 L60.3 818.7 L67 824 L70 816 L73.7 809.3" fill="none" stroke="#2e2614" stroke-width="5.0" stroke-linejoin="round" stroke-linecap="round" opacity="0.85"/><path d="M73.7 809.3 L84.3 814.7 L99 816.5 L112.3 818.1 L125.7 819.2 L136.3 820.8 L140.3 824 L143 832 L145.7 845.3 L147 858.7 L147 872 L144.3 885.3 L140.3 897.3 L133.7 905.3 L125.7 910.7 L117.7 914.7 L109.7 917.3 L99 916 L88.3 912 L80.3 905.3 L75 897.3 L71 890 L69.7 882 L68.3 873.3 L65.7 865.3 L63 857.3 L59 852 L53.7 846.7 L51 838.7 L52.3 828 L55 820 L60.3 818.7 L67 824 L70 816 L73.7 809.3" fill="none" stroke="#c08a30" stroke-width="3.6" stroke-linejoin="round" stroke-linecap="round"/><path d="M75.1 810L82.9 814M85.9 814.9L97.4 816.3M100.6 816.7L110.7 817.9M113.9 818.2L124.1 819.1M127.3 819.4L134.7 820.6M137.5 821.8L139.1 823M140.8 825.5L142.5 830.5M143.3 833.6L145.4 843.7M145.9 846.9L146.8 857.1M147 860.3L147 870.4M146.7 873.6L144.6 883.7M143.8 886.8L140.8 895.8M139.3 898.5L134.7 904.1M132.4 906.2L127 909.8M124.3 911.4L119.1 914M116.2 915.2L111.2 916.8M108.1 917.1L100.6 916.2M97.5 915.4L89.8 912.6M87.1 911L81.5 906.3M79.4 904L75.9 898.6M74.2 895.9L71.8 891.4M70.7 888.4L70 883.6M69.4 880.4L68.6 874.9M67.8 871.8L66.2 866.8M65.2 863.8L63.5 858.8M62 856L60 853.3M57.9 850.9L54.8 847.8M53.2 845.2L51.5 840.2M51.2 837.1L52.1 829.6M52.8 826.5L54.5 821.5M56.6 819.6L58.7 819.1M61.6 819.7L65.7 823M67.6 822.5L69.4 817.5M70.8 814.6L72.9 810.7" fill="none" stroke="#eed490" stroke-width="2.5" stroke-linecap="round"/><path d="M84.3 818.7 L92 822 L101.7 826.7 L112.3 828 L123 829.3 L127 833.3 L128.3 842.7 L129.7 853.3 L131 865.3 L129.5 876 L127 885.3 L123 892 L115 892 L107 889.3 L101.7 893.3 L99 898.7 L97 890 L96.3 882 L93 870 L89.7 860 L85 853 L79 846.7 L74 840 L68.3 830.7 L76.3 836 L79 826.7 L84.3 818.7" fill="none" stroke="#2a1030" stroke-width="5.0" stroke-linejoin="round" stroke-linecap="round" opacity="0.85"/><path d="M84.3 818.7 L92 822 L101.7 826.7 L112.3 828 L123 829.3 L127 833.3 L128.3 842.7 L129.7 853.3 L131 865.3 L129.5 876 L127 885.3 L123 892 L115 892 L107 889.3 L101.7 893.3 L99 898.7 L97 890 L96.3 882 L93 870 L89.7 860 L85 853 L79 846.7 L74 840 L68.3 830.7 L76.3 836 L79 826.7 L84.3 818.7" fill="none" stroke="#8e2a8c" stroke-width="3.6" stroke-linejoin="round" stroke-linecap="round"/><path d="M85.8 819.3L90.5 821.4M93.4 822.7L100.3 826M103.3 826.9L110.7 827.8M113.9 828.2L121.4 829.1M124.1 830.4L125.9 832.2M127.2 834.9L128.1 841.1M128.5 844.3L129.5 851.7M129.9 854.9L130.8 863.7M130.8 866.9L129.7 874.4M129.1 877.5L127.4 883.8M126.2 886.7L123.8 890.6M121.4 892L116.6 892M113.5 891.5L108.5 889.8M105.7 890.3L103 892.3M101 894.7L99.7 897.3M98.6 897.1L97.4 891.6M96.9 888.4L96.4 883.6M95.9 880.5L93.4 871.5M92.5 868.5L90.2 861.5M88.8 858.7L85.9 854.3M83.9 851.8L80.1 847.9M78 845.4L75 841.3M73.2 838.6L69.1 832.1M69.6 831.6L75 835.1M76.7 834.5L78.6 828.2M79.9 825.4L83.4 820" fill="none" stroke="#c486cc" stroke-width="2.5" stroke-linecap="round"/><path d="M96.3 882 L92 877 L87 876 L75 873.3 L61.7 870.7 L49.7 872 L44.3 880 L41.7 888 L40.3 893.3 L51 897.3 L64.3 900 L77.7 901.3 L91 901.3 L95 896 L96.3 888" fill="none" stroke="#2a1030" stroke-width="5.0" stroke-linejoin="round" stroke-linecap="round" opacity="0.85"/><path d="M96.3 882 L92 877 L87 876 L75 873.3 L61.7 870.7 L49.7 872 L44.3 880 L41.7 888 L40.3 893.3 L51 897.3 L64.3 900 L77.7 901.3 L91 901.3 L95 896 L96.3 888" fill="none" stroke="#8e2a8c" stroke-width="3.6" stroke-linejoin="round" stroke-linecap="round"/><path d="M95.3 880.8L93 878.2M90.4 876.7L88.6 876.3M85.4 875.6L76.6 873.7M73.4 873L63.3 871M60.1 870.9L51.3 871.8M48.8 873.3L45.2 878.7M43.8 881.5L42.2 886.5M41.3 889.5L40.7 891.8M41.8 893.9L49.5 896.7M52.6 897.6L62.7 899.7M65.9 900.2L76.1 901.1M79.3 901.3L89.4 901.3M92 900L94 897.3M95.3 894.4L96 889.6" fill="none" stroke="#c486cc" stroke-width="2.5" stroke-linecap="round"/></svg></body></html>
